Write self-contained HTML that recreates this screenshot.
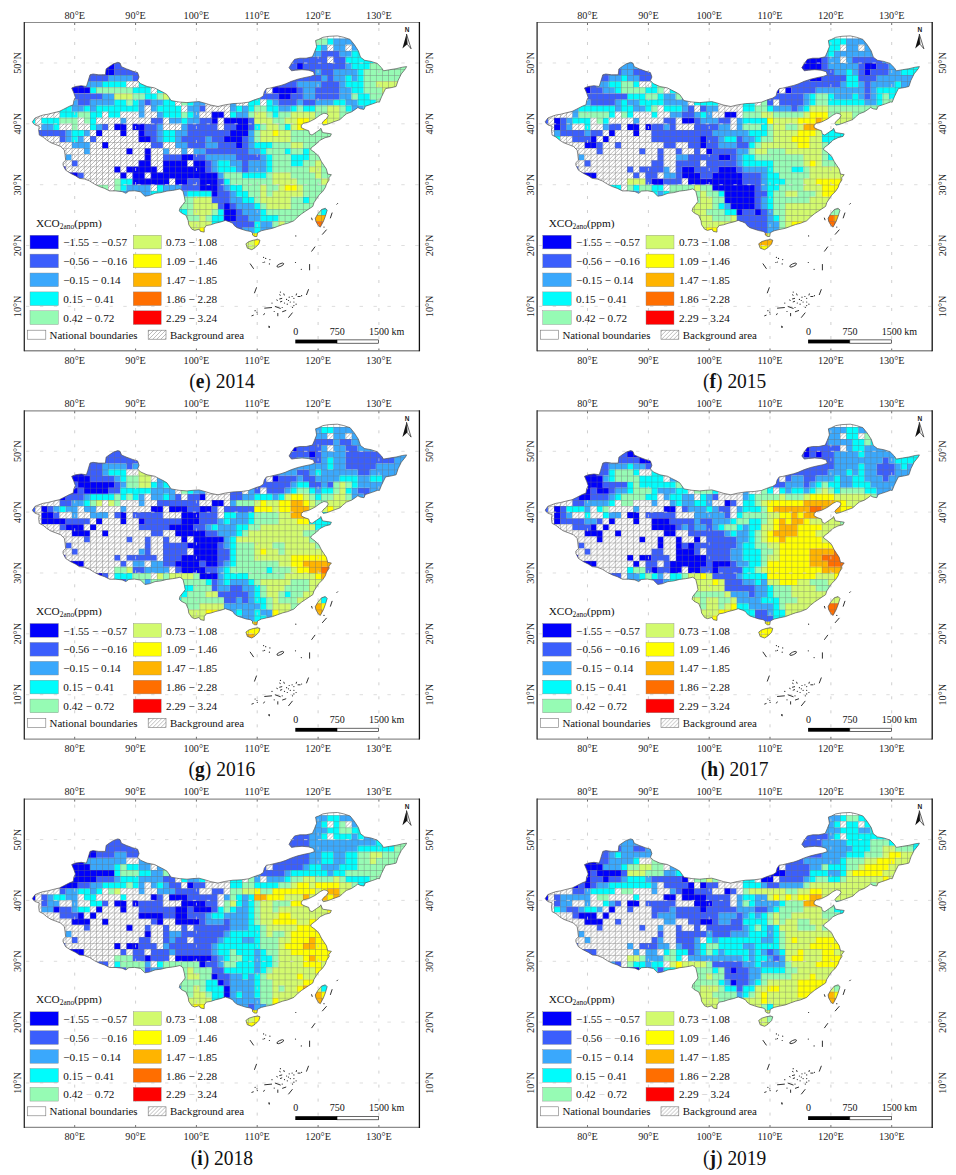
<!DOCTYPE html><html><head><meta charset="utf-8"><style>html,body{margin:0;padding:0;background:#fff;}svg{display:block}</style></head><body>
<svg width="956" height="1175" viewBox="0 0 956 1175">
<defs>
<clipPath id="cl"><polygon points="32.4,121.8 35.1,118.0 38.8,116.5 43.2,115.0 47.6,114.3 53.4,112.8 59.3,111.4 63.7,109.2 69.5,106.2 73.2,104.8 73.9,100.4 75.4,97.5 73.9,93.1 71.7,88.0 75.4,86.5 81.2,85.7 86.4,86.5 87.8,82.1 90.0,74.8 93.0,74.0 98.8,74.8 105.4,74.8 106.1,68.9 109.1,66.7 113.5,63.8 117.8,62.3 120.0,63.0 121.5,66.7 126.6,68.9 132.5,71.1 137.6,72.6 139.1,77.0 137.6,80.6 140.5,83.6 147.1,86.5 154.5,87.9 158.8,90.1 163.2,92.3 166.9,94.5 170.0,98.9 171.1,100.6 179.1,102.0 187.0,102.6 193.0,102.0 199.0,101.6 204.9,103.2 210.9,105.1 218.0,106.5 224.6,104.9 232.9,103.6 241.3,103.2 248.6,102.2 253.8,100.1 260.1,98.0 263.3,95.9 264.3,91.7 266.4,88.6 269.5,88.2 274.8,86.9 281.0,85.4 285.2,84.0 291.5,81.3 297.8,79.2 304.0,77.7 310.3,76.4 314.5,75.0 313.5,71.8 308.2,70.2 302.0,69.7 295.7,70.2 291.5,70.8 289.0,67.7 291.5,63.5 294.6,59.3 299.9,58.2 306.1,58.2 312.4,56.8 314.5,52.0 316.6,46.7 315.6,40.5 318.7,39.4 322.9,37.3 329.2,36.3 337.5,35.9 343.8,37.3 350.1,39.4 354.3,44.6 358.4,50.9 360.5,57.2 364.7,60.3 371.0,61.4 377.3,63.5 381.5,67.7 383.5,70.8 389.8,69.7 396.1,68.7 402.4,67.2 406.6,66.6 405.5,68.7 401.3,73.9 398.2,80.2 396.1,86.5 391.9,87.5 385.6,88.6 383.5,92.8 381.5,96.9 379.4,102.2 377.9,101.9 372.8,103.8 365.3,106.3 364.0,109.4 360.3,108.8 357.8,107.5 355.3,109.4 351.5,111.9 346.5,113.8 342.7,116.9 340.2,119.5 335.2,121.3 330.2,123.2 326.4,124.5 323.3,125.1 322.0,123.2 323.9,120.7 326.4,118.8 328.3,115.7 327.0,113.8 323.9,113.2 320.1,115.1 315.1,118.8 308.8,122.0 303.8,123.2 301.3,125.1 301.3,127.6 305.1,129.5 308.8,130.8 309.5,133.9 312.0,135.1 316.4,132.0 320.1,129.5 320.8,128.2 322.6,132.6 327.6,133.3 331.4,133.9 330.2,136.4 325.1,137.7 320.1,140.2 316.4,143.9 311.3,147.7 310.7,149.6 315.1,152.7 318.9,156.5 321.4,161.5 323.9,165.3 326.4,169.0 327.7,174.1 331.4,174.7 328.9,177.8 329.1,180.0 326.6,183.8 325.3,187.5 322.8,191.3 319.0,195.1 316.5,198.8 314.0,202.6 312.8,206.4 309.0,208.9 305.2,211.4 301.5,213.9 297.7,217.0 293.9,220.8 287.7,223.3 282.6,224.6 277.6,226.4 272.6,228.3 266.3,229.6 261.3,230.8 257.5,232.7 256.9,236.5 254.7,236.5 252.5,235.0 252.5,232.8 250.3,231.4 245.9,230.6 241.5,229.2 237.1,227.7 234.2,225.5 232.8,223.3 229.8,221.9 225.4,220.4 221.0,221.9 215.2,223.3 210.8,224.8 206.4,225.5 204.2,228.4 204.2,232.1 200.5,231.4 199.1,229.2 194.7,230.4 191.8,229.2 188.8,224.8 188.1,220.4 185.9,215.3 181.5,213.1 179.3,210.9 180.0,208.0 183.0,204.3 185.2,201.4 184.4,197.0 183.0,191.1 180.0,188.9 177.1,189.6 172.7,190.4 166.9,191.1 161.0,192.6 155.1,193.3 149.3,195.5 144.9,196.2 140.5,191.8 134.6,190.8 128.8,191.1 125.9,193.3 122.1,191.6 115.9,190.9 109.6,190.9 104.6,188.4 99.5,186.6 94.5,184.1 89.5,180.9 84.5,179.0 79.5,178.4 75.7,175.9 70.7,173.4 65.7,170.2 64.4,167.7 63.1,165.2 63.1,162.7 65.7,160.2 65.0,154.6 64.4,150.2 60.6,146.4 55.6,144.5 50.6,142.6 46.8,140.1 43.1,137.0 39.3,135.1 38.7,130.1 39.3,126.3 35.5,125.1 33.6,123.8"/><polygon points="245.9,243.8 248.9,241.6 253.3,240.2 257.6,239.4 260.0,240.2 258.8,244.0 255.0,247.8 251.8,249.7 247.4,248.2"/><polygon points="325.3,208.2 327.2,210.1 325.3,216.4 323.4,221.4 320.3,227.1 318.4,225.8 315.9,221.4 315.3,218.3 317.8,213.9 321.5,209.5"/></clipPath>
<pattern id="cg" patternUnits="userSpaceOnUse" x="29.06" y="38.61" width="6.085" height="6.085"><path d="M0 0H6.085M0 0V6.085" stroke="#6e6e6e" stroke-opacity="0.75" stroke-width="0.9" fill="none"/></pattern>
<pattern id="hatch" patternUnits="userSpaceOnUse" width="4" height="4"><rect width="4" height="4" fill="#fff"/><path d="M-1 1L1 -1M0 4L4 0M3 5L5 3" stroke="#7a7a7a" stroke-width="0.5"/></pattern>
</defs>
<rect width="956" height="1175" fill="#fff"/>
<g transform="translate(0.0,0.0)">
<g clip-path="url(#cl)">
<path d="M296.80 38.61h6.08v6.08h-6.08zM302.89 38.61h6.08v6.08h-6.08zM333.31 38.61h6.08v6.08h-6.08zM339.40 38.61h6.08v6.08h-6.08zM345.48 38.61h6.08v6.08h-6.08zM351.57 38.61h6.08v6.08h-6.08zM357.65 38.61h6.08v6.08h-6.08zM302.89 44.70h6.08v6.08h-6.08zM308.97 44.70h6.08v6.08h-6.08zM321.14 44.70h6.08v6.08h-6.08zM333.31 44.70h6.08v6.08h-6.08zM339.40 44.70h6.08v6.08h-6.08zM351.57 44.70h6.08v6.08h-6.08zM308.97 50.78h6.08v6.08h-6.08zM315.06 50.78h6.08v6.08h-6.08zM339.40 50.78h6.08v6.08h-6.08zM345.48 50.78h6.08v6.08h-6.08zM345.48 62.95h6.08v6.08h-6.08zM315.06 69.03h6.08v6.08h-6.08zM333.31 69.03h6.08v6.08h-6.08zM339.40 69.03h6.08v6.08h-6.08zM345.48 69.03h6.08v6.08h-6.08zM351.57 69.03h6.08v6.08h-6.08zM108.17 75.12h6.08v6.08h-6.08zM114.25 75.12h6.08v6.08h-6.08zM120.34 75.12h6.08v6.08h-6.08zM126.42 75.12h6.08v6.08h-6.08zM321.14 75.12h6.08v6.08h-6.08zM333.31 75.12h6.08v6.08h-6.08zM339.40 75.12h6.08v6.08h-6.08zM351.57 75.12h6.08v6.08h-6.08zM83.83 81.20h6.08v6.08h-6.08zM89.91 81.20h6.08v6.08h-6.08zM96.00 81.20h6.08v6.08h-6.08zM296.80 81.20h6.08v6.08h-6.08zM302.89 81.20h6.08v6.08h-6.08zM308.97 81.20h6.08v6.08h-6.08zM315.06 81.20h6.08v6.08h-6.08zM339.40 81.20h6.08v6.08h-6.08zM193.36 87.29h6.08v6.08h-6.08zM199.44 87.29h6.08v6.08h-6.08zM205.53 87.29h6.08v6.08h-6.08zM211.61 87.29h6.08v6.08h-6.08zM302.89 87.29h6.08v6.08h-6.08zM308.97 87.29h6.08v6.08h-6.08zM339.40 87.29h6.08v6.08h-6.08zM345.48 87.29h6.08v6.08h-6.08zM102.08 93.38h6.08v6.08h-6.08zM108.17 93.38h6.08v6.08h-6.08zM193.36 93.38h6.08v6.08h-6.08zM199.44 93.38h6.08v6.08h-6.08zM205.53 93.38h6.08v6.08h-6.08zM302.89 93.38h6.08v6.08h-6.08zM308.97 93.38h6.08v6.08h-6.08zM339.40 93.38h6.08v6.08h-6.08zM345.48 93.38h6.08v6.08h-6.08zM65.57 99.46h6.08v6.08h-6.08zM71.66 99.46h6.08v6.08h-6.08zM89.91 99.46h6.08v6.08h-6.08zM96.00 99.46h6.08v6.08h-6.08zM102.08 99.46h6.08v6.08h-6.08zM108.17 99.46h6.08v6.08h-6.08zM138.59 99.46h6.08v6.08h-6.08zM150.76 99.46h6.08v6.08h-6.08zM156.85 99.46h6.08v6.08h-6.08zM193.36 99.46h6.08v6.08h-6.08zM199.44 99.46h6.08v6.08h-6.08zM229.87 99.46h6.08v6.08h-6.08zM272.46 99.46h6.08v6.08h-6.08zM296.80 99.46h6.08v6.08h-6.08zM315.06 99.46h6.08v6.08h-6.08zM321.14 99.46h6.08v6.08h-6.08zM327.23 99.46h6.08v6.08h-6.08zM345.48 99.46h6.08v6.08h-6.08zM351.57 99.46h6.08v6.08h-6.08zM71.66 105.55h6.08v6.08h-6.08zM77.74 105.55h6.08v6.08h-6.08zM89.91 105.55h6.08v6.08h-6.08zM138.59 105.55h6.08v6.08h-6.08zM150.76 105.55h6.08v6.08h-6.08zM187.27 105.55h6.08v6.08h-6.08zM193.36 105.55h6.08v6.08h-6.08zM229.87 105.55h6.08v6.08h-6.08zM242.04 105.55h6.08v6.08h-6.08zM278.55 105.55h6.08v6.08h-6.08zM284.63 105.55h6.08v6.08h-6.08zM351.57 105.55h6.08v6.08h-6.08zM357.65 105.55h6.08v6.08h-6.08zM138.59 111.63h6.08v6.08h-6.08zM156.85 111.63h6.08v6.08h-6.08zM193.36 111.63h6.08v6.08h-6.08zM235.95 111.63h6.08v6.08h-6.08zM242.04 111.63h6.08v6.08h-6.08zM351.57 111.63h6.08v6.08h-6.08zM357.65 111.63h6.08v6.08h-6.08zM363.74 111.63h6.08v6.08h-6.08zM120.34 117.72h6.08v6.08h-6.08zM169.02 117.72h6.08v6.08h-6.08zM175.10 117.72h6.08v6.08h-6.08zM187.27 117.72h6.08v6.08h-6.08zM193.36 117.72h6.08v6.08h-6.08zM357.65 117.72h6.08v6.08h-6.08zM363.74 117.72h6.08v6.08h-6.08zM369.82 117.72h6.08v6.08h-6.08zM41.23 123.80h6.08v6.08h-6.08zM47.32 123.80h6.08v6.08h-6.08zM96.00 123.80h6.08v6.08h-6.08zM156.85 123.80h6.08v6.08h-6.08zM181.19 123.80h6.08v6.08h-6.08zM65.57 129.88h6.08v6.08h-6.08zM83.83 129.88h6.08v6.08h-6.08zM156.85 129.88h6.08v6.08h-6.08zM175.10 129.88h6.08v6.08h-6.08zM181.19 129.88h6.08v6.08h-6.08zM248.12 129.88h6.08v6.08h-6.08zM65.57 135.97h6.08v6.08h-6.08zM77.74 135.97h6.08v6.08h-6.08zM156.85 135.97h6.08v6.08h-6.08zM175.10 135.97h6.08v6.08h-6.08zM205.53 135.97h6.08v6.08h-6.08zM248.12 135.97h6.08v6.08h-6.08zM71.66 142.06h6.08v6.08h-6.08zM77.74 142.06h6.08v6.08h-6.08zM83.83 142.06h6.08v6.08h-6.08zM175.10 142.06h6.08v6.08h-6.08zM181.19 142.06h6.08v6.08h-6.08zM205.53 142.06h6.08v6.08h-6.08zM211.61 142.06h6.08v6.08h-6.08zM248.12 142.06h6.08v6.08h-6.08zM83.83 148.14h6.08v6.08h-6.08zM162.93 148.14h6.08v6.08h-6.08zM181.19 148.14h6.08v6.08h-6.08zM193.36 148.14h6.08v6.08h-6.08zM199.44 148.14h6.08v6.08h-6.08zM248.12 148.14h6.08v6.08h-6.08zM254.21 148.14h6.08v6.08h-6.08zM65.57 154.23h6.08v6.08h-6.08zM205.53 154.23h6.08v6.08h-6.08zM211.61 154.23h6.08v6.08h-6.08zM217.70 154.23h6.08v6.08h-6.08zM223.78 154.23h6.08v6.08h-6.08zM229.87 154.23h6.08v6.08h-6.08zM260.29 154.23h6.08v6.08h-6.08zM211.61 160.31h6.08v6.08h-6.08zM229.87 160.31h6.08v6.08h-6.08zM235.95 160.31h6.08v6.08h-6.08zM248.12 160.31h6.08v6.08h-6.08zM254.21 160.31h6.08v6.08h-6.08zM260.29 160.31h6.08v6.08h-6.08zM211.61 166.39h6.08v6.08h-6.08zM235.95 166.39h6.08v6.08h-6.08zM248.12 166.39h6.08v6.08h-6.08zM254.21 166.39h6.08v6.08h-6.08zM260.29 166.39h6.08v6.08h-6.08zM217.70 172.48h6.08v6.08h-6.08zM126.42 184.65h6.08v6.08h-6.08zM132.51 184.65h6.08v6.08h-6.08zM138.59 184.65h6.08v6.08h-6.08zM144.68 184.65h6.08v6.08h-6.08zM162.93 184.65h6.08v6.08h-6.08zM169.02 184.65h6.08v6.08h-6.08zM175.10 184.65h6.08v6.08h-6.08zM223.78 184.65h6.08v6.08h-6.08zM114.25 190.74h6.08v6.08h-6.08zM120.34 190.74h6.08v6.08h-6.08zM126.42 190.74h6.08v6.08h-6.08zM132.51 190.74h6.08v6.08h-6.08zM138.59 190.74h6.08v6.08h-6.08zM144.68 190.74h6.08v6.08h-6.08zM162.93 190.74h6.08v6.08h-6.08zM169.02 190.74h6.08v6.08h-6.08zM175.10 190.74h6.08v6.08h-6.08zM181.19 190.74h6.08v6.08h-6.08zM229.87 190.74h6.08v6.08h-6.08zM108.17 196.82h6.08v6.08h-6.08zM114.25 196.82h6.08v6.08h-6.08zM120.34 196.82h6.08v6.08h-6.08zM126.42 196.82h6.08v6.08h-6.08zM132.51 196.82h6.08v6.08h-6.08zM138.59 196.82h6.08v6.08h-6.08zM144.68 196.82h6.08v6.08h-6.08zM229.87 196.82h6.08v6.08h-6.08zM235.95 196.82h6.08v6.08h-6.08zM108.17 202.91h6.08v6.08h-6.08zM114.25 202.91h6.08v6.08h-6.08zM120.34 202.91h6.08v6.08h-6.08zM126.42 202.91h6.08v6.08h-6.08zM132.51 202.91h6.08v6.08h-6.08zM138.59 202.91h6.08v6.08h-6.08zM144.68 202.91h6.08v6.08h-6.08zM235.95 202.91h6.08v6.08h-6.08zM242.04 202.91h6.08v6.08h-6.08zM248.12 202.91h6.08v6.08h-6.08zM242.04 208.99h6.08v6.08h-6.08zM248.12 208.99h6.08v6.08h-6.08zM254.21 208.99h6.08v6.08h-6.08zM248.12 215.07h6.08v6.08h-6.08zM254.21 215.07h6.08v6.08h-6.08zM260.29 221.16h6.08v6.08h-6.08zM266.38 221.16h6.08v6.08h-6.08zM242.04 227.25h6.08v6.08h-6.08zM248.12 227.25h6.08v6.08h-6.08zM260.29 227.25h6.08v6.08h-6.08zM266.38 227.25h6.08v6.08h-6.08zM272.46 227.25h6.08v6.08h-6.08zM235.95 233.33h6.08v6.08h-6.08zM242.04 233.33h6.08v6.08h-6.08zM266.38 233.33h6.08v6.08h-6.08zM272.46 233.33h6.08v6.08h-6.08zM278.55 233.33h6.08v6.08h-6.08zM229.87 239.42h6.08v6.08h-6.08zM278.55 239.42h6.08v6.08h-6.08z" fill="#3aa8fc"/>
<path d="M308.97 38.61h6.08v6.08h-6.08zM327.23 38.61h6.08v6.08h-6.08zM363.74 38.61h6.08v6.08h-6.08zM369.82 38.61h6.08v6.08h-6.08zM315.06 44.70h6.08v6.08h-6.08zM357.65 44.70h6.08v6.08h-6.08zM363.74 44.70h6.08v6.08h-6.08zM369.82 44.70h6.08v6.08h-6.08zM375.91 44.70h6.08v6.08h-6.08zM381.99 44.70h6.08v6.08h-6.08zM351.57 50.78h6.08v6.08h-6.08zM357.65 50.78h6.08v6.08h-6.08zM363.74 50.78h6.08v6.08h-6.08zM369.82 50.78h6.08v6.08h-6.08zM375.91 50.78h6.08v6.08h-6.08zM345.48 56.87h6.08v6.08h-6.08zM351.57 56.87h6.08v6.08h-6.08zM357.65 56.87h6.08v6.08h-6.08zM363.74 56.87h6.08v6.08h-6.08zM369.82 56.87h6.08v6.08h-6.08zM351.57 62.95h6.08v6.08h-6.08zM357.65 62.95h6.08v6.08h-6.08zM363.74 62.95h6.08v6.08h-6.08zM357.65 69.03h6.08v6.08h-6.08zM156.85 75.12h6.08v6.08h-6.08zM162.93 75.12h6.08v6.08h-6.08zM169.02 75.12h6.08v6.08h-6.08zM345.48 75.12h6.08v6.08h-6.08zM357.65 75.12h6.08v6.08h-6.08zM102.08 81.20h6.08v6.08h-6.08zM108.17 81.20h6.08v6.08h-6.08zM114.25 81.20h6.08v6.08h-6.08zM120.34 81.20h6.08v6.08h-6.08zM138.59 81.20h6.08v6.08h-6.08zM144.68 81.20h6.08v6.08h-6.08zM156.85 81.20h6.08v6.08h-6.08zM162.93 81.20h6.08v6.08h-6.08zM169.02 81.20h6.08v6.08h-6.08zM345.48 81.20h6.08v6.08h-6.08zM351.57 81.20h6.08v6.08h-6.08zM357.65 81.20h6.08v6.08h-6.08zM89.91 87.29h6.08v6.08h-6.08zM132.51 87.29h6.08v6.08h-6.08zM138.59 87.29h6.08v6.08h-6.08zM144.68 87.29h6.08v6.08h-6.08zM156.85 87.29h6.08v6.08h-6.08zM162.93 87.29h6.08v6.08h-6.08zM187.27 87.29h6.08v6.08h-6.08zM351.57 87.29h6.08v6.08h-6.08zM357.65 87.29h6.08v6.08h-6.08zM47.32 93.38h6.08v6.08h-6.08zM53.40 93.38h6.08v6.08h-6.08zM59.49 93.38h6.08v6.08h-6.08zM144.68 93.38h6.08v6.08h-6.08zM150.76 93.38h6.08v6.08h-6.08zM169.02 93.38h6.08v6.08h-6.08zM187.27 93.38h6.08v6.08h-6.08zM248.12 93.38h6.08v6.08h-6.08zM254.21 93.38h6.08v6.08h-6.08zM357.65 93.38h6.08v6.08h-6.08zM363.74 93.38h6.08v6.08h-6.08zM47.32 99.46h6.08v6.08h-6.08zM53.40 99.46h6.08v6.08h-6.08zM59.49 99.46h6.08v6.08h-6.08zM114.25 99.46h6.08v6.08h-6.08zM120.34 99.46h6.08v6.08h-6.08zM132.51 99.46h6.08v6.08h-6.08zM162.93 99.46h6.08v6.08h-6.08zM169.02 99.46h6.08v6.08h-6.08zM187.27 99.46h6.08v6.08h-6.08zM248.12 99.46h6.08v6.08h-6.08zM254.21 99.46h6.08v6.08h-6.08zM266.38 99.46h6.08v6.08h-6.08zM333.31 99.46h6.08v6.08h-6.08zM339.40 99.46h6.08v6.08h-6.08zM357.65 99.46h6.08v6.08h-6.08zM363.74 99.46h6.08v6.08h-6.08zM369.82 99.46h6.08v6.08h-6.08zM53.40 105.55h6.08v6.08h-6.08zM59.49 105.55h6.08v6.08h-6.08zM65.57 105.55h6.08v6.08h-6.08zM83.83 105.55h6.08v6.08h-6.08zM96.00 105.55h6.08v6.08h-6.08zM102.08 105.55h6.08v6.08h-6.08zM108.17 105.55h6.08v6.08h-6.08zM114.25 105.55h6.08v6.08h-6.08zM120.34 105.55h6.08v6.08h-6.08zM126.42 105.55h6.08v6.08h-6.08zM132.51 105.55h6.08v6.08h-6.08zM156.85 105.55h6.08v6.08h-6.08zM162.93 105.55h6.08v6.08h-6.08zM169.02 105.55h6.08v6.08h-6.08zM175.10 105.55h6.08v6.08h-6.08zM235.95 105.55h6.08v6.08h-6.08zM248.12 105.55h6.08v6.08h-6.08zM266.38 105.55h6.08v6.08h-6.08zM272.46 105.55h6.08v6.08h-6.08zM290.72 105.55h6.08v6.08h-6.08zM302.89 105.55h6.08v6.08h-6.08zM308.97 105.55h6.08v6.08h-6.08zM345.48 105.55h6.08v6.08h-6.08zM363.74 105.55h6.08v6.08h-6.08zM369.82 105.55h6.08v6.08h-6.08zM375.91 105.55h6.08v6.08h-6.08zM29.06 111.63h6.08v6.08h-6.08zM59.49 111.63h6.08v6.08h-6.08zM65.57 111.63h6.08v6.08h-6.08zM71.66 111.63h6.08v6.08h-6.08zM89.91 111.63h6.08v6.08h-6.08zM96.00 111.63h6.08v6.08h-6.08zM108.17 111.63h6.08v6.08h-6.08zM114.25 111.63h6.08v6.08h-6.08zM162.93 111.63h6.08v6.08h-6.08zM169.02 111.63h6.08v6.08h-6.08zM175.10 111.63h6.08v6.08h-6.08zM187.27 111.63h6.08v6.08h-6.08zM229.87 111.63h6.08v6.08h-6.08zM272.46 111.63h6.08v6.08h-6.08zM369.82 111.63h6.08v6.08h-6.08zM375.91 111.63h6.08v6.08h-6.08zM381.99 111.63h6.08v6.08h-6.08zM29.06 117.72h6.08v6.08h-6.08zM41.23 117.72h6.08v6.08h-6.08zM47.32 117.72h6.08v6.08h-6.08zM53.40 117.72h6.08v6.08h-6.08zM89.91 117.72h6.08v6.08h-6.08zM181.19 117.72h6.08v6.08h-6.08zM53.40 123.80h6.08v6.08h-6.08zM89.91 123.80h6.08v6.08h-6.08zM254.21 123.80h6.08v6.08h-6.08zM284.63 123.80h6.08v6.08h-6.08zM71.66 129.88h6.08v6.08h-6.08zM77.74 129.88h6.08v6.08h-6.08zM162.93 129.88h6.08v6.08h-6.08zM169.02 129.88h6.08v6.08h-6.08zM71.66 135.97h6.08v6.08h-6.08zM162.93 135.97h6.08v6.08h-6.08zM169.02 135.97h6.08v6.08h-6.08zM254.21 142.06h6.08v6.08h-6.08zM260.29 142.06h6.08v6.08h-6.08zM266.38 142.06h6.08v6.08h-6.08zM260.29 148.14h6.08v6.08h-6.08zM284.63 148.14h6.08v6.08h-6.08zM302.89 148.14h6.08v6.08h-6.08zM266.38 154.23h6.08v6.08h-6.08zM290.72 154.23h6.08v6.08h-6.08zM296.80 154.23h6.08v6.08h-6.08zM302.89 154.23h6.08v6.08h-6.08zM217.70 160.31h6.08v6.08h-6.08zM223.78 160.31h6.08v6.08h-6.08zM266.38 160.31h6.08v6.08h-6.08zM290.72 160.31h6.08v6.08h-6.08zM296.80 160.31h6.08v6.08h-6.08zM217.70 166.39h6.08v6.08h-6.08zM223.78 166.39h6.08v6.08h-6.08zM229.87 166.39h6.08v6.08h-6.08zM266.38 166.39h6.08v6.08h-6.08zM242.04 172.48h6.08v6.08h-6.08zM248.12 172.48h6.08v6.08h-6.08zM254.21 172.48h6.08v6.08h-6.08zM260.29 172.48h6.08v6.08h-6.08zM120.34 178.56h6.08v6.08h-6.08zM126.42 178.56h6.08v6.08h-6.08zM223.78 178.56h6.08v6.08h-6.08zM120.34 184.65h6.08v6.08h-6.08zM156.85 184.65h6.08v6.08h-6.08zM229.87 184.65h6.08v6.08h-6.08zM235.95 184.65h6.08v6.08h-6.08zM150.76 190.74h6.08v6.08h-6.08zM156.85 190.74h6.08v6.08h-6.08zM187.27 190.74h6.08v6.08h-6.08zM193.36 190.74h6.08v6.08h-6.08zM199.44 190.74h6.08v6.08h-6.08zM205.53 190.74h6.08v6.08h-6.08zM235.95 190.74h6.08v6.08h-6.08zM242.04 190.74h6.08v6.08h-6.08zM150.76 196.82h6.08v6.08h-6.08zM156.85 196.82h6.08v6.08h-6.08zM242.04 196.82h6.08v6.08h-6.08zM248.12 196.82h6.08v6.08h-6.08zM302.89 196.82h6.08v6.08h-6.08zM150.76 202.91h6.08v6.08h-6.08zM156.85 202.91h6.08v6.08h-6.08zM254.21 202.91h6.08v6.08h-6.08zM321.14 202.91h6.08v6.08h-6.08zM327.23 202.91h6.08v6.08h-6.08zM333.31 202.91h6.08v6.08h-6.08zM162.93 208.99h6.08v6.08h-6.08zM169.02 208.99h6.08v6.08h-6.08zM175.10 208.99h6.08v6.08h-6.08zM181.19 208.99h6.08v6.08h-6.08zM217.70 208.99h6.08v6.08h-6.08zM260.29 208.99h6.08v6.08h-6.08zM321.14 208.99h6.08v6.08h-6.08zM327.23 208.99h6.08v6.08h-6.08zM333.31 208.99h6.08v6.08h-6.08zM162.93 215.07h6.08v6.08h-6.08zM169.02 215.07h6.08v6.08h-6.08zM175.10 215.07h6.08v6.08h-6.08zM211.61 215.07h6.08v6.08h-6.08zM217.70 215.07h6.08v6.08h-6.08zM260.29 215.07h6.08v6.08h-6.08zM266.38 215.07h6.08v6.08h-6.08zM272.46 215.07h6.08v6.08h-6.08zM162.93 221.16h6.08v6.08h-6.08zM169.02 221.16h6.08v6.08h-6.08zM211.61 221.16h6.08v6.08h-6.08zM217.70 221.16h6.08v6.08h-6.08zM254.21 221.16h6.08v6.08h-6.08zM217.70 227.25h6.08v6.08h-6.08zM254.21 227.25h6.08v6.08h-6.08z" fill="#00fcfc"/>
<path d="M315.06 38.61h6.08v6.08h-6.08zM321.14 38.61h6.08v6.08h-6.08zM381.99 50.78h6.08v6.08h-6.08zM388.08 50.78h6.08v6.08h-6.08zM375.91 56.87h6.08v6.08h-6.08zM381.99 56.87h6.08v6.08h-6.08zM388.08 56.87h6.08v6.08h-6.08zM394.16 56.87h6.08v6.08h-6.08zM400.25 56.87h6.08v6.08h-6.08zM406.33 56.87h6.08v6.08h-6.08zM369.82 62.95h6.08v6.08h-6.08zM375.91 62.95h6.08v6.08h-6.08zM381.99 62.95h6.08v6.08h-6.08zM388.08 62.95h6.08v6.08h-6.08zM394.16 62.95h6.08v6.08h-6.08zM400.25 62.95h6.08v6.08h-6.08zM406.33 62.95h6.08v6.08h-6.08zM363.74 69.03h6.08v6.08h-6.08zM369.82 69.03h6.08v6.08h-6.08zM375.91 69.03h6.08v6.08h-6.08zM381.99 69.03h6.08v6.08h-6.08zM388.08 69.03h6.08v6.08h-6.08zM394.16 69.03h6.08v6.08h-6.08zM400.25 69.03h6.08v6.08h-6.08zM406.33 69.03h6.08v6.08h-6.08zM363.74 75.12h6.08v6.08h-6.08zM369.82 75.12h6.08v6.08h-6.08zM375.91 75.12h6.08v6.08h-6.08zM381.99 75.12h6.08v6.08h-6.08zM388.08 75.12h6.08v6.08h-6.08zM394.16 75.12h6.08v6.08h-6.08zM400.25 75.12h6.08v6.08h-6.08zM406.33 75.12h6.08v6.08h-6.08zM363.74 81.20h6.08v6.08h-6.08zM369.82 81.20h6.08v6.08h-6.08zM400.25 81.20h6.08v6.08h-6.08zM406.33 81.20h6.08v6.08h-6.08zM96.00 87.29h6.08v6.08h-6.08zM102.08 87.29h6.08v6.08h-6.08zM108.17 87.29h6.08v6.08h-6.08zM114.25 87.29h6.08v6.08h-6.08zM120.34 87.29h6.08v6.08h-6.08zM126.42 87.29h6.08v6.08h-6.08zM181.19 87.29h6.08v6.08h-6.08zM363.74 87.29h6.08v6.08h-6.08zM369.82 87.29h6.08v6.08h-6.08zM375.91 87.29h6.08v6.08h-6.08zM400.25 87.29h6.08v6.08h-6.08zM406.33 87.29h6.08v6.08h-6.08zM132.51 93.38h6.08v6.08h-6.08zM138.59 93.38h6.08v6.08h-6.08zM156.85 93.38h6.08v6.08h-6.08zM181.19 93.38h6.08v6.08h-6.08zM351.57 93.38h6.08v6.08h-6.08zM369.82 93.38h6.08v6.08h-6.08zM375.91 93.38h6.08v6.08h-6.08zM381.99 93.38h6.08v6.08h-6.08zM400.25 93.38h6.08v6.08h-6.08zM406.33 93.38h6.08v6.08h-6.08zM126.42 99.46h6.08v6.08h-6.08zM181.19 99.46h6.08v6.08h-6.08zM375.91 99.46h6.08v6.08h-6.08zM381.99 99.46h6.08v6.08h-6.08zM388.08 99.46h6.08v6.08h-6.08zM254.21 105.55h6.08v6.08h-6.08zM260.29 105.55h6.08v6.08h-6.08zM296.80 105.55h6.08v6.08h-6.08zM315.06 105.55h6.08v6.08h-6.08zM321.14 105.55h6.08v6.08h-6.08zM339.40 105.55h6.08v6.08h-6.08zM381.99 105.55h6.08v6.08h-6.08zM388.08 105.55h6.08v6.08h-6.08zM77.74 111.63h6.08v6.08h-6.08zM83.83 111.63h6.08v6.08h-6.08zM181.19 111.63h6.08v6.08h-6.08zM248.12 111.63h6.08v6.08h-6.08zM266.38 111.63h6.08v6.08h-6.08zM278.55 111.63h6.08v6.08h-6.08zM284.63 111.63h6.08v6.08h-6.08zM315.06 111.63h6.08v6.08h-6.08zM321.14 111.63h6.08v6.08h-6.08zM339.40 111.63h6.08v6.08h-6.08zM345.48 111.63h6.08v6.08h-6.08zM59.49 117.72h6.08v6.08h-6.08zM65.57 117.72h6.08v6.08h-6.08zM71.66 117.72h6.08v6.08h-6.08zM83.83 117.72h6.08v6.08h-6.08zM272.46 117.72h6.08v6.08h-6.08zM278.55 117.72h6.08v6.08h-6.08zM339.40 117.72h6.08v6.08h-6.08zM345.48 117.72h6.08v6.08h-6.08zM351.57 117.72h6.08v6.08h-6.08zM71.66 123.80h6.08v6.08h-6.08zM260.29 123.80h6.08v6.08h-6.08zM278.55 123.80h6.08v6.08h-6.08zM308.97 123.80h6.08v6.08h-6.08zM315.06 123.80h6.08v6.08h-6.08zM321.14 123.80h6.08v6.08h-6.08zM327.23 123.80h6.08v6.08h-6.08zM333.31 123.80h6.08v6.08h-6.08zM339.40 123.80h6.08v6.08h-6.08zM345.48 123.80h6.08v6.08h-6.08zM351.57 123.80h6.08v6.08h-6.08zM254.21 129.88h6.08v6.08h-6.08zM290.72 129.88h6.08v6.08h-6.08zM296.80 129.88h6.08v6.08h-6.08zM302.89 129.88h6.08v6.08h-6.08zM308.97 129.88h6.08v6.08h-6.08zM315.06 129.88h6.08v6.08h-6.08zM321.14 129.88h6.08v6.08h-6.08zM327.23 129.88h6.08v6.08h-6.08zM333.31 129.88h6.08v6.08h-6.08zM339.40 129.88h6.08v6.08h-6.08zM254.21 135.97h6.08v6.08h-6.08zM290.72 135.97h6.08v6.08h-6.08zM296.80 135.97h6.08v6.08h-6.08zM302.89 135.97h6.08v6.08h-6.08zM308.97 135.97h6.08v6.08h-6.08zM315.06 135.97h6.08v6.08h-6.08zM321.14 135.97h6.08v6.08h-6.08zM327.23 135.97h6.08v6.08h-6.08zM333.31 135.97h6.08v6.08h-6.08zM339.40 135.97h6.08v6.08h-6.08zM272.46 142.06h6.08v6.08h-6.08zM278.55 142.06h6.08v6.08h-6.08zM284.63 142.06h6.08v6.08h-6.08zM302.89 142.06h6.08v6.08h-6.08zM308.97 142.06h6.08v6.08h-6.08zM315.06 142.06h6.08v6.08h-6.08zM321.14 142.06h6.08v6.08h-6.08zM327.23 142.06h6.08v6.08h-6.08zM333.31 142.06h6.08v6.08h-6.08zM339.40 142.06h6.08v6.08h-6.08zM266.38 148.14h6.08v6.08h-6.08zM272.46 148.14h6.08v6.08h-6.08zM278.55 148.14h6.08v6.08h-6.08zM290.72 148.14h6.08v6.08h-6.08zM296.80 148.14h6.08v6.08h-6.08zM308.97 148.14h6.08v6.08h-6.08zM315.06 148.14h6.08v6.08h-6.08zM321.14 148.14h6.08v6.08h-6.08zM327.23 148.14h6.08v6.08h-6.08zM333.31 148.14h6.08v6.08h-6.08zM272.46 154.23h6.08v6.08h-6.08zM278.55 154.23h6.08v6.08h-6.08zM284.63 154.23h6.08v6.08h-6.08zM308.97 154.23h6.08v6.08h-6.08zM315.06 154.23h6.08v6.08h-6.08zM321.14 154.23h6.08v6.08h-6.08zM327.23 154.23h6.08v6.08h-6.08zM333.31 154.23h6.08v6.08h-6.08zM272.46 160.31h6.08v6.08h-6.08zM278.55 160.31h6.08v6.08h-6.08zM284.63 160.31h6.08v6.08h-6.08zM302.89 160.31h6.08v6.08h-6.08zM308.97 160.31h6.08v6.08h-6.08zM321.14 160.31h6.08v6.08h-6.08zM327.23 160.31h6.08v6.08h-6.08zM333.31 160.31h6.08v6.08h-6.08zM272.46 166.39h6.08v6.08h-6.08zM278.55 166.39h6.08v6.08h-6.08zM284.63 166.39h6.08v6.08h-6.08zM290.72 166.39h6.08v6.08h-6.08zM296.80 166.39h6.08v6.08h-6.08zM302.89 166.39h6.08v6.08h-6.08zM321.14 166.39h6.08v6.08h-6.08zM327.23 166.39h6.08v6.08h-6.08zM333.31 166.39h6.08v6.08h-6.08zM223.78 172.48h6.08v6.08h-6.08zM229.87 172.48h6.08v6.08h-6.08zM235.95 172.48h6.08v6.08h-6.08zM266.38 172.48h6.08v6.08h-6.08zM290.72 172.48h6.08v6.08h-6.08zM296.80 172.48h6.08v6.08h-6.08zM302.89 172.48h6.08v6.08h-6.08zM308.97 172.48h6.08v6.08h-6.08zM321.14 172.48h6.08v6.08h-6.08zM327.23 172.48h6.08v6.08h-6.08zM333.31 172.48h6.08v6.08h-6.08zM114.25 178.56h6.08v6.08h-6.08zM229.87 178.56h6.08v6.08h-6.08zM235.95 178.56h6.08v6.08h-6.08zM242.04 178.56h6.08v6.08h-6.08zM248.12 178.56h6.08v6.08h-6.08zM254.21 178.56h6.08v6.08h-6.08zM260.29 178.56h6.08v6.08h-6.08zM266.38 178.56h6.08v6.08h-6.08zM296.80 178.56h6.08v6.08h-6.08zM302.89 178.56h6.08v6.08h-6.08zM308.97 178.56h6.08v6.08h-6.08zM315.06 178.56h6.08v6.08h-6.08zM96.00 184.65h6.08v6.08h-6.08zM102.08 184.65h6.08v6.08h-6.08zM114.25 184.65h6.08v6.08h-6.08zM242.04 184.65h6.08v6.08h-6.08zM248.12 184.65h6.08v6.08h-6.08zM254.21 184.65h6.08v6.08h-6.08zM266.38 184.65h6.08v6.08h-6.08zM272.46 184.65h6.08v6.08h-6.08zM302.89 184.65h6.08v6.08h-6.08zM308.97 184.65h6.08v6.08h-6.08zM315.06 184.65h6.08v6.08h-6.08zM321.14 184.65h6.08v6.08h-6.08zM327.23 184.65h6.08v6.08h-6.08zM333.31 184.65h6.08v6.08h-6.08zM89.91 190.74h6.08v6.08h-6.08zM96.00 190.74h6.08v6.08h-6.08zM102.08 190.74h6.08v6.08h-6.08zM248.12 190.74h6.08v6.08h-6.08zM254.21 190.74h6.08v6.08h-6.08zM266.38 190.74h6.08v6.08h-6.08zM302.89 190.74h6.08v6.08h-6.08zM308.97 190.74h6.08v6.08h-6.08zM315.06 190.74h6.08v6.08h-6.08zM321.14 190.74h6.08v6.08h-6.08zM327.23 190.74h6.08v6.08h-6.08zM333.31 190.74h6.08v6.08h-6.08zM83.83 196.82h6.08v6.08h-6.08zM89.91 196.82h6.08v6.08h-6.08zM96.00 196.82h6.08v6.08h-6.08zM102.08 196.82h6.08v6.08h-6.08zM162.93 196.82h6.08v6.08h-6.08zM169.02 196.82h6.08v6.08h-6.08zM175.10 196.82h6.08v6.08h-6.08zM181.19 196.82h6.08v6.08h-6.08zM187.27 196.82h6.08v6.08h-6.08zM254.21 196.82h6.08v6.08h-6.08zM290.72 196.82h6.08v6.08h-6.08zM296.80 196.82h6.08v6.08h-6.08zM308.97 196.82h6.08v6.08h-6.08zM315.06 196.82h6.08v6.08h-6.08zM321.14 196.82h6.08v6.08h-6.08zM327.23 196.82h6.08v6.08h-6.08zM333.31 196.82h6.08v6.08h-6.08zM162.93 202.91h6.08v6.08h-6.08zM169.02 202.91h6.08v6.08h-6.08zM175.10 202.91h6.08v6.08h-6.08zM181.19 202.91h6.08v6.08h-6.08zM187.27 202.91h6.08v6.08h-6.08zM260.29 202.91h6.08v6.08h-6.08zM290.72 202.91h6.08v6.08h-6.08zM296.80 202.91h6.08v6.08h-6.08zM302.89 202.91h6.08v6.08h-6.08zM308.97 202.91h6.08v6.08h-6.08zM315.06 202.91h6.08v6.08h-6.08zM187.27 208.99h6.08v6.08h-6.08zM211.61 208.99h6.08v6.08h-6.08zM266.38 208.99h6.08v6.08h-6.08zM272.46 208.99h6.08v6.08h-6.08zM278.55 208.99h6.08v6.08h-6.08zM284.63 208.99h6.08v6.08h-6.08zM290.72 208.99h6.08v6.08h-6.08zM296.80 208.99h6.08v6.08h-6.08zM302.89 208.99h6.08v6.08h-6.08zM308.97 208.99h6.08v6.08h-6.08zM315.06 208.99h6.08v6.08h-6.08zM181.19 215.07h6.08v6.08h-6.08zM187.27 215.07h6.08v6.08h-6.08zM193.36 215.07h6.08v6.08h-6.08zM205.53 215.07h6.08v6.08h-6.08zM278.55 215.07h6.08v6.08h-6.08zM284.63 215.07h6.08v6.08h-6.08zM290.72 215.07h6.08v6.08h-6.08zM296.80 215.07h6.08v6.08h-6.08zM302.89 215.07h6.08v6.08h-6.08zM272.46 221.16h6.08v6.08h-6.08zM284.63 221.16h6.08v6.08h-6.08zM290.72 221.16h6.08v6.08h-6.08zM296.80 221.16h6.08v6.08h-6.08zM302.89 221.16h6.08v6.08h-6.08zM284.63 227.25h6.08v6.08h-6.08zM290.72 227.25h6.08v6.08h-6.08zM296.80 227.25h6.08v6.08h-6.08zM284.63 233.33h6.08v6.08h-6.08zM290.72 233.33h6.08v6.08h-6.08zM296.80 233.33h6.08v6.08h-6.08z" fill="#96fbb4"/>
<path d="M278.55 44.70h6.08v6.08h-6.08zM284.63 44.70h6.08v6.08h-6.08zM290.72 44.70h6.08v6.08h-6.08zM296.80 44.70h6.08v6.08h-6.08zM114.25 50.78h6.08v6.08h-6.08zM120.34 50.78h6.08v6.08h-6.08zM126.42 50.78h6.08v6.08h-6.08zM272.46 50.78h6.08v6.08h-6.08zM278.55 50.78h6.08v6.08h-6.08zM284.63 50.78h6.08v6.08h-6.08zM290.72 50.78h6.08v6.08h-6.08zM296.80 50.78h6.08v6.08h-6.08zM302.89 50.78h6.08v6.08h-6.08zM321.14 50.78h6.08v6.08h-6.08zM327.23 50.78h6.08v6.08h-6.08zM333.31 50.78h6.08v6.08h-6.08zM114.25 56.87h6.08v6.08h-6.08zM120.34 56.87h6.08v6.08h-6.08zM126.42 56.87h6.08v6.08h-6.08zM132.51 56.87h6.08v6.08h-6.08zM138.59 56.87h6.08v6.08h-6.08zM272.46 56.87h6.08v6.08h-6.08zM278.55 56.87h6.08v6.08h-6.08zM284.63 56.87h6.08v6.08h-6.08zM290.72 56.87h6.08v6.08h-6.08zM296.80 56.87h6.08v6.08h-6.08zM302.89 56.87h6.08v6.08h-6.08zM308.97 56.87h6.08v6.08h-6.08zM315.06 56.87h6.08v6.08h-6.08zM321.14 56.87h6.08v6.08h-6.08zM333.31 56.87h6.08v6.08h-6.08zM339.40 56.87h6.08v6.08h-6.08zM71.66 62.95h6.08v6.08h-6.08zM77.74 62.95h6.08v6.08h-6.08zM83.83 62.95h6.08v6.08h-6.08zM89.91 62.95h6.08v6.08h-6.08zM114.25 62.95h6.08v6.08h-6.08zM120.34 62.95h6.08v6.08h-6.08zM126.42 62.95h6.08v6.08h-6.08zM132.51 62.95h6.08v6.08h-6.08zM138.59 62.95h6.08v6.08h-6.08zM144.68 62.95h6.08v6.08h-6.08zM272.46 62.95h6.08v6.08h-6.08zM278.55 62.95h6.08v6.08h-6.08zM284.63 62.95h6.08v6.08h-6.08zM290.72 62.95h6.08v6.08h-6.08zM302.89 62.95h6.08v6.08h-6.08zM308.97 62.95h6.08v6.08h-6.08zM315.06 62.95h6.08v6.08h-6.08zM321.14 62.95h6.08v6.08h-6.08zM327.23 62.95h6.08v6.08h-6.08zM333.31 62.95h6.08v6.08h-6.08zM339.40 62.95h6.08v6.08h-6.08zM71.66 69.03h6.08v6.08h-6.08zM77.74 69.03h6.08v6.08h-6.08zM83.83 69.03h6.08v6.08h-6.08zM89.91 69.03h6.08v6.08h-6.08zM96.00 69.03h6.08v6.08h-6.08zM114.25 69.03h6.08v6.08h-6.08zM120.34 69.03h6.08v6.08h-6.08zM126.42 69.03h6.08v6.08h-6.08zM132.51 69.03h6.08v6.08h-6.08zM138.59 69.03h6.08v6.08h-6.08zM144.68 69.03h6.08v6.08h-6.08zM266.38 69.03h6.08v6.08h-6.08zM272.46 69.03h6.08v6.08h-6.08zM278.55 69.03h6.08v6.08h-6.08zM284.63 69.03h6.08v6.08h-6.08zM290.72 69.03h6.08v6.08h-6.08zM296.80 69.03h6.08v6.08h-6.08zM302.89 69.03h6.08v6.08h-6.08zM308.97 69.03h6.08v6.08h-6.08zM321.14 69.03h6.08v6.08h-6.08zM327.23 69.03h6.08v6.08h-6.08zM77.74 75.12h6.08v6.08h-6.08zM83.83 75.12h6.08v6.08h-6.08zM89.91 75.12h6.08v6.08h-6.08zM96.00 75.12h6.08v6.08h-6.08zM102.08 75.12h6.08v6.08h-6.08zM132.51 75.12h6.08v6.08h-6.08zM138.59 75.12h6.08v6.08h-6.08zM144.68 75.12h6.08v6.08h-6.08zM248.12 75.12h6.08v6.08h-6.08zM254.21 75.12h6.08v6.08h-6.08zM260.29 75.12h6.08v6.08h-6.08zM266.38 75.12h6.08v6.08h-6.08zM272.46 75.12h6.08v6.08h-6.08zM278.55 75.12h6.08v6.08h-6.08zM284.63 75.12h6.08v6.08h-6.08zM290.72 75.12h6.08v6.08h-6.08zM296.80 75.12h6.08v6.08h-6.08zM302.89 75.12h6.08v6.08h-6.08zM308.97 75.12h6.08v6.08h-6.08zM315.06 75.12h6.08v6.08h-6.08zM327.23 75.12h6.08v6.08h-6.08zM248.12 81.20h6.08v6.08h-6.08zM254.21 81.20h6.08v6.08h-6.08zM260.29 81.20h6.08v6.08h-6.08zM278.55 81.20h6.08v6.08h-6.08zM284.63 81.20h6.08v6.08h-6.08zM290.72 81.20h6.08v6.08h-6.08zM321.14 81.20h6.08v6.08h-6.08zM327.23 81.20h6.08v6.08h-6.08zM333.31 81.20h6.08v6.08h-6.08zM248.12 87.29h6.08v6.08h-6.08zM254.21 87.29h6.08v6.08h-6.08zM260.29 87.29h6.08v6.08h-6.08zM296.80 87.29h6.08v6.08h-6.08zM315.06 87.29h6.08v6.08h-6.08zM321.14 87.29h6.08v6.08h-6.08zM327.23 87.29h6.08v6.08h-6.08zM333.31 87.29h6.08v6.08h-6.08zM65.57 93.38h6.08v6.08h-6.08zM71.66 93.38h6.08v6.08h-6.08zM77.74 93.38h6.08v6.08h-6.08zM83.83 93.38h6.08v6.08h-6.08zM89.91 93.38h6.08v6.08h-6.08zM96.00 93.38h6.08v6.08h-6.08zM260.29 93.38h6.08v6.08h-6.08zM266.38 93.38h6.08v6.08h-6.08zM272.46 93.38h6.08v6.08h-6.08zM290.72 93.38h6.08v6.08h-6.08zM296.80 93.38h6.08v6.08h-6.08zM315.06 93.38h6.08v6.08h-6.08zM321.14 93.38h6.08v6.08h-6.08zM327.23 93.38h6.08v6.08h-6.08zM333.31 93.38h6.08v6.08h-6.08zM77.74 99.46h6.08v6.08h-6.08zM83.83 99.46h6.08v6.08h-6.08zM144.68 99.46h6.08v6.08h-6.08zM278.55 99.46h6.08v6.08h-6.08zM284.63 99.46h6.08v6.08h-6.08zM290.72 99.46h6.08v6.08h-6.08zM302.89 99.46h6.08v6.08h-6.08zM308.97 99.46h6.08v6.08h-6.08zM199.44 105.55h6.08v6.08h-6.08zM150.76 117.72h6.08v6.08h-6.08zM156.85 117.72h6.08v6.08h-6.08zM199.44 117.72h6.08v6.08h-6.08zM205.53 117.72h6.08v6.08h-6.08zM248.12 117.72h6.08v6.08h-6.08zM102.08 123.80h6.08v6.08h-6.08zM144.68 123.80h6.08v6.08h-6.08zM150.76 123.80h6.08v6.08h-6.08zM187.27 123.80h6.08v6.08h-6.08zM193.36 123.80h6.08v6.08h-6.08zM199.44 123.80h6.08v6.08h-6.08zM205.53 123.80h6.08v6.08h-6.08zM211.61 123.80h6.08v6.08h-6.08zM223.78 123.80h6.08v6.08h-6.08zM229.87 123.80h6.08v6.08h-6.08zM248.12 123.80h6.08v6.08h-6.08zM35.15 129.88h6.08v6.08h-6.08zM41.23 129.88h6.08v6.08h-6.08zM47.32 129.88h6.08v6.08h-6.08zM53.40 129.88h6.08v6.08h-6.08zM59.49 129.88h6.08v6.08h-6.08zM144.68 129.88h6.08v6.08h-6.08zM150.76 129.88h6.08v6.08h-6.08zM187.27 129.88h6.08v6.08h-6.08zM193.36 129.88h6.08v6.08h-6.08zM199.44 129.88h6.08v6.08h-6.08zM205.53 129.88h6.08v6.08h-6.08zM211.61 129.88h6.08v6.08h-6.08zM217.70 129.88h6.08v6.08h-6.08zM223.78 129.88h6.08v6.08h-6.08zM29.06 135.97h6.08v6.08h-6.08zM35.15 135.97h6.08v6.08h-6.08zM59.49 135.97h6.08v6.08h-6.08zM89.91 135.97h6.08v6.08h-6.08zM150.76 135.97h6.08v6.08h-6.08zM181.19 135.97h6.08v6.08h-6.08zM187.27 135.97h6.08v6.08h-6.08zM193.36 135.97h6.08v6.08h-6.08zM199.44 135.97h6.08v6.08h-6.08zM211.61 135.97h6.08v6.08h-6.08zM217.70 135.97h6.08v6.08h-6.08zM242.04 135.97h6.08v6.08h-6.08zM29.06 142.06h6.08v6.08h-6.08zM150.76 142.06h6.08v6.08h-6.08zM156.85 142.06h6.08v6.08h-6.08zM187.27 142.06h6.08v6.08h-6.08zM193.36 142.06h6.08v6.08h-6.08zM199.44 142.06h6.08v6.08h-6.08zM217.70 142.06h6.08v6.08h-6.08zM223.78 142.06h6.08v6.08h-6.08zM229.87 142.06h6.08v6.08h-6.08zM242.04 142.06h6.08v6.08h-6.08zM205.53 148.14h6.08v6.08h-6.08zM211.61 148.14h6.08v6.08h-6.08zM217.70 148.14h6.08v6.08h-6.08zM223.78 148.14h6.08v6.08h-6.08zM229.87 148.14h6.08v6.08h-6.08zM235.95 148.14h6.08v6.08h-6.08zM242.04 148.14h6.08v6.08h-6.08zM162.93 154.23h6.08v6.08h-6.08zM169.02 154.23h6.08v6.08h-6.08zM175.10 154.23h6.08v6.08h-6.08zM193.36 154.23h6.08v6.08h-6.08zM199.44 154.23h6.08v6.08h-6.08zM235.95 154.23h6.08v6.08h-6.08zM242.04 154.23h6.08v6.08h-6.08zM248.12 154.23h6.08v6.08h-6.08zM254.21 154.23h6.08v6.08h-6.08zM71.66 160.31h6.08v6.08h-6.08zM205.53 160.31h6.08v6.08h-6.08zM242.04 160.31h6.08v6.08h-6.08zM205.53 166.39h6.08v6.08h-6.08zM242.04 166.39h6.08v6.08h-6.08zM77.74 172.48h6.08v6.08h-6.08zM187.27 178.56h6.08v6.08h-6.08zM193.36 178.56h6.08v6.08h-6.08zM217.70 178.56h6.08v6.08h-6.08zM181.19 184.65h6.08v6.08h-6.08zM187.27 184.65h6.08v6.08h-6.08zM193.36 184.65h6.08v6.08h-6.08zM217.70 184.65h6.08v6.08h-6.08zM217.70 190.74h6.08v6.08h-6.08zM223.78 190.74h6.08v6.08h-6.08zM211.61 196.82h6.08v6.08h-6.08zM217.70 196.82h6.08v6.08h-6.08zM223.78 196.82h6.08v6.08h-6.08zM217.70 202.91h6.08v6.08h-6.08zM229.87 202.91h6.08v6.08h-6.08zM235.95 208.99h6.08v6.08h-6.08zM235.95 215.07h6.08v6.08h-6.08zM242.04 215.07h6.08v6.08h-6.08zM229.87 221.16h6.08v6.08h-6.08zM235.95 221.16h6.08v6.08h-6.08zM242.04 221.16h6.08v6.08h-6.08zM248.12 221.16h6.08v6.08h-6.08zM223.78 227.25h6.08v6.08h-6.08zM229.87 227.25h6.08v6.08h-6.08zM235.95 227.25h6.08v6.08h-6.08zM217.70 233.33h6.08v6.08h-6.08zM223.78 233.33h6.08v6.08h-6.08zM229.87 233.33h6.08v6.08h-6.08z" fill="#3b5efc"/>
<path d="M327.23 44.70h6.08v6.08h-6.08zM345.48 44.70h6.08v6.08h-6.08zM327.23 56.87h6.08v6.08h-6.08zM150.76 75.12h6.08v6.08h-6.08zM126.42 81.20h6.08v6.08h-6.08zM132.51 81.20h6.08v6.08h-6.08zM150.76 81.20h6.08v6.08h-6.08zM266.38 81.20h6.08v6.08h-6.08zM150.76 87.29h6.08v6.08h-6.08zM229.87 87.29h6.08v6.08h-6.08zM235.95 87.29h6.08v6.08h-6.08zM242.04 87.29h6.08v6.08h-6.08zM266.38 87.29h6.08v6.08h-6.08zM175.10 93.38h6.08v6.08h-6.08zM211.61 93.38h6.08v6.08h-6.08zM217.70 93.38h6.08v6.08h-6.08zM223.78 93.38h6.08v6.08h-6.08zM229.87 93.38h6.08v6.08h-6.08zM235.95 93.38h6.08v6.08h-6.08zM242.04 93.38h6.08v6.08h-6.08zM29.06 99.46h6.08v6.08h-6.08zM35.15 99.46h6.08v6.08h-6.08zM41.23 99.46h6.08v6.08h-6.08zM175.10 99.46h6.08v6.08h-6.08zM205.53 99.46h6.08v6.08h-6.08zM211.61 99.46h6.08v6.08h-6.08zM217.70 99.46h6.08v6.08h-6.08zM223.78 99.46h6.08v6.08h-6.08zM235.95 99.46h6.08v6.08h-6.08zM242.04 99.46h6.08v6.08h-6.08zM260.29 99.46h6.08v6.08h-6.08zM29.06 105.55h6.08v6.08h-6.08zM35.15 105.55h6.08v6.08h-6.08zM41.23 105.55h6.08v6.08h-6.08zM47.32 105.55h6.08v6.08h-6.08zM144.68 105.55h6.08v6.08h-6.08zM181.19 105.55h6.08v6.08h-6.08zM205.53 105.55h6.08v6.08h-6.08zM211.61 105.55h6.08v6.08h-6.08zM217.70 105.55h6.08v6.08h-6.08zM223.78 105.55h6.08v6.08h-6.08zM35.15 111.63h6.08v6.08h-6.08zM41.23 111.63h6.08v6.08h-6.08zM47.32 111.63h6.08v6.08h-6.08zM53.40 111.63h6.08v6.08h-6.08zM102.08 111.63h6.08v6.08h-6.08zM120.34 111.63h6.08v6.08h-6.08zM126.42 111.63h6.08v6.08h-6.08zM132.51 111.63h6.08v6.08h-6.08zM144.68 111.63h6.08v6.08h-6.08zM150.76 111.63h6.08v6.08h-6.08zM199.44 111.63h6.08v6.08h-6.08zM205.53 111.63h6.08v6.08h-6.08zM223.78 111.63h6.08v6.08h-6.08zM35.15 117.72h6.08v6.08h-6.08zM77.74 117.72h6.08v6.08h-6.08zM96.00 117.72h6.08v6.08h-6.08zM102.08 117.72h6.08v6.08h-6.08zM108.17 117.72h6.08v6.08h-6.08zM114.25 117.72h6.08v6.08h-6.08zM126.42 117.72h6.08v6.08h-6.08zM132.51 117.72h6.08v6.08h-6.08zM138.59 117.72h6.08v6.08h-6.08zM144.68 117.72h6.08v6.08h-6.08zM162.93 117.72h6.08v6.08h-6.08zM217.70 117.72h6.08v6.08h-6.08zM29.06 123.80h6.08v6.08h-6.08zM35.15 123.80h6.08v6.08h-6.08zM59.49 123.80h6.08v6.08h-6.08zM65.57 123.80h6.08v6.08h-6.08zM77.74 123.80h6.08v6.08h-6.08zM83.83 123.80h6.08v6.08h-6.08zM108.17 123.80h6.08v6.08h-6.08zM126.42 123.80h6.08v6.08h-6.08zM162.93 123.80h6.08v6.08h-6.08zM169.02 123.80h6.08v6.08h-6.08zM175.10 123.80h6.08v6.08h-6.08zM217.70 123.80h6.08v6.08h-6.08zM29.06 129.88h6.08v6.08h-6.08zM89.91 129.88h6.08v6.08h-6.08zM102.08 129.88h6.08v6.08h-6.08zM108.17 129.88h6.08v6.08h-6.08zM114.25 129.88h6.08v6.08h-6.08zM126.42 129.88h6.08v6.08h-6.08zM132.51 129.88h6.08v6.08h-6.08zM41.23 135.97h6.08v6.08h-6.08zM47.32 135.97h6.08v6.08h-6.08zM53.40 135.97h6.08v6.08h-6.08zM83.83 135.97h6.08v6.08h-6.08zM96.00 135.97h6.08v6.08h-6.08zM102.08 135.97h6.08v6.08h-6.08zM108.17 135.97h6.08v6.08h-6.08zM114.25 135.97h6.08v6.08h-6.08zM120.34 135.97h6.08v6.08h-6.08zM126.42 135.97h6.08v6.08h-6.08zM132.51 135.97h6.08v6.08h-6.08zM35.15 142.06h6.08v6.08h-6.08zM41.23 142.06h6.08v6.08h-6.08zM47.32 142.06h6.08v6.08h-6.08zM53.40 142.06h6.08v6.08h-6.08zM59.49 142.06h6.08v6.08h-6.08zM65.57 142.06h6.08v6.08h-6.08zM89.91 142.06h6.08v6.08h-6.08zM96.00 142.06h6.08v6.08h-6.08zM108.17 142.06h6.08v6.08h-6.08zM114.25 142.06h6.08v6.08h-6.08zM120.34 142.06h6.08v6.08h-6.08zM126.42 142.06h6.08v6.08h-6.08zM132.51 142.06h6.08v6.08h-6.08zM138.59 142.06h6.08v6.08h-6.08zM144.68 142.06h6.08v6.08h-6.08zM162.93 142.06h6.08v6.08h-6.08zM169.02 142.06h6.08v6.08h-6.08zM29.06 148.14h6.08v6.08h-6.08zM35.15 148.14h6.08v6.08h-6.08zM41.23 148.14h6.08v6.08h-6.08zM47.32 148.14h6.08v6.08h-6.08zM53.40 148.14h6.08v6.08h-6.08zM59.49 148.14h6.08v6.08h-6.08zM65.57 148.14h6.08v6.08h-6.08zM71.66 148.14h6.08v6.08h-6.08zM77.74 148.14h6.08v6.08h-6.08zM89.91 148.14h6.08v6.08h-6.08zM96.00 148.14h6.08v6.08h-6.08zM102.08 148.14h6.08v6.08h-6.08zM108.17 148.14h6.08v6.08h-6.08zM114.25 148.14h6.08v6.08h-6.08zM120.34 148.14h6.08v6.08h-6.08zM132.51 148.14h6.08v6.08h-6.08zM138.59 148.14h6.08v6.08h-6.08zM150.76 148.14h6.08v6.08h-6.08zM156.85 148.14h6.08v6.08h-6.08zM169.02 148.14h6.08v6.08h-6.08zM175.10 148.14h6.08v6.08h-6.08zM187.27 148.14h6.08v6.08h-6.08zM35.15 154.23h6.08v6.08h-6.08zM41.23 154.23h6.08v6.08h-6.08zM47.32 154.23h6.08v6.08h-6.08zM53.40 154.23h6.08v6.08h-6.08zM59.49 154.23h6.08v6.08h-6.08zM71.66 154.23h6.08v6.08h-6.08zM77.74 154.23h6.08v6.08h-6.08zM83.83 154.23h6.08v6.08h-6.08zM89.91 154.23h6.08v6.08h-6.08zM96.00 154.23h6.08v6.08h-6.08zM102.08 154.23h6.08v6.08h-6.08zM108.17 154.23h6.08v6.08h-6.08zM114.25 154.23h6.08v6.08h-6.08zM120.34 154.23h6.08v6.08h-6.08zM126.42 154.23h6.08v6.08h-6.08zM132.51 154.23h6.08v6.08h-6.08zM138.59 154.23h6.08v6.08h-6.08zM150.76 154.23h6.08v6.08h-6.08zM156.85 154.23h6.08v6.08h-6.08zM47.32 160.31h6.08v6.08h-6.08zM53.40 160.31h6.08v6.08h-6.08zM59.49 160.31h6.08v6.08h-6.08zM65.57 160.31h6.08v6.08h-6.08zM77.74 160.31h6.08v6.08h-6.08zM83.83 160.31h6.08v6.08h-6.08zM89.91 160.31h6.08v6.08h-6.08zM96.00 160.31h6.08v6.08h-6.08zM102.08 160.31h6.08v6.08h-6.08zM108.17 160.31h6.08v6.08h-6.08zM114.25 160.31h6.08v6.08h-6.08zM120.34 160.31h6.08v6.08h-6.08zM126.42 160.31h6.08v6.08h-6.08zM132.51 160.31h6.08v6.08h-6.08zM150.76 160.31h6.08v6.08h-6.08zM156.85 160.31h6.08v6.08h-6.08zM187.27 160.31h6.08v6.08h-6.08zM65.57 166.39h6.08v6.08h-6.08zM71.66 166.39h6.08v6.08h-6.08zM77.74 166.39h6.08v6.08h-6.08zM83.83 166.39h6.08v6.08h-6.08zM89.91 166.39h6.08v6.08h-6.08zM96.00 166.39h6.08v6.08h-6.08zM102.08 166.39h6.08v6.08h-6.08zM108.17 166.39h6.08v6.08h-6.08zM120.34 166.39h6.08v6.08h-6.08zM156.85 166.39h6.08v6.08h-6.08zM83.83 172.48h6.08v6.08h-6.08zM89.91 172.48h6.08v6.08h-6.08zM96.00 172.48h6.08v6.08h-6.08zM102.08 172.48h6.08v6.08h-6.08zM108.17 172.48h6.08v6.08h-6.08zM114.25 172.48h6.08v6.08h-6.08zM126.42 172.48h6.08v6.08h-6.08zM144.68 172.48h6.08v6.08h-6.08zM77.74 178.56h6.08v6.08h-6.08zM83.83 178.56h6.08v6.08h-6.08zM89.91 178.56h6.08v6.08h-6.08zM96.00 178.56h6.08v6.08h-6.08zM102.08 178.56h6.08v6.08h-6.08zM108.17 178.56h6.08v6.08h-6.08zM169.02 178.56h6.08v6.08h-6.08zM71.66 184.65h6.08v6.08h-6.08zM77.74 184.65h6.08v6.08h-6.08zM83.83 184.65h6.08v6.08h-6.08zM89.91 184.65h6.08v6.08h-6.08zM108.17 184.65h6.08v6.08h-6.08zM150.76 184.65h6.08v6.08h-6.08zM71.66 190.74h6.08v6.08h-6.08zM77.74 190.74h6.08v6.08h-6.08zM83.83 190.74h6.08v6.08h-6.08zM108.17 190.74h6.08v6.08h-6.08z" fill="url(#hatch)"/>
<path d="M96.00 50.78h6.08v6.08h-6.08zM102.08 50.78h6.08v6.08h-6.08zM108.17 50.78h6.08v6.08h-6.08zM89.91 56.87h6.08v6.08h-6.08zM96.00 56.87h6.08v6.08h-6.08zM102.08 56.87h6.08v6.08h-6.08zM108.17 56.87h6.08v6.08h-6.08zM96.00 62.95h6.08v6.08h-6.08zM102.08 62.95h6.08v6.08h-6.08zM108.17 62.95h6.08v6.08h-6.08zM296.80 62.95h6.08v6.08h-6.08zM102.08 69.03h6.08v6.08h-6.08zM108.17 69.03h6.08v6.08h-6.08zM59.49 75.12h6.08v6.08h-6.08zM65.57 75.12h6.08v6.08h-6.08zM71.66 75.12h6.08v6.08h-6.08zM59.49 81.20h6.08v6.08h-6.08zM65.57 81.20h6.08v6.08h-6.08zM71.66 81.20h6.08v6.08h-6.08zM77.74 81.20h6.08v6.08h-6.08zM272.46 81.20h6.08v6.08h-6.08zM59.49 87.29h6.08v6.08h-6.08zM65.57 87.29h6.08v6.08h-6.08zM71.66 87.29h6.08v6.08h-6.08zM77.74 87.29h6.08v6.08h-6.08zM83.83 87.29h6.08v6.08h-6.08zM272.46 87.29h6.08v6.08h-6.08zM278.55 87.29h6.08v6.08h-6.08zM284.63 87.29h6.08v6.08h-6.08zM290.72 87.29h6.08v6.08h-6.08zM278.55 93.38h6.08v6.08h-6.08zM284.63 93.38h6.08v6.08h-6.08zM211.61 111.63h6.08v6.08h-6.08zM217.70 111.63h6.08v6.08h-6.08zM211.61 117.72h6.08v6.08h-6.08zM223.78 117.72h6.08v6.08h-6.08zM229.87 117.72h6.08v6.08h-6.08zM235.95 117.72h6.08v6.08h-6.08zM242.04 117.72h6.08v6.08h-6.08zM114.25 123.80h6.08v6.08h-6.08zM120.34 123.80h6.08v6.08h-6.08zM132.51 123.80h6.08v6.08h-6.08zM138.59 123.80h6.08v6.08h-6.08zM235.95 123.80h6.08v6.08h-6.08zM242.04 123.80h6.08v6.08h-6.08zM96.00 129.88h6.08v6.08h-6.08zM120.34 129.88h6.08v6.08h-6.08zM138.59 129.88h6.08v6.08h-6.08zM229.87 129.88h6.08v6.08h-6.08zM235.95 129.88h6.08v6.08h-6.08zM242.04 129.88h6.08v6.08h-6.08zM138.59 135.97h6.08v6.08h-6.08zM144.68 135.97h6.08v6.08h-6.08zM223.78 135.97h6.08v6.08h-6.08zM229.87 135.97h6.08v6.08h-6.08zM235.95 135.97h6.08v6.08h-6.08zM102.08 142.06h6.08v6.08h-6.08zM235.95 142.06h6.08v6.08h-6.08zM126.42 148.14h6.08v6.08h-6.08zM144.68 148.14h6.08v6.08h-6.08zM144.68 154.23h6.08v6.08h-6.08zM181.19 154.23h6.08v6.08h-6.08zM187.27 154.23h6.08v6.08h-6.08zM138.59 160.31h6.08v6.08h-6.08zM144.68 160.31h6.08v6.08h-6.08zM162.93 160.31h6.08v6.08h-6.08zM169.02 160.31h6.08v6.08h-6.08zM175.10 160.31h6.08v6.08h-6.08zM181.19 160.31h6.08v6.08h-6.08zM193.36 160.31h6.08v6.08h-6.08zM199.44 160.31h6.08v6.08h-6.08zM47.32 166.39h6.08v6.08h-6.08zM53.40 166.39h6.08v6.08h-6.08zM59.49 166.39h6.08v6.08h-6.08zM114.25 166.39h6.08v6.08h-6.08zM126.42 166.39h6.08v6.08h-6.08zM132.51 166.39h6.08v6.08h-6.08zM138.59 166.39h6.08v6.08h-6.08zM144.68 166.39h6.08v6.08h-6.08zM150.76 166.39h6.08v6.08h-6.08zM162.93 166.39h6.08v6.08h-6.08zM169.02 166.39h6.08v6.08h-6.08zM175.10 166.39h6.08v6.08h-6.08zM181.19 166.39h6.08v6.08h-6.08zM187.27 166.39h6.08v6.08h-6.08zM193.36 166.39h6.08v6.08h-6.08zM199.44 166.39h6.08v6.08h-6.08zM47.32 172.48h6.08v6.08h-6.08zM53.40 172.48h6.08v6.08h-6.08zM59.49 172.48h6.08v6.08h-6.08zM65.57 172.48h6.08v6.08h-6.08zM71.66 172.48h6.08v6.08h-6.08zM120.34 172.48h6.08v6.08h-6.08zM132.51 172.48h6.08v6.08h-6.08zM138.59 172.48h6.08v6.08h-6.08zM150.76 172.48h6.08v6.08h-6.08zM156.85 172.48h6.08v6.08h-6.08zM162.93 172.48h6.08v6.08h-6.08zM169.02 172.48h6.08v6.08h-6.08zM175.10 172.48h6.08v6.08h-6.08zM181.19 172.48h6.08v6.08h-6.08zM187.27 172.48h6.08v6.08h-6.08zM193.36 172.48h6.08v6.08h-6.08zM199.44 172.48h6.08v6.08h-6.08zM205.53 172.48h6.08v6.08h-6.08zM211.61 172.48h6.08v6.08h-6.08zM47.32 178.56h6.08v6.08h-6.08zM53.40 178.56h6.08v6.08h-6.08zM59.49 178.56h6.08v6.08h-6.08zM65.57 178.56h6.08v6.08h-6.08zM71.66 178.56h6.08v6.08h-6.08zM132.51 178.56h6.08v6.08h-6.08zM138.59 178.56h6.08v6.08h-6.08zM144.68 178.56h6.08v6.08h-6.08zM150.76 178.56h6.08v6.08h-6.08zM156.85 178.56h6.08v6.08h-6.08zM162.93 178.56h6.08v6.08h-6.08zM175.10 178.56h6.08v6.08h-6.08zM181.19 178.56h6.08v6.08h-6.08zM199.44 178.56h6.08v6.08h-6.08zM205.53 178.56h6.08v6.08h-6.08zM211.61 178.56h6.08v6.08h-6.08zM53.40 184.65h6.08v6.08h-6.08zM59.49 184.65h6.08v6.08h-6.08zM65.57 184.65h6.08v6.08h-6.08zM199.44 184.65h6.08v6.08h-6.08zM205.53 184.65h6.08v6.08h-6.08zM211.61 184.65h6.08v6.08h-6.08zM211.61 190.74h6.08v6.08h-6.08zM223.78 202.91h6.08v6.08h-6.08zM223.78 208.99h6.08v6.08h-6.08zM229.87 208.99h6.08v6.08h-6.08zM223.78 215.07h6.08v6.08h-6.08zM229.87 215.07h6.08v6.08h-6.08zM223.78 221.16h6.08v6.08h-6.08z" fill="#0000fc"/>
<path d="M175.10 81.20h6.08v6.08h-6.08zM375.91 81.20h6.08v6.08h-6.08zM381.99 81.20h6.08v6.08h-6.08zM388.08 81.20h6.08v6.08h-6.08zM394.16 81.20h6.08v6.08h-6.08zM169.02 87.29h6.08v6.08h-6.08zM175.10 87.29h6.08v6.08h-6.08zM381.99 87.29h6.08v6.08h-6.08zM388.08 87.29h6.08v6.08h-6.08zM394.16 87.29h6.08v6.08h-6.08zM114.25 93.38h6.08v6.08h-6.08zM120.34 93.38h6.08v6.08h-6.08zM126.42 93.38h6.08v6.08h-6.08zM162.93 93.38h6.08v6.08h-6.08zM388.08 93.38h6.08v6.08h-6.08zM394.16 93.38h6.08v6.08h-6.08zM327.23 105.55h6.08v6.08h-6.08zM333.31 105.55h6.08v6.08h-6.08zM254.21 111.63h6.08v6.08h-6.08zM260.29 111.63h6.08v6.08h-6.08zM290.72 111.63h6.08v6.08h-6.08zM296.80 111.63h6.08v6.08h-6.08zM302.89 111.63h6.08v6.08h-6.08zM308.97 111.63h6.08v6.08h-6.08zM327.23 111.63h6.08v6.08h-6.08zM333.31 111.63h6.08v6.08h-6.08zM254.21 117.72h6.08v6.08h-6.08zM260.29 117.72h6.08v6.08h-6.08zM266.38 117.72h6.08v6.08h-6.08zM284.63 117.72h6.08v6.08h-6.08zM290.72 117.72h6.08v6.08h-6.08zM308.97 117.72h6.08v6.08h-6.08zM315.06 117.72h6.08v6.08h-6.08zM327.23 117.72h6.08v6.08h-6.08zM333.31 117.72h6.08v6.08h-6.08zM266.38 123.80h6.08v6.08h-6.08zM272.46 123.80h6.08v6.08h-6.08zM290.72 123.80h6.08v6.08h-6.08zM260.29 129.88h6.08v6.08h-6.08zM266.38 129.88h6.08v6.08h-6.08zM278.55 129.88h6.08v6.08h-6.08zM284.63 129.88h6.08v6.08h-6.08zM260.29 135.97h6.08v6.08h-6.08zM266.38 135.97h6.08v6.08h-6.08zM272.46 135.97h6.08v6.08h-6.08zM278.55 135.97h6.08v6.08h-6.08zM284.63 135.97h6.08v6.08h-6.08zM290.72 142.06h6.08v6.08h-6.08zM296.80 142.06h6.08v6.08h-6.08zM315.06 160.31h6.08v6.08h-6.08zM308.97 166.39h6.08v6.08h-6.08zM315.06 166.39h6.08v6.08h-6.08zM272.46 172.48h6.08v6.08h-6.08zM278.55 172.48h6.08v6.08h-6.08zM284.63 172.48h6.08v6.08h-6.08zM315.06 172.48h6.08v6.08h-6.08zM272.46 178.56h6.08v6.08h-6.08zM278.55 178.56h6.08v6.08h-6.08zM284.63 178.56h6.08v6.08h-6.08zM290.72 178.56h6.08v6.08h-6.08zM321.14 178.56h6.08v6.08h-6.08zM327.23 178.56h6.08v6.08h-6.08zM333.31 178.56h6.08v6.08h-6.08zM260.29 184.65h6.08v6.08h-6.08zM278.55 184.65h6.08v6.08h-6.08zM296.80 184.65h6.08v6.08h-6.08zM260.29 190.74h6.08v6.08h-6.08zM272.46 190.74h6.08v6.08h-6.08zM278.55 190.74h6.08v6.08h-6.08zM284.63 190.74h6.08v6.08h-6.08zM290.72 190.74h6.08v6.08h-6.08zM296.80 190.74h6.08v6.08h-6.08zM193.36 196.82h6.08v6.08h-6.08zM199.44 196.82h6.08v6.08h-6.08zM205.53 196.82h6.08v6.08h-6.08zM260.29 196.82h6.08v6.08h-6.08zM266.38 196.82h6.08v6.08h-6.08zM272.46 196.82h6.08v6.08h-6.08zM278.55 196.82h6.08v6.08h-6.08zM284.63 196.82h6.08v6.08h-6.08zM193.36 202.91h6.08v6.08h-6.08zM199.44 202.91h6.08v6.08h-6.08zM205.53 202.91h6.08v6.08h-6.08zM211.61 202.91h6.08v6.08h-6.08zM266.38 202.91h6.08v6.08h-6.08zM272.46 202.91h6.08v6.08h-6.08zM278.55 202.91h6.08v6.08h-6.08zM284.63 202.91h6.08v6.08h-6.08zM193.36 208.99h6.08v6.08h-6.08zM199.44 208.99h6.08v6.08h-6.08zM205.53 208.99h6.08v6.08h-6.08zM199.44 215.07h6.08v6.08h-6.08zM175.10 221.16h6.08v6.08h-6.08zM181.19 221.16h6.08v6.08h-6.08zM187.27 221.16h6.08v6.08h-6.08zM193.36 221.16h6.08v6.08h-6.08zM199.44 221.16h6.08v6.08h-6.08zM205.53 221.16h6.08v6.08h-6.08zM278.55 221.16h6.08v6.08h-6.08zM175.10 227.25h6.08v6.08h-6.08zM181.19 227.25h6.08v6.08h-6.08zM187.27 227.25h6.08v6.08h-6.08zM193.36 227.25h6.08v6.08h-6.08zM205.53 227.25h6.08v6.08h-6.08zM211.61 227.25h6.08v6.08h-6.08zM278.55 227.25h6.08v6.08h-6.08zM175.10 233.33h6.08v6.08h-6.08zM181.19 233.33h6.08v6.08h-6.08zM187.27 233.33h6.08v6.08h-6.08zM211.61 233.33h6.08v6.08h-6.08zM235.95 239.42h6.08v6.08h-6.08zM242.04 239.42h6.08v6.08h-6.08zM248.12 239.42h6.08v6.08h-6.08zM260.29 239.42h6.08v6.08h-6.08zM266.38 239.42h6.08v6.08h-6.08zM272.46 239.42h6.08v6.08h-6.08zM235.95 245.50h6.08v6.08h-6.08zM242.04 245.50h6.08v6.08h-6.08zM248.12 245.50h6.08v6.08h-6.08zM254.21 245.50h6.08v6.08h-6.08zM260.29 245.50h6.08v6.08h-6.08zM266.38 245.50h6.08v6.08h-6.08zM272.46 245.50h6.08v6.08h-6.08zM235.95 251.58h6.08v6.08h-6.08zM242.04 251.58h6.08v6.08h-6.08zM248.12 251.58h6.08v6.08h-6.08zM254.21 251.58h6.08v6.08h-6.08zM260.29 251.58h6.08v6.08h-6.08zM266.38 251.58h6.08v6.08h-6.08zM272.46 251.58h6.08v6.08h-6.08z" fill="#d2fa6e"/>
<path d="M296.80 117.72h6.08v6.08h-6.08zM302.89 117.72h6.08v6.08h-6.08zM321.14 117.72h6.08v6.08h-6.08zM296.80 123.80h6.08v6.08h-6.08zM302.89 123.80h6.08v6.08h-6.08zM272.46 129.88h6.08v6.08h-6.08zM284.63 184.65h6.08v6.08h-6.08zM290.72 184.65h6.08v6.08h-6.08zM199.44 227.25h6.08v6.08h-6.08zM193.36 233.33h6.08v6.08h-6.08zM199.44 233.33h6.08v6.08h-6.08zM205.53 233.33h6.08v6.08h-6.08zM248.12 233.33h6.08v6.08h-6.08zM254.21 233.33h6.08v6.08h-6.08zM260.29 233.33h6.08v6.08h-6.08zM187.27 239.42h6.08v6.08h-6.08zM193.36 239.42h6.08v6.08h-6.08zM199.44 239.42h6.08v6.08h-6.08zM205.53 239.42h6.08v6.08h-6.08zM211.61 239.42h6.08v6.08h-6.08zM254.21 239.42h6.08v6.08h-6.08z" fill="#ffff00"/>
<path d="M308.97 215.07h6.08v6.08h-6.08zM315.06 215.07h6.08v6.08h-6.08zM321.14 215.07h6.08v6.08h-6.08zM327.23 215.07h6.08v6.08h-6.08zM333.31 215.07h6.08v6.08h-6.08z" fill="#ffb400"/>
<path d="M308.97 221.16h6.08v6.08h-6.08zM315.06 221.16h6.08v6.08h-6.08zM321.14 221.16h6.08v6.08h-6.08zM327.23 221.16h6.08v6.08h-6.08zM333.31 221.16h6.08v6.08h-6.08zM302.89 227.25h6.08v6.08h-6.08zM308.97 227.25h6.08v6.08h-6.08zM315.06 227.25h6.08v6.08h-6.08zM321.14 227.25h6.08v6.08h-6.08zM327.23 227.25h6.08v6.08h-6.08zM333.31 227.25h6.08v6.08h-6.08zM302.89 233.33h6.08v6.08h-6.08zM308.97 233.33h6.08v6.08h-6.08zM315.06 233.33h6.08v6.08h-6.08zM321.14 233.33h6.08v6.08h-6.08zM327.23 233.33h6.08v6.08h-6.08zM333.31 233.33h6.08v6.08h-6.08z" fill="#ff6e00"/>
<rect x="0" y="0" width="420" height="260" fill="url(#cg)"/>
</g>
<line x1="74.7" y1="23" x2="74.7" y2="350" stroke="#c4c4c4" stroke-opacity="0.8" stroke-width="1" stroke-dasharray="3 11" stroke-dashoffset="-5"/>
<line x1="74.7" y1="22.5" x2="74.7" y2="25" stroke="#444" stroke-width="0.8"/>
<line x1="74.7" y1="348.5" x2="74.7" y2="351" stroke="#444" stroke-width="0.8"/>
<line x1="135.6" y1="23" x2="135.6" y2="350" stroke="#c4c4c4" stroke-opacity="0.8" stroke-width="1" stroke-dasharray="3 11" stroke-dashoffset="-5"/>
<line x1="135.6" y1="22.5" x2="135.6" y2="25" stroke="#444" stroke-width="0.8"/>
<line x1="135.6" y1="348.5" x2="135.6" y2="351" stroke="#444" stroke-width="0.8"/>
<line x1="196.4" y1="23" x2="196.4" y2="350" stroke="#c4c4c4" stroke-opacity="0.8" stroke-width="1" stroke-dasharray="3 11" stroke-dashoffset="-5"/>
<line x1="196.4" y1="22.5" x2="196.4" y2="25" stroke="#444" stroke-width="0.8"/>
<line x1="196.4" y1="348.5" x2="196.4" y2="351" stroke="#444" stroke-width="0.8"/>
<line x1="257.2" y1="23" x2="257.2" y2="350" stroke="#c4c4c4" stroke-opacity="0.8" stroke-width="1" stroke-dasharray="3 11" stroke-dashoffset="-5"/>
<line x1="257.2" y1="22.5" x2="257.2" y2="25" stroke="#444" stroke-width="0.8"/>
<line x1="257.2" y1="348.5" x2="257.2" y2="351" stroke="#444" stroke-width="0.8"/>
<line x1="318.1" y1="23" x2="318.1" y2="350" stroke="#c4c4c4" stroke-opacity="0.8" stroke-width="1" stroke-dasharray="3 11" stroke-dashoffset="-5"/>
<line x1="318.1" y1="22.5" x2="318.1" y2="25" stroke="#444" stroke-width="0.8"/>
<line x1="318.1" y1="348.5" x2="318.1" y2="351" stroke="#444" stroke-width="0.8"/>
<line x1="378.9" y1="23" x2="378.9" y2="350" stroke="#c4c4c4" stroke-opacity="0.8" stroke-width="1" stroke-dasharray="3 11" stroke-dashoffset="-5"/>
<line x1="378.9" y1="22.5" x2="378.9" y2="25" stroke="#444" stroke-width="0.8"/>
<line x1="378.9" y1="348.5" x2="378.9" y2="351" stroke="#444" stroke-width="0.8"/>
<line x1="25" y1="306.4" x2="419" y2="306.4" stroke="#d6d6d6" stroke-opacity="0.8" stroke-width="1" stroke-dasharray="3.4 10.5" stroke-dashoffset="-1"/>
<line x1="25" y1="245.5" x2="419" y2="245.5" stroke="#d6d6d6" stroke-opacity="0.8" stroke-width="1" stroke-dasharray="3.4 10.5" stroke-dashoffset="-1"/>
<line x1="25" y1="184.7" x2="419" y2="184.7" stroke="#d6d6d6" stroke-opacity="0.8" stroke-width="1" stroke-dasharray="3.4 10.5" stroke-dashoffset="-1"/>
<line x1="25" y1="123.8" x2="419" y2="123.8" stroke="#d6d6d6" stroke-opacity="0.8" stroke-width="1" stroke-dasharray="3.4 10.5" stroke-dashoffset="-1"/>
<line x1="25" y1="63.0" x2="419" y2="63.0" stroke="#d6d6d6" stroke-opacity="0.8" stroke-width="1" stroke-dasharray="3.4 10.5" stroke-dashoffset="-1"/>
<polygon points="32.4,121.8 35.1,118.0 38.8,116.5 43.2,115.0 47.6,114.3 53.4,112.8 59.3,111.4 63.7,109.2 69.5,106.2 73.2,104.8 73.9,100.4 75.4,97.5 73.9,93.1 71.7,88.0 75.4,86.5 81.2,85.7 86.4,86.5 87.8,82.1 90.0,74.8 93.0,74.0 98.8,74.8 105.4,74.8 106.1,68.9 109.1,66.7 113.5,63.8 117.8,62.3 120.0,63.0 121.5,66.7 126.6,68.9 132.5,71.1 137.6,72.6 139.1,77.0 137.6,80.6 140.5,83.6 147.1,86.5 154.5,87.9 158.8,90.1 163.2,92.3 166.9,94.5 170.0,98.9 171.1,100.6 179.1,102.0 187.0,102.6 193.0,102.0 199.0,101.6 204.9,103.2 210.9,105.1 218.0,106.5 224.6,104.9 232.9,103.6 241.3,103.2 248.6,102.2 253.8,100.1 260.1,98.0 263.3,95.9 264.3,91.7 266.4,88.6 269.5,88.2 274.8,86.9 281.0,85.4 285.2,84.0 291.5,81.3 297.8,79.2 304.0,77.7 310.3,76.4 314.5,75.0 313.5,71.8 308.2,70.2 302.0,69.7 295.7,70.2 291.5,70.8 289.0,67.7 291.5,63.5 294.6,59.3 299.9,58.2 306.1,58.2 312.4,56.8 314.5,52.0 316.6,46.7 315.6,40.5 318.7,39.4 322.9,37.3 329.2,36.3 337.5,35.9 343.8,37.3 350.1,39.4 354.3,44.6 358.4,50.9 360.5,57.2 364.7,60.3 371.0,61.4 377.3,63.5 381.5,67.7 383.5,70.8 389.8,69.7 396.1,68.7 402.4,67.2 406.6,66.6 405.5,68.7 401.3,73.9 398.2,80.2 396.1,86.5 391.9,87.5 385.6,88.6 383.5,92.8 381.5,96.9 379.4,102.2 377.9,101.9 372.8,103.8 365.3,106.3 364.0,109.4 360.3,108.8 357.8,107.5 355.3,109.4 351.5,111.9 346.5,113.8 342.7,116.9 340.2,119.5 335.2,121.3 330.2,123.2 326.4,124.5 323.3,125.1 322.0,123.2 323.9,120.7 326.4,118.8 328.3,115.7 327.0,113.8 323.9,113.2 320.1,115.1 315.1,118.8 308.8,122.0 303.8,123.2 301.3,125.1 301.3,127.6 305.1,129.5 308.8,130.8 309.5,133.9 312.0,135.1 316.4,132.0 320.1,129.5 320.8,128.2 322.6,132.6 327.6,133.3 331.4,133.9 330.2,136.4 325.1,137.7 320.1,140.2 316.4,143.9 311.3,147.7 310.7,149.6 315.1,152.7 318.9,156.5 321.4,161.5 323.9,165.3 326.4,169.0 327.7,174.1 331.4,174.7 328.9,177.8 329.1,180.0 326.6,183.8 325.3,187.5 322.8,191.3 319.0,195.1 316.5,198.8 314.0,202.6 312.8,206.4 309.0,208.9 305.2,211.4 301.5,213.9 297.7,217.0 293.9,220.8 287.7,223.3 282.6,224.6 277.6,226.4 272.6,228.3 266.3,229.6 261.3,230.8 257.5,232.7 256.9,236.5 254.7,236.5 252.5,235.0 252.5,232.8 250.3,231.4 245.9,230.6 241.5,229.2 237.1,227.7 234.2,225.5 232.8,223.3 229.8,221.9 225.4,220.4 221.0,221.9 215.2,223.3 210.8,224.8 206.4,225.5 204.2,228.4 204.2,232.1 200.5,231.4 199.1,229.2 194.7,230.4 191.8,229.2 188.8,224.8 188.1,220.4 185.9,215.3 181.5,213.1 179.3,210.9 180.0,208.0 183.0,204.3 185.2,201.4 184.4,197.0 183.0,191.1 180.0,188.9 177.1,189.6 172.7,190.4 166.9,191.1 161.0,192.6 155.1,193.3 149.3,195.5 144.9,196.2 140.5,191.8 134.6,190.8 128.8,191.1 125.9,193.3 122.1,191.6 115.9,190.9 109.6,190.9 104.6,188.4 99.5,186.6 94.5,184.1 89.5,180.9 84.5,179.0 79.5,178.4 75.7,175.9 70.7,173.4 65.7,170.2 64.4,167.7 63.1,165.2 63.1,162.7 65.7,160.2 65.0,154.6 64.4,150.2 60.6,146.4 55.6,144.5 50.6,142.6 46.8,140.1 43.1,137.0 39.3,135.1 38.7,130.1 39.3,126.3 35.5,125.1 33.6,123.8" fill="none" stroke="#555" stroke-width="0.7"/>
<polygon points="245.9,243.8 248.9,241.6 253.3,240.2 257.6,239.4 260.0,240.2 258.8,244.0 255.0,247.8 251.8,249.7 247.4,248.2" fill="none" stroke="#555" stroke-width="0.7"/>
<polygon points="325.3,208.2 327.2,210.1 325.3,216.4 323.4,221.4 320.3,227.1 318.4,225.8 315.9,221.4 315.3,218.3 317.8,213.9 321.5,209.5" fill="none" stroke="#555" stroke-width="0.7"/>
<line x1="24.3" y1="22.5" x2="419.5" y2="22.5" stroke="#8c8c8c" stroke-width="1.2"/>
<line x1="24.3" y1="350.8" x2="419.5" y2="350.8" stroke="#8c8c8c" stroke-width="1.4"/>
<line x1="24.3" y1="22" x2="24.3" y2="351.3" stroke="#2a2a2a" stroke-width="1.3"/>
<line x1="419.4" y1="22" x2="419.4" y2="351.3" stroke="#111" stroke-width="1.3"/>
<text x="74.7" y="18.8" font-size="10.2" text-anchor="middle" fill="#222" style="font-family:'Liberation Serif',serif">80&#176;E</text>
<text x="74.7" y="363.8" font-size="10.2" text-anchor="middle" fill="#222" style="font-family:'Liberation Serif',serif">80&#176;E</text>
<text x="135.6" y="18.8" font-size="10.2" text-anchor="middle" fill="#222" style="font-family:'Liberation Serif',serif">90&#176;E</text>
<text x="135.6" y="363.8" font-size="10.2" text-anchor="middle" fill="#222" style="font-family:'Liberation Serif',serif">90&#176;E</text>
<text x="196.4" y="18.8" font-size="10.2" text-anchor="middle" fill="#222" style="font-family:'Liberation Serif',serif">100&#176;E</text>
<text x="196.4" y="363.8" font-size="10.2" text-anchor="middle" fill="#222" style="font-family:'Liberation Serif',serif">100&#176;E</text>
<text x="257.2" y="18.8" font-size="10.2" text-anchor="middle" fill="#222" style="font-family:'Liberation Serif',serif">110&#176;E</text>
<text x="257.2" y="363.8" font-size="10.2" text-anchor="middle" fill="#222" style="font-family:'Liberation Serif',serif">110&#176;E</text>
<text x="318.1" y="18.8" font-size="10.2" text-anchor="middle" fill="#222" style="font-family:'Liberation Serif',serif">120&#176;E</text>
<text x="318.1" y="363.8" font-size="10.2" text-anchor="middle" fill="#222" style="font-family:'Liberation Serif',serif">120&#176;E</text>
<text x="378.9" y="18.8" font-size="10.2" text-anchor="middle" fill="#222" style="font-family:'Liberation Serif',serif">130&#176;E</text>
<text x="378.9" y="363.8" font-size="10.2" text-anchor="middle" fill="#222" style="font-family:'Liberation Serif',serif">130&#176;E</text>
<text transform="translate(21.3,306.4) rotate(-90)" font-size="10.2" text-anchor="middle" fill="#222" style="font-family:'Liberation Serif',serif">10&#176;N</text>
<text transform="translate(433.2,306.4) rotate(-90)" font-size="10.2" text-anchor="middle" fill="#222" style="font-family:'Liberation Serif',serif">10&#176;N</text>
<text transform="translate(21.3,245.5) rotate(-90)" font-size="10.2" text-anchor="middle" fill="#222" style="font-family:'Liberation Serif',serif">20&#176;N</text>
<text transform="translate(433.2,245.5) rotate(-90)" font-size="10.2" text-anchor="middle" fill="#222" style="font-family:'Liberation Serif',serif">20&#176;N</text>
<text transform="translate(21.3,184.7) rotate(-90)" font-size="10.2" text-anchor="middle" fill="#222" style="font-family:'Liberation Serif',serif">30&#176;N</text>
<text transform="translate(433.2,184.7) rotate(-90)" font-size="10.2" text-anchor="middle" fill="#222" style="font-family:'Liberation Serif',serif">30&#176;N</text>
<text transform="translate(21.3,123.8) rotate(-90)" font-size="10.2" text-anchor="middle" fill="#222" style="font-family:'Liberation Serif',serif">40&#176;N</text>
<text transform="translate(433.2,123.8) rotate(-90)" font-size="10.2" text-anchor="middle" fill="#222" style="font-family:'Liberation Serif',serif">40&#176;N</text>
<text transform="translate(21.3,63.0) rotate(-90)" font-size="10.2" text-anchor="middle" fill="#222" style="font-family:'Liberation Serif',serif">50&#176;N</text>
<text transform="translate(433.2,63.0) rotate(-90)" font-size="10.2" text-anchor="middle" fill="#222" style="font-family:'Liberation Serif',serif">50&#176;N</text>
<text x="407" y="32.3" font-size="6.5" font-weight="bold" text-anchor="middle" fill="#1a1a1a" style="font-family:'Liberation Sans',sans-serif">N</text>
<path d="M406.5 34L402.4 48.6L407.2 44.2Z" fill="#111"/>
<path d="M406.5 34L411.1 48.8L407.2 44.2Z" fill="none" stroke="#222" stroke-width="0.7"/>
<text x="35.9" y="226.9" font-size="11.3" fill="#111" style="font-family:'Liberation Serif',serif">XCO<tspan font-size="7.4" dy="1.9">2ano</tspan><tspan dy="-1.9">(ppm)</tspan></text>
<rect x="30" y="235.2" width="28.4" height="13.7" fill="#0000fc" stroke="#8a8a8a" stroke-width="0.4"/>
<rect x="133.2" y="235.2" width="28" height="13.7" fill="#d2fa6e" stroke="#8a8a8a" stroke-width="0.4"/>
<text x="63.3" y="246.3" font-size="11.2" fill="#111" style="font-family:'Liberation Serif',serif">&#8722;1.55 &#8722; &#8722;0.57</text>
<text x="166.1" y="246.3" font-size="11.2" fill="#111" style="font-family:'Liberation Serif',serif">0.73 &#8722; 1.08</text>
<rect x="30" y="254.1" width="28.4" height="13.7" fill="#3b5efc" stroke="#8a8a8a" stroke-width="0.4"/>
<rect x="133.2" y="254.1" width="28" height="13.7" fill="#ffff00" stroke="#8a8a8a" stroke-width="0.4"/>
<text x="63.3" y="265.2" font-size="11.2" fill="#111" style="font-family:'Liberation Serif',serif">&#8722;0.56 &#8722; &#8722;0.16</text>
<text x="166.1" y="265.2" font-size="11.2" fill="#111" style="font-family:'Liberation Serif',serif">1.09 &#8722; 1.46</text>
<rect x="30" y="273.0" width="28.4" height="13.7" fill="#3aa8fc" stroke="#8a8a8a" stroke-width="0.4"/>
<rect x="133.2" y="273.0" width="28" height="13.7" fill="#ffb400" stroke="#8a8a8a" stroke-width="0.4"/>
<text x="63.3" y="284.1" font-size="11.2" fill="#111" style="font-family:'Liberation Serif',serif">&#8722;0.15 &#8722; 0.14</text>
<text x="166.1" y="284.1" font-size="11.2" fill="#111" style="font-family:'Liberation Serif',serif">1.47 &#8722; 1.85</text>
<rect x="30" y="291.9" width="28.4" height="13.7" fill="#00fcfc" stroke="#8a8a8a" stroke-width="0.4"/>
<rect x="133.2" y="291.9" width="28" height="13.7" fill="#ff6e00" stroke="#8a8a8a" stroke-width="0.4"/>
<text x="63.3" y="303.0" font-size="11.2" fill="#111" style="font-family:'Liberation Serif',serif">0.15 &#8722; 0.41</text>
<text x="166.1" y="303.0" font-size="11.2" fill="#111" style="font-family:'Liberation Serif',serif">1.86 &#8722; 2.28</text>
<rect x="30" y="310.8" width="28.4" height="13.7" fill="#96fbb4" stroke="#8a8a8a" stroke-width="0.4"/>
<rect x="133.2" y="310.8" width="28" height="13.7" fill="#ff0000" stroke="#8a8a8a" stroke-width="0.4"/>
<text x="63.3" y="321.9" font-size="11.2" fill="#111" style="font-family:'Liberation Serif',serif">0.42 &#8722; 0.72</text>
<text x="166.1" y="321.9" font-size="11.2" fill="#111" style="font-family:'Liberation Serif',serif">2.29 &#8722; 3.24</text>
<rect x="27.6" y="330.2" width="18.2" height="9" fill="#fff" stroke="#777" stroke-width="0.6"/>
<text x="49.6" y="338.6" font-size="10.9" fill="#111" style="font-family:'Liberation Serif',serif">National boundaries</text>
<rect x="148.2" y="330.2" width="17.8" height="9" fill="url(#hatch)" stroke="#777" stroke-width="0.6"/>
<text x="170" y="338.6" font-size="10.9" fill="#111" style="font-family:'Liberation Serif',serif">Background area</text>
<rect x="295.3" y="339.6" width="41.7" height="3.8" fill="#000"/>
<rect x="337" y="339.9" width="41.6" height="3.3" fill="#fff" stroke="#000" stroke-width="0.6"/>
<text x="295.8" y="334.9" font-size="10" text-anchor="middle" fill="#111" style="font-family:'Liberation Serif',serif">0</text>
<text x="337.2" y="334.9" font-size="10" text-anchor="middle" fill="#111" style="font-family:'Liberation Serif',serif">750</text>
<text x="368.9" y="334.9" font-size="10" fill="#111" style="font-family:'Liberation Serif',serif">1500 km</text>
<text transform="translate(221.9,388.1) scale(1,1.06)" font-size="19.5" text-anchor="middle" fill="#111" style="font-family:'Liberation Serif',serif">(<tspan font-weight="bold">e</tspan>) 2014</text>
<line x1="311.5" y1="251.5" x2="315.1" y2="246.6" stroke="#1a1a1a" stroke-width="0.9"/>
<line x1="250.0" y1="263.5" x2="253.7" y2="268.8" stroke="#1a1a1a" stroke-width="0.9"/>
<line x1="309.6" y1="264.1" x2="309.6" y2="270.3" stroke="#1a1a1a" stroke-width="0.9"/>
<line x1="254.4" y1="293.2" x2="256.6" y2="287.3" stroke="#1a1a1a" stroke-width="0.9"/>
<line x1="306.4" y1="295.0" x2="308.6" y2="289.2" stroke="#1a1a1a" stroke-width="0.9"/>
<line x1="288.4" y1="317.7" x2="292.5" y2="312.6" stroke="#1a1a1a" stroke-width="0.9"/>
<line x1="251.5" y1="315.9" x2="253.7" y2="315.1" stroke="#1a1a1a" stroke-width="0.9"/>
<line x1="263.5" y1="315.1" x2="264.6" y2="313.3" stroke="#1a1a1a" stroke-width="0.9"/>
<line x1="269.0" y1="327.6" x2="269.4" y2="326.1" stroke="#1a1a1a" stroke-width="0.9"/>
<line x1="264.3" y1="308.2" x2="272.0" y2="307.5" stroke="#1a1a1a" stroke-width="0.9"/>
<line x1="274.9" y1="306.4" x2="280.7" y2="308.5" stroke="#1a1a1a" stroke-width="0.9"/>
<line x1="277.8" y1="313.0" x2="277.8" y2="316.2" stroke="#1a1a1a" stroke-width="0.9"/>
<line x1="282.2" y1="311.8" x2="286.2" y2="310.4" stroke="#1a1a1a" stroke-width="0.9"/>
<line x1="276.4" y1="299.8" x2="277.8" y2="300.5" stroke="#1a1a1a" stroke-width="0.9"/>
<line x1="280.0" y1="302.0" x2="282.2" y2="301.2" stroke="#1a1a1a" stroke-width="0.9"/>
<line x1="279.3" y1="299.0" x2="282.2" y2="298.3" stroke="#1a1a1a" stroke-width="0.9"/>
<line x1="279.3" y1="294.6" x2="280.7" y2="295.4" stroke="#1a1a1a" stroke-width="0.9"/>
<line x1="283.7" y1="293.5" x2="284.4" y2="295.4" stroke="#1a1a1a" stroke-width="0.9"/>
<line x1="297.6" y1="296.5" x2="300.5" y2="296.5" stroke="#1a1a1a" stroke-width="0.9"/>
<line x1="296.1" y1="295.4" x2="296.6" y2="293.5" stroke="#1a1a1a" stroke-width="0.9"/>
<line x1="337.9" y1="203.2" x2="336.6" y2="204.5" stroke="#1a1a1a" stroke-width="0.9"/>
<line x1="332.2" y1="212.6" x2="330.3" y2="218.3" stroke="#1a1a1a" stroke-width="0.9"/>
<line x1="326.6" y1="229.6" x2="322.2" y2="234.6" stroke="#1a1a1a" stroke-width="0.9"/>
<line x1="311.5" y1="217.7" x2="312.3" y2="220.2" stroke="#1a1a1a" stroke-width="0.9"/>
<line x1="268.8" y1="325.8" x2="269.4" y2="327.9" stroke="#1a1a1a" stroke-width="0.9"/>
<ellipse cx="280.3" cy="265.1" rx="3.7" ry="1.3" transform="rotate(-25 280.3 265.1)" fill="none" stroke="#222" stroke-width="0.8"/>
<circle cx="263.6" cy="257.3" r="0.6" fill="#222"/>
<circle cx="265.7" cy="258.4" r="0.6" fill="#222"/>
<circle cx="269.9" cy="259.6" r="0.6" fill="#222"/>
<circle cx="263.1" cy="262.5" r="0.6" fill="#222"/>
<circle cx="264.6" cy="262.0" r="0.6" fill="#222"/>
<circle cx="269.4" cy="263.9" r="0.6" fill="#222"/>
<circle cx="301.3" cy="269.3" r="0.6" fill="#222"/>
<circle cx="295.5" cy="262.5" r="0.6" fill="#222"/>
<circle cx="295.8" cy="235.9" r="0.6" fill="#222"/>
<circle cx="324.0" cy="227.1" r="0.6" fill="#222"/>
<circle cx="255.1" cy="310.7" r="0.6" fill="#222"/>
<circle cx="257.0" cy="312.2" r="0.6" fill="#222"/>
<circle cx="257.3" cy="314.0" r="0.6" fill="#222"/>
<circle cx="282.2" cy="307.5" r="0.6" fill="#222"/>
<circle cx="274.2" cy="311.5" r="0.6" fill="#222"/>
<circle cx="272.0" cy="303.1" r="0.6" fill="#222"/>
<circle cx="280.4" cy="292.1" r="0.6" fill="#222"/>
<circle cx="286.6" cy="299.4" r="0.6" fill="#222"/>
<circle cx="289.2" cy="297.2" r="0.6" fill="#222"/>
<circle cx="292.1" cy="296.5" r="0.6" fill="#222"/>
<circle cx="293.9" cy="298.3" r="0.6" fill="#222"/>
<circle cx="287.3" cy="304.2" r="0.6" fill="#222"/>
<circle cx="290.3" cy="302.0" r="0.6" fill="#222"/>
<circle cx="293.9" cy="302.0" r="0.6" fill="#222"/>
<circle cx="296.1" cy="304.2" r="0.6" fill="#222"/>
<circle cx="292.5" cy="307.5" r="0.6" fill="#222"/>
<circle cx="293.9" cy="305.6" r="0.6" fill="#222"/>
<circle cx="301.6" cy="295.7" r="0.6" fill="#222"/>
<circle cx="284.5" cy="303.0" r="0.6" fill="#222"/>
<circle cx="288.5" cy="300.5" r="0.6" fill="#222"/>
</g>
<g transform="translate(512.8,0.0)">
<g clip-path="url(#cl)">
<path d="M296.80 38.61h6.08v6.08h-6.08zM333.31 38.61h6.08v6.08h-6.08zM339.40 38.61h6.08v6.08h-6.08zM345.48 38.61h6.08v6.08h-6.08zM351.57 38.61h6.08v6.08h-6.08zM357.65 38.61h6.08v6.08h-6.08zM363.74 38.61h6.08v6.08h-6.08zM369.82 38.61h6.08v6.08h-6.08zM302.89 44.70h6.08v6.08h-6.08zM333.31 44.70h6.08v6.08h-6.08zM339.40 44.70h6.08v6.08h-6.08zM351.57 44.70h6.08v6.08h-6.08zM357.65 44.70h6.08v6.08h-6.08zM363.74 44.70h6.08v6.08h-6.08zM369.82 44.70h6.08v6.08h-6.08zM375.91 44.70h6.08v6.08h-6.08zM381.99 44.70h6.08v6.08h-6.08zM96.00 50.78h6.08v6.08h-6.08zM102.08 50.78h6.08v6.08h-6.08zM108.17 50.78h6.08v6.08h-6.08zM114.25 50.78h6.08v6.08h-6.08zM120.34 50.78h6.08v6.08h-6.08zM126.42 50.78h6.08v6.08h-6.08zM308.97 50.78h6.08v6.08h-6.08zM321.14 50.78h6.08v6.08h-6.08zM327.23 50.78h6.08v6.08h-6.08zM333.31 50.78h6.08v6.08h-6.08zM339.40 50.78h6.08v6.08h-6.08zM345.48 50.78h6.08v6.08h-6.08zM351.57 50.78h6.08v6.08h-6.08zM357.65 50.78h6.08v6.08h-6.08zM363.74 50.78h6.08v6.08h-6.08zM369.82 50.78h6.08v6.08h-6.08zM375.91 50.78h6.08v6.08h-6.08zM381.99 50.78h6.08v6.08h-6.08zM388.08 50.78h6.08v6.08h-6.08zM96.00 56.87h6.08v6.08h-6.08zM102.08 56.87h6.08v6.08h-6.08zM108.17 56.87h6.08v6.08h-6.08zM114.25 56.87h6.08v6.08h-6.08zM120.34 56.87h6.08v6.08h-6.08zM126.42 56.87h6.08v6.08h-6.08zM315.06 56.87h6.08v6.08h-6.08zM321.14 56.87h6.08v6.08h-6.08zM333.31 56.87h6.08v6.08h-6.08zM369.82 56.87h6.08v6.08h-6.08zM375.91 56.87h6.08v6.08h-6.08zM381.99 56.87h6.08v6.08h-6.08zM388.08 56.87h6.08v6.08h-6.08zM102.08 62.95h6.08v6.08h-6.08zM108.17 62.95h6.08v6.08h-6.08zM114.25 62.95h6.08v6.08h-6.08zM120.34 62.95h6.08v6.08h-6.08zM315.06 62.95h6.08v6.08h-6.08zM321.14 62.95h6.08v6.08h-6.08zM327.23 62.95h6.08v6.08h-6.08zM333.31 62.95h6.08v6.08h-6.08zM339.40 62.95h6.08v6.08h-6.08zM375.91 62.95h6.08v6.08h-6.08zM381.99 62.95h6.08v6.08h-6.08zM108.17 69.03h6.08v6.08h-6.08zM114.25 69.03h6.08v6.08h-6.08zM321.14 69.03h6.08v6.08h-6.08zM327.23 69.03h6.08v6.08h-6.08zM339.40 69.03h6.08v6.08h-6.08zM375.91 69.03h6.08v6.08h-6.08zM381.99 69.03h6.08v6.08h-6.08zM96.00 75.12h6.08v6.08h-6.08zM102.08 75.12h6.08v6.08h-6.08zM114.25 75.12h6.08v6.08h-6.08zM120.34 75.12h6.08v6.08h-6.08zM363.74 75.12h6.08v6.08h-6.08zM369.82 75.12h6.08v6.08h-6.08zM375.91 75.12h6.08v6.08h-6.08zM381.99 75.12h6.08v6.08h-6.08zM388.08 75.12h6.08v6.08h-6.08zM394.16 75.12h6.08v6.08h-6.08zM400.25 75.12h6.08v6.08h-6.08zM406.33 75.12h6.08v6.08h-6.08zM83.83 81.20h6.08v6.08h-6.08zM89.91 81.20h6.08v6.08h-6.08zM327.23 81.20h6.08v6.08h-6.08zM345.48 81.20h6.08v6.08h-6.08zM357.65 81.20h6.08v6.08h-6.08zM363.74 81.20h6.08v6.08h-6.08zM369.82 81.20h6.08v6.08h-6.08zM375.91 81.20h6.08v6.08h-6.08zM388.08 81.20h6.08v6.08h-6.08zM394.16 81.20h6.08v6.08h-6.08zM400.25 81.20h6.08v6.08h-6.08zM406.33 81.20h6.08v6.08h-6.08zM89.91 87.29h6.08v6.08h-6.08zM96.00 87.29h6.08v6.08h-6.08zM302.89 87.29h6.08v6.08h-6.08zM308.97 87.29h6.08v6.08h-6.08zM315.06 87.29h6.08v6.08h-6.08zM321.14 87.29h6.08v6.08h-6.08zM327.23 87.29h6.08v6.08h-6.08zM333.31 87.29h6.08v6.08h-6.08zM339.40 87.29h6.08v6.08h-6.08zM345.48 87.29h6.08v6.08h-6.08zM357.65 87.29h6.08v6.08h-6.08zM388.08 87.29h6.08v6.08h-6.08zM394.16 87.29h6.08v6.08h-6.08zM400.25 87.29h6.08v6.08h-6.08zM406.33 87.29h6.08v6.08h-6.08zM47.32 93.38h6.08v6.08h-6.08zM53.40 93.38h6.08v6.08h-6.08zM59.49 93.38h6.08v6.08h-6.08zM150.76 93.38h6.08v6.08h-6.08zM156.85 93.38h6.08v6.08h-6.08zM169.02 93.38h6.08v6.08h-6.08zM290.72 93.38h6.08v6.08h-6.08zM321.14 93.38h6.08v6.08h-6.08zM327.23 93.38h6.08v6.08h-6.08zM333.31 93.38h6.08v6.08h-6.08zM345.48 93.38h6.08v6.08h-6.08zM357.65 93.38h6.08v6.08h-6.08zM394.16 93.38h6.08v6.08h-6.08zM400.25 93.38h6.08v6.08h-6.08zM406.33 93.38h6.08v6.08h-6.08zM47.32 99.46h6.08v6.08h-6.08zM53.40 99.46h6.08v6.08h-6.08zM59.49 99.46h6.08v6.08h-6.08zM65.57 99.46h6.08v6.08h-6.08zM71.66 99.46h6.08v6.08h-6.08zM102.08 99.46h6.08v6.08h-6.08zM114.25 99.46h6.08v6.08h-6.08zM120.34 99.46h6.08v6.08h-6.08zM150.76 99.46h6.08v6.08h-6.08zM156.85 99.46h6.08v6.08h-6.08zM162.93 99.46h6.08v6.08h-6.08zM169.02 99.46h6.08v6.08h-6.08zM290.72 99.46h6.08v6.08h-6.08zM351.57 99.46h6.08v6.08h-6.08zM357.65 99.46h6.08v6.08h-6.08zM53.40 105.55h6.08v6.08h-6.08zM59.49 105.55h6.08v6.08h-6.08zM102.08 105.55h6.08v6.08h-6.08zM120.34 105.55h6.08v6.08h-6.08zM126.42 105.55h6.08v6.08h-6.08zM169.02 105.55h6.08v6.08h-6.08zM193.36 105.55h6.08v6.08h-6.08zM199.44 105.55h6.08v6.08h-6.08zM260.29 105.55h6.08v6.08h-6.08zM266.38 105.55h6.08v6.08h-6.08zM272.46 105.55h6.08v6.08h-6.08zM284.63 105.55h6.08v6.08h-6.08zM59.49 111.63h6.08v6.08h-6.08zM156.85 111.63h6.08v6.08h-6.08zM162.93 111.63h6.08v6.08h-6.08zM181.19 111.63h6.08v6.08h-6.08zM193.36 111.63h6.08v6.08h-6.08zM53.40 117.72h6.08v6.08h-6.08zM120.34 117.72h6.08v6.08h-6.08zM187.27 117.72h6.08v6.08h-6.08zM193.36 117.72h6.08v6.08h-6.08zM199.44 117.72h6.08v6.08h-6.08zM223.78 117.72h6.08v6.08h-6.08zM53.40 123.80h6.08v6.08h-6.08zM89.91 123.80h6.08v6.08h-6.08zM150.76 123.80h6.08v6.08h-6.08zM205.53 123.80h6.08v6.08h-6.08zM211.61 123.80h6.08v6.08h-6.08zM223.78 123.80h6.08v6.08h-6.08zM41.23 129.88h6.08v6.08h-6.08zM71.66 129.88h6.08v6.08h-6.08zM199.44 129.88h6.08v6.08h-6.08zM205.53 129.88h6.08v6.08h-6.08zM211.61 129.88h6.08v6.08h-6.08zM217.70 129.88h6.08v6.08h-6.08zM223.78 129.88h6.08v6.08h-6.08zM229.87 129.88h6.08v6.08h-6.08zM205.53 135.97h6.08v6.08h-6.08zM229.87 135.97h6.08v6.08h-6.08zM235.95 135.97h6.08v6.08h-6.08zM205.53 142.06h6.08v6.08h-6.08zM211.61 142.06h6.08v6.08h-6.08zM217.70 142.06h6.08v6.08h-6.08zM223.78 148.14h6.08v6.08h-6.08zM229.87 148.14h6.08v6.08h-6.08zM65.57 154.23h6.08v6.08h-6.08zM162.93 154.23h6.08v6.08h-6.08zM169.02 154.23h6.08v6.08h-6.08zM223.78 154.23h6.08v6.08h-6.08zM223.78 160.31h6.08v6.08h-6.08zM150.76 166.39h6.08v6.08h-6.08zM229.87 166.39h6.08v6.08h-6.08zM235.95 166.39h6.08v6.08h-6.08zM242.04 166.39h6.08v6.08h-6.08zM248.12 166.39h6.08v6.08h-6.08zM150.76 172.48h6.08v6.08h-6.08zM156.85 172.48h6.08v6.08h-6.08zM248.12 172.48h6.08v6.08h-6.08zM248.12 178.56h6.08v6.08h-6.08zM248.12 184.65h6.08v6.08h-6.08zM114.25 190.74h6.08v6.08h-6.08zM120.34 190.74h6.08v6.08h-6.08zM144.68 190.74h6.08v6.08h-6.08zM108.17 196.82h6.08v6.08h-6.08zM114.25 196.82h6.08v6.08h-6.08zM120.34 196.82h6.08v6.08h-6.08zM126.42 196.82h6.08v6.08h-6.08zM132.51 196.82h6.08v6.08h-6.08zM138.59 196.82h6.08v6.08h-6.08zM144.68 196.82h6.08v6.08h-6.08zM248.12 196.82h6.08v6.08h-6.08zM108.17 202.91h6.08v6.08h-6.08zM114.25 202.91h6.08v6.08h-6.08zM120.34 202.91h6.08v6.08h-6.08zM126.42 202.91h6.08v6.08h-6.08zM132.51 202.91h6.08v6.08h-6.08zM138.59 202.91h6.08v6.08h-6.08zM144.68 202.91h6.08v6.08h-6.08zM211.61 202.91h6.08v6.08h-6.08zM248.12 202.91h6.08v6.08h-6.08zM254.21 208.99h6.08v6.08h-6.08zM254.21 215.07h6.08v6.08h-6.08zM254.21 221.16h6.08v6.08h-6.08zM260.29 221.16h6.08v6.08h-6.08zM254.21 227.25h6.08v6.08h-6.08zM260.29 227.25h6.08v6.08h-6.08z" fill="#3aa8fc"/>
<path d="M302.89 38.61h6.08v6.08h-6.08zM308.97 38.61h6.08v6.08h-6.08zM315.06 38.61h6.08v6.08h-6.08zM321.14 38.61h6.08v6.08h-6.08zM327.23 38.61h6.08v6.08h-6.08zM308.97 44.70h6.08v6.08h-6.08zM315.06 44.70h6.08v6.08h-6.08zM321.14 44.70h6.08v6.08h-6.08zM315.06 50.78h6.08v6.08h-6.08zM394.16 56.87h6.08v6.08h-6.08zM400.25 56.87h6.08v6.08h-6.08zM406.33 56.87h6.08v6.08h-6.08zM388.08 62.95h6.08v6.08h-6.08zM394.16 62.95h6.08v6.08h-6.08zM400.25 62.95h6.08v6.08h-6.08zM406.33 62.95h6.08v6.08h-6.08zM333.31 69.03h6.08v6.08h-6.08zM388.08 69.03h6.08v6.08h-6.08zM394.16 69.03h6.08v6.08h-6.08zM400.25 69.03h6.08v6.08h-6.08zM406.33 69.03h6.08v6.08h-6.08zM108.17 75.12h6.08v6.08h-6.08zM156.85 75.12h6.08v6.08h-6.08zM162.93 75.12h6.08v6.08h-6.08zM169.02 75.12h6.08v6.08h-6.08zM333.31 75.12h6.08v6.08h-6.08zM339.40 75.12h6.08v6.08h-6.08zM96.00 81.20h6.08v6.08h-6.08zM102.08 81.20h6.08v6.08h-6.08zM120.34 81.20h6.08v6.08h-6.08zM138.59 81.20h6.08v6.08h-6.08zM156.85 81.20h6.08v6.08h-6.08zM162.93 81.20h6.08v6.08h-6.08zM169.02 81.20h6.08v6.08h-6.08zM333.31 81.20h6.08v6.08h-6.08zM339.40 81.20h6.08v6.08h-6.08zM381.99 81.20h6.08v6.08h-6.08zM102.08 87.29h6.08v6.08h-6.08zM132.51 87.29h6.08v6.08h-6.08zM138.59 87.29h6.08v6.08h-6.08zM156.85 87.29h6.08v6.08h-6.08zM162.93 87.29h6.08v6.08h-6.08zM181.19 87.29h6.08v6.08h-6.08zM187.27 87.29h6.08v6.08h-6.08zM193.36 87.29h6.08v6.08h-6.08zM199.44 87.29h6.08v6.08h-6.08zM205.53 87.29h6.08v6.08h-6.08zM211.61 87.29h6.08v6.08h-6.08zM363.74 87.29h6.08v6.08h-6.08zM369.82 87.29h6.08v6.08h-6.08zM375.91 87.29h6.08v6.08h-6.08zM381.99 87.29h6.08v6.08h-6.08zM114.25 93.38h6.08v6.08h-6.08zM120.34 93.38h6.08v6.08h-6.08zM126.42 93.38h6.08v6.08h-6.08zM144.68 93.38h6.08v6.08h-6.08zM181.19 93.38h6.08v6.08h-6.08zM187.27 93.38h6.08v6.08h-6.08zM193.36 93.38h6.08v6.08h-6.08zM199.44 93.38h6.08v6.08h-6.08zM205.53 93.38h6.08v6.08h-6.08zM296.80 93.38h6.08v6.08h-6.08zM315.06 93.38h6.08v6.08h-6.08zM339.40 93.38h6.08v6.08h-6.08zM363.74 93.38h6.08v6.08h-6.08zM375.91 93.38h6.08v6.08h-6.08zM381.99 93.38h6.08v6.08h-6.08zM388.08 93.38h6.08v6.08h-6.08zM108.17 99.46h6.08v6.08h-6.08zM126.42 99.46h6.08v6.08h-6.08zM132.51 99.46h6.08v6.08h-6.08zM138.59 99.46h6.08v6.08h-6.08zM144.68 99.46h6.08v6.08h-6.08zM181.19 99.46h6.08v6.08h-6.08zM187.27 99.46h6.08v6.08h-6.08zM193.36 99.46h6.08v6.08h-6.08zM199.44 99.46h6.08v6.08h-6.08zM229.87 99.46h6.08v6.08h-6.08zM235.95 99.46h6.08v6.08h-6.08zM296.80 99.46h6.08v6.08h-6.08zM315.06 99.46h6.08v6.08h-6.08zM321.14 99.46h6.08v6.08h-6.08zM327.23 99.46h6.08v6.08h-6.08zM333.31 99.46h6.08v6.08h-6.08zM339.40 99.46h6.08v6.08h-6.08zM345.48 99.46h6.08v6.08h-6.08zM363.74 99.46h6.08v6.08h-6.08zM381.99 99.46h6.08v6.08h-6.08zM388.08 99.46h6.08v6.08h-6.08zM65.57 105.55h6.08v6.08h-6.08zM71.66 105.55h6.08v6.08h-6.08zM77.74 105.55h6.08v6.08h-6.08zM83.83 105.55h6.08v6.08h-6.08zM89.91 105.55h6.08v6.08h-6.08zM96.00 105.55h6.08v6.08h-6.08zM108.17 105.55h6.08v6.08h-6.08zM114.25 105.55h6.08v6.08h-6.08zM132.51 105.55h6.08v6.08h-6.08zM150.76 105.55h6.08v6.08h-6.08zM156.85 105.55h6.08v6.08h-6.08zM162.93 105.55h6.08v6.08h-6.08zM229.87 105.55h6.08v6.08h-6.08zM235.95 105.55h6.08v6.08h-6.08zM254.21 105.55h6.08v6.08h-6.08zM290.72 105.55h6.08v6.08h-6.08zM388.08 105.55h6.08v6.08h-6.08zM96.00 111.63h6.08v6.08h-6.08zM114.25 111.63h6.08v6.08h-6.08zM138.59 111.63h6.08v6.08h-6.08zM187.27 111.63h6.08v6.08h-6.08zM59.49 117.72h6.08v6.08h-6.08zM65.57 117.72h6.08v6.08h-6.08zM71.66 117.72h6.08v6.08h-6.08zM89.91 117.72h6.08v6.08h-6.08zM229.87 117.72h6.08v6.08h-6.08zM235.95 117.72h6.08v6.08h-6.08zM242.04 117.72h6.08v6.08h-6.08zM248.12 117.72h6.08v6.08h-6.08zM71.66 123.80h6.08v6.08h-6.08zM248.12 123.80h6.08v6.08h-6.08zM308.97 123.80h6.08v6.08h-6.08zM315.06 123.80h6.08v6.08h-6.08zM321.14 123.80h6.08v6.08h-6.08zM327.23 123.80h6.08v6.08h-6.08zM333.31 123.80h6.08v6.08h-6.08zM339.40 123.80h6.08v6.08h-6.08zM235.95 129.88h6.08v6.08h-6.08zM242.04 129.88h6.08v6.08h-6.08zM248.12 129.88h6.08v6.08h-6.08zM308.97 129.88h6.08v6.08h-6.08zM315.06 129.88h6.08v6.08h-6.08zM321.14 129.88h6.08v6.08h-6.08zM327.23 129.88h6.08v6.08h-6.08zM333.31 129.88h6.08v6.08h-6.08zM339.40 129.88h6.08v6.08h-6.08zM29.06 135.97h6.08v6.08h-6.08zM35.15 135.97h6.08v6.08h-6.08zM41.23 135.97h6.08v6.08h-6.08zM211.61 135.97h6.08v6.08h-6.08zM217.70 135.97h6.08v6.08h-6.08zM242.04 135.97h6.08v6.08h-6.08zM308.97 135.97h6.08v6.08h-6.08zM315.06 135.97h6.08v6.08h-6.08zM321.14 135.97h6.08v6.08h-6.08zM327.23 135.97h6.08v6.08h-6.08zM333.31 135.97h6.08v6.08h-6.08zM339.40 135.97h6.08v6.08h-6.08zM29.06 142.06h6.08v6.08h-6.08zM35.15 142.06h6.08v6.08h-6.08zM235.95 142.06h6.08v6.08h-6.08zM315.06 142.06h6.08v6.08h-6.08zM321.14 142.06h6.08v6.08h-6.08zM327.23 142.06h6.08v6.08h-6.08zM333.31 142.06h6.08v6.08h-6.08zM339.40 142.06h6.08v6.08h-6.08zM29.06 148.14h6.08v6.08h-6.08zM315.06 148.14h6.08v6.08h-6.08zM321.14 148.14h6.08v6.08h-6.08zM327.23 148.14h6.08v6.08h-6.08zM229.87 154.23h6.08v6.08h-6.08zM235.95 154.23h6.08v6.08h-6.08zM315.06 154.23h6.08v6.08h-6.08zM321.14 154.23h6.08v6.08h-6.08zM229.87 160.31h6.08v6.08h-6.08zM235.95 160.31h6.08v6.08h-6.08zM242.04 160.31h6.08v6.08h-6.08zM248.12 160.31h6.08v6.08h-6.08zM254.21 160.31h6.08v6.08h-6.08zM254.21 166.39h6.08v6.08h-6.08zM278.55 166.39h6.08v6.08h-6.08zM284.63 166.39h6.08v6.08h-6.08zM254.21 172.48h6.08v6.08h-6.08zM260.29 172.48h6.08v6.08h-6.08zM254.21 178.56h6.08v6.08h-6.08zM260.29 178.56h6.08v6.08h-6.08zM266.38 178.56h6.08v6.08h-6.08zM96.00 184.65h6.08v6.08h-6.08zM102.08 184.65h6.08v6.08h-6.08zM120.34 184.65h6.08v6.08h-6.08zM138.59 184.65h6.08v6.08h-6.08zM144.68 184.65h6.08v6.08h-6.08zM254.21 184.65h6.08v6.08h-6.08zM260.29 184.65h6.08v6.08h-6.08zM89.91 190.74h6.08v6.08h-6.08zM96.00 190.74h6.08v6.08h-6.08zM102.08 190.74h6.08v6.08h-6.08zM138.59 190.74h6.08v6.08h-6.08zM150.76 190.74h6.08v6.08h-6.08zM205.53 190.74h6.08v6.08h-6.08zM254.21 190.74h6.08v6.08h-6.08zM83.83 196.82h6.08v6.08h-6.08zM89.91 196.82h6.08v6.08h-6.08zM96.00 196.82h6.08v6.08h-6.08zM102.08 196.82h6.08v6.08h-6.08zM150.76 196.82h6.08v6.08h-6.08zM156.85 196.82h6.08v6.08h-6.08zM254.21 196.82h6.08v6.08h-6.08zM150.76 202.91h6.08v6.08h-6.08zM156.85 202.91h6.08v6.08h-6.08zM205.53 202.91h6.08v6.08h-6.08zM254.21 202.91h6.08v6.08h-6.08zM211.61 208.99h6.08v6.08h-6.08zM217.70 208.99h6.08v6.08h-6.08zM260.29 215.07h6.08v6.08h-6.08z" fill="#00fcfc"/>
<path d="M278.55 44.70h6.08v6.08h-6.08zM284.63 44.70h6.08v6.08h-6.08zM290.72 44.70h6.08v6.08h-6.08zM296.80 44.70h6.08v6.08h-6.08zM272.46 50.78h6.08v6.08h-6.08zM278.55 50.78h6.08v6.08h-6.08zM284.63 50.78h6.08v6.08h-6.08zM290.72 50.78h6.08v6.08h-6.08zM296.80 50.78h6.08v6.08h-6.08zM302.89 50.78h6.08v6.08h-6.08zM272.46 56.87h6.08v6.08h-6.08zM278.55 56.87h6.08v6.08h-6.08zM284.63 56.87h6.08v6.08h-6.08zM290.72 56.87h6.08v6.08h-6.08zM296.80 56.87h6.08v6.08h-6.08zM302.89 56.87h6.08v6.08h-6.08zM272.46 62.95h6.08v6.08h-6.08zM278.55 62.95h6.08v6.08h-6.08zM284.63 62.95h6.08v6.08h-6.08zM290.72 62.95h6.08v6.08h-6.08zM296.80 62.95h6.08v6.08h-6.08zM302.89 62.95h6.08v6.08h-6.08zM351.57 62.95h6.08v6.08h-6.08zM357.65 62.95h6.08v6.08h-6.08zM272.46 69.03h6.08v6.08h-6.08zM278.55 69.03h6.08v6.08h-6.08zM284.63 69.03h6.08v6.08h-6.08zM290.72 69.03h6.08v6.08h-6.08zM296.80 69.03h6.08v6.08h-6.08zM302.89 69.03h6.08v6.08h-6.08zM351.57 69.03h6.08v6.08h-6.08zM59.49 75.12h6.08v6.08h-6.08zM65.57 75.12h6.08v6.08h-6.08zM248.12 75.12h6.08v6.08h-6.08zM254.21 75.12h6.08v6.08h-6.08zM260.29 75.12h6.08v6.08h-6.08zM296.80 75.12h6.08v6.08h-6.08zM302.89 75.12h6.08v6.08h-6.08zM59.49 81.20h6.08v6.08h-6.08zM65.57 81.20h6.08v6.08h-6.08zM71.66 81.20h6.08v6.08h-6.08zM248.12 81.20h6.08v6.08h-6.08zM254.21 81.20h6.08v6.08h-6.08zM260.29 81.20h6.08v6.08h-6.08zM59.49 87.29h6.08v6.08h-6.08zM65.57 87.29h6.08v6.08h-6.08zM71.66 87.29h6.08v6.08h-6.08zM248.12 87.29h6.08v6.08h-6.08zM254.21 87.29h6.08v6.08h-6.08zM260.29 87.29h6.08v6.08h-6.08zM272.46 87.29h6.08v6.08h-6.08zM211.61 111.63h6.08v6.08h-6.08zM217.70 111.63h6.08v6.08h-6.08zM41.23 117.72h6.08v6.08h-6.08zM169.02 117.72h6.08v6.08h-6.08zM175.10 117.72h6.08v6.08h-6.08zM41.23 123.80h6.08v6.08h-6.08zM114.25 123.80h6.08v6.08h-6.08zM120.34 123.80h6.08v6.08h-6.08zM132.51 123.80h6.08v6.08h-6.08zM96.00 129.88h6.08v6.08h-6.08zM120.34 129.88h6.08v6.08h-6.08zM77.74 135.97h6.08v6.08h-6.08zM89.91 135.97h6.08v6.08h-6.08zM187.27 135.97h6.08v6.08h-6.08zM71.66 142.06h6.08v6.08h-6.08zM77.74 142.06h6.08v6.08h-6.08zM187.27 142.06h6.08v6.08h-6.08zM193.36 148.14h6.08v6.08h-6.08zM205.53 154.23h6.08v6.08h-6.08zM211.61 154.23h6.08v6.08h-6.08zM169.02 166.39h6.08v6.08h-6.08zM175.10 166.39h6.08v6.08h-6.08zM205.53 166.39h6.08v6.08h-6.08zM211.61 166.39h6.08v6.08h-6.08zM217.70 166.39h6.08v6.08h-6.08zM59.49 172.48h6.08v6.08h-6.08zM65.57 172.48h6.08v6.08h-6.08zM71.66 172.48h6.08v6.08h-6.08zM77.74 172.48h6.08v6.08h-6.08zM169.02 172.48h6.08v6.08h-6.08zM175.10 172.48h6.08v6.08h-6.08zM181.19 172.48h6.08v6.08h-6.08zM199.44 172.48h6.08v6.08h-6.08zM205.53 172.48h6.08v6.08h-6.08zM211.61 172.48h6.08v6.08h-6.08zM217.70 172.48h6.08v6.08h-6.08zM223.78 172.48h6.08v6.08h-6.08zM53.40 178.56h6.08v6.08h-6.08zM59.49 178.56h6.08v6.08h-6.08zM65.57 178.56h6.08v6.08h-6.08zM71.66 178.56h6.08v6.08h-6.08zM138.59 178.56h6.08v6.08h-6.08zM144.68 178.56h6.08v6.08h-6.08zM175.10 178.56h6.08v6.08h-6.08zM181.19 178.56h6.08v6.08h-6.08zM187.27 178.56h6.08v6.08h-6.08zM193.36 178.56h6.08v6.08h-6.08zM199.44 178.56h6.08v6.08h-6.08zM205.53 178.56h6.08v6.08h-6.08zM211.61 178.56h6.08v6.08h-6.08zM217.70 178.56h6.08v6.08h-6.08zM223.78 178.56h6.08v6.08h-6.08zM53.40 184.65h6.08v6.08h-6.08zM59.49 184.65h6.08v6.08h-6.08zM65.57 184.65h6.08v6.08h-6.08zM199.44 184.65h6.08v6.08h-6.08zM205.53 184.65h6.08v6.08h-6.08zM211.61 184.65h6.08v6.08h-6.08zM217.70 184.65h6.08v6.08h-6.08zM223.78 184.65h6.08v6.08h-6.08zM229.87 184.65h6.08v6.08h-6.08zM235.95 184.65h6.08v6.08h-6.08zM211.61 190.74h6.08v6.08h-6.08zM217.70 190.74h6.08v6.08h-6.08zM223.78 190.74h6.08v6.08h-6.08zM229.87 190.74h6.08v6.08h-6.08zM235.95 190.74h6.08v6.08h-6.08zM211.61 196.82h6.08v6.08h-6.08zM217.70 196.82h6.08v6.08h-6.08zM223.78 196.82h6.08v6.08h-6.08zM229.87 196.82h6.08v6.08h-6.08zM235.95 196.82h6.08v6.08h-6.08zM217.70 202.91h6.08v6.08h-6.08zM223.78 202.91h6.08v6.08h-6.08zM229.87 202.91h6.08v6.08h-6.08zM235.95 202.91h6.08v6.08h-6.08zM223.78 208.99h6.08v6.08h-6.08zM242.04 208.99h6.08v6.08h-6.08z" fill="#0000fc"/>
<path d="M327.23 44.70h6.08v6.08h-6.08zM345.48 44.70h6.08v6.08h-6.08zM327.23 56.87h6.08v6.08h-6.08zM150.76 75.12h6.08v6.08h-6.08zM126.42 81.20h6.08v6.08h-6.08zM132.51 81.20h6.08v6.08h-6.08zM150.76 81.20h6.08v6.08h-6.08zM266.38 81.20h6.08v6.08h-6.08zM150.76 87.29h6.08v6.08h-6.08zM229.87 87.29h6.08v6.08h-6.08zM235.95 87.29h6.08v6.08h-6.08zM242.04 87.29h6.08v6.08h-6.08zM266.38 87.29h6.08v6.08h-6.08zM175.10 93.38h6.08v6.08h-6.08zM211.61 93.38h6.08v6.08h-6.08zM217.70 93.38h6.08v6.08h-6.08zM223.78 93.38h6.08v6.08h-6.08zM229.87 93.38h6.08v6.08h-6.08zM235.95 93.38h6.08v6.08h-6.08zM242.04 93.38h6.08v6.08h-6.08zM29.06 99.46h6.08v6.08h-6.08zM35.15 99.46h6.08v6.08h-6.08zM41.23 99.46h6.08v6.08h-6.08zM175.10 99.46h6.08v6.08h-6.08zM205.53 99.46h6.08v6.08h-6.08zM211.61 99.46h6.08v6.08h-6.08zM217.70 99.46h6.08v6.08h-6.08zM223.78 99.46h6.08v6.08h-6.08zM242.04 99.46h6.08v6.08h-6.08zM260.29 99.46h6.08v6.08h-6.08zM29.06 105.55h6.08v6.08h-6.08zM35.15 105.55h6.08v6.08h-6.08zM41.23 105.55h6.08v6.08h-6.08zM47.32 105.55h6.08v6.08h-6.08zM144.68 105.55h6.08v6.08h-6.08zM181.19 105.55h6.08v6.08h-6.08zM205.53 105.55h6.08v6.08h-6.08zM211.61 105.55h6.08v6.08h-6.08zM217.70 105.55h6.08v6.08h-6.08zM223.78 105.55h6.08v6.08h-6.08zM35.15 111.63h6.08v6.08h-6.08zM41.23 111.63h6.08v6.08h-6.08zM47.32 111.63h6.08v6.08h-6.08zM53.40 111.63h6.08v6.08h-6.08zM102.08 111.63h6.08v6.08h-6.08zM120.34 111.63h6.08v6.08h-6.08zM126.42 111.63h6.08v6.08h-6.08zM132.51 111.63h6.08v6.08h-6.08zM144.68 111.63h6.08v6.08h-6.08zM150.76 111.63h6.08v6.08h-6.08zM199.44 111.63h6.08v6.08h-6.08zM205.53 111.63h6.08v6.08h-6.08zM223.78 111.63h6.08v6.08h-6.08zM35.15 117.72h6.08v6.08h-6.08zM77.74 117.72h6.08v6.08h-6.08zM96.00 117.72h6.08v6.08h-6.08zM102.08 117.72h6.08v6.08h-6.08zM108.17 117.72h6.08v6.08h-6.08zM114.25 117.72h6.08v6.08h-6.08zM126.42 117.72h6.08v6.08h-6.08zM132.51 117.72h6.08v6.08h-6.08zM138.59 117.72h6.08v6.08h-6.08zM144.68 117.72h6.08v6.08h-6.08zM162.93 117.72h6.08v6.08h-6.08zM217.70 117.72h6.08v6.08h-6.08zM29.06 123.80h6.08v6.08h-6.08zM35.15 123.80h6.08v6.08h-6.08zM59.49 123.80h6.08v6.08h-6.08zM65.57 123.80h6.08v6.08h-6.08zM77.74 123.80h6.08v6.08h-6.08zM83.83 123.80h6.08v6.08h-6.08zM108.17 123.80h6.08v6.08h-6.08zM126.42 123.80h6.08v6.08h-6.08zM162.93 123.80h6.08v6.08h-6.08zM169.02 123.80h6.08v6.08h-6.08zM175.10 123.80h6.08v6.08h-6.08zM217.70 123.80h6.08v6.08h-6.08zM29.06 129.88h6.08v6.08h-6.08zM35.15 129.88h6.08v6.08h-6.08zM89.91 129.88h6.08v6.08h-6.08zM102.08 129.88h6.08v6.08h-6.08zM108.17 129.88h6.08v6.08h-6.08zM114.25 129.88h6.08v6.08h-6.08zM126.42 129.88h6.08v6.08h-6.08zM132.51 129.88h6.08v6.08h-6.08zM47.32 135.97h6.08v6.08h-6.08zM53.40 135.97h6.08v6.08h-6.08zM83.83 135.97h6.08v6.08h-6.08zM96.00 135.97h6.08v6.08h-6.08zM102.08 135.97h6.08v6.08h-6.08zM108.17 135.97h6.08v6.08h-6.08zM114.25 135.97h6.08v6.08h-6.08zM120.34 135.97h6.08v6.08h-6.08zM126.42 135.97h6.08v6.08h-6.08zM132.51 135.97h6.08v6.08h-6.08zM41.23 142.06h6.08v6.08h-6.08zM47.32 142.06h6.08v6.08h-6.08zM53.40 142.06h6.08v6.08h-6.08zM59.49 142.06h6.08v6.08h-6.08zM65.57 142.06h6.08v6.08h-6.08zM89.91 142.06h6.08v6.08h-6.08zM96.00 142.06h6.08v6.08h-6.08zM108.17 142.06h6.08v6.08h-6.08zM114.25 142.06h6.08v6.08h-6.08zM120.34 142.06h6.08v6.08h-6.08zM126.42 142.06h6.08v6.08h-6.08zM132.51 142.06h6.08v6.08h-6.08zM138.59 142.06h6.08v6.08h-6.08zM144.68 142.06h6.08v6.08h-6.08zM162.93 142.06h6.08v6.08h-6.08zM169.02 142.06h6.08v6.08h-6.08zM35.15 148.14h6.08v6.08h-6.08zM41.23 148.14h6.08v6.08h-6.08zM47.32 148.14h6.08v6.08h-6.08zM53.40 148.14h6.08v6.08h-6.08zM59.49 148.14h6.08v6.08h-6.08zM65.57 148.14h6.08v6.08h-6.08zM71.66 148.14h6.08v6.08h-6.08zM77.74 148.14h6.08v6.08h-6.08zM89.91 148.14h6.08v6.08h-6.08zM96.00 148.14h6.08v6.08h-6.08zM102.08 148.14h6.08v6.08h-6.08zM108.17 148.14h6.08v6.08h-6.08zM114.25 148.14h6.08v6.08h-6.08zM120.34 148.14h6.08v6.08h-6.08zM132.51 148.14h6.08v6.08h-6.08zM138.59 148.14h6.08v6.08h-6.08zM150.76 148.14h6.08v6.08h-6.08zM156.85 148.14h6.08v6.08h-6.08zM169.02 148.14h6.08v6.08h-6.08zM175.10 148.14h6.08v6.08h-6.08zM187.27 148.14h6.08v6.08h-6.08zM35.15 154.23h6.08v6.08h-6.08zM41.23 154.23h6.08v6.08h-6.08zM47.32 154.23h6.08v6.08h-6.08zM53.40 154.23h6.08v6.08h-6.08zM59.49 154.23h6.08v6.08h-6.08zM71.66 154.23h6.08v6.08h-6.08zM77.74 154.23h6.08v6.08h-6.08zM83.83 154.23h6.08v6.08h-6.08zM89.91 154.23h6.08v6.08h-6.08zM96.00 154.23h6.08v6.08h-6.08zM102.08 154.23h6.08v6.08h-6.08zM108.17 154.23h6.08v6.08h-6.08zM114.25 154.23h6.08v6.08h-6.08zM120.34 154.23h6.08v6.08h-6.08zM126.42 154.23h6.08v6.08h-6.08zM132.51 154.23h6.08v6.08h-6.08zM138.59 154.23h6.08v6.08h-6.08zM150.76 154.23h6.08v6.08h-6.08zM156.85 154.23h6.08v6.08h-6.08zM47.32 160.31h6.08v6.08h-6.08zM53.40 160.31h6.08v6.08h-6.08zM59.49 160.31h6.08v6.08h-6.08zM65.57 160.31h6.08v6.08h-6.08zM77.74 160.31h6.08v6.08h-6.08zM83.83 160.31h6.08v6.08h-6.08zM89.91 160.31h6.08v6.08h-6.08zM96.00 160.31h6.08v6.08h-6.08zM102.08 160.31h6.08v6.08h-6.08zM108.17 160.31h6.08v6.08h-6.08zM114.25 160.31h6.08v6.08h-6.08zM120.34 160.31h6.08v6.08h-6.08zM126.42 160.31h6.08v6.08h-6.08zM132.51 160.31h6.08v6.08h-6.08zM150.76 160.31h6.08v6.08h-6.08zM156.85 160.31h6.08v6.08h-6.08zM187.27 160.31h6.08v6.08h-6.08zM65.57 166.39h6.08v6.08h-6.08zM71.66 166.39h6.08v6.08h-6.08zM77.74 166.39h6.08v6.08h-6.08zM83.83 166.39h6.08v6.08h-6.08zM89.91 166.39h6.08v6.08h-6.08zM96.00 166.39h6.08v6.08h-6.08zM102.08 166.39h6.08v6.08h-6.08zM108.17 166.39h6.08v6.08h-6.08zM120.34 166.39h6.08v6.08h-6.08zM156.85 166.39h6.08v6.08h-6.08zM83.83 172.48h6.08v6.08h-6.08zM89.91 172.48h6.08v6.08h-6.08zM96.00 172.48h6.08v6.08h-6.08zM102.08 172.48h6.08v6.08h-6.08zM108.17 172.48h6.08v6.08h-6.08zM114.25 172.48h6.08v6.08h-6.08zM126.42 172.48h6.08v6.08h-6.08zM144.68 172.48h6.08v6.08h-6.08zM77.74 178.56h6.08v6.08h-6.08zM83.83 178.56h6.08v6.08h-6.08zM89.91 178.56h6.08v6.08h-6.08zM96.00 178.56h6.08v6.08h-6.08zM102.08 178.56h6.08v6.08h-6.08zM108.17 178.56h6.08v6.08h-6.08zM169.02 178.56h6.08v6.08h-6.08zM71.66 184.65h6.08v6.08h-6.08zM77.74 184.65h6.08v6.08h-6.08zM83.83 184.65h6.08v6.08h-6.08zM89.91 184.65h6.08v6.08h-6.08zM108.17 184.65h6.08v6.08h-6.08zM150.76 184.65h6.08v6.08h-6.08zM71.66 190.74h6.08v6.08h-6.08zM77.74 190.74h6.08v6.08h-6.08zM83.83 190.74h6.08v6.08h-6.08zM108.17 190.74h6.08v6.08h-6.08z" fill="url(#hatch)"/>
<path d="M89.91 56.87h6.08v6.08h-6.08zM132.51 56.87h6.08v6.08h-6.08zM138.59 56.87h6.08v6.08h-6.08zM308.97 56.87h6.08v6.08h-6.08zM339.40 56.87h6.08v6.08h-6.08zM345.48 56.87h6.08v6.08h-6.08zM351.57 56.87h6.08v6.08h-6.08zM357.65 56.87h6.08v6.08h-6.08zM363.74 56.87h6.08v6.08h-6.08zM71.66 62.95h6.08v6.08h-6.08zM77.74 62.95h6.08v6.08h-6.08zM83.83 62.95h6.08v6.08h-6.08zM89.91 62.95h6.08v6.08h-6.08zM96.00 62.95h6.08v6.08h-6.08zM126.42 62.95h6.08v6.08h-6.08zM132.51 62.95h6.08v6.08h-6.08zM138.59 62.95h6.08v6.08h-6.08zM144.68 62.95h6.08v6.08h-6.08zM308.97 62.95h6.08v6.08h-6.08zM345.48 62.95h6.08v6.08h-6.08zM363.74 62.95h6.08v6.08h-6.08zM369.82 62.95h6.08v6.08h-6.08zM71.66 69.03h6.08v6.08h-6.08zM77.74 69.03h6.08v6.08h-6.08zM83.83 69.03h6.08v6.08h-6.08zM89.91 69.03h6.08v6.08h-6.08zM96.00 69.03h6.08v6.08h-6.08zM102.08 69.03h6.08v6.08h-6.08zM120.34 69.03h6.08v6.08h-6.08zM126.42 69.03h6.08v6.08h-6.08zM132.51 69.03h6.08v6.08h-6.08zM138.59 69.03h6.08v6.08h-6.08zM144.68 69.03h6.08v6.08h-6.08zM266.38 69.03h6.08v6.08h-6.08zM308.97 69.03h6.08v6.08h-6.08zM315.06 69.03h6.08v6.08h-6.08zM345.48 69.03h6.08v6.08h-6.08zM357.65 69.03h6.08v6.08h-6.08zM363.74 69.03h6.08v6.08h-6.08zM369.82 69.03h6.08v6.08h-6.08zM71.66 75.12h6.08v6.08h-6.08zM77.74 75.12h6.08v6.08h-6.08zM83.83 75.12h6.08v6.08h-6.08zM89.91 75.12h6.08v6.08h-6.08zM126.42 75.12h6.08v6.08h-6.08zM132.51 75.12h6.08v6.08h-6.08zM138.59 75.12h6.08v6.08h-6.08zM144.68 75.12h6.08v6.08h-6.08zM266.38 75.12h6.08v6.08h-6.08zM272.46 75.12h6.08v6.08h-6.08zM278.55 75.12h6.08v6.08h-6.08zM284.63 75.12h6.08v6.08h-6.08zM290.72 75.12h6.08v6.08h-6.08zM308.97 75.12h6.08v6.08h-6.08zM315.06 75.12h6.08v6.08h-6.08zM321.14 75.12h6.08v6.08h-6.08zM327.23 75.12h6.08v6.08h-6.08zM345.48 75.12h6.08v6.08h-6.08zM351.57 75.12h6.08v6.08h-6.08zM357.65 75.12h6.08v6.08h-6.08zM77.74 81.20h6.08v6.08h-6.08zM272.46 81.20h6.08v6.08h-6.08zM278.55 81.20h6.08v6.08h-6.08zM284.63 81.20h6.08v6.08h-6.08zM290.72 81.20h6.08v6.08h-6.08zM296.80 81.20h6.08v6.08h-6.08zM302.89 81.20h6.08v6.08h-6.08zM308.97 81.20h6.08v6.08h-6.08zM315.06 81.20h6.08v6.08h-6.08zM321.14 81.20h6.08v6.08h-6.08zM351.57 81.20h6.08v6.08h-6.08zM77.74 87.29h6.08v6.08h-6.08zM83.83 87.29h6.08v6.08h-6.08zM278.55 87.29h6.08v6.08h-6.08zM284.63 87.29h6.08v6.08h-6.08zM290.72 87.29h6.08v6.08h-6.08zM296.80 87.29h6.08v6.08h-6.08zM351.57 87.29h6.08v6.08h-6.08zM65.57 93.38h6.08v6.08h-6.08zM71.66 93.38h6.08v6.08h-6.08zM77.74 93.38h6.08v6.08h-6.08zM83.83 93.38h6.08v6.08h-6.08zM89.91 93.38h6.08v6.08h-6.08zM96.00 93.38h6.08v6.08h-6.08zM102.08 93.38h6.08v6.08h-6.08zM108.17 93.38h6.08v6.08h-6.08zM248.12 93.38h6.08v6.08h-6.08zM254.21 93.38h6.08v6.08h-6.08zM260.29 93.38h6.08v6.08h-6.08zM266.38 93.38h6.08v6.08h-6.08zM272.46 93.38h6.08v6.08h-6.08zM278.55 93.38h6.08v6.08h-6.08zM284.63 93.38h6.08v6.08h-6.08zM351.57 93.38h6.08v6.08h-6.08zM77.74 99.46h6.08v6.08h-6.08zM83.83 99.46h6.08v6.08h-6.08zM89.91 99.46h6.08v6.08h-6.08zM96.00 99.46h6.08v6.08h-6.08zM254.21 99.46h6.08v6.08h-6.08zM266.38 99.46h6.08v6.08h-6.08zM272.46 99.46h6.08v6.08h-6.08zM278.55 99.46h6.08v6.08h-6.08zM284.63 99.46h6.08v6.08h-6.08zM175.10 105.55h6.08v6.08h-6.08zM187.27 105.55h6.08v6.08h-6.08zM278.55 105.55h6.08v6.08h-6.08zM29.06 111.63h6.08v6.08h-6.08zM169.02 111.63h6.08v6.08h-6.08zM175.10 111.63h6.08v6.08h-6.08zM29.06 117.72h6.08v6.08h-6.08zM47.32 117.72h6.08v6.08h-6.08zM150.76 117.72h6.08v6.08h-6.08zM156.85 117.72h6.08v6.08h-6.08zM181.19 117.72h6.08v6.08h-6.08zM205.53 117.72h6.08v6.08h-6.08zM211.61 117.72h6.08v6.08h-6.08zM47.32 123.80h6.08v6.08h-6.08zM96.00 123.80h6.08v6.08h-6.08zM102.08 123.80h6.08v6.08h-6.08zM138.59 123.80h6.08v6.08h-6.08zM144.68 123.80h6.08v6.08h-6.08zM156.85 123.80h6.08v6.08h-6.08zM181.19 123.80h6.08v6.08h-6.08zM187.27 123.80h6.08v6.08h-6.08zM193.36 123.80h6.08v6.08h-6.08zM199.44 123.80h6.08v6.08h-6.08zM47.32 129.88h6.08v6.08h-6.08zM53.40 129.88h6.08v6.08h-6.08zM59.49 129.88h6.08v6.08h-6.08zM65.57 129.88h6.08v6.08h-6.08zM77.74 129.88h6.08v6.08h-6.08zM83.83 129.88h6.08v6.08h-6.08zM138.59 129.88h6.08v6.08h-6.08zM144.68 129.88h6.08v6.08h-6.08zM150.76 129.88h6.08v6.08h-6.08zM156.85 129.88h6.08v6.08h-6.08zM162.93 129.88h6.08v6.08h-6.08zM169.02 129.88h6.08v6.08h-6.08zM175.10 129.88h6.08v6.08h-6.08zM181.19 129.88h6.08v6.08h-6.08zM187.27 129.88h6.08v6.08h-6.08zM193.36 129.88h6.08v6.08h-6.08zM59.49 135.97h6.08v6.08h-6.08zM65.57 135.97h6.08v6.08h-6.08zM71.66 135.97h6.08v6.08h-6.08zM138.59 135.97h6.08v6.08h-6.08zM144.68 135.97h6.08v6.08h-6.08zM150.76 135.97h6.08v6.08h-6.08zM156.85 135.97h6.08v6.08h-6.08zM162.93 135.97h6.08v6.08h-6.08zM169.02 135.97h6.08v6.08h-6.08zM175.10 135.97h6.08v6.08h-6.08zM181.19 135.97h6.08v6.08h-6.08zM193.36 135.97h6.08v6.08h-6.08zM199.44 135.97h6.08v6.08h-6.08zM223.78 135.97h6.08v6.08h-6.08zM83.83 142.06h6.08v6.08h-6.08zM102.08 142.06h6.08v6.08h-6.08zM150.76 142.06h6.08v6.08h-6.08zM156.85 142.06h6.08v6.08h-6.08zM175.10 142.06h6.08v6.08h-6.08zM181.19 142.06h6.08v6.08h-6.08zM193.36 142.06h6.08v6.08h-6.08zM199.44 142.06h6.08v6.08h-6.08zM223.78 142.06h6.08v6.08h-6.08zM229.87 142.06h6.08v6.08h-6.08zM83.83 148.14h6.08v6.08h-6.08zM126.42 148.14h6.08v6.08h-6.08zM144.68 148.14h6.08v6.08h-6.08zM162.93 148.14h6.08v6.08h-6.08zM181.19 148.14h6.08v6.08h-6.08zM199.44 148.14h6.08v6.08h-6.08zM205.53 148.14h6.08v6.08h-6.08zM211.61 148.14h6.08v6.08h-6.08zM217.70 148.14h6.08v6.08h-6.08zM144.68 154.23h6.08v6.08h-6.08zM175.10 154.23h6.08v6.08h-6.08zM181.19 154.23h6.08v6.08h-6.08zM187.27 154.23h6.08v6.08h-6.08zM193.36 154.23h6.08v6.08h-6.08zM199.44 154.23h6.08v6.08h-6.08zM217.70 154.23h6.08v6.08h-6.08zM71.66 160.31h6.08v6.08h-6.08zM138.59 160.31h6.08v6.08h-6.08zM144.68 160.31h6.08v6.08h-6.08zM162.93 160.31h6.08v6.08h-6.08zM169.02 160.31h6.08v6.08h-6.08zM175.10 160.31h6.08v6.08h-6.08zM181.19 160.31h6.08v6.08h-6.08zM193.36 160.31h6.08v6.08h-6.08zM199.44 160.31h6.08v6.08h-6.08zM205.53 160.31h6.08v6.08h-6.08zM211.61 160.31h6.08v6.08h-6.08zM217.70 160.31h6.08v6.08h-6.08zM47.32 166.39h6.08v6.08h-6.08zM53.40 166.39h6.08v6.08h-6.08zM59.49 166.39h6.08v6.08h-6.08zM114.25 166.39h6.08v6.08h-6.08zM126.42 166.39h6.08v6.08h-6.08zM132.51 166.39h6.08v6.08h-6.08zM138.59 166.39h6.08v6.08h-6.08zM144.68 166.39h6.08v6.08h-6.08zM162.93 166.39h6.08v6.08h-6.08zM181.19 166.39h6.08v6.08h-6.08zM187.27 166.39h6.08v6.08h-6.08zM193.36 166.39h6.08v6.08h-6.08zM199.44 166.39h6.08v6.08h-6.08zM223.78 166.39h6.08v6.08h-6.08zM47.32 172.48h6.08v6.08h-6.08zM53.40 172.48h6.08v6.08h-6.08zM120.34 172.48h6.08v6.08h-6.08zM132.51 172.48h6.08v6.08h-6.08zM138.59 172.48h6.08v6.08h-6.08zM162.93 172.48h6.08v6.08h-6.08zM187.27 172.48h6.08v6.08h-6.08zM193.36 172.48h6.08v6.08h-6.08zM229.87 172.48h6.08v6.08h-6.08zM235.95 172.48h6.08v6.08h-6.08zM242.04 172.48h6.08v6.08h-6.08zM47.32 178.56h6.08v6.08h-6.08zM132.51 178.56h6.08v6.08h-6.08zM150.76 178.56h6.08v6.08h-6.08zM156.85 178.56h6.08v6.08h-6.08zM162.93 178.56h6.08v6.08h-6.08zM229.87 178.56h6.08v6.08h-6.08zM235.95 178.56h6.08v6.08h-6.08zM242.04 178.56h6.08v6.08h-6.08zM242.04 184.65h6.08v6.08h-6.08zM242.04 190.74h6.08v6.08h-6.08zM248.12 190.74h6.08v6.08h-6.08zM242.04 196.82h6.08v6.08h-6.08zM242.04 202.91h6.08v6.08h-6.08zM229.87 208.99h6.08v6.08h-6.08zM235.95 208.99h6.08v6.08h-6.08zM248.12 208.99h6.08v6.08h-6.08zM223.78 215.07h6.08v6.08h-6.08zM229.87 215.07h6.08v6.08h-6.08zM235.95 215.07h6.08v6.08h-6.08zM242.04 215.07h6.08v6.08h-6.08zM248.12 215.07h6.08v6.08h-6.08zM223.78 221.16h6.08v6.08h-6.08zM229.87 221.16h6.08v6.08h-6.08zM235.95 221.16h6.08v6.08h-6.08zM242.04 221.16h6.08v6.08h-6.08zM248.12 221.16h6.08v6.08h-6.08zM223.78 227.25h6.08v6.08h-6.08zM229.87 227.25h6.08v6.08h-6.08zM235.95 227.25h6.08v6.08h-6.08zM242.04 227.25h6.08v6.08h-6.08zM248.12 227.25h6.08v6.08h-6.08zM217.70 233.33h6.08v6.08h-6.08zM223.78 233.33h6.08v6.08h-6.08zM229.87 233.33h6.08v6.08h-6.08zM235.95 233.33h6.08v6.08h-6.08z" fill="#3b5efc"/>
<path d="M108.17 81.20h6.08v6.08h-6.08zM114.25 81.20h6.08v6.08h-6.08zM144.68 81.20h6.08v6.08h-6.08zM175.10 81.20h6.08v6.08h-6.08zM108.17 87.29h6.08v6.08h-6.08zM114.25 87.29h6.08v6.08h-6.08zM120.34 87.29h6.08v6.08h-6.08zM126.42 87.29h6.08v6.08h-6.08zM144.68 87.29h6.08v6.08h-6.08zM169.02 87.29h6.08v6.08h-6.08zM175.10 87.29h6.08v6.08h-6.08zM132.51 93.38h6.08v6.08h-6.08zM138.59 93.38h6.08v6.08h-6.08zM162.93 93.38h6.08v6.08h-6.08zM302.89 93.38h6.08v6.08h-6.08zM308.97 93.38h6.08v6.08h-6.08zM369.82 93.38h6.08v6.08h-6.08zM248.12 99.46h6.08v6.08h-6.08zM302.89 99.46h6.08v6.08h-6.08zM308.97 99.46h6.08v6.08h-6.08zM369.82 99.46h6.08v6.08h-6.08zM375.91 99.46h6.08v6.08h-6.08zM138.59 105.55h6.08v6.08h-6.08zM242.04 105.55h6.08v6.08h-6.08zM248.12 105.55h6.08v6.08h-6.08zM315.06 105.55h6.08v6.08h-6.08zM321.14 105.55h6.08v6.08h-6.08zM327.23 105.55h6.08v6.08h-6.08zM333.31 105.55h6.08v6.08h-6.08zM339.40 105.55h6.08v6.08h-6.08zM345.48 105.55h6.08v6.08h-6.08zM351.57 105.55h6.08v6.08h-6.08zM357.65 105.55h6.08v6.08h-6.08zM363.74 105.55h6.08v6.08h-6.08zM369.82 105.55h6.08v6.08h-6.08zM375.91 105.55h6.08v6.08h-6.08zM381.99 105.55h6.08v6.08h-6.08zM65.57 111.63h6.08v6.08h-6.08zM71.66 111.63h6.08v6.08h-6.08zM77.74 111.63h6.08v6.08h-6.08zM83.83 111.63h6.08v6.08h-6.08zM89.91 111.63h6.08v6.08h-6.08zM108.17 111.63h6.08v6.08h-6.08zM229.87 111.63h6.08v6.08h-6.08zM235.95 111.63h6.08v6.08h-6.08zM242.04 111.63h6.08v6.08h-6.08zM260.29 111.63h6.08v6.08h-6.08zM266.38 111.63h6.08v6.08h-6.08zM272.46 111.63h6.08v6.08h-6.08zM278.55 111.63h6.08v6.08h-6.08zM284.63 111.63h6.08v6.08h-6.08zM315.06 111.63h6.08v6.08h-6.08zM321.14 111.63h6.08v6.08h-6.08zM339.40 111.63h6.08v6.08h-6.08zM345.48 111.63h6.08v6.08h-6.08zM351.57 111.63h6.08v6.08h-6.08zM357.65 111.63h6.08v6.08h-6.08zM363.74 111.63h6.08v6.08h-6.08zM369.82 111.63h6.08v6.08h-6.08zM375.91 111.63h6.08v6.08h-6.08zM381.99 111.63h6.08v6.08h-6.08zM83.83 117.72h6.08v6.08h-6.08zM339.40 117.72h6.08v6.08h-6.08zM345.48 117.72h6.08v6.08h-6.08zM351.57 117.72h6.08v6.08h-6.08zM357.65 117.72h6.08v6.08h-6.08zM363.74 117.72h6.08v6.08h-6.08zM369.82 117.72h6.08v6.08h-6.08zM229.87 123.80h6.08v6.08h-6.08zM235.95 123.80h6.08v6.08h-6.08zM242.04 123.80h6.08v6.08h-6.08zM254.21 123.80h6.08v6.08h-6.08zM272.46 123.80h6.08v6.08h-6.08zM278.55 123.80h6.08v6.08h-6.08zM345.48 123.80h6.08v6.08h-6.08zM351.57 123.80h6.08v6.08h-6.08zM254.21 129.88h6.08v6.08h-6.08zM248.12 135.97h6.08v6.08h-6.08zM254.21 135.97h6.08v6.08h-6.08zM242.04 142.06h6.08v6.08h-6.08zM308.97 142.06h6.08v6.08h-6.08zM235.95 148.14h6.08v6.08h-6.08zM254.21 148.14h6.08v6.08h-6.08zM260.29 148.14h6.08v6.08h-6.08zM266.38 148.14h6.08v6.08h-6.08zM308.97 148.14h6.08v6.08h-6.08zM333.31 148.14h6.08v6.08h-6.08zM242.04 154.23h6.08v6.08h-6.08zM248.12 154.23h6.08v6.08h-6.08zM254.21 154.23h6.08v6.08h-6.08zM260.29 154.23h6.08v6.08h-6.08zM266.38 154.23h6.08v6.08h-6.08zM272.46 154.23h6.08v6.08h-6.08zM278.55 154.23h6.08v6.08h-6.08zM284.63 154.23h6.08v6.08h-6.08zM308.97 154.23h6.08v6.08h-6.08zM327.23 154.23h6.08v6.08h-6.08zM333.31 154.23h6.08v6.08h-6.08zM260.29 160.31h6.08v6.08h-6.08zM266.38 160.31h6.08v6.08h-6.08zM272.46 160.31h6.08v6.08h-6.08zM278.55 160.31h6.08v6.08h-6.08zM284.63 160.31h6.08v6.08h-6.08zM308.97 160.31h6.08v6.08h-6.08zM315.06 160.31h6.08v6.08h-6.08zM321.14 160.31h6.08v6.08h-6.08zM327.23 160.31h6.08v6.08h-6.08zM333.31 160.31h6.08v6.08h-6.08zM260.29 166.39h6.08v6.08h-6.08zM266.38 166.39h6.08v6.08h-6.08zM272.46 166.39h6.08v6.08h-6.08zM290.72 166.39h6.08v6.08h-6.08zM266.38 172.48h6.08v6.08h-6.08zM272.46 172.48h6.08v6.08h-6.08zM278.55 172.48h6.08v6.08h-6.08zM284.63 172.48h6.08v6.08h-6.08zM290.72 172.48h6.08v6.08h-6.08zM272.46 178.56h6.08v6.08h-6.08zM278.55 178.56h6.08v6.08h-6.08zM284.63 178.56h6.08v6.08h-6.08zM114.25 184.65h6.08v6.08h-6.08zM126.42 184.65h6.08v6.08h-6.08zM132.51 184.65h6.08v6.08h-6.08zM156.85 184.65h6.08v6.08h-6.08zM162.93 184.65h6.08v6.08h-6.08zM169.02 184.65h6.08v6.08h-6.08zM175.10 184.65h6.08v6.08h-6.08zM187.27 184.65h6.08v6.08h-6.08zM193.36 184.65h6.08v6.08h-6.08zM266.38 184.65h6.08v6.08h-6.08zM272.46 184.65h6.08v6.08h-6.08zM278.55 184.65h6.08v6.08h-6.08zM284.63 184.65h6.08v6.08h-6.08zM126.42 190.74h6.08v6.08h-6.08zM132.51 190.74h6.08v6.08h-6.08zM156.85 190.74h6.08v6.08h-6.08zM162.93 190.74h6.08v6.08h-6.08zM169.02 190.74h6.08v6.08h-6.08zM175.10 190.74h6.08v6.08h-6.08zM181.19 190.74h6.08v6.08h-6.08zM193.36 190.74h6.08v6.08h-6.08zM199.44 190.74h6.08v6.08h-6.08zM260.29 190.74h6.08v6.08h-6.08zM266.38 190.74h6.08v6.08h-6.08zM284.63 190.74h6.08v6.08h-6.08zM290.72 190.74h6.08v6.08h-6.08zM296.80 190.74h6.08v6.08h-6.08zM162.93 196.82h6.08v6.08h-6.08zM175.10 196.82h6.08v6.08h-6.08zM181.19 196.82h6.08v6.08h-6.08zM199.44 196.82h6.08v6.08h-6.08zM205.53 196.82h6.08v6.08h-6.08zM260.29 196.82h6.08v6.08h-6.08zM266.38 196.82h6.08v6.08h-6.08zM272.46 196.82h6.08v6.08h-6.08zM278.55 196.82h6.08v6.08h-6.08zM284.63 196.82h6.08v6.08h-6.08zM290.72 196.82h6.08v6.08h-6.08zM333.31 196.82h6.08v6.08h-6.08zM199.44 202.91h6.08v6.08h-6.08zM260.29 202.91h6.08v6.08h-6.08zM266.38 202.91h6.08v6.08h-6.08zM321.14 202.91h6.08v6.08h-6.08zM327.23 202.91h6.08v6.08h-6.08zM333.31 202.91h6.08v6.08h-6.08zM193.36 208.99h6.08v6.08h-6.08zM199.44 208.99h6.08v6.08h-6.08zM205.53 208.99h6.08v6.08h-6.08zM260.29 208.99h6.08v6.08h-6.08zM266.38 208.99h6.08v6.08h-6.08zM315.06 208.99h6.08v6.08h-6.08zM321.14 208.99h6.08v6.08h-6.08zM327.23 208.99h6.08v6.08h-6.08zM333.31 208.99h6.08v6.08h-6.08zM199.44 215.07h6.08v6.08h-6.08zM205.53 215.07h6.08v6.08h-6.08zM211.61 215.07h6.08v6.08h-6.08zM266.38 215.07h6.08v6.08h-6.08zM266.38 221.16h6.08v6.08h-6.08zM266.38 227.25h6.08v6.08h-6.08z" fill="#96fbb4"/>
<path d="M296.80 105.55h6.08v6.08h-6.08zM302.89 105.55h6.08v6.08h-6.08zM308.97 105.55h6.08v6.08h-6.08zM248.12 111.63h6.08v6.08h-6.08zM254.21 111.63h6.08v6.08h-6.08zM290.72 111.63h6.08v6.08h-6.08zM327.23 111.63h6.08v6.08h-6.08zM333.31 111.63h6.08v6.08h-6.08zM260.29 117.72h6.08v6.08h-6.08zM266.38 117.72h6.08v6.08h-6.08zM272.46 117.72h6.08v6.08h-6.08zM278.55 117.72h6.08v6.08h-6.08zM321.14 117.72h6.08v6.08h-6.08zM327.23 117.72h6.08v6.08h-6.08zM333.31 117.72h6.08v6.08h-6.08zM260.29 123.80h6.08v6.08h-6.08zM266.38 123.80h6.08v6.08h-6.08zM284.63 123.80h6.08v6.08h-6.08zM260.29 129.88h6.08v6.08h-6.08zM266.38 129.88h6.08v6.08h-6.08zM272.46 129.88h6.08v6.08h-6.08zM278.55 129.88h6.08v6.08h-6.08zM302.89 129.88h6.08v6.08h-6.08zM260.29 135.97h6.08v6.08h-6.08zM266.38 135.97h6.08v6.08h-6.08zM272.46 135.97h6.08v6.08h-6.08zM296.80 135.97h6.08v6.08h-6.08zM302.89 135.97h6.08v6.08h-6.08zM248.12 142.06h6.08v6.08h-6.08zM254.21 142.06h6.08v6.08h-6.08zM260.29 142.06h6.08v6.08h-6.08zM266.38 142.06h6.08v6.08h-6.08zM272.46 142.06h6.08v6.08h-6.08zM278.55 142.06h6.08v6.08h-6.08zM296.80 142.06h6.08v6.08h-6.08zM302.89 142.06h6.08v6.08h-6.08zM242.04 148.14h6.08v6.08h-6.08zM248.12 148.14h6.08v6.08h-6.08zM272.46 148.14h6.08v6.08h-6.08zM278.55 148.14h6.08v6.08h-6.08zM284.63 148.14h6.08v6.08h-6.08zM290.72 148.14h6.08v6.08h-6.08zM296.80 148.14h6.08v6.08h-6.08zM302.89 148.14h6.08v6.08h-6.08zM290.72 154.23h6.08v6.08h-6.08zM296.80 154.23h6.08v6.08h-6.08zM302.89 154.23h6.08v6.08h-6.08zM290.72 160.31h6.08v6.08h-6.08zM302.89 160.31h6.08v6.08h-6.08zM296.80 166.39h6.08v6.08h-6.08zM302.89 166.39h6.08v6.08h-6.08zM308.97 166.39h6.08v6.08h-6.08zM315.06 166.39h6.08v6.08h-6.08zM321.14 166.39h6.08v6.08h-6.08zM327.23 166.39h6.08v6.08h-6.08zM333.31 166.39h6.08v6.08h-6.08zM296.80 172.48h6.08v6.08h-6.08zM302.89 172.48h6.08v6.08h-6.08zM308.97 172.48h6.08v6.08h-6.08zM315.06 172.48h6.08v6.08h-6.08zM321.14 172.48h6.08v6.08h-6.08zM327.23 172.48h6.08v6.08h-6.08zM333.31 172.48h6.08v6.08h-6.08zM114.25 178.56h6.08v6.08h-6.08zM120.34 178.56h6.08v6.08h-6.08zM126.42 178.56h6.08v6.08h-6.08zM290.72 178.56h6.08v6.08h-6.08zM296.80 178.56h6.08v6.08h-6.08zM181.19 184.65h6.08v6.08h-6.08zM290.72 184.65h6.08v6.08h-6.08zM296.80 184.65h6.08v6.08h-6.08zM302.89 184.65h6.08v6.08h-6.08zM187.27 190.74h6.08v6.08h-6.08zM272.46 190.74h6.08v6.08h-6.08zM278.55 190.74h6.08v6.08h-6.08zM302.89 190.74h6.08v6.08h-6.08zM169.02 196.82h6.08v6.08h-6.08zM187.27 196.82h6.08v6.08h-6.08zM193.36 196.82h6.08v6.08h-6.08zM296.80 196.82h6.08v6.08h-6.08zM302.89 196.82h6.08v6.08h-6.08zM308.97 196.82h6.08v6.08h-6.08zM315.06 196.82h6.08v6.08h-6.08zM162.93 202.91h6.08v6.08h-6.08zM169.02 202.91h6.08v6.08h-6.08zM175.10 202.91h6.08v6.08h-6.08zM181.19 202.91h6.08v6.08h-6.08zM187.27 202.91h6.08v6.08h-6.08zM193.36 202.91h6.08v6.08h-6.08zM272.46 202.91h6.08v6.08h-6.08zM278.55 202.91h6.08v6.08h-6.08zM284.63 202.91h6.08v6.08h-6.08zM290.72 202.91h6.08v6.08h-6.08zM296.80 202.91h6.08v6.08h-6.08zM302.89 202.91h6.08v6.08h-6.08zM308.97 202.91h6.08v6.08h-6.08zM315.06 202.91h6.08v6.08h-6.08zM162.93 208.99h6.08v6.08h-6.08zM169.02 208.99h6.08v6.08h-6.08zM175.10 208.99h6.08v6.08h-6.08zM181.19 208.99h6.08v6.08h-6.08zM187.27 208.99h6.08v6.08h-6.08zM272.46 208.99h6.08v6.08h-6.08zM278.55 208.99h6.08v6.08h-6.08zM284.63 208.99h6.08v6.08h-6.08zM290.72 208.99h6.08v6.08h-6.08zM296.80 208.99h6.08v6.08h-6.08zM302.89 208.99h6.08v6.08h-6.08zM308.97 208.99h6.08v6.08h-6.08zM162.93 215.07h6.08v6.08h-6.08zM169.02 215.07h6.08v6.08h-6.08zM175.10 215.07h6.08v6.08h-6.08zM181.19 215.07h6.08v6.08h-6.08zM187.27 215.07h6.08v6.08h-6.08zM193.36 215.07h6.08v6.08h-6.08zM217.70 215.07h6.08v6.08h-6.08zM272.46 215.07h6.08v6.08h-6.08zM278.55 215.07h6.08v6.08h-6.08zM284.63 215.07h6.08v6.08h-6.08zM290.72 215.07h6.08v6.08h-6.08zM296.80 215.07h6.08v6.08h-6.08zM302.89 215.07h6.08v6.08h-6.08zM162.93 221.16h6.08v6.08h-6.08zM169.02 221.16h6.08v6.08h-6.08zM175.10 221.16h6.08v6.08h-6.08zM181.19 221.16h6.08v6.08h-6.08zM187.27 221.16h6.08v6.08h-6.08zM193.36 221.16h6.08v6.08h-6.08zM199.44 221.16h6.08v6.08h-6.08zM205.53 221.16h6.08v6.08h-6.08zM211.61 221.16h6.08v6.08h-6.08zM217.70 221.16h6.08v6.08h-6.08zM272.46 221.16h6.08v6.08h-6.08zM290.72 221.16h6.08v6.08h-6.08zM296.80 221.16h6.08v6.08h-6.08zM302.89 221.16h6.08v6.08h-6.08zM169.02 227.25h6.08v6.08h-6.08zM175.10 227.25h6.08v6.08h-6.08zM181.19 227.25h6.08v6.08h-6.08zM187.27 227.25h6.08v6.08h-6.08zM205.53 227.25h6.08v6.08h-6.08zM211.61 227.25h6.08v6.08h-6.08zM217.70 227.25h6.08v6.08h-6.08zM272.46 227.25h6.08v6.08h-6.08zM296.80 227.25h6.08v6.08h-6.08zM175.10 233.33h6.08v6.08h-6.08zM181.19 233.33h6.08v6.08h-6.08zM211.61 233.33h6.08v6.08h-6.08zM254.21 233.33h6.08v6.08h-6.08zM260.29 233.33h6.08v6.08h-6.08zM266.38 233.33h6.08v6.08h-6.08zM272.46 233.33h6.08v6.08h-6.08z" fill="#d2fa6e"/>
<path d="M296.80 111.63h6.08v6.08h-6.08zM302.89 111.63h6.08v6.08h-6.08zM308.97 111.63h6.08v6.08h-6.08zM254.21 117.72h6.08v6.08h-6.08zM284.63 117.72h6.08v6.08h-6.08zM290.72 117.72h6.08v6.08h-6.08zM296.80 117.72h6.08v6.08h-6.08zM308.97 117.72h6.08v6.08h-6.08zM315.06 117.72h6.08v6.08h-6.08zM284.63 129.88h6.08v6.08h-6.08zM290.72 129.88h6.08v6.08h-6.08zM296.80 129.88h6.08v6.08h-6.08zM278.55 135.97h6.08v6.08h-6.08zM284.63 135.97h6.08v6.08h-6.08zM290.72 135.97h6.08v6.08h-6.08zM284.63 142.06h6.08v6.08h-6.08zM290.72 142.06h6.08v6.08h-6.08zM296.80 160.31h6.08v6.08h-6.08zM302.89 178.56h6.08v6.08h-6.08zM308.97 178.56h6.08v6.08h-6.08zM315.06 178.56h6.08v6.08h-6.08zM321.14 178.56h6.08v6.08h-6.08zM327.23 178.56h6.08v6.08h-6.08zM333.31 178.56h6.08v6.08h-6.08zM308.97 184.65h6.08v6.08h-6.08zM315.06 184.65h6.08v6.08h-6.08zM321.14 184.65h6.08v6.08h-6.08zM327.23 184.65h6.08v6.08h-6.08zM333.31 184.65h6.08v6.08h-6.08zM308.97 190.74h6.08v6.08h-6.08zM315.06 190.74h6.08v6.08h-6.08zM321.14 190.74h6.08v6.08h-6.08zM327.23 190.74h6.08v6.08h-6.08zM333.31 190.74h6.08v6.08h-6.08zM321.14 196.82h6.08v6.08h-6.08zM327.23 196.82h6.08v6.08h-6.08zM278.55 221.16h6.08v6.08h-6.08zM284.63 221.16h6.08v6.08h-6.08zM193.36 227.25h6.08v6.08h-6.08zM199.44 227.25h6.08v6.08h-6.08zM278.55 227.25h6.08v6.08h-6.08zM284.63 227.25h6.08v6.08h-6.08zM290.72 227.25h6.08v6.08h-6.08zM187.27 233.33h6.08v6.08h-6.08zM193.36 233.33h6.08v6.08h-6.08zM199.44 233.33h6.08v6.08h-6.08zM205.53 233.33h6.08v6.08h-6.08zM278.55 233.33h6.08v6.08h-6.08zM284.63 233.33h6.08v6.08h-6.08zM290.72 233.33h6.08v6.08h-6.08zM296.80 233.33h6.08v6.08h-6.08zM181.19 239.42h6.08v6.08h-6.08zM187.27 239.42h6.08v6.08h-6.08zM193.36 239.42h6.08v6.08h-6.08zM199.44 239.42h6.08v6.08h-6.08zM205.53 239.42h6.08v6.08h-6.08zM211.61 239.42h6.08v6.08h-6.08zM235.95 245.50h6.08v6.08h-6.08zM242.04 245.50h6.08v6.08h-6.08zM248.12 245.50h6.08v6.08h-6.08zM254.21 245.50h6.08v6.08h-6.08zM260.29 245.50h6.08v6.08h-6.08zM266.38 245.50h6.08v6.08h-6.08zM235.95 251.58h6.08v6.08h-6.08zM242.04 251.58h6.08v6.08h-6.08zM248.12 251.58h6.08v6.08h-6.08zM254.21 251.58h6.08v6.08h-6.08zM260.29 251.58h6.08v6.08h-6.08zM266.38 251.58h6.08v6.08h-6.08z" fill="#ffff00"/>
<path d="M302.89 117.72h6.08v6.08h-6.08zM290.72 123.80h6.08v6.08h-6.08zM296.80 123.80h6.08v6.08h-6.08zM302.89 123.80h6.08v6.08h-6.08zM321.14 215.07h6.08v6.08h-6.08zM327.23 215.07h6.08v6.08h-6.08zM333.31 215.07h6.08v6.08h-6.08zM327.23 221.16h6.08v6.08h-6.08zM333.31 221.16h6.08v6.08h-6.08zM333.31 227.25h6.08v6.08h-6.08zM242.04 233.33h6.08v6.08h-6.08zM248.12 233.33h6.08v6.08h-6.08zM235.95 239.42h6.08v6.08h-6.08zM242.04 239.42h6.08v6.08h-6.08zM248.12 239.42h6.08v6.08h-6.08zM254.21 239.42h6.08v6.08h-6.08zM260.29 239.42h6.08v6.08h-6.08zM266.38 239.42h6.08v6.08h-6.08z" fill="#ffb400"/>
<path d="M308.97 215.07h6.08v6.08h-6.08zM315.06 215.07h6.08v6.08h-6.08zM308.97 221.16h6.08v6.08h-6.08zM315.06 221.16h6.08v6.08h-6.08zM321.14 221.16h6.08v6.08h-6.08zM302.89 227.25h6.08v6.08h-6.08zM308.97 227.25h6.08v6.08h-6.08zM315.06 227.25h6.08v6.08h-6.08zM321.14 227.25h6.08v6.08h-6.08zM327.23 227.25h6.08v6.08h-6.08zM302.89 233.33h6.08v6.08h-6.08zM308.97 233.33h6.08v6.08h-6.08zM315.06 233.33h6.08v6.08h-6.08zM321.14 233.33h6.08v6.08h-6.08zM327.23 233.33h6.08v6.08h-6.08z" fill="#ff6e00"/>
<rect x="0" y="0" width="420" height="260" fill="url(#cg)"/>
</g>
<line x1="74.7" y1="23" x2="74.7" y2="350" stroke="#c4c4c4" stroke-opacity="0.8" stroke-width="1" stroke-dasharray="3 11" stroke-dashoffset="-5"/>
<line x1="74.7" y1="22.5" x2="74.7" y2="25" stroke="#444" stroke-width="0.8"/>
<line x1="74.7" y1="348.5" x2="74.7" y2="351" stroke="#444" stroke-width="0.8"/>
<line x1="135.6" y1="23" x2="135.6" y2="350" stroke="#c4c4c4" stroke-opacity="0.8" stroke-width="1" stroke-dasharray="3 11" stroke-dashoffset="-5"/>
<line x1="135.6" y1="22.5" x2="135.6" y2="25" stroke="#444" stroke-width="0.8"/>
<line x1="135.6" y1="348.5" x2="135.6" y2="351" stroke="#444" stroke-width="0.8"/>
<line x1="196.4" y1="23" x2="196.4" y2="350" stroke="#c4c4c4" stroke-opacity="0.8" stroke-width="1" stroke-dasharray="3 11" stroke-dashoffset="-5"/>
<line x1="196.4" y1="22.5" x2="196.4" y2="25" stroke="#444" stroke-width="0.8"/>
<line x1="196.4" y1="348.5" x2="196.4" y2="351" stroke="#444" stroke-width="0.8"/>
<line x1="257.2" y1="23" x2="257.2" y2="350" stroke="#c4c4c4" stroke-opacity="0.8" stroke-width="1" stroke-dasharray="3 11" stroke-dashoffset="-5"/>
<line x1="257.2" y1="22.5" x2="257.2" y2="25" stroke="#444" stroke-width="0.8"/>
<line x1="257.2" y1="348.5" x2="257.2" y2="351" stroke="#444" stroke-width="0.8"/>
<line x1="318.1" y1="23" x2="318.1" y2="350" stroke="#c4c4c4" stroke-opacity="0.8" stroke-width="1" stroke-dasharray="3 11" stroke-dashoffset="-5"/>
<line x1="318.1" y1="22.5" x2="318.1" y2="25" stroke="#444" stroke-width="0.8"/>
<line x1="318.1" y1="348.5" x2="318.1" y2="351" stroke="#444" stroke-width="0.8"/>
<line x1="378.9" y1="23" x2="378.9" y2="350" stroke="#c4c4c4" stroke-opacity="0.8" stroke-width="1" stroke-dasharray="3 11" stroke-dashoffset="-5"/>
<line x1="378.9" y1="22.5" x2="378.9" y2="25" stroke="#444" stroke-width="0.8"/>
<line x1="378.9" y1="348.5" x2="378.9" y2="351" stroke="#444" stroke-width="0.8"/>
<line x1="25" y1="306.4" x2="419" y2="306.4" stroke="#d6d6d6" stroke-opacity="0.8" stroke-width="1" stroke-dasharray="3.4 10.5" stroke-dashoffset="-1"/>
<line x1="25" y1="245.5" x2="419" y2="245.5" stroke="#d6d6d6" stroke-opacity="0.8" stroke-width="1" stroke-dasharray="3.4 10.5" stroke-dashoffset="-1"/>
<line x1="25" y1="184.7" x2="419" y2="184.7" stroke="#d6d6d6" stroke-opacity="0.8" stroke-width="1" stroke-dasharray="3.4 10.5" stroke-dashoffset="-1"/>
<line x1="25" y1="123.8" x2="419" y2="123.8" stroke="#d6d6d6" stroke-opacity="0.8" stroke-width="1" stroke-dasharray="3.4 10.5" stroke-dashoffset="-1"/>
<line x1="25" y1="63.0" x2="419" y2="63.0" stroke="#d6d6d6" stroke-opacity="0.8" stroke-width="1" stroke-dasharray="3.4 10.5" stroke-dashoffset="-1"/>
<polygon points="32.4,121.8 35.1,118.0 38.8,116.5 43.2,115.0 47.6,114.3 53.4,112.8 59.3,111.4 63.7,109.2 69.5,106.2 73.2,104.8 73.9,100.4 75.4,97.5 73.9,93.1 71.7,88.0 75.4,86.5 81.2,85.7 86.4,86.5 87.8,82.1 90.0,74.8 93.0,74.0 98.8,74.8 105.4,74.8 106.1,68.9 109.1,66.7 113.5,63.8 117.8,62.3 120.0,63.0 121.5,66.7 126.6,68.9 132.5,71.1 137.6,72.6 139.1,77.0 137.6,80.6 140.5,83.6 147.1,86.5 154.5,87.9 158.8,90.1 163.2,92.3 166.9,94.5 170.0,98.9 171.1,100.6 179.1,102.0 187.0,102.6 193.0,102.0 199.0,101.6 204.9,103.2 210.9,105.1 218.0,106.5 224.6,104.9 232.9,103.6 241.3,103.2 248.6,102.2 253.8,100.1 260.1,98.0 263.3,95.9 264.3,91.7 266.4,88.6 269.5,88.2 274.8,86.9 281.0,85.4 285.2,84.0 291.5,81.3 297.8,79.2 304.0,77.7 310.3,76.4 314.5,75.0 313.5,71.8 308.2,70.2 302.0,69.7 295.7,70.2 291.5,70.8 289.0,67.7 291.5,63.5 294.6,59.3 299.9,58.2 306.1,58.2 312.4,56.8 314.5,52.0 316.6,46.7 315.6,40.5 318.7,39.4 322.9,37.3 329.2,36.3 337.5,35.9 343.8,37.3 350.1,39.4 354.3,44.6 358.4,50.9 360.5,57.2 364.7,60.3 371.0,61.4 377.3,63.5 381.5,67.7 383.5,70.8 389.8,69.7 396.1,68.7 402.4,67.2 406.6,66.6 405.5,68.7 401.3,73.9 398.2,80.2 396.1,86.5 391.9,87.5 385.6,88.6 383.5,92.8 381.5,96.9 379.4,102.2 377.9,101.9 372.8,103.8 365.3,106.3 364.0,109.4 360.3,108.8 357.8,107.5 355.3,109.4 351.5,111.9 346.5,113.8 342.7,116.9 340.2,119.5 335.2,121.3 330.2,123.2 326.4,124.5 323.3,125.1 322.0,123.2 323.9,120.7 326.4,118.8 328.3,115.7 327.0,113.8 323.9,113.2 320.1,115.1 315.1,118.8 308.8,122.0 303.8,123.2 301.3,125.1 301.3,127.6 305.1,129.5 308.8,130.8 309.5,133.9 312.0,135.1 316.4,132.0 320.1,129.5 320.8,128.2 322.6,132.6 327.6,133.3 331.4,133.9 330.2,136.4 325.1,137.7 320.1,140.2 316.4,143.9 311.3,147.7 310.7,149.6 315.1,152.7 318.9,156.5 321.4,161.5 323.9,165.3 326.4,169.0 327.7,174.1 331.4,174.7 328.9,177.8 329.1,180.0 326.6,183.8 325.3,187.5 322.8,191.3 319.0,195.1 316.5,198.8 314.0,202.6 312.8,206.4 309.0,208.9 305.2,211.4 301.5,213.9 297.7,217.0 293.9,220.8 287.7,223.3 282.6,224.6 277.6,226.4 272.6,228.3 266.3,229.6 261.3,230.8 257.5,232.7 256.9,236.5 254.7,236.5 252.5,235.0 252.5,232.8 250.3,231.4 245.9,230.6 241.5,229.2 237.1,227.7 234.2,225.5 232.8,223.3 229.8,221.9 225.4,220.4 221.0,221.9 215.2,223.3 210.8,224.8 206.4,225.5 204.2,228.4 204.2,232.1 200.5,231.4 199.1,229.2 194.7,230.4 191.8,229.2 188.8,224.8 188.1,220.4 185.9,215.3 181.5,213.1 179.3,210.9 180.0,208.0 183.0,204.3 185.2,201.4 184.4,197.0 183.0,191.1 180.0,188.9 177.1,189.6 172.7,190.4 166.9,191.1 161.0,192.6 155.1,193.3 149.3,195.5 144.9,196.2 140.5,191.8 134.6,190.8 128.8,191.1 125.9,193.3 122.1,191.6 115.9,190.9 109.6,190.9 104.6,188.4 99.5,186.6 94.5,184.1 89.5,180.9 84.5,179.0 79.5,178.4 75.7,175.9 70.7,173.4 65.7,170.2 64.4,167.7 63.1,165.2 63.1,162.7 65.7,160.2 65.0,154.6 64.4,150.2 60.6,146.4 55.6,144.5 50.6,142.6 46.8,140.1 43.1,137.0 39.3,135.1 38.7,130.1 39.3,126.3 35.5,125.1 33.6,123.8" fill="none" stroke="#555" stroke-width="0.7"/>
<polygon points="245.9,243.8 248.9,241.6 253.3,240.2 257.6,239.4 260.0,240.2 258.8,244.0 255.0,247.8 251.8,249.7 247.4,248.2" fill="none" stroke="#555" stroke-width="0.7"/>
<polygon points="325.3,208.2 327.2,210.1 325.3,216.4 323.4,221.4 320.3,227.1 318.4,225.8 315.9,221.4 315.3,218.3 317.8,213.9 321.5,209.5" fill="none" stroke="#555" stroke-width="0.7"/>
<line x1="24.3" y1="22.5" x2="419.5" y2="22.5" stroke="#8c8c8c" stroke-width="1.2"/>
<line x1="24.3" y1="350.8" x2="419.5" y2="350.8" stroke="#8c8c8c" stroke-width="1.4"/>
<line x1="24.3" y1="22" x2="24.3" y2="351.3" stroke="#2a2a2a" stroke-width="1.3"/>
<line x1="419.4" y1="22" x2="419.4" y2="351.3" stroke="#111" stroke-width="1.3"/>
<text x="74.7" y="18.8" font-size="10.2" text-anchor="middle" fill="#222" style="font-family:'Liberation Serif',serif">80&#176;E</text>
<text x="74.7" y="363.8" font-size="10.2" text-anchor="middle" fill="#222" style="font-family:'Liberation Serif',serif">80&#176;E</text>
<text x="135.6" y="18.8" font-size="10.2" text-anchor="middle" fill="#222" style="font-family:'Liberation Serif',serif">90&#176;E</text>
<text x="135.6" y="363.8" font-size="10.2" text-anchor="middle" fill="#222" style="font-family:'Liberation Serif',serif">90&#176;E</text>
<text x="196.4" y="18.8" font-size="10.2" text-anchor="middle" fill="#222" style="font-family:'Liberation Serif',serif">100&#176;E</text>
<text x="196.4" y="363.8" font-size="10.2" text-anchor="middle" fill="#222" style="font-family:'Liberation Serif',serif">100&#176;E</text>
<text x="257.2" y="18.8" font-size="10.2" text-anchor="middle" fill="#222" style="font-family:'Liberation Serif',serif">110&#176;E</text>
<text x="257.2" y="363.8" font-size="10.2" text-anchor="middle" fill="#222" style="font-family:'Liberation Serif',serif">110&#176;E</text>
<text x="318.1" y="18.8" font-size="10.2" text-anchor="middle" fill="#222" style="font-family:'Liberation Serif',serif">120&#176;E</text>
<text x="318.1" y="363.8" font-size="10.2" text-anchor="middle" fill="#222" style="font-family:'Liberation Serif',serif">120&#176;E</text>
<text x="378.9" y="18.8" font-size="10.2" text-anchor="middle" fill="#222" style="font-family:'Liberation Serif',serif">130&#176;E</text>
<text x="378.9" y="363.8" font-size="10.2" text-anchor="middle" fill="#222" style="font-family:'Liberation Serif',serif">130&#176;E</text>
<text transform="translate(21.3,306.4) rotate(-90)" font-size="10.2" text-anchor="middle" fill="#222" style="font-family:'Liberation Serif',serif">10&#176;N</text>
<text transform="translate(433.2,306.4) rotate(-90)" font-size="10.2" text-anchor="middle" fill="#222" style="font-family:'Liberation Serif',serif">10&#176;N</text>
<text transform="translate(21.3,245.5) rotate(-90)" font-size="10.2" text-anchor="middle" fill="#222" style="font-family:'Liberation Serif',serif">20&#176;N</text>
<text transform="translate(433.2,245.5) rotate(-90)" font-size="10.2" text-anchor="middle" fill="#222" style="font-family:'Liberation Serif',serif">20&#176;N</text>
<text transform="translate(21.3,184.7) rotate(-90)" font-size="10.2" text-anchor="middle" fill="#222" style="font-family:'Liberation Serif',serif">30&#176;N</text>
<text transform="translate(433.2,184.7) rotate(-90)" font-size="10.2" text-anchor="middle" fill="#222" style="font-family:'Liberation Serif',serif">30&#176;N</text>
<text transform="translate(21.3,123.8) rotate(-90)" font-size="10.2" text-anchor="middle" fill="#222" style="font-family:'Liberation Serif',serif">40&#176;N</text>
<text transform="translate(433.2,123.8) rotate(-90)" font-size="10.2" text-anchor="middle" fill="#222" style="font-family:'Liberation Serif',serif">40&#176;N</text>
<text transform="translate(21.3,63.0) rotate(-90)" font-size="10.2" text-anchor="middle" fill="#222" style="font-family:'Liberation Serif',serif">50&#176;N</text>
<text transform="translate(433.2,63.0) rotate(-90)" font-size="10.2" text-anchor="middle" fill="#222" style="font-family:'Liberation Serif',serif">50&#176;N</text>
<text x="407" y="32.3" font-size="6.5" font-weight="bold" text-anchor="middle" fill="#1a1a1a" style="font-family:'Liberation Sans',sans-serif">N</text>
<path d="M406.5 34L402.4 48.6L407.2 44.2Z" fill="#111"/>
<path d="M406.5 34L411.1 48.8L407.2 44.2Z" fill="none" stroke="#222" stroke-width="0.7"/>
<text x="35.9" y="226.9" font-size="11.3" fill="#111" style="font-family:'Liberation Serif',serif">XCO<tspan font-size="7.4" dy="1.9">2ano</tspan><tspan dy="-1.9">(ppm)</tspan></text>
<rect x="30" y="235.2" width="28.4" height="13.7" fill="#0000fc" stroke="#8a8a8a" stroke-width="0.4"/>
<rect x="133.2" y="235.2" width="28" height="13.7" fill="#d2fa6e" stroke="#8a8a8a" stroke-width="0.4"/>
<text x="63.3" y="246.3" font-size="11.2" fill="#111" style="font-family:'Liberation Serif',serif">&#8722;1.55 &#8722; &#8722;0.57</text>
<text x="166.1" y="246.3" font-size="11.2" fill="#111" style="font-family:'Liberation Serif',serif">0.73 &#8722; 1.08</text>
<rect x="30" y="254.1" width="28.4" height="13.7" fill="#3b5efc" stroke="#8a8a8a" stroke-width="0.4"/>
<rect x="133.2" y="254.1" width="28" height="13.7" fill="#ffff00" stroke="#8a8a8a" stroke-width="0.4"/>
<text x="63.3" y="265.2" font-size="11.2" fill="#111" style="font-family:'Liberation Serif',serif">&#8722;0.56 &#8722; &#8722;0.16</text>
<text x="166.1" y="265.2" font-size="11.2" fill="#111" style="font-family:'Liberation Serif',serif">1.09 &#8722; 1.46</text>
<rect x="30" y="273.0" width="28.4" height="13.7" fill="#3aa8fc" stroke="#8a8a8a" stroke-width="0.4"/>
<rect x="133.2" y="273.0" width="28" height="13.7" fill="#ffb400" stroke="#8a8a8a" stroke-width="0.4"/>
<text x="63.3" y="284.1" font-size="11.2" fill="#111" style="font-family:'Liberation Serif',serif">&#8722;0.15 &#8722; 0.14</text>
<text x="166.1" y="284.1" font-size="11.2" fill="#111" style="font-family:'Liberation Serif',serif">1.47 &#8722; 1.85</text>
<rect x="30" y="291.9" width="28.4" height="13.7" fill="#00fcfc" stroke="#8a8a8a" stroke-width="0.4"/>
<rect x="133.2" y="291.9" width="28" height="13.7" fill="#ff6e00" stroke="#8a8a8a" stroke-width="0.4"/>
<text x="63.3" y="303.0" font-size="11.2" fill="#111" style="font-family:'Liberation Serif',serif">0.15 &#8722; 0.41</text>
<text x="166.1" y="303.0" font-size="11.2" fill="#111" style="font-family:'Liberation Serif',serif">1.86 &#8722; 2.28</text>
<rect x="30" y="310.8" width="28.4" height="13.7" fill="#96fbb4" stroke="#8a8a8a" stroke-width="0.4"/>
<rect x="133.2" y="310.8" width="28" height="13.7" fill="#ff0000" stroke="#8a8a8a" stroke-width="0.4"/>
<text x="63.3" y="321.9" font-size="11.2" fill="#111" style="font-family:'Liberation Serif',serif">0.42 &#8722; 0.72</text>
<text x="166.1" y="321.9" font-size="11.2" fill="#111" style="font-family:'Liberation Serif',serif">2.29 &#8722; 3.24</text>
<rect x="27.6" y="330.2" width="18.2" height="9" fill="#fff" stroke="#777" stroke-width="0.6"/>
<text x="49.6" y="338.6" font-size="10.9" fill="#111" style="font-family:'Liberation Serif',serif">National boundaries</text>
<rect x="148.2" y="330.2" width="17.8" height="9" fill="url(#hatch)" stroke="#777" stroke-width="0.6"/>
<text x="170" y="338.6" font-size="10.9" fill="#111" style="font-family:'Liberation Serif',serif">Background area</text>
<rect x="295.3" y="339.6" width="41.7" height="3.8" fill="#000"/>
<rect x="337" y="339.9" width="41.6" height="3.3" fill="#fff" stroke="#000" stroke-width="0.6"/>
<text x="295.8" y="334.9" font-size="10" text-anchor="middle" fill="#111" style="font-family:'Liberation Serif',serif">0</text>
<text x="337.2" y="334.9" font-size="10" text-anchor="middle" fill="#111" style="font-family:'Liberation Serif',serif">750</text>
<text x="368.9" y="334.9" font-size="10" fill="#111" style="font-family:'Liberation Serif',serif">1500 km</text>
<text transform="translate(221.9,388.1) scale(1,1.06)" font-size="19.5" text-anchor="middle" fill="#111" style="font-family:'Liberation Serif',serif">(<tspan font-weight="bold">f</tspan>) 2015</text>
<line x1="311.5" y1="251.5" x2="315.1" y2="246.6" stroke="#1a1a1a" stroke-width="0.9"/>
<line x1="250.0" y1="263.5" x2="253.7" y2="268.8" stroke="#1a1a1a" stroke-width="0.9"/>
<line x1="309.6" y1="264.1" x2="309.6" y2="270.3" stroke="#1a1a1a" stroke-width="0.9"/>
<line x1="254.4" y1="293.2" x2="256.6" y2="287.3" stroke="#1a1a1a" stroke-width="0.9"/>
<line x1="306.4" y1="295.0" x2="308.6" y2="289.2" stroke="#1a1a1a" stroke-width="0.9"/>
<line x1="288.4" y1="317.7" x2="292.5" y2="312.6" stroke="#1a1a1a" stroke-width="0.9"/>
<line x1="251.5" y1="315.9" x2="253.7" y2="315.1" stroke="#1a1a1a" stroke-width="0.9"/>
<line x1="263.5" y1="315.1" x2="264.6" y2="313.3" stroke="#1a1a1a" stroke-width="0.9"/>
<line x1="269.0" y1="327.6" x2="269.4" y2="326.1" stroke="#1a1a1a" stroke-width="0.9"/>
<line x1="264.3" y1="308.2" x2="272.0" y2="307.5" stroke="#1a1a1a" stroke-width="0.9"/>
<line x1="274.9" y1="306.4" x2="280.7" y2="308.5" stroke="#1a1a1a" stroke-width="0.9"/>
<line x1="277.8" y1="313.0" x2="277.8" y2="316.2" stroke="#1a1a1a" stroke-width="0.9"/>
<line x1="282.2" y1="311.8" x2="286.2" y2="310.4" stroke="#1a1a1a" stroke-width="0.9"/>
<line x1="276.4" y1="299.8" x2="277.8" y2="300.5" stroke="#1a1a1a" stroke-width="0.9"/>
<line x1="280.0" y1="302.0" x2="282.2" y2="301.2" stroke="#1a1a1a" stroke-width="0.9"/>
<line x1="279.3" y1="299.0" x2="282.2" y2="298.3" stroke="#1a1a1a" stroke-width="0.9"/>
<line x1="279.3" y1="294.6" x2="280.7" y2="295.4" stroke="#1a1a1a" stroke-width="0.9"/>
<line x1="283.7" y1="293.5" x2="284.4" y2="295.4" stroke="#1a1a1a" stroke-width="0.9"/>
<line x1="297.6" y1="296.5" x2="300.5" y2="296.5" stroke="#1a1a1a" stroke-width="0.9"/>
<line x1="296.1" y1="295.4" x2="296.6" y2="293.5" stroke="#1a1a1a" stroke-width="0.9"/>
<line x1="337.9" y1="203.2" x2="336.6" y2="204.5" stroke="#1a1a1a" stroke-width="0.9"/>
<line x1="332.2" y1="212.6" x2="330.3" y2="218.3" stroke="#1a1a1a" stroke-width="0.9"/>
<line x1="326.6" y1="229.6" x2="322.2" y2="234.6" stroke="#1a1a1a" stroke-width="0.9"/>
<line x1="311.5" y1="217.7" x2="312.3" y2="220.2" stroke="#1a1a1a" stroke-width="0.9"/>
<line x1="268.8" y1="325.8" x2="269.4" y2="327.9" stroke="#1a1a1a" stroke-width="0.9"/>
<ellipse cx="280.3" cy="265.1" rx="3.7" ry="1.3" transform="rotate(-25 280.3 265.1)" fill="none" stroke="#222" stroke-width="0.8"/>
<circle cx="263.6" cy="257.3" r="0.6" fill="#222"/>
<circle cx="265.7" cy="258.4" r="0.6" fill="#222"/>
<circle cx="269.9" cy="259.6" r="0.6" fill="#222"/>
<circle cx="263.1" cy="262.5" r="0.6" fill="#222"/>
<circle cx="264.6" cy="262.0" r="0.6" fill="#222"/>
<circle cx="269.4" cy="263.9" r="0.6" fill="#222"/>
<circle cx="301.3" cy="269.3" r="0.6" fill="#222"/>
<circle cx="295.5" cy="262.5" r="0.6" fill="#222"/>
<circle cx="295.8" cy="235.9" r="0.6" fill="#222"/>
<circle cx="324.0" cy="227.1" r="0.6" fill="#222"/>
<circle cx="255.1" cy="310.7" r="0.6" fill="#222"/>
<circle cx="257.0" cy="312.2" r="0.6" fill="#222"/>
<circle cx="257.3" cy="314.0" r="0.6" fill="#222"/>
<circle cx="282.2" cy="307.5" r="0.6" fill="#222"/>
<circle cx="274.2" cy="311.5" r="0.6" fill="#222"/>
<circle cx="272.0" cy="303.1" r="0.6" fill="#222"/>
<circle cx="280.4" cy="292.1" r="0.6" fill="#222"/>
<circle cx="286.6" cy="299.4" r="0.6" fill="#222"/>
<circle cx="289.2" cy="297.2" r="0.6" fill="#222"/>
<circle cx="292.1" cy="296.5" r="0.6" fill="#222"/>
<circle cx="293.9" cy="298.3" r="0.6" fill="#222"/>
<circle cx="287.3" cy="304.2" r="0.6" fill="#222"/>
<circle cx="290.3" cy="302.0" r="0.6" fill="#222"/>
<circle cx="293.9" cy="302.0" r="0.6" fill="#222"/>
<circle cx="296.1" cy="304.2" r="0.6" fill="#222"/>
<circle cx="292.5" cy="307.5" r="0.6" fill="#222"/>
<circle cx="293.9" cy="305.6" r="0.6" fill="#222"/>
<circle cx="301.6" cy="295.7" r="0.6" fill="#222"/>
<circle cx="284.5" cy="303.0" r="0.6" fill="#222"/>
<circle cx="288.5" cy="300.5" r="0.6" fill="#222"/>
</g>
<g transform="translate(0.0,388.3)">
<g clip-path="url(#cl)">
<path d="M296.80 38.61h6.08v6.08h-6.08zM302.89 38.61h6.08v6.08h-6.08zM296.80 44.70h6.08v6.08h-6.08zM302.89 44.70h6.08v6.08h-6.08zM308.97 44.70h6.08v6.08h-6.08zM96.00 50.78h6.08v6.08h-6.08zM102.08 50.78h6.08v6.08h-6.08zM108.17 50.78h6.08v6.08h-6.08zM114.25 50.78h6.08v6.08h-6.08zM120.34 50.78h6.08v6.08h-6.08zM126.42 50.78h6.08v6.08h-6.08zM272.46 50.78h6.08v6.08h-6.08zM278.55 50.78h6.08v6.08h-6.08zM296.80 50.78h6.08v6.08h-6.08zM302.89 50.78h6.08v6.08h-6.08zM308.97 50.78h6.08v6.08h-6.08zM315.06 50.78h6.08v6.08h-6.08zM321.14 50.78h6.08v6.08h-6.08zM327.23 50.78h6.08v6.08h-6.08zM339.40 50.78h6.08v6.08h-6.08zM345.48 50.78h6.08v6.08h-6.08zM381.99 50.78h6.08v6.08h-6.08zM388.08 50.78h6.08v6.08h-6.08zM89.91 56.87h6.08v6.08h-6.08zM96.00 56.87h6.08v6.08h-6.08zM102.08 56.87h6.08v6.08h-6.08zM108.17 56.87h6.08v6.08h-6.08zM114.25 56.87h6.08v6.08h-6.08zM120.34 56.87h6.08v6.08h-6.08zM126.42 56.87h6.08v6.08h-6.08zM132.51 56.87h6.08v6.08h-6.08zM138.59 56.87h6.08v6.08h-6.08zM272.46 56.87h6.08v6.08h-6.08zM278.55 56.87h6.08v6.08h-6.08zM284.63 56.87h6.08v6.08h-6.08zM296.80 56.87h6.08v6.08h-6.08zM302.89 56.87h6.08v6.08h-6.08zM308.97 56.87h6.08v6.08h-6.08zM315.06 56.87h6.08v6.08h-6.08zM345.48 56.87h6.08v6.08h-6.08zM351.57 56.87h6.08v6.08h-6.08zM375.91 56.87h6.08v6.08h-6.08zM381.99 56.87h6.08v6.08h-6.08zM388.08 56.87h6.08v6.08h-6.08zM71.66 62.95h6.08v6.08h-6.08zM77.74 62.95h6.08v6.08h-6.08zM83.83 62.95h6.08v6.08h-6.08zM89.91 62.95h6.08v6.08h-6.08zM96.00 62.95h6.08v6.08h-6.08zM102.08 62.95h6.08v6.08h-6.08zM108.17 62.95h6.08v6.08h-6.08zM114.25 62.95h6.08v6.08h-6.08zM120.34 62.95h6.08v6.08h-6.08zM126.42 62.95h6.08v6.08h-6.08zM132.51 62.95h6.08v6.08h-6.08zM138.59 62.95h6.08v6.08h-6.08zM272.46 62.95h6.08v6.08h-6.08zM278.55 62.95h6.08v6.08h-6.08zM284.63 62.95h6.08v6.08h-6.08zM290.72 62.95h6.08v6.08h-6.08zM296.80 62.95h6.08v6.08h-6.08zM302.89 62.95h6.08v6.08h-6.08zM315.06 62.95h6.08v6.08h-6.08zM345.48 62.95h6.08v6.08h-6.08zM351.57 62.95h6.08v6.08h-6.08zM357.65 62.95h6.08v6.08h-6.08zM363.74 62.95h6.08v6.08h-6.08zM369.82 62.95h6.08v6.08h-6.08zM375.91 62.95h6.08v6.08h-6.08zM381.99 62.95h6.08v6.08h-6.08zM388.08 62.95h6.08v6.08h-6.08zM71.66 69.03h6.08v6.08h-6.08zM77.74 69.03h6.08v6.08h-6.08zM83.83 69.03h6.08v6.08h-6.08zM89.91 69.03h6.08v6.08h-6.08zM96.00 69.03h6.08v6.08h-6.08zM102.08 69.03h6.08v6.08h-6.08zM108.17 69.03h6.08v6.08h-6.08zM114.25 69.03h6.08v6.08h-6.08zM120.34 69.03h6.08v6.08h-6.08zM126.42 69.03h6.08v6.08h-6.08zM132.51 69.03h6.08v6.08h-6.08zM272.46 69.03h6.08v6.08h-6.08zM278.55 69.03h6.08v6.08h-6.08zM284.63 69.03h6.08v6.08h-6.08zM290.72 69.03h6.08v6.08h-6.08zM308.97 69.03h6.08v6.08h-6.08zM315.06 69.03h6.08v6.08h-6.08zM345.48 69.03h6.08v6.08h-6.08zM351.57 69.03h6.08v6.08h-6.08zM357.65 69.03h6.08v6.08h-6.08zM363.74 69.03h6.08v6.08h-6.08zM369.82 69.03h6.08v6.08h-6.08zM375.91 69.03h6.08v6.08h-6.08zM381.99 69.03h6.08v6.08h-6.08zM388.08 69.03h6.08v6.08h-6.08zM77.74 75.12h6.08v6.08h-6.08zM83.83 75.12h6.08v6.08h-6.08zM89.91 75.12h6.08v6.08h-6.08zM96.00 75.12h6.08v6.08h-6.08zM126.42 75.12h6.08v6.08h-6.08zM248.12 75.12h6.08v6.08h-6.08zM254.21 75.12h6.08v6.08h-6.08zM260.29 75.12h6.08v6.08h-6.08zM345.48 75.12h6.08v6.08h-6.08zM351.57 75.12h6.08v6.08h-6.08zM357.65 75.12h6.08v6.08h-6.08zM363.74 75.12h6.08v6.08h-6.08zM369.82 75.12h6.08v6.08h-6.08zM83.83 81.20h6.08v6.08h-6.08zM89.91 81.20h6.08v6.08h-6.08zM96.00 81.20h6.08v6.08h-6.08zM248.12 81.20h6.08v6.08h-6.08zM254.21 81.20h6.08v6.08h-6.08zM260.29 81.20h6.08v6.08h-6.08zM296.80 81.20h6.08v6.08h-6.08zM302.89 81.20h6.08v6.08h-6.08zM357.65 81.20h6.08v6.08h-6.08zM363.74 81.20h6.08v6.08h-6.08zM89.91 87.29h6.08v6.08h-6.08zM96.00 87.29h6.08v6.08h-6.08zM102.08 87.29h6.08v6.08h-6.08zM108.17 87.29h6.08v6.08h-6.08zM248.12 87.29h6.08v6.08h-6.08zM254.21 87.29h6.08v6.08h-6.08zM260.29 87.29h6.08v6.08h-6.08zM278.55 87.29h6.08v6.08h-6.08zM284.63 87.29h6.08v6.08h-6.08zM290.72 87.29h6.08v6.08h-6.08zM302.89 87.29h6.08v6.08h-6.08zM308.97 87.29h6.08v6.08h-6.08zM65.57 93.38h6.08v6.08h-6.08zM71.66 93.38h6.08v6.08h-6.08zM114.25 93.38h6.08v6.08h-6.08zM248.12 93.38h6.08v6.08h-6.08zM254.21 93.38h6.08v6.08h-6.08zM260.29 93.38h6.08v6.08h-6.08zM266.38 93.38h6.08v6.08h-6.08zM272.46 93.38h6.08v6.08h-6.08zM278.55 93.38h6.08v6.08h-6.08zM284.63 93.38h6.08v6.08h-6.08zM308.97 93.38h6.08v6.08h-6.08zM315.06 93.38h6.08v6.08h-6.08zM327.23 93.38h6.08v6.08h-6.08zM65.57 99.46h6.08v6.08h-6.08zM77.74 99.46h6.08v6.08h-6.08zM108.17 99.46h6.08v6.08h-6.08zM114.25 99.46h6.08v6.08h-6.08zM229.87 99.46h6.08v6.08h-6.08zM235.95 99.46h6.08v6.08h-6.08zM254.21 99.46h6.08v6.08h-6.08zM266.38 99.46h6.08v6.08h-6.08zM272.46 99.46h6.08v6.08h-6.08zM278.55 99.46h6.08v6.08h-6.08zM357.65 99.46h6.08v6.08h-6.08zM363.74 99.46h6.08v6.08h-6.08zM65.57 105.55h6.08v6.08h-6.08zM71.66 105.55h6.08v6.08h-6.08zM77.74 105.55h6.08v6.08h-6.08zM175.10 105.55h6.08v6.08h-6.08zM187.27 105.55h6.08v6.08h-6.08zM193.36 105.55h6.08v6.08h-6.08zM229.87 105.55h6.08v6.08h-6.08zM235.95 105.55h6.08v6.08h-6.08zM363.74 105.55h6.08v6.08h-6.08zM29.06 111.63h6.08v6.08h-6.08zM59.49 111.63h6.08v6.08h-6.08zM65.57 111.63h6.08v6.08h-6.08zM156.85 111.63h6.08v6.08h-6.08zM162.93 111.63h6.08v6.08h-6.08zM169.02 111.63h6.08v6.08h-6.08zM175.10 111.63h6.08v6.08h-6.08zM181.19 111.63h6.08v6.08h-6.08zM187.27 111.63h6.08v6.08h-6.08zM193.36 111.63h6.08v6.08h-6.08zM29.06 117.72h6.08v6.08h-6.08zM47.32 117.72h6.08v6.08h-6.08zM187.27 117.72h6.08v6.08h-6.08zM193.36 117.72h6.08v6.08h-6.08zM211.61 117.72h6.08v6.08h-6.08zM223.78 117.72h6.08v6.08h-6.08zM229.87 117.72h6.08v6.08h-6.08zM235.95 117.72h6.08v6.08h-6.08zM242.04 117.72h6.08v6.08h-6.08zM248.12 117.72h6.08v6.08h-6.08zM53.40 123.80h6.08v6.08h-6.08zM114.25 123.80h6.08v6.08h-6.08zM132.51 123.80h6.08v6.08h-6.08zM138.59 123.80h6.08v6.08h-6.08zM144.68 123.80h6.08v6.08h-6.08zM150.76 123.80h6.08v6.08h-6.08zM156.85 123.80h6.08v6.08h-6.08zM199.44 123.80h6.08v6.08h-6.08zM205.53 123.80h6.08v6.08h-6.08zM211.61 123.80h6.08v6.08h-6.08zM65.57 129.88h6.08v6.08h-6.08zM71.66 129.88h6.08v6.08h-6.08zM77.74 129.88h6.08v6.08h-6.08zM83.83 129.88h6.08v6.08h-6.08zM144.68 129.88h6.08v6.08h-6.08zM150.76 129.88h6.08v6.08h-6.08zM156.85 129.88h6.08v6.08h-6.08zM162.93 129.88h6.08v6.08h-6.08zM169.02 129.88h6.08v6.08h-6.08zM175.10 129.88h6.08v6.08h-6.08zM199.44 129.88h6.08v6.08h-6.08zM205.53 129.88h6.08v6.08h-6.08zM211.61 129.88h6.08v6.08h-6.08zM59.49 135.97h6.08v6.08h-6.08zM138.59 135.97h6.08v6.08h-6.08zM144.68 135.97h6.08v6.08h-6.08zM150.76 135.97h6.08v6.08h-6.08zM156.85 135.97h6.08v6.08h-6.08zM162.93 135.97h6.08v6.08h-6.08zM193.36 135.97h6.08v6.08h-6.08zM199.44 135.97h6.08v6.08h-6.08zM150.76 142.06h6.08v6.08h-6.08zM156.85 142.06h6.08v6.08h-6.08zM205.53 142.06h6.08v6.08h-6.08zM211.61 142.06h6.08v6.08h-6.08zM83.83 148.14h6.08v6.08h-6.08zM126.42 148.14h6.08v6.08h-6.08zM144.68 148.14h6.08v6.08h-6.08zM162.93 148.14h6.08v6.08h-6.08zM65.57 154.23h6.08v6.08h-6.08zM144.68 154.23h6.08v6.08h-6.08zM162.93 154.23h6.08v6.08h-6.08zM169.02 154.23h6.08v6.08h-6.08zM175.10 154.23h6.08v6.08h-6.08zM181.19 154.23h6.08v6.08h-6.08zM217.70 154.23h6.08v6.08h-6.08zM71.66 160.31h6.08v6.08h-6.08zM144.68 160.31h6.08v6.08h-6.08zM162.93 160.31h6.08v6.08h-6.08zM169.02 160.31h6.08v6.08h-6.08zM175.10 160.31h6.08v6.08h-6.08zM181.19 160.31h6.08v6.08h-6.08zM217.70 160.31h6.08v6.08h-6.08zM223.78 160.31h6.08v6.08h-6.08zM114.25 166.39h6.08v6.08h-6.08zM126.42 166.39h6.08v6.08h-6.08zM132.51 166.39h6.08v6.08h-6.08zM138.59 166.39h6.08v6.08h-6.08zM144.68 166.39h6.08v6.08h-6.08zM150.76 166.39h6.08v6.08h-6.08zM162.93 166.39h6.08v6.08h-6.08zM169.02 166.39h6.08v6.08h-6.08zM175.10 166.39h6.08v6.08h-6.08zM217.70 166.39h6.08v6.08h-6.08zM223.78 166.39h6.08v6.08h-6.08zM120.34 172.48h6.08v6.08h-6.08zM162.93 172.48h6.08v6.08h-6.08zM169.02 172.48h6.08v6.08h-6.08zM199.44 172.48h6.08v6.08h-6.08zM217.70 172.48h6.08v6.08h-6.08zM132.51 178.56h6.08v6.08h-6.08zM138.59 178.56h6.08v6.08h-6.08zM175.10 178.56h6.08v6.08h-6.08zM205.53 178.56h6.08v6.08h-6.08zM211.61 178.56h6.08v6.08h-6.08zM102.08 184.65h6.08v6.08h-6.08zM102.08 190.74h6.08v6.08h-6.08zM120.34 190.74h6.08v6.08h-6.08zM211.61 190.74h6.08v6.08h-6.08zM102.08 196.82h6.08v6.08h-6.08zM108.17 196.82h6.08v6.08h-6.08zM114.25 196.82h6.08v6.08h-6.08zM120.34 196.82h6.08v6.08h-6.08zM126.42 196.82h6.08v6.08h-6.08zM211.61 196.82h6.08v6.08h-6.08zM229.87 196.82h6.08v6.08h-6.08zM235.95 196.82h6.08v6.08h-6.08zM108.17 202.91h6.08v6.08h-6.08zM114.25 202.91h6.08v6.08h-6.08zM120.34 202.91h6.08v6.08h-6.08zM126.42 202.91h6.08v6.08h-6.08zM217.70 202.91h6.08v6.08h-6.08zM223.78 202.91h6.08v6.08h-6.08zM229.87 202.91h6.08v6.08h-6.08zM235.95 202.91h6.08v6.08h-6.08zM242.04 202.91h6.08v6.08h-6.08zM223.78 208.99h6.08v6.08h-6.08zM229.87 208.99h6.08v6.08h-6.08zM242.04 208.99h6.08v6.08h-6.08z" fill="#3b5efc"/>
<path d="M308.97 38.61h6.08v6.08h-6.08zM315.06 38.61h6.08v6.08h-6.08zM333.31 38.61h6.08v6.08h-6.08zM339.40 38.61h6.08v6.08h-6.08zM345.48 38.61h6.08v6.08h-6.08zM351.57 38.61h6.08v6.08h-6.08zM357.65 38.61h6.08v6.08h-6.08zM363.74 38.61h6.08v6.08h-6.08zM369.82 38.61h6.08v6.08h-6.08zM315.06 44.70h6.08v6.08h-6.08zM321.14 44.70h6.08v6.08h-6.08zM333.31 44.70h6.08v6.08h-6.08zM339.40 44.70h6.08v6.08h-6.08zM351.57 44.70h6.08v6.08h-6.08zM357.65 44.70h6.08v6.08h-6.08zM363.74 44.70h6.08v6.08h-6.08zM369.82 44.70h6.08v6.08h-6.08zM375.91 44.70h6.08v6.08h-6.08zM381.99 44.70h6.08v6.08h-6.08zM333.31 50.78h6.08v6.08h-6.08zM351.57 50.78h6.08v6.08h-6.08zM357.65 50.78h6.08v6.08h-6.08zM363.74 50.78h6.08v6.08h-6.08zM369.82 50.78h6.08v6.08h-6.08zM375.91 50.78h6.08v6.08h-6.08zM321.14 56.87h6.08v6.08h-6.08zM333.31 56.87h6.08v6.08h-6.08zM339.40 56.87h6.08v6.08h-6.08zM357.65 56.87h6.08v6.08h-6.08zM363.74 56.87h6.08v6.08h-6.08zM369.82 56.87h6.08v6.08h-6.08zM394.16 56.87h6.08v6.08h-6.08zM400.25 56.87h6.08v6.08h-6.08zM406.33 56.87h6.08v6.08h-6.08zM144.68 62.95h6.08v6.08h-6.08zM321.14 62.95h6.08v6.08h-6.08zM327.23 62.95h6.08v6.08h-6.08zM333.31 62.95h6.08v6.08h-6.08zM339.40 62.95h6.08v6.08h-6.08zM394.16 62.95h6.08v6.08h-6.08zM400.25 62.95h6.08v6.08h-6.08zM406.33 62.95h6.08v6.08h-6.08zM138.59 69.03h6.08v6.08h-6.08zM144.68 69.03h6.08v6.08h-6.08zM266.38 69.03h6.08v6.08h-6.08zM296.80 69.03h6.08v6.08h-6.08zM302.89 69.03h6.08v6.08h-6.08zM321.14 69.03h6.08v6.08h-6.08zM333.31 69.03h6.08v6.08h-6.08zM339.40 69.03h6.08v6.08h-6.08zM394.16 69.03h6.08v6.08h-6.08zM400.25 69.03h6.08v6.08h-6.08zM406.33 69.03h6.08v6.08h-6.08zM102.08 75.12h6.08v6.08h-6.08zM108.17 75.12h6.08v6.08h-6.08zM114.25 75.12h6.08v6.08h-6.08zM120.34 75.12h6.08v6.08h-6.08zM132.51 75.12h6.08v6.08h-6.08zM138.59 75.12h6.08v6.08h-6.08zM144.68 75.12h6.08v6.08h-6.08zM156.85 75.12h6.08v6.08h-6.08zM266.38 75.12h6.08v6.08h-6.08zM272.46 75.12h6.08v6.08h-6.08zM278.55 75.12h6.08v6.08h-6.08zM284.63 75.12h6.08v6.08h-6.08zM290.72 75.12h6.08v6.08h-6.08zM296.80 75.12h6.08v6.08h-6.08zM302.89 75.12h6.08v6.08h-6.08zM308.97 75.12h6.08v6.08h-6.08zM315.06 75.12h6.08v6.08h-6.08zM321.14 75.12h6.08v6.08h-6.08zM333.31 75.12h6.08v6.08h-6.08zM339.40 75.12h6.08v6.08h-6.08zM375.91 75.12h6.08v6.08h-6.08zM381.99 75.12h6.08v6.08h-6.08zM388.08 75.12h6.08v6.08h-6.08zM394.16 75.12h6.08v6.08h-6.08zM400.25 75.12h6.08v6.08h-6.08zM406.33 75.12h6.08v6.08h-6.08zM102.08 81.20h6.08v6.08h-6.08zM156.85 81.20h6.08v6.08h-6.08zM272.46 81.20h6.08v6.08h-6.08zM278.55 81.20h6.08v6.08h-6.08zM284.63 81.20h6.08v6.08h-6.08zM290.72 81.20h6.08v6.08h-6.08zM308.97 81.20h6.08v6.08h-6.08zM321.14 81.20h6.08v6.08h-6.08zM327.23 81.20h6.08v6.08h-6.08zM333.31 81.20h6.08v6.08h-6.08zM339.40 81.20h6.08v6.08h-6.08zM345.48 81.20h6.08v6.08h-6.08zM351.57 81.20h6.08v6.08h-6.08zM369.82 81.20h6.08v6.08h-6.08zM375.91 81.20h6.08v6.08h-6.08zM381.99 81.20h6.08v6.08h-6.08zM388.08 81.20h6.08v6.08h-6.08zM394.16 81.20h6.08v6.08h-6.08zM400.25 81.20h6.08v6.08h-6.08zM406.33 81.20h6.08v6.08h-6.08zM114.25 87.29h6.08v6.08h-6.08zM156.85 87.29h6.08v6.08h-6.08zM193.36 87.29h6.08v6.08h-6.08zM199.44 87.29h6.08v6.08h-6.08zM205.53 87.29h6.08v6.08h-6.08zM211.61 87.29h6.08v6.08h-6.08zM296.80 87.29h6.08v6.08h-6.08zM315.06 87.29h6.08v6.08h-6.08zM321.14 87.29h6.08v6.08h-6.08zM327.23 87.29h6.08v6.08h-6.08zM333.31 87.29h6.08v6.08h-6.08zM357.65 87.29h6.08v6.08h-6.08zM363.74 87.29h6.08v6.08h-6.08zM381.99 87.29h6.08v6.08h-6.08zM388.08 87.29h6.08v6.08h-6.08zM394.16 87.29h6.08v6.08h-6.08zM400.25 87.29h6.08v6.08h-6.08zM406.33 87.29h6.08v6.08h-6.08zM120.34 93.38h6.08v6.08h-6.08zM156.85 93.38h6.08v6.08h-6.08zM193.36 93.38h6.08v6.08h-6.08zM199.44 93.38h6.08v6.08h-6.08zM205.53 93.38h6.08v6.08h-6.08zM290.72 93.38h6.08v6.08h-6.08zM321.14 93.38h6.08v6.08h-6.08zM357.65 93.38h6.08v6.08h-6.08zM363.74 93.38h6.08v6.08h-6.08zM369.82 93.38h6.08v6.08h-6.08zM375.91 93.38h6.08v6.08h-6.08zM381.99 93.38h6.08v6.08h-6.08zM388.08 93.38h6.08v6.08h-6.08zM394.16 93.38h6.08v6.08h-6.08zM400.25 93.38h6.08v6.08h-6.08zM150.76 99.46h6.08v6.08h-6.08zM156.85 99.46h6.08v6.08h-6.08zM162.93 99.46h6.08v6.08h-6.08zM169.02 99.46h6.08v6.08h-6.08zM193.36 99.46h6.08v6.08h-6.08zM199.44 99.46h6.08v6.08h-6.08zM248.12 99.46h6.08v6.08h-6.08zM284.63 99.46h6.08v6.08h-6.08zM315.06 99.46h6.08v6.08h-6.08zM351.57 99.46h6.08v6.08h-6.08zM369.82 99.46h6.08v6.08h-6.08zM375.91 99.46h6.08v6.08h-6.08zM381.99 99.46h6.08v6.08h-6.08zM388.08 99.46h6.08v6.08h-6.08zM83.83 105.55h6.08v6.08h-6.08zM138.59 105.55h6.08v6.08h-6.08zM150.76 105.55h6.08v6.08h-6.08zM156.85 105.55h6.08v6.08h-6.08zM169.02 105.55h6.08v6.08h-6.08zM242.04 105.55h6.08v6.08h-6.08zM248.12 105.55h6.08v6.08h-6.08zM272.46 105.55h6.08v6.08h-6.08zM351.57 105.55h6.08v6.08h-6.08zM357.65 105.55h6.08v6.08h-6.08zM369.82 105.55h6.08v6.08h-6.08zM375.91 105.55h6.08v6.08h-6.08zM381.99 105.55h6.08v6.08h-6.08zM388.08 105.55h6.08v6.08h-6.08zM71.66 111.63h6.08v6.08h-6.08zM77.74 111.63h6.08v6.08h-6.08zM138.59 111.63h6.08v6.08h-6.08zM229.87 111.63h6.08v6.08h-6.08zM351.57 111.63h6.08v6.08h-6.08zM357.65 111.63h6.08v6.08h-6.08zM363.74 111.63h6.08v6.08h-6.08zM369.82 111.63h6.08v6.08h-6.08zM375.91 111.63h6.08v6.08h-6.08zM381.99 111.63h6.08v6.08h-6.08zM53.40 117.72h6.08v6.08h-6.08zM65.57 117.72h6.08v6.08h-6.08zM71.66 117.72h6.08v6.08h-6.08zM83.83 117.72h6.08v6.08h-6.08zM89.91 117.72h6.08v6.08h-6.08zM120.34 117.72h6.08v6.08h-6.08zM357.65 117.72h6.08v6.08h-6.08zM363.74 117.72h6.08v6.08h-6.08zM71.66 123.80h6.08v6.08h-6.08zM89.91 123.80h6.08v6.08h-6.08zM96.00 123.80h6.08v6.08h-6.08zM102.08 123.80h6.08v6.08h-6.08zM235.95 123.80h6.08v6.08h-6.08zM242.04 123.80h6.08v6.08h-6.08zM217.70 129.88h6.08v6.08h-6.08zM229.87 129.88h6.08v6.08h-6.08zM235.95 129.88h6.08v6.08h-6.08zM242.04 129.88h6.08v6.08h-6.08zM205.53 135.97h6.08v6.08h-6.08zM217.70 135.97h6.08v6.08h-6.08zM223.78 135.97h6.08v6.08h-6.08zM229.87 135.97h6.08v6.08h-6.08zM217.70 142.06h6.08v6.08h-6.08zM223.78 142.06h6.08v6.08h-6.08zM229.87 142.06h6.08v6.08h-6.08zM223.78 148.14h6.08v6.08h-6.08zM223.78 154.23h6.08v6.08h-6.08zM138.59 160.31h6.08v6.08h-6.08zM132.51 172.48h6.08v6.08h-6.08zM138.59 172.48h6.08v6.08h-6.08zM150.76 172.48h6.08v6.08h-6.08zM156.85 172.48h6.08v6.08h-6.08zM223.78 172.48h6.08v6.08h-6.08zM144.68 178.56h6.08v6.08h-6.08zM150.76 178.56h6.08v6.08h-6.08zM156.85 178.56h6.08v6.08h-6.08zM162.93 178.56h6.08v6.08h-6.08zM217.70 178.56h6.08v6.08h-6.08zM217.70 184.65h6.08v6.08h-6.08zM144.68 190.74h6.08v6.08h-6.08zM217.70 190.74h6.08v6.08h-6.08zM229.87 190.74h6.08v6.08h-6.08zM235.95 190.74h6.08v6.08h-6.08zM242.04 190.74h6.08v6.08h-6.08zM138.59 196.82h6.08v6.08h-6.08zM144.68 196.82h6.08v6.08h-6.08zM217.70 196.82h6.08v6.08h-6.08zM223.78 196.82h6.08v6.08h-6.08zM242.04 196.82h6.08v6.08h-6.08zM248.12 196.82h6.08v6.08h-6.08zM132.51 202.91h6.08v6.08h-6.08zM138.59 202.91h6.08v6.08h-6.08zM144.68 202.91h6.08v6.08h-6.08zM248.12 202.91h6.08v6.08h-6.08zM235.95 208.99h6.08v6.08h-6.08zM248.12 208.99h6.08v6.08h-6.08zM223.78 215.07h6.08v6.08h-6.08zM229.87 215.07h6.08v6.08h-6.08zM235.95 215.07h6.08v6.08h-6.08zM242.04 215.07h6.08v6.08h-6.08zM248.12 215.07h6.08v6.08h-6.08zM254.21 215.07h6.08v6.08h-6.08zM223.78 221.16h6.08v6.08h-6.08zM229.87 221.16h6.08v6.08h-6.08zM242.04 221.16h6.08v6.08h-6.08zM248.12 221.16h6.08v6.08h-6.08zM260.29 221.16h6.08v6.08h-6.08zM266.38 221.16h6.08v6.08h-6.08zM223.78 227.25h6.08v6.08h-6.08zM229.87 227.25h6.08v6.08h-6.08zM235.95 227.25h6.08v6.08h-6.08zM242.04 227.25h6.08v6.08h-6.08zM248.12 227.25h6.08v6.08h-6.08zM266.38 227.25h6.08v6.08h-6.08zM223.78 233.33h6.08v6.08h-6.08zM229.87 233.33h6.08v6.08h-6.08zM235.95 233.33h6.08v6.08h-6.08zM242.04 233.33h6.08v6.08h-6.08zM229.87 239.42h6.08v6.08h-6.08zM235.95 239.42h6.08v6.08h-6.08z" fill="#3aa8fc"/>
<path d="M321.14 38.61h6.08v6.08h-6.08zM327.23 38.61h6.08v6.08h-6.08zM327.23 69.03h6.08v6.08h-6.08zM162.93 75.12h6.08v6.08h-6.08zM169.02 75.12h6.08v6.08h-6.08zM175.10 75.12h6.08v6.08h-6.08zM327.23 75.12h6.08v6.08h-6.08zM108.17 81.20h6.08v6.08h-6.08zM114.25 81.20h6.08v6.08h-6.08zM120.34 81.20h6.08v6.08h-6.08zM162.93 81.20h6.08v6.08h-6.08zM169.02 81.20h6.08v6.08h-6.08zM175.10 81.20h6.08v6.08h-6.08zM315.06 81.20h6.08v6.08h-6.08zM120.34 87.29h6.08v6.08h-6.08zM162.93 87.29h6.08v6.08h-6.08zM169.02 87.29h6.08v6.08h-6.08zM175.10 87.29h6.08v6.08h-6.08zM187.27 87.29h6.08v6.08h-6.08zM339.40 87.29h6.08v6.08h-6.08zM345.48 87.29h6.08v6.08h-6.08zM351.57 87.29h6.08v6.08h-6.08zM369.82 87.29h6.08v6.08h-6.08zM375.91 87.29h6.08v6.08h-6.08zM150.76 93.38h6.08v6.08h-6.08zM162.93 93.38h6.08v6.08h-6.08zM169.02 93.38h6.08v6.08h-6.08zM187.27 93.38h6.08v6.08h-6.08zM296.80 93.38h6.08v6.08h-6.08zM302.89 93.38h6.08v6.08h-6.08zM351.57 93.38h6.08v6.08h-6.08zM120.34 99.46h6.08v6.08h-6.08zM126.42 99.46h6.08v6.08h-6.08zM132.51 99.46h6.08v6.08h-6.08zM138.59 99.46h6.08v6.08h-6.08zM144.68 99.46h6.08v6.08h-6.08zM187.27 99.46h6.08v6.08h-6.08zM290.72 99.46h6.08v6.08h-6.08zM308.97 99.46h6.08v6.08h-6.08zM321.14 99.46h6.08v6.08h-6.08zM327.23 99.46h6.08v6.08h-6.08zM345.48 99.46h6.08v6.08h-6.08zM89.91 105.55h6.08v6.08h-6.08zM96.00 105.55h6.08v6.08h-6.08zM102.08 105.55h6.08v6.08h-6.08zM108.17 105.55h6.08v6.08h-6.08zM120.34 105.55h6.08v6.08h-6.08zM132.51 105.55h6.08v6.08h-6.08zM162.93 105.55h6.08v6.08h-6.08zM254.21 105.55h6.08v6.08h-6.08zM260.29 105.55h6.08v6.08h-6.08zM266.38 105.55h6.08v6.08h-6.08zM278.55 105.55h6.08v6.08h-6.08zM315.06 105.55h6.08v6.08h-6.08zM83.83 111.63h6.08v6.08h-6.08zM59.49 117.72h6.08v6.08h-6.08zM223.78 123.80h6.08v6.08h-6.08zM229.87 123.80h6.08v6.08h-6.08zM248.12 123.80h6.08v6.08h-6.08zM315.06 123.80h6.08v6.08h-6.08zM321.14 123.80h6.08v6.08h-6.08zM327.23 123.80h6.08v6.08h-6.08zM333.31 123.80h6.08v6.08h-6.08zM223.78 129.88h6.08v6.08h-6.08zM248.12 129.88h6.08v6.08h-6.08zM308.97 129.88h6.08v6.08h-6.08zM315.06 129.88h6.08v6.08h-6.08zM321.14 129.88h6.08v6.08h-6.08zM327.23 129.88h6.08v6.08h-6.08zM333.31 129.88h6.08v6.08h-6.08zM339.40 129.88h6.08v6.08h-6.08zM211.61 135.97h6.08v6.08h-6.08zM235.95 135.97h6.08v6.08h-6.08zM242.04 135.97h6.08v6.08h-6.08zM315.06 135.97h6.08v6.08h-6.08zM321.14 135.97h6.08v6.08h-6.08zM327.23 135.97h6.08v6.08h-6.08zM333.31 135.97h6.08v6.08h-6.08zM339.40 135.97h6.08v6.08h-6.08zM235.95 142.06h6.08v6.08h-6.08zM321.14 142.06h6.08v6.08h-6.08zM327.23 142.06h6.08v6.08h-6.08zM333.31 142.06h6.08v6.08h-6.08zM339.40 142.06h6.08v6.08h-6.08zM229.87 148.14h6.08v6.08h-6.08zM229.87 154.23h6.08v6.08h-6.08zM229.87 160.31h6.08v6.08h-6.08zM229.87 166.39h6.08v6.08h-6.08zM229.87 172.48h6.08v6.08h-6.08zM223.78 178.56h6.08v6.08h-6.08zM266.38 178.56h6.08v6.08h-6.08zM114.25 184.65h6.08v6.08h-6.08zM120.34 184.65h6.08v6.08h-6.08zM126.42 184.65h6.08v6.08h-6.08zM223.78 184.65h6.08v6.08h-6.08zM229.87 184.65h6.08v6.08h-6.08zM235.95 184.65h6.08v6.08h-6.08zM242.04 184.65h6.08v6.08h-6.08zM114.25 190.74h6.08v6.08h-6.08zM126.42 190.74h6.08v6.08h-6.08zM205.53 190.74h6.08v6.08h-6.08zM223.78 190.74h6.08v6.08h-6.08zM248.12 190.74h6.08v6.08h-6.08zM175.10 196.82h6.08v6.08h-6.08zM181.19 196.82h6.08v6.08h-6.08zM187.27 196.82h6.08v6.08h-6.08zM254.21 196.82h6.08v6.08h-6.08zM333.31 196.82h6.08v6.08h-6.08zM181.19 202.91h6.08v6.08h-6.08zM254.21 202.91h6.08v6.08h-6.08zM284.63 202.91h6.08v6.08h-6.08zM321.14 202.91h6.08v6.08h-6.08zM327.23 202.91h6.08v6.08h-6.08zM333.31 202.91h6.08v6.08h-6.08zM162.93 208.99h6.08v6.08h-6.08zM169.02 208.99h6.08v6.08h-6.08zM175.10 208.99h6.08v6.08h-6.08zM254.21 208.99h6.08v6.08h-6.08zM260.29 208.99h6.08v6.08h-6.08zM321.14 208.99h6.08v6.08h-6.08zM327.23 208.99h6.08v6.08h-6.08zM333.31 208.99h6.08v6.08h-6.08zM162.93 215.07h6.08v6.08h-6.08zM169.02 215.07h6.08v6.08h-6.08zM175.10 215.07h6.08v6.08h-6.08zM260.29 215.07h6.08v6.08h-6.08zM162.93 221.16h6.08v6.08h-6.08zM169.02 221.16h6.08v6.08h-6.08zM235.95 221.16h6.08v6.08h-6.08zM254.21 221.16h6.08v6.08h-6.08zM254.21 227.25h6.08v6.08h-6.08zM260.29 227.25h6.08v6.08h-6.08z" fill="#00fcfc"/>
<path d="M278.55 44.70h6.08v6.08h-6.08zM284.63 44.70h6.08v6.08h-6.08zM290.72 44.70h6.08v6.08h-6.08zM284.63 50.78h6.08v6.08h-6.08zM290.72 50.78h6.08v6.08h-6.08zM290.72 56.87h6.08v6.08h-6.08zM308.97 62.95h6.08v6.08h-6.08zM59.49 75.12h6.08v6.08h-6.08zM65.57 75.12h6.08v6.08h-6.08zM71.66 75.12h6.08v6.08h-6.08zM59.49 81.20h6.08v6.08h-6.08zM65.57 81.20h6.08v6.08h-6.08zM71.66 81.20h6.08v6.08h-6.08zM77.74 81.20h6.08v6.08h-6.08zM59.49 87.29h6.08v6.08h-6.08zM65.57 87.29h6.08v6.08h-6.08zM71.66 87.29h6.08v6.08h-6.08zM77.74 87.29h6.08v6.08h-6.08zM83.83 87.29h6.08v6.08h-6.08zM272.46 87.29h6.08v6.08h-6.08zM47.32 93.38h6.08v6.08h-6.08zM53.40 93.38h6.08v6.08h-6.08zM59.49 93.38h6.08v6.08h-6.08zM77.74 93.38h6.08v6.08h-6.08zM83.83 93.38h6.08v6.08h-6.08zM89.91 93.38h6.08v6.08h-6.08zM96.00 93.38h6.08v6.08h-6.08zM102.08 93.38h6.08v6.08h-6.08zM108.17 93.38h6.08v6.08h-6.08zM53.40 99.46h6.08v6.08h-6.08zM59.49 99.46h6.08v6.08h-6.08zM71.66 99.46h6.08v6.08h-6.08zM83.83 99.46h6.08v6.08h-6.08zM89.91 99.46h6.08v6.08h-6.08zM96.00 99.46h6.08v6.08h-6.08zM102.08 99.46h6.08v6.08h-6.08zM59.49 105.55h6.08v6.08h-6.08zM199.44 105.55h6.08v6.08h-6.08zM211.61 111.63h6.08v6.08h-6.08zM217.70 111.63h6.08v6.08h-6.08zM41.23 117.72h6.08v6.08h-6.08zM150.76 117.72h6.08v6.08h-6.08zM156.85 117.72h6.08v6.08h-6.08zM169.02 117.72h6.08v6.08h-6.08zM175.10 117.72h6.08v6.08h-6.08zM181.19 117.72h6.08v6.08h-6.08zM199.44 117.72h6.08v6.08h-6.08zM205.53 117.72h6.08v6.08h-6.08zM41.23 123.80h6.08v6.08h-6.08zM47.32 123.80h6.08v6.08h-6.08zM120.34 123.80h6.08v6.08h-6.08zM181.19 123.80h6.08v6.08h-6.08zM187.27 123.80h6.08v6.08h-6.08zM193.36 123.80h6.08v6.08h-6.08zM41.23 129.88h6.08v6.08h-6.08zM47.32 129.88h6.08v6.08h-6.08zM53.40 129.88h6.08v6.08h-6.08zM59.49 129.88h6.08v6.08h-6.08zM96.00 129.88h6.08v6.08h-6.08zM120.34 129.88h6.08v6.08h-6.08zM138.59 129.88h6.08v6.08h-6.08zM181.19 129.88h6.08v6.08h-6.08zM187.27 129.88h6.08v6.08h-6.08zM193.36 129.88h6.08v6.08h-6.08zM65.57 135.97h6.08v6.08h-6.08zM71.66 135.97h6.08v6.08h-6.08zM77.74 135.97h6.08v6.08h-6.08zM89.91 135.97h6.08v6.08h-6.08zM169.02 135.97h6.08v6.08h-6.08zM175.10 135.97h6.08v6.08h-6.08zM181.19 135.97h6.08v6.08h-6.08zM187.27 135.97h6.08v6.08h-6.08zM71.66 142.06h6.08v6.08h-6.08zM77.74 142.06h6.08v6.08h-6.08zM83.83 142.06h6.08v6.08h-6.08zM102.08 142.06h6.08v6.08h-6.08zM175.10 142.06h6.08v6.08h-6.08zM181.19 142.06h6.08v6.08h-6.08zM187.27 142.06h6.08v6.08h-6.08zM193.36 142.06h6.08v6.08h-6.08zM199.44 142.06h6.08v6.08h-6.08zM181.19 148.14h6.08v6.08h-6.08zM193.36 148.14h6.08v6.08h-6.08zM199.44 148.14h6.08v6.08h-6.08zM205.53 148.14h6.08v6.08h-6.08zM211.61 148.14h6.08v6.08h-6.08zM217.70 148.14h6.08v6.08h-6.08zM187.27 154.23h6.08v6.08h-6.08zM193.36 154.23h6.08v6.08h-6.08zM199.44 154.23h6.08v6.08h-6.08zM205.53 154.23h6.08v6.08h-6.08zM211.61 154.23h6.08v6.08h-6.08zM193.36 160.31h6.08v6.08h-6.08zM199.44 160.31h6.08v6.08h-6.08zM205.53 160.31h6.08v6.08h-6.08zM211.61 160.31h6.08v6.08h-6.08zM47.32 166.39h6.08v6.08h-6.08zM53.40 166.39h6.08v6.08h-6.08zM59.49 166.39h6.08v6.08h-6.08zM181.19 166.39h6.08v6.08h-6.08zM187.27 166.39h6.08v6.08h-6.08zM193.36 166.39h6.08v6.08h-6.08zM199.44 166.39h6.08v6.08h-6.08zM205.53 166.39h6.08v6.08h-6.08zM211.61 166.39h6.08v6.08h-6.08zM47.32 172.48h6.08v6.08h-6.08zM53.40 172.48h6.08v6.08h-6.08zM59.49 172.48h6.08v6.08h-6.08zM65.57 172.48h6.08v6.08h-6.08zM71.66 172.48h6.08v6.08h-6.08zM77.74 172.48h6.08v6.08h-6.08zM175.10 172.48h6.08v6.08h-6.08zM181.19 172.48h6.08v6.08h-6.08zM187.27 172.48h6.08v6.08h-6.08zM193.36 172.48h6.08v6.08h-6.08zM205.53 172.48h6.08v6.08h-6.08zM211.61 172.48h6.08v6.08h-6.08zM47.32 178.56h6.08v6.08h-6.08zM53.40 178.56h6.08v6.08h-6.08zM59.49 178.56h6.08v6.08h-6.08zM65.57 178.56h6.08v6.08h-6.08zM71.66 178.56h6.08v6.08h-6.08zM181.19 178.56h6.08v6.08h-6.08zM187.27 178.56h6.08v6.08h-6.08zM193.36 178.56h6.08v6.08h-6.08zM199.44 178.56h6.08v6.08h-6.08zM53.40 184.65h6.08v6.08h-6.08zM59.49 184.65h6.08v6.08h-6.08zM65.57 184.65h6.08v6.08h-6.08zM96.00 184.65h6.08v6.08h-6.08zM199.44 184.65h6.08v6.08h-6.08zM205.53 184.65h6.08v6.08h-6.08zM211.61 184.65h6.08v6.08h-6.08zM89.91 190.74h6.08v6.08h-6.08zM96.00 190.74h6.08v6.08h-6.08zM83.83 196.82h6.08v6.08h-6.08zM89.91 196.82h6.08v6.08h-6.08zM96.00 196.82h6.08v6.08h-6.08z" fill="#0000fc"/>
<path d="M327.23 44.70h6.08v6.08h-6.08zM345.48 44.70h6.08v6.08h-6.08zM327.23 56.87h6.08v6.08h-6.08zM150.76 75.12h6.08v6.08h-6.08zM126.42 81.20h6.08v6.08h-6.08zM132.51 81.20h6.08v6.08h-6.08zM150.76 81.20h6.08v6.08h-6.08zM266.38 81.20h6.08v6.08h-6.08zM150.76 87.29h6.08v6.08h-6.08zM229.87 87.29h6.08v6.08h-6.08zM235.95 87.29h6.08v6.08h-6.08zM242.04 87.29h6.08v6.08h-6.08zM266.38 87.29h6.08v6.08h-6.08zM175.10 93.38h6.08v6.08h-6.08zM211.61 93.38h6.08v6.08h-6.08zM217.70 93.38h6.08v6.08h-6.08zM223.78 93.38h6.08v6.08h-6.08zM229.87 93.38h6.08v6.08h-6.08zM235.95 93.38h6.08v6.08h-6.08zM242.04 93.38h6.08v6.08h-6.08zM29.06 99.46h6.08v6.08h-6.08zM35.15 99.46h6.08v6.08h-6.08zM41.23 99.46h6.08v6.08h-6.08zM47.32 99.46h6.08v6.08h-6.08zM175.10 99.46h6.08v6.08h-6.08zM205.53 99.46h6.08v6.08h-6.08zM211.61 99.46h6.08v6.08h-6.08zM217.70 99.46h6.08v6.08h-6.08zM223.78 99.46h6.08v6.08h-6.08zM242.04 99.46h6.08v6.08h-6.08zM260.29 99.46h6.08v6.08h-6.08zM29.06 105.55h6.08v6.08h-6.08zM35.15 105.55h6.08v6.08h-6.08zM41.23 105.55h6.08v6.08h-6.08zM47.32 105.55h6.08v6.08h-6.08zM53.40 105.55h6.08v6.08h-6.08zM144.68 105.55h6.08v6.08h-6.08zM181.19 105.55h6.08v6.08h-6.08zM205.53 105.55h6.08v6.08h-6.08zM211.61 105.55h6.08v6.08h-6.08zM217.70 105.55h6.08v6.08h-6.08zM223.78 105.55h6.08v6.08h-6.08zM35.15 111.63h6.08v6.08h-6.08zM41.23 111.63h6.08v6.08h-6.08zM47.32 111.63h6.08v6.08h-6.08zM53.40 111.63h6.08v6.08h-6.08zM102.08 111.63h6.08v6.08h-6.08zM120.34 111.63h6.08v6.08h-6.08zM126.42 111.63h6.08v6.08h-6.08zM132.51 111.63h6.08v6.08h-6.08zM144.68 111.63h6.08v6.08h-6.08zM150.76 111.63h6.08v6.08h-6.08zM199.44 111.63h6.08v6.08h-6.08zM205.53 111.63h6.08v6.08h-6.08zM223.78 111.63h6.08v6.08h-6.08zM35.15 117.72h6.08v6.08h-6.08zM77.74 117.72h6.08v6.08h-6.08zM96.00 117.72h6.08v6.08h-6.08zM102.08 117.72h6.08v6.08h-6.08zM108.17 117.72h6.08v6.08h-6.08zM114.25 117.72h6.08v6.08h-6.08zM126.42 117.72h6.08v6.08h-6.08zM132.51 117.72h6.08v6.08h-6.08zM138.59 117.72h6.08v6.08h-6.08zM144.68 117.72h6.08v6.08h-6.08zM162.93 117.72h6.08v6.08h-6.08zM217.70 117.72h6.08v6.08h-6.08zM29.06 123.80h6.08v6.08h-6.08zM35.15 123.80h6.08v6.08h-6.08zM59.49 123.80h6.08v6.08h-6.08zM65.57 123.80h6.08v6.08h-6.08zM77.74 123.80h6.08v6.08h-6.08zM83.83 123.80h6.08v6.08h-6.08zM108.17 123.80h6.08v6.08h-6.08zM126.42 123.80h6.08v6.08h-6.08zM162.93 123.80h6.08v6.08h-6.08zM169.02 123.80h6.08v6.08h-6.08zM175.10 123.80h6.08v6.08h-6.08zM217.70 123.80h6.08v6.08h-6.08zM29.06 129.88h6.08v6.08h-6.08zM35.15 129.88h6.08v6.08h-6.08zM89.91 129.88h6.08v6.08h-6.08zM102.08 129.88h6.08v6.08h-6.08zM108.17 129.88h6.08v6.08h-6.08zM114.25 129.88h6.08v6.08h-6.08zM126.42 129.88h6.08v6.08h-6.08zM132.51 129.88h6.08v6.08h-6.08zM29.06 135.97h6.08v6.08h-6.08zM35.15 135.97h6.08v6.08h-6.08zM41.23 135.97h6.08v6.08h-6.08zM47.32 135.97h6.08v6.08h-6.08zM53.40 135.97h6.08v6.08h-6.08zM83.83 135.97h6.08v6.08h-6.08zM96.00 135.97h6.08v6.08h-6.08zM102.08 135.97h6.08v6.08h-6.08zM108.17 135.97h6.08v6.08h-6.08zM114.25 135.97h6.08v6.08h-6.08zM120.34 135.97h6.08v6.08h-6.08zM126.42 135.97h6.08v6.08h-6.08zM132.51 135.97h6.08v6.08h-6.08zM29.06 142.06h6.08v6.08h-6.08zM35.15 142.06h6.08v6.08h-6.08zM41.23 142.06h6.08v6.08h-6.08zM47.32 142.06h6.08v6.08h-6.08zM53.40 142.06h6.08v6.08h-6.08zM59.49 142.06h6.08v6.08h-6.08zM65.57 142.06h6.08v6.08h-6.08zM89.91 142.06h6.08v6.08h-6.08zM96.00 142.06h6.08v6.08h-6.08zM108.17 142.06h6.08v6.08h-6.08zM114.25 142.06h6.08v6.08h-6.08zM120.34 142.06h6.08v6.08h-6.08zM126.42 142.06h6.08v6.08h-6.08zM132.51 142.06h6.08v6.08h-6.08zM138.59 142.06h6.08v6.08h-6.08zM144.68 142.06h6.08v6.08h-6.08zM162.93 142.06h6.08v6.08h-6.08zM169.02 142.06h6.08v6.08h-6.08zM29.06 148.14h6.08v6.08h-6.08zM35.15 148.14h6.08v6.08h-6.08zM41.23 148.14h6.08v6.08h-6.08zM47.32 148.14h6.08v6.08h-6.08zM53.40 148.14h6.08v6.08h-6.08zM59.49 148.14h6.08v6.08h-6.08zM65.57 148.14h6.08v6.08h-6.08zM71.66 148.14h6.08v6.08h-6.08zM77.74 148.14h6.08v6.08h-6.08zM89.91 148.14h6.08v6.08h-6.08zM96.00 148.14h6.08v6.08h-6.08zM102.08 148.14h6.08v6.08h-6.08zM108.17 148.14h6.08v6.08h-6.08zM114.25 148.14h6.08v6.08h-6.08zM120.34 148.14h6.08v6.08h-6.08zM132.51 148.14h6.08v6.08h-6.08zM138.59 148.14h6.08v6.08h-6.08zM150.76 148.14h6.08v6.08h-6.08zM156.85 148.14h6.08v6.08h-6.08zM169.02 148.14h6.08v6.08h-6.08zM175.10 148.14h6.08v6.08h-6.08zM187.27 148.14h6.08v6.08h-6.08zM35.15 154.23h6.08v6.08h-6.08zM41.23 154.23h6.08v6.08h-6.08zM47.32 154.23h6.08v6.08h-6.08zM53.40 154.23h6.08v6.08h-6.08zM59.49 154.23h6.08v6.08h-6.08zM71.66 154.23h6.08v6.08h-6.08zM77.74 154.23h6.08v6.08h-6.08zM83.83 154.23h6.08v6.08h-6.08zM89.91 154.23h6.08v6.08h-6.08zM96.00 154.23h6.08v6.08h-6.08zM102.08 154.23h6.08v6.08h-6.08zM108.17 154.23h6.08v6.08h-6.08zM114.25 154.23h6.08v6.08h-6.08zM120.34 154.23h6.08v6.08h-6.08zM126.42 154.23h6.08v6.08h-6.08zM132.51 154.23h6.08v6.08h-6.08zM138.59 154.23h6.08v6.08h-6.08zM150.76 154.23h6.08v6.08h-6.08zM156.85 154.23h6.08v6.08h-6.08zM47.32 160.31h6.08v6.08h-6.08zM53.40 160.31h6.08v6.08h-6.08zM59.49 160.31h6.08v6.08h-6.08zM65.57 160.31h6.08v6.08h-6.08zM77.74 160.31h6.08v6.08h-6.08zM83.83 160.31h6.08v6.08h-6.08zM89.91 160.31h6.08v6.08h-6.08zM96.00 160.31h6.08v6.08h-6.08zM102.08 160.31h6.08v6.08h-6.08zM108.17 160.31h6.08v6.08h-6.08zM114.25 160.31h6.08v6.08h-6.08zM120.34 160.31h6.08v6.08h-6.08zM126.42 160.31h6.08v6.08h-6.08zM132.51 160.31h6.08v6.08h-6.08zM150.76 160.31h6.08v6.08h-6.08zM156.85 160.31h6.08v6.08h-6.08zM187.27 160.31h6.08v6.08h-6.08zM65.57 166.39h6.08v6.08h-6.08zM71.66 166.39h6.08v6.08h-6.08zM77.74 166.39h6.08v6.08h-6.08zM83.83 166.39h6.08v6.08h-6.08zM89.91 166.39h6.08v6.08h-6.08zM96.00 166.39h6.08v6.08h-6.08zM102.08 166.39h6.08v6.08h-6.08zM108.17 166.39h6.08v6.08h-6.08zM120.34 166.39h6.08v6.08h-6.08zM156.85 166.39h6.08v6.08h-6.08zM83.83 172.48h6.08v6.08h-6.08zM89.91 172.48h6.08v6.08h-6.08zM96.00 172.48h6.08v6.08h-6.08zM102.08 172.48h6.08v6.08h-6.08zM108.17 172.48h6.08v6.08h-6.08zM114.25 172.48h6.08v6.08h-6.08zM126.42 172.48h6.08v6.08h-6.08zM144.68 172.48h6.08v6.08h-6.08zM77.74 178.56h6.08v6.08h-6.08zM83.83 178.56h6.08v6.08h-6.08zM89.91 178.56h6.08v6.08h-6.08zM96.00 178.56h6.08v6.08h-6.08zM102.08 178.56h6.08v6.08h-6.08zM108.17 178.56h6.08v6.08h-6.08zM169.02 178.56h6.08v6.08h-6.08zM71.66 184.65h6.08v6.08h-6.08zM77.74 184.65h6.08v6.08h-6.08zM83.83 184.65h6.08v6.08h-6.08zM89.91 184.65h6.08v6.08h-6.08zM108.17 184.65h6.08v6.08h-6.08zM150.76 184.65h6.08v6.08h-6.08zM71.66 190.74h6.08v6.08h-6.08zM77.74 190.74h6.08v6.08h-6.08zM83.83 190.74h6.08v6.08h-6.08zM108.17 190.74h6.08v6.08h-6.08z" fill="url(#hatch)"/>
<path d="M138.59 81.20h6.08v6.08h-6.08zM144.68 81.20h6.08v6.08h-6.08zM138.59 87.29h6.08v6.08h-6.08zM144.68 87.29h6.08v6.08h-6.08zM138.59 93.38h6.08v6.08h-6.08zM144.68 93.38h6.08v6.08h-6.08zM339.40 93.38h6.08v6.08h-6.08zM339.40 99.46h6.08v6.08h-6.08zM284.63 105.55h6.08v6.08h-6.08zM302.89 105.55h6.08v6.08h-6.08zM333.31 105.55h6.08v6.08h-6.08zM339.40 105.55h6.08v6.08h-6.08zM96.00 111.63h6.08v6.08h-6.08zM108.17 111.63h6.08v6.08h-6.08zM254.21 111.63h6.08v6.08h-6.08zM266.38 111.63h6.08v6.08h-6.08zM272.46 111.63h6.08v6.08h-6.08zM308.97 111.63h6.08v6.08h-6.08zM327.23 111.63h6.08v6.08h-6.08zM333.31 111.63h6.08v6.08h-6.08zM339.40 111.63h6.08v6.08h-6.08zM345.48 111.63h6.08v6.08h-6.08zM272.46 117.72h6.08v6.08h-6.08zM308.97 117.72h6.08v6.08h-6.08zM315.06 117.72h6.08v6.08h-6.08zM321.14 117.72h6.08v6.08h-6.08zM333.31 117.72h6.08v6.08h-6.08zM339.40 117.72h6.08v6.08h-6.08zM345.48 117.72h6.08v6.08h-6.08zM351.57 117.72h6.08v6.08h-6.08zM278.55 123.80h6.08v6.08h-6.08zM284.63 123.80h6.08v6.08h-6.08zM308.97 123.80h6.08v6.08h-6.08zM339.40 123.80h6.08v6.08h-6.08zM345.48 123.80h6.08v6.08h-6.08zM351.57 123.80h6.08v6.08h-6.08zM278.55 129.88h6.08v6.08h-6.08zM284.63 129.88h6.08v6.08h-6.08zM290.72 129.88h6.08v6.08h-6.08zM260.29 135.97h6.08v6.08h-6.08zM266.38 135.97h6.08v6.08h-6.08zM272.46 135.97h6.08v6.08h-6.08zM278.55 135.97h6.08v6.08h-6.08zM284.63 135.97h6.08v6.08h-6.08zM290.72 135.97h6.08v6.08h-6.08zM296.80 135.97h6.08v6.08h-6.08zM302.89 135.97h6.08v6.08h-6.08zM308.97 135.97h6.08v6.08h-6.08zM248.12 142.06h6.08v6.08h-6.08zM254.21 142.06h6.08v6.08h-6.08zM260.29 142.06h6.08v6.08h-6.08zM266.38 142.06h6.08v6.08h-6.08zM272.46 142.06h6.08v6.08h-6.08zM278.55 142.06h6.08v6.08h-6.08zM284.63 142.06h6.08v6.08h-6.08zM290.72 142.06h6.08v6.08h-6.08zM296.80 142.06h6.08v6.08h-6.08zM235.95 148.14h6.08v6.08h-6.08zM242.04 148.14h6.08v6.08h-6.08zM248.12 148.14h6.08v6.08h-6.08zM254.21 148.14h6.08v6.08h-6.08zM260.29 148.14h6.08v6.08h-6.08zM266.38 148.14h6.08v6.08h-6.08zM272.46 148.14h6.08v6.08h-6.08zM278.55 148.14h6.08v6.08h-6.08zM284.63 148.14h6.08v6.08h-6.08zM290.72 148.14h6.08v6.08h-6.08zM296.80 148.14h6.08v6.08h-6.08zM302.89 148.14h6.08v6.08h-6.08zM333.31 148.14h6.08v6.08h-6.08zM254.21 154.23h6.08v6.08h-6.08zM260.29 154.23h6.08v6.08h-6.08zM266.38 154.23h6.08v6.08h-6.08zM284.63 154.23h6.08v6.08h-6.08zM290.72 154.23h6.08v6.08h-6.08zM296.80 154.23h6.08v6.08h-6.08zM302.89 154.23h6.08v6.08h-6.08zM308.97 154.23h6.08v6.08h-6.08zM327.23 154.23h6.08v6.08h-6.08zM333.31 154.23h6.08v6.08h-6.08zM254.21 160.31h6.08v6.08h-6.08zM266.38 160.31h6.08v6.08h-6.08zM272.46 160.31h6.08v6.08h-6.08zM284.63 160.31h6.08v6.08h-6.08zM290.72 160.31h6.08v6.08h-6.08zM296.80 160.31h6.08v6.08h-6.08zM302.89 160.31h6.08v6.08h-6.08zM308.97 160.31h6.08v6.08h-6.08zM315.06 160.31h6.08v6.08h-6.08zM321.14 160.31h6.08v6.08h-6.08zM327.23 160.31h6.08v6.08h-6.08zM333.31 160.31h6.08v6.08h-6.08zM254.21 166.39h6.08v6.08h-6.08zM260.29 166.39h6.08v6.08h-6.08zM266.38 166.39h6.08v6.08h-6.08zM272.46 166.39h6.08v6.08h-6.08zM278.55 166.39h6.08v6.08h-6.08zM284.63 166.39h6.08v6.08h-6.08zM278.55 172.48h6.08v6.08h-6.08zM284.63 172.48h6.08v6.08h-6.08zM126.42 178.56h6.08v6.08h-6.08zM290.72 178.56h6.08v6.08h-6.08zM156.85 184.65h6.08v6.08h-6.08zM169.02 184.65h6.08v6.08h-6.08zM175.10 184.65h6.08v6.08h-6.08zM181.19 184.65h6.08v6.08h-6.08zM187.27 184.65h6.08v6.08h-6.08zM284.63 184.65h6.08v6.08h-6.08zM290.72 184.65h6.08v6.08h-6.08zM296.80 184.65h6.08v6.08h-6.08zM302.89 184.65h6.08v6.08h-6.08zM308.97 184.65h6.08v6.08h-6.08zM169.02 190.74h6.08v6.08h-6.08zM175.10 190.74h6.08v6.08h-6.08zM260.29 190.74h6.08v6.08h-6.08zM266.38 190.74h6.08v6.08h-6.08zM272.46 190.74h6.08v6.08h-6.08zM278.55 190.74h6.08v6.08h-6.08zM284.63 190.74h6.08v6.08h-6.08zM308.97 190.74h6.08v6.08h-6.08zM315.06 190.74h6.08v6.08h-6.08zM321.14 190.74h6.08v6.08h-6.08zM266.38 196.82h6.08v6.08h-6.08zM272.46 196.82h6.08v6.08h-6.08zM278.55 196.82h6.08v6.08h-6.08zM308.97 196.82h6.08v6.08h-6.08zM315.06 196.82h6.08v6.08h-6.08zM321.14 196.82h6.08v6.08h-6.08zM327.23 196.82h6.08v6.08h-6.08zM205.53 202.91h6.08v6.08h-6.08zM211.61 202.91h6.08v6.08h-6.08zM266.38 202.91h6.08v6.08h-6.08zM272.46 202.91h6.08v6.08h-6.08zM302.89 202.91h6.08v6.08h-6.08zM308.97 202.91h6.08v6.08h-6.08zM315.06 202.91h6.08v6.08h-6.08zM272.46 208.99h6.08v6.08h-6.08zM296.80 208.99h6.08v6.08h-6.08zM302.89 208.99h6.08v6.08h-6.08zM308.97 208.99h6.08v6.08h-6.08zM315.06 208.99h6.08v6.08h-6.08zM199.44 215.07h6.08v6.08h-6.08zM205.53 215.07h6.08v6.08h-6.08zM211.61 215.07h6.08v6.08h-6.08zM217.70 215.07h6.08v6.08h-6.08zM272.46 215.07h6.08v6.08h-6.08zM278.55 215.07h6.08v6.08h-6.08zM284.63 215.07h6.08v6.08h-6.08zM302.89 215.07h6.08v6.08h-6.08zM175.10 221.16h6.08v6.08h-6.08zM181.19 221.16h6.08v6.08h-6.08zM187.27 221.16h6.08v6.08h-6.08zM193.36 221.16h6.08v6.08h-6.08zM199.44 221.16h6.08v6.08h-6.08zM217.70 221.16h6.08v6.08h-6.08zM278.55 221.16h6.08v6.08h-6.08zM284.63 221.16h6.08v6.08h-6.08zM175.10 227.25h6.08v6.08h-6.08zM181.19 227.25h6.08v6.08h-6.08zM187.27 227.25h6.08v6.08h-6.08zM193.36 227.25h6.08v6.08h-6.08zM199.44 227.25h6.08v6.08h-6.08zM205.53 227.25h6.08v6.08h-6.08zM278.55 227.25h6.08v6.08h-6.08zM284.63 227.25h6.08v6.08h-6.08zM290.72 227.25h6.08v6.08h-6.08zM175.10 233.33h6.08v6.08h-6.08zM181.19 233.33h6.08v6.08h-6.08zM187.27 233.33h6.08v6.08h-6.08zM193.36 233.33h6.08v6.08h-6.08zM199.44 233.33h6.08v6.08h-6.08zM205.53 233.33h6.08v6.08h-6.08zM211.61 233.33h6.08v6.08h-6.08zM278.55 233.33h6.08v6.08h-6.08zM284.63 233.33h6.08v6.08h-6.08zM290.72 233.33h6.08v6.08h-6.08zM181.19 239.42h6.08v6.08h-6.08zM187.27 239.42h6.08v6.08h-6.08zM193.36 239.42h6.08v6.08h-6.08zM199.44 239.42h6.08v6.08h-6.08zM205.53 239.42h6.08v6.08h-6.08zM211.61 239.42h6.08v6.08h-6.08z" fill="#d2fa6e"/>
<path d="M126.42 87.29h6.08v6.08h-6.08zM132.51 87.29h6.08v6.08h-6.08zM181.19 87.29h6.08v6.08h-6.08zM126.42 93.38h6.08v6.08h-6.08zM132.51 93.38h6.08v6.08h-6.08zM181.19 93.38h6.08v6.08h-6.08zM333.31 93.38h6.08v6.08h-6.08zM345.48 93.38h6.08v6.08h-6.08zM181.19 99.46h6.08v6.08h-6.08zM296.80 99.46h6.08v6.08h-6.08zM302.89 99.46h6.08v6.08h-6.08zM333.31 99.46h6.08v6.08h-6.08zM114.25 105.55h6.08v6.08h-6.08zM126.42 105.55h6.08v6.08h-6.08zM308.97 105.55h6.08v6.08h-6.08zM321.14 105.55h6.08v6.08h-6.08zM327.23 105.55h6.08v6.08h-6.08zM345.48 105.55h6.08v6.08h-6.08zM89.91 111.63h6.08v6.08h-6.08zM114.25 111.63h6.08v6.08h-6.08zM235.95 111.63h6.08v6.08h-6.08zM242.04 111.63h6.08v6.08h-6.08zM248.12 111.63h6.08v6.08h-6.08zM315.06 111.63h6.08v6.08h-6.08zM321.14 111.63h6.08v6.08h-6.08zM254.21 123.80h6.08v6.08h-6.08zM260.29 123.80h6.08v6.08h-6.08zM266.38 123.80h6.08v6.08h-6.08zM272.46 123.80h6.08v6.08h-6.08zM254.21 129.88h6.08v6.08h-6.08zM260.29 129.88h6.08v6.08h-6.08zM266.38 129.88h6.08v6.08h-6.08zM272.46 129.88h6.08v6.08h-6.08zM248.12 135.97h6.08v6.08h-6.08zM254.21 135.97h6.08v6.08h-6.08zM242.04 142.06h6.08v6.08h-6.08zM302.89 142.06h6.08v6.08h-6.08zM308.97 142.06h6.08v6.08h-6.08zM315.06 142.06h6.08v6.08h-6.08zM308.97 148.14h6.08v6.08h-6.08zM315.06 148.14h6.08v6.08h-6.08zM321.14 148.14h6.08v6.08h-6.08zM327.23 148.14h6.08v6.08h-6.08zM235.95 154.23h6.08v6.08h-6.08zM242.04 154.23h6.08v6.08h-6.08zM248.12 154.23h6.08v6.08h-6.08zM272.46 154.23h6.08v6.08h-6.08zM278.55 154.23h6.08v6.08h-6.08zM315.06 154.23h6.08v6.08h-6.08zM321.14 154.23h6.08v6.08h-6.08zM235.95 160.31h6.08v6.08h-6.08zM242.04 160.31h6.08v6.08h-6.08zM248.12 160.31h6.08v6.08h-6.08zM278.55 160.31h6.08v6.08h-6.08zM235.95 166.39h6.08v6.08h-6.08zM242.04 166.39h6.08v6.08h-6.08zM248.12 166.39h6.08v6.08h-6.08zM235.95 172.48h6.08v6.08h-6.08zM242.04 172.48h6.08v6.08h-6.08zM248.12 172.48h6.08v6.08h-6.08zM254.21 172.48h6.08v6.08h-6.08zM260.29 172.48h6.08v6.08h-6.08zM266.38 172.48h6.08v6.08h-6.08zM272.46 172.48h6.08v6.08h-6.08zM114.25 178.56h6.08v6.08h-6.08zM120.34 178.56h6.08v6.08h-6.08zM229.87 178.56h6.08v6.08h-6.08zM235.95 178.56h6.08v6.08h-6.08zM242.04 178.56h6.08v6.08h-6.08zM248.12 178.56h6.08v6.08h-6.08zM254.21 178.56h6.08v6.08h-6.08zM260.29 178.56h6.08v6.08h-6.08zM272.46 178.56h6.08v6.08h-6.08zM278.55 178.56h6.08v6.08h-6.08zM284.63 178.56h6.08v6.08h-6.08zM132.51 184.65h6.08v6.08h-6.08zM138.59 184.65h6.08v6.08h-6.08zM144.68 184.65h6.08v6.08h-6.08zM162.93 184.65h6.08v6.08h-6.08zM193.36 184.65h6.08v6.08h-6.08zM248.12 184.65h6.08v6.08h-6.08zM254.21 184.65h6.08v6.08h-6.08zM260.29 184.65h6.08v6.08h-6.08zM266.38 184.65h6.08v6.08h-6.08zM272.46 184.65h6.08v6.08h-6.08zM278.55 184.65h6.08v6.08h-6.08zM132.51 190.74h6.08v6.08h-6.08zM138.59 190.74h6.08v6.08h-6.08zM150.76 190.74h6.08v6.08h-6.08zM156.85 190.74h6.08v6.08h-6.08zM162.93 190.74h6.08v6.08h-6.08zM181.19 190.74h6.08v6.08h-6.08zM187.27 190.74h6.08v6.08h-6.08zM193.36 190.74h6.08v6.08h-6.08zM199.44 190.74h6.08v6.08h-6.08zM254.21 190.74h6.08v6.08h-6.08zM290.72 190.74h6.08v6.08h-6.08zM296.80 190.74h6.08v6.08h-6.08zM302.89 190.74h6.08v6.08h-6.08zM132.51 196.82h6.08v6.08h-6.08zM150.76 196.82h6.08v6.08h-6.08zM156.85 196.82h6.08v6.08h-6.08zM162.93 196.82h6.08v6.08h-6.08zM169.02 196.82h6.08v6.08h-6.08zM193.36 196.82h6.08v6.08h-6.08zM199.44 196.82h6.08v6.08h-6.08zM205.53 196.82h6.08v6.08h-6.08zM260.29 196.82h6.08v6.08h-6.08zM284.63 196.82h6.08v6.08h-6.08zM290.72 196.82h6.08v6.08h-6.08zM296.80 196.82h6.08v6.08h-6.08zM302.89 196.82h6.08v6.08h-6.08zM150.76 202.91h6.08v6.08h-6.08zM156.85 202.91h6.08v6.08h-6.08zM162.93 202.91h6.08v6.08h-6.08zM169.02 202.91h6.08v6.08h-6.08zM175.10 202.91h6.08v6.08h-6.08zM187.27 202.91h6.08v6.08h-6.08zM193.36 202.91h6.08v6.08h-6.08zM199.44 202.91h6.08v6.08h-6.08zM260.29 202.91h6.08v6.08h-6.08zM278.55 202.91h6.08v6.08h-6.08zM290.72 202.91h6.08v6.08h-6.08zM296.80 202.91h6.08v6.08h-6.08zM181.19 208.99h6.08v6.08h-6.08zM187.27 208.99h6.08v6.08h-6.08zM193.36 208.99h6.08v6.08h-6.08zM199.44 208.99h6.08v6.08h-6.08zM205.53 208.99h6.08v6.08h-6.08zM211.61 208.99h6.08v6.08h-6.08zM217.70 208.99h6.08v6.08h-6.08zM266.38 208.99h6.08v6.08h-6.08zM278.55 208.99h6.08v6.08h-6.08zM284.63 208.99h6.08v6.08h-6.08zM290.72 208.99h6.08v6.08h-6.08zM181.19 215.07h6.08v6.08h-6.08zM187.27 215.07h6.08v6.08h-6.08zM193.36 215.07h6.08v6.08h-6.08zM266.38 215.07h6.08v6.08h-6.08zM290.72 215.07h6.08v6.08h-6.08zM296.80 215.07h6.08v6.08h-6.08zM290.72 221.16h6.08v6.08h-6.08zM296.80 221.16h6.08v6.08h-6.08zM296.80 227.25h6.08v6.08h-6.08z" fill="#96fbb4"/>
<path d="M290.72 105.55h6.08v6.08h-6.08zM296.80 105.55h6.08v6.08h-6.08zM260.29 111.63h6.08v6.08h-6.08zM278.55 111.63h6.08v6.08h-6.08zM284.63 111.63h6.08v6.08h-6.08zM302.89 111.63h6.08v6.08h-6.08zM254.21 117.72h6.08v6.08h-6.08zM260.29 117.72h6.08v6.08h-6.08zM266.38 117.72h6.08v6.08h-6.08zM278.55 117.72h6.08v6.08h-6.08zM284.63 117.72h6.08v6.08h-6.08zM327.23 117.72h6.08v6.08h-6.08zM296.80 129.88h6.08v6.08h-6.08zM302.89 129.88h6.08v6.08h-6.08zM260.29 160.31h6.08v6.08h-6.08zM290.72 166.39h6.08v6.08h-6.08zM296.80 166.39h6.08v6.08h-6.08zM302.89 166.39h6.08v6.08h-6.08zM308.97 166.39h6.08v6.08h-6.08zM315.06 166.39h6.08v6.08h-6.08zM321.14 166.39h6.08v6.08h-6.08zM327.23 166.39h6.08v6.08h-6.08zM333.31 166.39h6.08v6.08h-6.08zM290.72 172.48h6.08v6.08h-6.08zM296.80 172.48h6.08v6.08h-6.08zM296.80 178.56h6.08v6.08h-6.08zM302.89 178.56h6.08v6.08h-6.08zM315.06 184.65h6.08v6.08h-6.08zM321.14 215.07h6.08v6.08h-6.08zM327.23 215.07h6.08v6.08h-6.08zM333.31 215.07h6.08v6.08h-6.08zM205.53 221.16h6.08v6.08h-6.08zM211.61 221.16h6.08v6.08h-6.08zM272.46 221.16h6.08v6.08h-6.08zM327.23 221.16h6.08v6.08h-6.08zM333.31 221.16h6.08v6.08h-6.08zM211.61 227.25h6.08v6.08h-6.08zM217.70 227.25h6.08v6.08h-6.08zM272.46 227.25h6.08v6.08h-6.08zM333.31 227.25h6.08v6.08h-6.08zM217.70 233.33h6.08v6.08h-6.08zM248.12 233.33h6.08v6.08h-6.08zM260.29 233.33h6.08v6.08h-6.08zM266.38 233.33h6.08v6.08h-6.08zM272.46 233.33h6.08v6.08h-6.08zM242.04 239.42h6.08v6.08h-6.08zM248.12 239.42h6.08v6.08h-6.08zM254.21 239.42h6.08v6.08h-6.08zM260.29 239.42h6.08v6.08h-6.08zM266.38 239.42h6.08v6.08h-6.08zM272.46 239.42h6.08v6.08h-6.08zM254.21 245.50h6.08v6.08h-6.08zM260.29 245.50h6.08v6.08h-6.08zM266.38 245.50h6.08v6.08h-6.08zM272.46 245.50h6.08v6.08h-6.08zM254.21 251.58h6.08v6.08h-6.08zM260.29 251.58h6.08v6.08h-6.08zM266.38 251.58h6.08v6.08h-6.08zM272.46 251.58h6.08v6.08h-6.08z" fill="#ffff00"/>
<path d="M290.72 111.63h6.08v6.08h-6.08zM296.80 111.63h6.08v6.08h-6.08zM290.72 117.72h6.08v6.08h-6.08zM296.80 117.72h6.08v6.08h-6.08zM302.89 117.72h6.08v6.08h-6.08zM290.72 123.80h6.08v6.08h-6.08zM296.80 123.80h6.08v6.08h-6.08zM302.89 123.80h6.08v6.08h-6.08zM302.89 172.48h6.08v6.08h-6.08zM308.97 172.48h6.08v6.08h-6.08zM315.06 172.48h6.08v6.08h-6.08zM321.14 172.48h6.08v6.08h-6.08zM327.23 172.48h6.08v6.08h-6.08zM333.31 172.48h6.08v6.08h-6.08zM308.97 178.56h6.08v6.08h-6.08zM315.06 178.56h6.08v6.08h-6.08zM321.14 184.65h6.08v6.08h-6.08zM327.23 184.65h6.08v6.08h-6.08zM333.31 184.65h6.08v6.08h-6.08zM327.23 190.74h6.08v6.08h-6.08zM333.31 190.74h6.08v6.08h-6.08zM308.97 215.07h6.08v6.08h-6.08zM315.06 215.07h6.08v6.08h-6.08zM302.89 221.16h6.08v6.08h-6.08zM308.97 221.16h6.08v6.08h-6.08zM315.06 221.16h6.08v6.08h-6.08zM321.14 221.16h6.08v6.08h-6.08zM302.89 227.25h6.08v6.08h-6.08zM308.97 227.25h6.08v6.08h-6.08zM315.06 227.25h6.08v6.08h-6.08zM321.14 227.25h6.08v6.08h-6.08zM327.23 227.25h6.08v6.08h-6.08zM254.21 233.33h6.08v6.08h-6.08zM302.89 233.33h6.08v6.08h-6.08zM308.97 233.33h6.08v6.08h-6.08zM315.06 233.33h6.08v6.08h-6.08zM321.14 233.33h6.08v6.08h-6.08zM327.23 233.33h6.08v6.08h-6.08zM235.95 245.50h6.08v6.08h-6.08zM242.04 245.50h6.08v6.08h-6.08zM248.12 245.50h6.08v6.08h-6.08zM235.95 251.58h6.08v6.08h-6.08zM242.04 251.58h6.08v6.08h-6.08zM248.12 251.58h6.08v6.08h-6.08z" fill="#ffb400"/>
<path d="M321.14 178.56h6.08v6.08h-6.08zM327.23 178.56h6.08v6.08h-6.08zM333.31 178.56h6.08v6.08h-6.08z" fill="#ff6e00"/>
<rect x="0" y="0" width="420" height="260" fill="url(#cg)"/>
</g>
<line x1="74.7" y1="23" x2="74.7" y2="350" stroke="#c4c4c4" stroke-opacity="0.8" stroke-width="1" stroke-dasharray="3 11" stroke-dashoffset="-5"/>
<line x1="74.7" y1="22.5" x2="74.7" y2="25" stroke="#444" stroke-width="0.8"/>
<line x1="74.7" y1="348.5" x2="74.7" y2="351" stroke="#444" stroke-width="0.8"/>
<line x1="135.6" y1="23" x2="135.6" y2="350" stroke="#c4c4c4" stroke-opacity="0.8" stroke-width="1" stroke-dasharray="3 11" stroke-dashoffset="-5"/>
<line x1="135.6" y1="22.5" x2="135.6" y2="25" stroke="#444" stroke-width="0.8"/>
<line x1="135.6" y1="348.5" x2="135.6" y2="351" stroke="#444" stroke-width="0.8"/>
<line x1="196.4" y1="23" x2="196.4" y2="350" stroke="#c4c4c4" stroke-opacity="0.8" stroke-width="1" stroke-dasharray="3 11" stroke-dashoffset="-5"/>
<line x1="196.4" y1="22.5" x2="196.4" y2="25" stroke="#444" stroke-width="0.8"/>
<line x1="196.4" y1="348.5" x2="196.4" y2="351" stroke="#444" stroke-width="0.8"/>
<line x1="257.2" y1="23" x2="257.2" y2="350" stroke="#c4c4c4" stroke-opacity="0.8" stroke-width="1" stroke-dasharray="3 11" stroke-dashoffset="-5"/>
<line x1="257.2" y1="22.5" x2="257.2" y2="25" stroke="#444" stroke-width="0.8"/>
<line x1="257.2" y1="348.5" x2="257.2" y2="351" stroke="#444" stroke-width="0.8"/>
<line x1="318.1" y1="23" x2="318.1" y2="350" stroke="#c4c4c4" stroke-opacity="0.8" stroke-width="1" stroke-dasharray="3 11" stroke-dashoffset="-5"/>
<line x1="318.1" y1="22.5" x2="318.1" y2="25" stroke="#444" stroke-width="0.8"/>
<line x1="318.1" y1="348.5" x2="318.1" y2="351" stroke="#444" stroke-width="0.8"/>
<line x1="378.9" y1="23" x2="378.9" y2="350" stroke="#c4c4c4" stroke-opacity="0.8" stroke-width="1" stroke-dasharray="3 11" stroke-dashoffset="-5"/>
<line x1="378.9" y1="22.5" x2="378.9" y2="25" stroke="#444" stroke-width="0.8"/>
<line x1="378.9" y1="348.5" x2="378.9" y2="351" stroke="#444" stroke-width="0.8"/>
<line x1="25" y1="306.4" x2="419" y2="306.4" stroke="#d6d6d6" stroke-opacity="0.8" stroke-width="1" stroke-dasharray="3.4 10.5" stroke-dashoffset="-1"/>
<line x1="25" y1="245.5" x2="419" y2="245.5" stroke="#d6d6d6" stroke-opacity="0.8" stroke-width="1" stroke-dasharray="3.4 10.5" stroke-dashoffset="-1"/>
<line x1="25" y1="184.7" x2="419" y2="184.7" stroke="#d6d6d6" stroke-opacity="0.8" stroke-width="1" stroke-dasharray="3.4 10.5" stroke-dashoffset="-1"/>
<line x1="25" y1="123.8" x2="419" y2="123.8" stroke="#d6d6d6" stroke-opacity="0.8" stroke-width="1" stroke-dasharray="3.4 10.5" stroke-dashoffset="-1"/>
<line x1="25" y1="63.0" x2="419" y2="63.0" stroke="#d6d6d6" stroke-opacity="0.8" stroke-width="1" stroke-dasharray="3.4 10.5" stroke-dashoffset="-1"/>
<polygon points="32.4,121.8 35.1,118.0 38.8,116.5 43.2,115.0 47.6,114.3 53.4,112.8 59.3,111.4 63.7,109.2 69.5,106.2 73.2,104.8 73.9,100.4 75.4,97.5 73.9,93.1 71.7,88.0 75.4,86.5 81.2,85.7 86.4,86.5 87.8,82.1 90.0,74.8 93.0,74.0 98.8,74.8 105.4,74.8 106.1,68.9 109.1,66.7 113.5,63.8 117.8,62.3 120.0,63.0 121.5,66.7 126.6,68.9 132.5,71.1 137.6,72.6 139.1,77.0 137.6,80.6 140.5,83.6 147.1,86.5 154.5,87.9 158.8,90.1 163.2,92.3 166.9,94.5 170.0,98.9 171.1,100.6 179.1,102.0 187.0,102.6 193.0,102.0 199.0,101.6 204.9,103.2 210.9,105.1 218.0,106.5 224.6,104.9 232.9,103.6 241.3,103.2 248.6,102.2 253.8,100.1 260.1,98.0 263.3,95.9 264.3,91.7 266.4,88.6 269.5,88.2 274.8,86.9 281.0,85.4 285.2,84.0 291.5,81.3 297.8,79.2 304.0,77.7 310.3,76.4 314.5,75.0 313.5,71.8 308.2,70.2 302.0,69.7 295.7,70.2 291.5,70.8 289.0,67.7 291.5,63.5 294.6,59.3 299.9,58.2 306.1,58.2 312.4,56.8 314.5,52.0 316.6,46.7 315.6,40.5 318.7,39.4 322.9,37.3 329.2,36.3 337.5,35.9 343.8,37.3 350.1,39.4 354.3,44.6 358.4,50.9 360.5,57.2 364.7,60.3 371.0,61.4 377.3,63.5 381.5,67.7 383.5,70.8 389.8,69.7 396.1,68.7 402.4,67.2 406.6,66.6 405.5,68.7 401.3,73.9 398.2,80.2 396.1,86.5 391.9,87.5 385.6,88.6 383.5,92.8 381.5,96.9 379.4,102.2 377.9,101.9 372.8,103.8 365.3,106.3 364.0,109.4 360.3,108.8 357.8,107.5 355.3,109.4 351.5,111.9 346.5,113.8 342.7,116.9 340.2,119.5 335.2,121.3 330.2,123.2 326.4,124.5 323.3,125.1 322.0,123.2 323.9,120.7 326.4,118.8 328.3,115.7 327.0,113.8 323.9,113.2 320.1,115.1 315.1,118.8 308.8,122.0 303.8,123.2 301.3,125.1 301.3,127.6 305.1,129.5 308.8,130.8 309.5,133.9 312.0,135.1 316.4,132.0 320.1,129.5 320.8,128.2 322.6,132.6 327.6,133.3 331.4,133.9 330.2,136.4 325.1,137.7 320.1,140.2 316.4,143.9 311.3,147.7 310.7,149.6 315.1,152.7 318.9,156.5 321.4,161.5 323.9,165.3 326.4,169.0 327.7,174.1 331.4,174.7 328.9,177.8 329.1,180.0 326.6,183.8 325.3,187.5 322.8,191.3 319.0,195.1 316.5,198.8 314.0,202.6 312.8,206.4 309.0,208.9 305.2,211.4 301.5,213.9 297.7,217.0 293.9,220.8 287.7,223.3 282.6,224.6 277.6,226.4 272.6,228.3 266.3,229.6 261.3,230.8 257.5,232.7 256.9,236.5 254.7,236.5 252.5,235.0 252.5,232.8 250.3,231.4 245.9,230.6 241.5,229.2 237.1,227.7 234.2,225.5 232.8,223.3 229.8,221.9 225.4,220.4 221.0,221.9 215.2,223.3 210.8,224.8 206.4,225.5 204.2,228.4 204.2,232.1 200.5,231.4 199.1,229.2 194.7,230.4 191.8,229.2 188.8,224.8 188.1,220.4 185.9,215.3 181.5,213.1 179.3,210.9 180.0,208.0 183.0,204.3 185.2,201.4 184.4,197.0 183.0,191.1 180.0,188.9 177.1,189.6 172.7,190.4 166.9,191.1 161.0,192.6 155.1,193.3 149.3,195.5 144.9,196.2 140.5,191.8 134.6,190.8 128.8,191.1 125.9,193.3 122.1,191.6 115.9,190.9 109.6,190.9 104.6,188.4 99.5,186.6 94.5,184.1 89.5,180.9 84.5,179.0 79.5,178.4 75.7,175.9 70.7,173.4 65.7,170.2 64.4,167.7 63.1,165.2 63.1,162.7 65.7,160.2 65.0,154.6 64.4,150.2 60.6,146.4 55.6,144.5 50.6,142.6 46.8,140.1 43.1,137.0 39.3,135.1 38.7,130.1 39.3,126.3 35.5,125.1 33.6,123.8" fill="none" stroke="#555" stroke-width="0.7"/>
<polygon points="245.9,243.8 248.9,241.6 253.3,240.2 257.6,239.4 260.0,240.2 258.8,244.0 255.0,247.8 251.8,249.7 247.4,248.2" fill="none" stroke="#555" stroke-width="0.7"/>
<polygon points="325.3,208.2 327.2,210.1 325.3,216.4 323.4,221.4 320.3,227.1 318.4,225.8 315.9,221.4 315.3,218.3 317.8,213.9 321.5,209.5" fill="none" stroke="#555" stroke-width="0.7"/>
<line x1="24.3" y1="22.5" x2="419.5" y2="22.5" stroke="#8c8c8c" stroke-width="1.2"/>
<line x1="24.3" y1="350.8" x2="419.5" y2="350.8" stroke="#8c8c8c" stroke-width="1.4"/>
<line x1="24.3" y1="22" x2="24.3" y2="351.3" stroke="#2a2a2a" stroke-width="1.3"/>
<line x1="419.4" y1="22" x2="419.4" y2="351.3" stroke="#111" stroke-width="1.3"/>
<text x="74.7" y="18.8" font-size="10.2" text-anchor="middle" fill="#222" style="font-family:'Liberation Serif',serif">80&#176;E</text>
<text x="74.7" y="363.8" font-size="10.2" text-anchor="middle" fill="#222" style="font-family:'Liberation Serif',serif">80&#176;E</text>
<text x="135.6" y="18.8" font-size="10.2" text-anchor="middle" fill="#222" style="font-family:'Liberation Serif',serif">90&#176;E</text>
<text x="135.6" y="363.8" font-size="10.2" text-anchor="middle" fill="#222" style="font-family:'Liberation Serif',serif">90&#176;E</text>
<text x="196.4" y="18.8" font-size="10.2" text-anchor="middle" fill="#222" style="font-family:'Liberation Serif',serif">100&#176;E</text>
<text x="196.4" y="363.8" font-size="10.2" text-anchor="middle" fill="#222" style="font-family:'Liberation Serif',serif">100&#176;E</text>
<text x="257.2" y="18.8" font-size="10.2" text-anchor="middle" fill="#222" style="font-family:'Liberation Serif',serif">110&#176;E</text>
<text x="257.2" y="363.8" font-size="10.2" text-anchor="middle" fill="#222" style="font-family:'Liberation Serif',serif">110&#176;E</text>
<text x="318.1" y="18.8" font-size="10.2" text-anchor="middle" fill="#222" style="font-family:'Liberation Serif',serif">120&#176;E</text>
<text x="318.1" y="363.8" font-size="10.2" text-anchor="middle" fill="#222" style="font-family:'Liberation Serif',serif">120&#176;E</text>
<text x="378.9" y="18.8" font-size="10.2" text-anchor="middle" fill="#222" style="font-family:'Liberation Serif',serif">130&#176;E</text>
<text x="378.9" y="363.8" font-size="10.2" text-anchor="middle" fill="#222" style="font-family:'Liberation Serif',serif">130&#176;E</text>
<text transform="translate(21.3,306.4) rotate(-90)" font-size="10.2" text-anchor="middle" fill="#222" style="font-family:'Liberation Serif',serif">10&#176;N</text>
<text transform="translate(433.2,306.4) rotate(-90)" font-size="10.2" text-anchor="middle" fill="#222" style="font-family:'Liberation Serif',serif">10&#176;N</text>
<text transform="translate(21.3,245.5) rotate(-90)" font-size="10.2" text-anchor="middle" fill="#222" style="font-family:'Liberation Serif',serif">20&#176;N</text>
<text transform="translate(433.2,245.5) rotate(-90)" font-size="10.2" text-anchor="middle" fill="#222" style="font-family:'Liberation Serif',serif">20&#176;N</text>
<text transform="translate(21.3,184.7) rotate(-90)" font-size="10.2" text-anchor="middle" fill="#222" style="font-family:'Liberation Serif',serif">30&#176;N</text>
<text transform="translate(433.2,184.7) rotate(-90)" font-size="10.2" text-anchor="middle" fill="#222" style="font-family:'Liberation Serif',serif">30&#176;N</text>
<text transform="translate(21.3,123.8) rotate(-90)" font-size="10.2" text-anchor="middle" fill="#222" style="font-family:'Liberation Serif',serif">40&#176;N</text>
<text transform="translate(433.2,123.8) rotate(-90)" font-size="10.2" text-anchor="middle" fill="#222" style="font-family:'Liberation Serif',serif">40&#176;N</text>
<text transform="translate(21.3,63.0) rotate(-90)" font-size="10.2" text-anchor="middle" fill="#222" style="font-family:'Liberation Serif',serif">50&#176;N</text>
<text transform="translate(433.2,63.0) rotate(-90)" font-size="10.2" text-anchor="middle" fill="#222" style="font-family:'Liberation Serif',serif">50&#176;N</text>
<text x="407" y="32.3" font-size="6.5" font-weight="bold" text-anchor="middle" fill="#1a1a1a" style="font-family:'Liberation Sans',sans-serif">N</text>
<path d="M406.5 34L402.4 48.6L407.2 44.2Z" fill="#111"/>
<path d="M406.5 34L411.1 48.8L407.2 44.2Z" fill="none" stroke="#222" stroke-width="0.7"/>
<text x="35.9" y="226.9" font-size="11.3" fill="#111" style="font-family:'Liberation Serif',serif">XCO<tspan font-size="7.4" dy="1.9">2ano</tspan><tspan dy="-1.9">(ppm)</tspan></text>
<rect x="30" y="235.2" width="28.4" height="13.7" fill="#0000fc" stroke="#8a8a8a" stroke-width="0.4"/>
<rect x="133.2" y="235.2" width="28" height="13.7" fill="#d2fa6e" stroke="#8a8a8a" stroke-width="0.4"/>
<text x="63.3" y="246.3" font-size="11.2" fill="#111" style="font-family:'Liberation Serif',serif">&#8722;1.55 &#8722; &#8722;0.57</text>
<text x="166.1" y="246.3" font-size="11.2" fill="#111" style="font-family:'Liberation Serif',serif">0.73 &#8722; 1.08</text>
<rect x="30" y="254.1" width="28.4" height="13.7" fill="#3b5efc" stroke="#8a8a8a" stroke-width="0.4"/>
<rect x="133.2" y="254.1" width="28" height="13.7" fill="#ffff00" stroke="#8a8a8a" stroke-width="0.4"/>
<text x="63.3" y="265.2" font-size="11.2" fill="#111" style="font-family:'Liberation Serif',serif">&#8722;0.56 &#8722; &#8722;0.16</text>
<text x="166.1" y="265.2" font-size="11.2" fill="#111" style="font-family:'Liberation Serif',serif">1.09 &#8722; 1.46</text>
<rect x="30" y="273.0" width="28.4" height="13.7" fill="#3aa8fc" stroke="#8a8a8a" stroke-width="0.4"/>
<rect x="133.2" y="273.0" width="28" height="13.7" fill="#ffb400" stroke="#8a8a8a" stroke-width="0.4"/>
<text x="63.3" y="284.1" font-size="11.2" fill="#111" style="font-family:'Liberation Serif',serif">&#8722;0.15 &#8722; 0.14</text>
<text x="166.1" y="284.1" font-size="11.2" fill="#111" style="font-family:'Liberation Serif',serif">1.47 &#8722; 1.85</text>
<rect x="30" y="291.9" width="28.4" height="13.7" fill="#00fcfc" stroke="#8a8a8a" stroke-width="0.4"/>
<rect x="133.2" y="291.9" width="28" height="13.7" fill="#ff6e00" stroke="#8a8a8a" stroke-width="0.4"/>
<text x="63.3" y="303.0" font-size="11.2" fill="#111" style="font-family:'Liberation Serif',serif">0.15 &#8722; 0.41</text>
<text x="166.1" y="303.0" font-size="11.2" fill="#111" style="font-family:'Liberation Serif',serif">1.86 &#8722; 2.28</text>
<rect x="30" y="310.8" width="28.4" height="13.7" fill="#96fbb4" stroke="#8a8a8a" stroke-width="0.4"/>
<rect x="133.2" y="310.8" width="28" height="13.7" fill="#ff0000" stroke="#8a8a8a" stroke-width="0.4"/>
<text x="63.3" y="321.9" font-size="11.2" fill="#111" style="font-family:'Liberation Serif',serif">0.42 &#8722; 0.72</text>
<text x="166.1" y="321.9" font-size="11.2" fill="#111" style="font-family:'Liberation Serif',serif">2.29 &#8722; 3.24</text>
<rect x="27.6" y="330.2" width="18.2" height="9" fill="#fff" stroke="#777" stroke-width="0.6"/>
<text x="49.6" y="338.6" font-size="10.9" fill="#111" style="font-family:'Liberation Serif',serif">National boundaries</text>
<rect x="148.2" y="330.2" width="17.8" height="9" fill="url(#hatch)" stroke="#777" stroke-width="0.6"/>
<text x="170" y="338.6" font-size="10.9" fill="#111" style="font-family:'Liberation Serif',serif">Background area</text>
<rect x="295.3" y="339.6" width="41.7" height="3.8" fill="#000"/>
<rect x="337" y="339.9" width="41.6" height="3.3" fill="#fff" stroke="#000" stroke-width="0.6"/>
<text x="295.8" y="334.9" font-size="10" text-anchor="middle" fill="#111" style="font-family:'Liberation Serif',serif">0</text>
<text x="337.2" y="334.9" font-size="10" text-anchor="middle" fill="#111" style="font-family:'Liberation Serif',serif">750</text>
<text x="368.9" y="334.9" font-size="10" fill="#111" style="font-family:'Liberation Serif',serif">1500 km</text>
<text transform="translate(221.9,388.1) scale(1,1.06)" font-size="19.5" text-anchor="middle" fill="#111" style="font-family:'Liberation Serif',serif">(<tspan font-weight="bold">g</tspan>) 2016</text>
<line x1="311.5" y1="251.5" x2="315.1" y2="246.6" stroke="#1a1a1a" stroke-width="0.9"/>
<line x1="250.0" y1="263.5" x2="253.7" y2="268.8" stroke="#1a1a1a" stroke-width="0.9"/>
<line x1="309.6" y1="264.1" x2="309.6" y2="270.3" stroke="#1a1a1a" stroke-width="0.9"/>
<line x1="254.4" y1="293.2" x2="256.6" y2="287.3" stroke="#1a1a1a" stroke-width="0.9"/>
<line x1="306.4" y1="295.0" x2="308.6" y2="289.2" stroke="#1a1a1a" stroke-width="0.9"/>
<line x1="288.4" y1="317.7" x2="292.5" y2="312.6" stroke="#1a1a1a" stroke-width="0.9"/>
<line x1="251.5" y1="315.9" x2="253.7" y2="315.1" stroke="#1a1a1a" stroke-width="0.9"/>
<line x1="263.5" y1="315.1" x2="264.6" y2="313.3" stroke="#1a1a1a" stroke-width="0.9"/>
<line x1="269.0" y1="327.6" x2="269.4" y2="326.1" stroke="#1a1a1a" stroke-width="0.9"/>
<line x1="264.3" y1="308.2" x2="272.0" y2="307.5" stroke="#1a1a1a" stroke-width="0.9"/>
<line x1="274.9" y1="306.4" x2="280.7" y2="308.5" stroke="#1a1a1a" stroke-width="0.9"/>
<line x1="277.8" y1="313.0" x2="277.8" y2="316.2" stroke="#1a1a1a" stroke-width="0.9"/>
<line x1="282.2" y1="311.8" x2="286.2" y2="310.4" stroke="#1a1a1a" stroke-width="0.9"/>
<line x1="276.4" y1="299.8" x2="277.8" y2="300.5" stroke="#1a1a1a" stroke-width="0.9"/>
<line x1="280.0" y1="302.0" x2="282.2" y2="301.2" stroke="#1a1a1a" stroke-width="0.9"/>
<line x1="279.3" y1="299.0" x2="282.2" y2="298.3" stroke="#1a1a1a" stroke-width="0.9"/>
<line x1="279.3" y1="294.6" x2="280.7" y2="295.4" stroke="#1a1a1a" stroke-width="0.9"/>
<line x1="283.7" y1="293.5" x2="284.4" y2="295.4" stroke="#1a1a1a" stroke-width="0.9"/>
<line x1="297.6" y1="296.5" x2="300.5" y2="296.5" stroke="#1a1a1a" stroke-width="0.9"/>
<line x1="296.1" y1="295.4" x2="296.6" y2="293.5" stroke="#1a1a1a" stroke-width="0.9"/>
<line x1="337.9" y1="203.2" x2="336.6" y2="204.5" stroke="#1a1a1a" stroke-width="0.9"/>
<line x1="332.2" y1="212.6" x2="330.3" y2="218.3" stroke="#1a1a1a" stroke-width="0.9"/>
<line x1="326.6" y1="229.6" x2="322.2" y2="234.6" stroke="#1a1a1a" stroke-width="0.9"/>
<line x1="311.5" y1="217.7" x2="312.3" y2="220.2" stroke="#1a1a1a" stroke-width="0.9"/>
<line x1="268.8" y1="325.8" x2="269.4" y2="327.9" stroke="#1a1a1a" stroke-width="0.9"/>
<ellipse cx="280.3" cy="265.1" rx="3.7" ry="1.3" transform="rotate(-25 280.3 265.1)" fill="none" stroke="#222" stroke-width="0.8"/>
<circle cx="263.6" cy="257.3" r="0.6" fill="#222"/>
<circle cx="265.7" cy="258.4" r="0.6" fill="#222"/>
<circle cx="269.9" cy="259.6" r="0.6" fill="#222"/>
<circle cx="263.1" cy="262.5" r="0.6" fill="#222"/>
<circle cx="264.6" cy="262.0" r="0.6" fill="#222"/>
<circle cx="269.4" cy="263.9" r="0.6" fill="#222"/>
<circle cx="301.3" cy="269.3" r="0.6" fill="#222"/>
<circle cx="295.5" cy="262.5" r="0.6" fill="#222"/>
<circle cx="295.8" cy="235.9" r="0.6" fill="#222"/>
<circle cx="324.0" cy="227.1" r="0.6" fill="#222"/>
<circle cx="255.1" cy="310.7" r="0.6" fill="#222"/>
<circle cx="257.0" cy="312.2" r="0.6" fill="#222"/>
<circle cx="257.3" cy="314.0" r="0.6" fill="#222"/>
<circle cx="282.2" cy="307.5" r="0.6" fill="#222"/>
<circle cx="274.2" cy="311.5" r="0.6" fill="#222"/>
<circle cx="272.0" cy="303.1" r="0.6" fill="#222"/>
<circle cx="280.4" cy="292.1" r="0.6" fill="#222"/>
<circle cx="286.6" cy="299.4" r="0.6" fill="#222"/>
<circle cx="289.2" cy="297.2" r="0.6" fill="#222"/>
<circle cx="292.1" cy="296.5" r="0.6" fill="#222"/>
<circle cx="293.9" cy="298.3" r="0.6" fill="#222"/>
<circle cx="287.3" cy="304.2" r="0.6" fill="#222"/>
<circle cx="290.3" cy="302.0" r="0.6" fill="#222"/>
<circle cx="293.9" cy="302.0" r="0.6" fill="#222"/>
<circle cx="296.1" cy="304.2" r="0.6" fill="#222"/>
<circle cx="292.5" cy="307.5" r="0.6" fill="#222"/>
<circle cx="293.9" cy="305.6" r="0.6" fill="#222"/>
<circle cx="301.6" cy="295.7" r="0.6" fill="#222"/>
<circle cx="284.5" cy="303.0" r="0.6" fill="#222"/>
<circle cx="288.5" cy="300.5" r="0.6" fill="#222"/>
</g>
<g transform="translate(512.8,388.3)">
<g clip-path="url(#cl)">
<path d="M296.80 38.61h6.08v6.08h-6.08zM296.80 44.70h6.08v6.08h-6.08zM302.89 44.70h6.08v6.08h-6.08zM96.00 50.78h6.08v6.08h-6.08zM102.08 50.78h6.08v6.08h-6.08zM108.17 50.78h6.08v6.08h-6.08zM272.46 50.78h6.08v6.08h-6.08zM296.80 50.78h6.08v6.08h-6.08zM302.89 50.78h6.08v6.08h-6.08zM308.97 50.78h6.08v6.08h-6.08zM89.91 56.87h6.08v6.08h-6.08zM96.00 56.87h6.08v6.08h-6.08zM102.08 56.87h6.08v6.08h-6.08zM108.17 56.87h6.08v6.08h-6.08zM272.46 56.87h6.08v6.08h-6.08zM278.55 56.87h6.08v6.08h-6.08zM296.80 56.87h6.08v6.08h-6.08zM302.89 56.87h6.08v6.08h-6.08zM308.97 56.87h6.08v6.08h-6.08zM315.06 56.87h6.08v6.08h-6.08zM321.14 56.87h6.08v6.08h-6.08zM71.66 62.95h6.08v6.08h-6.08zM77.74 62.95h6.08v6.08h-6.08zM83.83 62.95h6.08v6.08h-6.08zM89.91 62.95h6.08v6.08h-6.08zM96.00 62.95h6.08v6.08h-6.08zM102.08 62.95h6.08v6.08h-6.08zM108.17 62.95h6.08v6.08h-6.08zM144.68 62.95h6.08v6.08h-6.08zM272.46 62.95h6.08v6.08h-6.08zM278.55 62.95h6.08v6.08h-6.08zM284.63 62.95h6.08v6.08h-6.08zM296.80 62.95h6.08v6.08h-6.08zM308.97 62.95h6.08v6.08h-6.08zM315.06 62.95h6.08v6.08h-6.08zM71.66 69.03h6.08v6.08h-6.08zM77.74 69.03h6.08v6.08h-6.08zM83.83 69.03h6.08v6.08h-6.08zM89.91 69.03h6.08v6.08h-6.08zM96.00 69.03h6.08v6.08h-6.08zM102.08 69.03h6.08v6.08h-6.08zM108.17 69.03h6.08v6.08h-6.08zM114.25 69.03h6.08v6.08h-6.08zM120.34 69.03h6.08v6.08h-6.08zM138.59 69.03h6.08v6.08h-6.08zM144.68 69.03h6.08v6.08h-6.08zM266.38 69.03h6.08v6.08h-6.08zM272.46 69.03h6.08v6.08h-6.08zM278.55 69.03h6.08v6.08h-6.08zM284.63 69.03h6.08v6.08h-6.08zM290.72 69.03h6.08v6.08h-6.08zM296.80 69.03h6.08v6.08h-6.08zM302.89 69.03h6.08v6.08h-6.08zM308.97 69.03h6.08v6.08h-6.08zM315.06 69.03h6.08v6.08h-6.08zM369.82 69.03h6.08v6.08h-6.08zM77.74 75.12h6.08v6.08h-6.08zM83.83 75.12h6.08v6.08h-6.08zM89.91 75.12h6.08v6.08h-6.08zM132.51 75.12h6.08v6.08h-6.08zM138.59 75.12h6.08v6.08h-6.08zM144.68 75.12h6.08v6.08h-6.08zM248.12 75.12h6.08v6.08h-6.08zM254.21 75.12h6.08v6.08h-6.08zM260.29 75.12h6.08v6.08h-6.08zM266.38 75.12h6.08v6.08h-6.08zM272.46 75.12h6.08v6.08h-6.08zM278.55 75.12h6.08v6.08h-6.08zM284.63 75.12h6.08v6.08h-6.08zM290.72 75.12h6.08v6.08h-6.08zM296.80 75.12h6.08v6.08h-6.08zM302.89 75.12h6.08v6.08h-6.08zM308.97 75.12h6.08v6.08h-6.08zM315.06 75.12h6.08v6.08h-6.08zM363.74 75.12h6.08v6.08h-6.08zM369.82 75.12h6.08v6.08h-6.08zM375.91 75.12h6.08v6.08h-6.08zM83.83 81.20h6.08v6.08h-6.08zM89.91 81.20h6.08v6.08h-6.08zM248.12 81.20h6.08v6.08h-6.08zM254.21 81.20h6.08v6.08h-6.08zM260.29 81.20h6.08v6.08h-6.08zM272.46 81.20h6.08v6.08h-6.08zM278.55 81.20h6.08v6.08h-6.08zM284.63 81.20h6.08v6.08h-6.08zM290.72 81.20h6.08v6.08h-6.08zM296.80 81.20h6.08v6.08h-6.08zM302.89 81.20h6.08v6.08h-6.08zM308.97 81.20h6.08v6.08h-6.08zM363.74 81.20h6.08v6.08h-6.08zM369.82 81.20h6.08v6.08h-6.08zM375.91 81.20h6.08v6.08h-6.08zM248.12 87.29h6.08v6.08h-6.08zM254.21 87.29h6.08v6.08h-6.08zM260.29 87.29h6.08v6.08h-6.08zM272.46 87.29h6.08v6.08h-6.08zM290.72 87.29h6.08v6.08h-6.08zM296.80 87.29h6.08v6.08h-6.08zM369.82 87.29h6.08v6.08h-6.08zM47.32 93.38h6.08v6.08h-6.08zM53.40 93.38h6.08v6.08h-6.08zM89.91 93.38h6.08v6.08h-6.08zM96.00 93.38h6.08v6.08h-6.08zM102.08 93.38h6.08v6.08h-6.08zM108.17 93.38h6.08v6.08h-6.08zM260.29 93.38h6.08v6.08h-6.08zM266.38 93.38h6.08v6.08h-6.08zM290.72 93.38h6.08v6.08h-6.08zM47.32 99.46h6.08v6.08h-6.08zM53.40 99.46h6.08v6.08h-6.08zM59.49 99.46h6.08v6.08h-6.08zM77.74 99.46h6.08v6.08h-6.08zM96.00 99.46h6.08v6.08h-6.08zM53.40 105.55h6.08v6.08h-6.08zM59.49 105.55h6.08v6.08h-6.08zM77.74 105.55h6.08v6.08h-6.08zM83.83 105.55h6.08v6.08h-6.08zM89.91 105.55h6.08v6.08h-6.08zM199.44 105.55h6.08v6.08h-6.08zM29.06 111.63h6.08v6.08h-6.08zM59.49 111.63h6.08v6.08h-6.08zM65.57 111.63h6.08v6.08h-6.08zM217.70 111.63h6.08v6.08h-6.08zM29.06 117.72h6.08v6.08h-6.08zM47.32 117.72h6.08v6.08h-6.08zM169.02 117.72h6.08v6.08h-6.08zM205.53 117.72h6.08v6.08h-6.08zM211.61 117.72h6.08v6.08h-6.08zM47.32 123.80h6.08v6.08h-6.08zM132.51 123.80h6.08v6.08h-6.08zM138.59 123.80h6.08v6.08h-6.08zM144.68 123.80h6.08v6.08h-6.08zM150.76 123.80h6.08v6.08h-6.08zM156.85 123.80h6.08v6.08h-6.08zM211.61 123.80h6.08v6.08h-6.08zM47.32 129.88h6.08v6.08h-6.08zM53.40 129.88h6.08v6.08h-6.08zM59.49 129.88h6.08v6.08h-6.08zM65.57 129.88h6.08v6.08h-6.08zM83.83 129.88h6.08v6.08h-6.08zM156.85 129.88h6.08v6.08h-6.08zM162.93 129.88h6.08v6.08h-6.08zM169.02 129.88h6.08v6.08h-6.08zM175.10 129.88h6.08v6.08h-6.08zM187.27 129.88h6.08v6.08h-6.08zM193.36 129.88h6.08v6.08h-6.08zM59.49 135.97h6.08v6.08h-6.08zM65.57 135.97h6.08v6.08h-6.08zM71.66 135.97h6.08v6.08h-6.08zM162.93 135.97h6.08v6.08h-6.08zM175.10 135.97h6.08v6.08h-6.08zM193.36 135.97h6.08v6.08h-6.08zM175.10 142.06h6.08v6.08h-6.08zM181.19 142.06h6.08v6.08h-6.08zM187.27 142.06h6.08v6.08h-6.08zM193.36 142.06h6.08v6.08h-6.08zM199.44 142.06h6.08v6.08h-6.08zM205.53 142.06h6.08v6.08h-6.08zM193.36 148.14h6.08v6.08h-6.08zM199.44 148.14h6.08v6.08h-6.08zM205.53 148.14h6.08v6.08h-6.08zM211.61 148.14h6.08v6.08h-6.08zM217.70 148.14h6.08v6.08h-6.08zM65.57 154.23h6.08v6.08h-6.08zM169.02 154.23h6.08v6.08h-6.08zM181.19 154.23h6.08v6.08h-6.08zM187.27 154.23h6.08v6.08h-6.08zM193.36 154.23h6.08v6.08h-6.08zM199.44 154.23h6.08v6.08h-6.08zM205.53 154.23h6.08v6.08h-6.08zM211.61 154.23h6.08v6.08h-6.08zM217.70 154.23h6.08v6.08h-6.08zM71.66 160.31h6.08v6.08h-6.08zM138.59 160.31h6.08v6.08h-6.08zM144.68 160.31h6.08v6.08h-6.08zM181.19 160.31h6.08v6.08h-6.08zM193.36 160.31h6.08v6.08h-6.08zM199.44 160.31h6.08v6.08h-6.08zM205.53 160.31h6.08v6.08h-6.08zM211.61 160.31h6.08v6.08h-6.08zM138.59 166.39h6.08v6.08h-6.08zM144.68 166.39h6.08v6.08h-6.08zM150.76 166.39h6.08v6.08h-6.08zM193.36 166.39h6.08v6.08h-6.08zM199.44 166.39h6.08v6.08h-6.08zM205.53 166.39h6.08v6.08h-6.08zM211.61 166.39h6.08v6.08h-6.08zM132.51 172.48h6.08v6.08h-6.08zM138.59 172.48h6.08v6.08h-6.08zM150.76 172.48h6.08v6.08h-6.08zM193.36 172.48h6.08v6.08h-6.08zM217.70 172.48h6.08v6.08h-6.08zM132.51 178.56h6.08v6.08h-6.08zM144.68 178.56h6.08v6.08h-6.08zM150.76 178.56h6.08v6.08h-6.08zM187.27 178.56h6.08v6.08h-6.08zM193.36 178.56h6.08v6.08h-6.08zM205.53 178.56h6.08v6.08h-6.08zM211.61 178.56h6.08v6.08h-6.08zM217.70 178.56h6.08v6.08h-6.08zM223.78 178.56h6.08v6.08h-6.08zM96.00 184.65h6.08v6.08h-6.08zM102.08 184.65h6.08v6.08h-6.08zM199.44 184.65h6.08v6.08h-6.08zM205.53 184.65h6.08v6.08h-6.08zM211.61 184.65h6.08v6.08h-6.08zM217.70 184.65h6.08v6.08h-6.08zM89.91 190.74h6.08v6.08h-6.08zM96.00 190.74h6.08v6.08h-6.08zM102.08 190.74h6.08v6.08h-6.08zM138.59 190.74h6.08v6.08h-6.08zM144.68 190.74h6.08v6.08h-6.08zM211.61 190.74h6.08v6.08h-6.08zM217.70 190.74h6.08v6.08h-6.08zM223.78 190.74h6.08v6.08h-6.08zM83.83 196.82h6.08v6.08h-6.08zM89.91 196.82h6.08v6.08h-6.08zM96.00 196.82h6.08v6.08h-6.08zM102.08 196.82h6.08v6.08h-6.08zM132.51 196.82h6.08v6.08h-6.08zM138.59 196.82h6.08v6.08h-6.08zM144.68 196.82h6.08v6.08h-6.08zM211.61 196.82h6.08v6.08h-6.08zM217.70 196.82h6.08v6.08h-6.08zM223.78 196.82h6.08v6.08h-6.08zM229.87 196.82h6.08v6.08h-6.08zM235.95 196.82h6.08v6.08h-6.08zM132.51 202.91h6.08v6.08h-6.08zM138.59 202.91h6.08v6.08h-6.08zM144.68 202.91h6.08v6.08h-6.08zM235.95 202.91h6.08v6.08h-6.08zM242.04 221.16h6.08v6.08h-6.08zM248.12 221.16h6.08v6.08h-6.08zM242.04 227.25h6.08v6.08h-6.08zM248.12 227.25h6.08v6.08h-6.08zM254.21 227.25h6.08v6.08h-6.08z" fill="#3b5efc"/>
<path d="M302.89 38.61h6.08v6.08h-6.08zM308.97 38.61h6.08v6.08h-6.08zM315.06 38.61h6.08v6.08h-6.08zM321.14 38.61h6.08v6.08h-6.08zM327.23 38.61h6.08v6.08h-6.08zM345.48 38.61h6.08v6.08h-6.08zM351.57 38.61h6.08v6.08h-6.08zM308.97 44.70h6.08v6.08h-6.08zM315.06 44.70h6.08v6.08h-6.08zM321.14 44.70h6.08v6.08h-6.08zM369.82 44.70h6.08v6.08h-6.08zM375.91 44.70h6.08v6.08h-6.08zM381.99 44.70h6.08v6.08h-6.08zM315.06 50.78h6.08v6.08h-6.08zM321.14 50.78h6.08v6.08h-6.08zM327.23 50.78h6.08v6.08h-6.08zM333.31 50.78h6.08v6.08h-6.08zM363.74 50.78h6.08v6.08h-6.08zM369.82 50.78h6.08v6.08h-6.08zM375.91 50.78h6.08v6.08h-6.08zM381.99 50.78h6.08v6.08h-6.08zM388.08 50.78h6.08v6.08h-6.08zM333.31 56.87h6.08v6.08h-6.08zM351.57 56.87h6.08v6.08h-6.08zM357.65 56.87h6.08v6.08h-6.08zM363.74 56.87h6.08v6.08h-6.08zM369.82 56.87h6.08v6.08h-6.08zM375.91 56.87h6.08v6.08h-6.08zM381.99 56.87h6.08v6.08h-6.08zM388.08 56.87h6.08v6.08h-6.08zM321.14 62.95h6.08v6.08h-6.08zM327.23 62.95h6.08v6.08h-6.08zM333.31 62.95h6.08v6.08h-6.08zM339.40 62.95h6.08v6.08h-6.08zM351.57 62.95h6.08v6.08h-6.08zM357.65 62.95h6.08v6.08h-6.08zM363.74 62.95h6.08v6.08h-6.08zM369.82 62.95h6.08v6.08h-6.08zM375.91 62.95h6.08v6.08h-6.08zM381.99 62.95h6.08v6.08h-6.08zM321.14 69.03h6.08v6.08h-6.08zM327.23 69.03h6.08v6.08h-6.08zM333.31 69.03h6.08v6.08h-6.08zM339.40 69.03h6.08v6.08h-6.08zM345.48 69.03h6.08v6.08h-6.08zM351.57 69.03h6.08v6.08h-6.08zM357.65 69.03h6.08v6.08h-6.08zM363.74 69.03h6.08v6.08h-6.08zM375.91 69.03h6.08v6.08h-6.08zM96.00 75.12h6.08v6.08h-6.08zM102.08 75.12h6.08v6.08h-6.08zM108.17 75.12h6.08v6.08h-6.08zM120.34 75.12h6.08v6.08h-6.08zM126.42 75.12h6.08v6.08h-6.08zM156.85 75.12h6.08v6.08h-6.08zM162.93 75.12h6.08v6.08h-6.08zM169.02 75.12h6.08v6.08h-6.08zM321.14 75.12h6.08v6.08h-6.08zM327.23 75.12h6.08v6.08h-6.08zM333.31 75.12h6.08v6.08h-6.08zM339.40 75.12h6.08v6.08h-6.08zM351.57 75.12h6.08v6.08h-6.08zM357.65 75.12h6.08v6.08h-6.08zM381.99 75.12h6.08v6.08h-6.08zM394.16 75.12h6.08v6.08h-6.08zM156.85 81.20h6.08v6.08h-6.08zM162.93 81.20h6.08v6.08h-6.08zM169.02 81.20h6.08v6.08h-6.08zM315.06 81.20h6.08v6.08h-6.08zM321.14 81.20h6.08v6.08h-6.08zM327.23 81.20h6.08v6.08h-6.08zM339.40 81.20h6.08v6.08h-6.08zM351.57 81.20h6.08v6.08h-6.08zM357.65 81.20h6.08v6.08h-6.08zM381.99 81.20h6.08v6.08h-6.08zM388.08 81.20h6.08v6.08h-6.08zM394.16 81.20h6.08v6.08h-6.08zM400.25 81.20h6.08v6.08h-6.08zM89.91 87.29h6.08v6.08h-6.08zM156.85 87.29h6.08v6.08h-6.08zM162.93 87.29h6.08v6.08h-6.08zM278.55 87.29h6.08v6.08h-6.08zM284.63 87.29h6.08v6.08h-6.08zM302.89 87.29h6.08v6.08h-6.08zM308.97 87.29h6.08v6.08h-6.08zM315.06 87.29h6.08v6.08h-6.08zM327.23 87.29h6.08v6.08h-6.08zM333.31 87.29h6.08v6.08h-6.08zM351.57 87.29h6.08v6.08h-6.08zM357.65 87.29h6.08v6.08h-6.08zM363.74 87.29h6.08v6.08h-6.08zM375.91 87.29h6.08v6.08h-6.08zM381.99 87.29h6.08v6.08h-6.08zM388.08 87.29h6.08v6.08h-6.08zM394.16 87.29h6.08v6.08h-6.08zM400.25 87.29h6.08v6.08h-6.08zM406.33 87.29h6.08v6.08h-6.08zM272.46 93.38h6.08v6.08h-6.08zM278.55 93.38h6.08v6.08h-6.08zM284.63 93.38h6.08v6.08h-6.08zM296.80 93.38h6.08v6.08h-6.08zM327.23 93.38h6.08v6.08h-6.08zM333.31 93.38h6.08v6.08h-6.08zM357.65 93.38h6.08v6.08h-6.08zM363.74 93.38h6.08v6.08h-6.08zM369.82 93.38h6.08v6.08h-6.08zM375.91 93.38h6.08v6.08h-6.08zM381.99 93.38h6.08v6.08h-6.08zM388.08 93.38h6.08v6.08h-6.08zM394.16 93.38h6.08v6.08h-6.08zM400.25 93.38h6.08v6.08h-6.08zM102.08 99.46h6.08v6.08h-6.08zM108.17 99.46h6.08v6.08h-6.08zM144.68 99.46h6.08v6.08h-6.08zM150.76 99.46h6.08v6.08h-6.08zM156.85 99.46h6.08v6.08h-6.08zM229.87 99.46h6.08v6.08h-6.08zM272.46 99.46h6.08v6.08h-6.08zM290.72 99.46h6.08v6.08h-6.08zM363.74 99.46h6.08v6.08h-6.08zM369.82 99.46h6.08v6.08h-6.08zM375.91 99.46h6.08v6.08h-6.08zM381.99 99.46h6.08v6.08h-6.08zM388.08 99.46h6.08v6.08h-6.08zM96.00 105.55h6.08v6.08h-6.08zM150.76 105.55h6.08v6.08h-6.08zM169.02 105.55h6.08v6.08h-6.08zM175.10 105.55h6.08v6.08h-6.08zM193.36 105.55h6.08v6.08h-6.08zM229.87 105.55h6.08v6.08h-6.08zM363.74 105.55h6.08v6.08h-6.08zM369.82 105.55h6.08v6.08h-6.08zM375.91 105.55h6.08v6.08h-6.08zM381.99 105.55h6.08v6.08h-6.08zM388.08 105.55h6.08v6.08h-6.08zM71.66 111.63h6.08v6.08h-6.08zM77.74 111.63h6.08v6.08h-6.08zM83.83 111.63h6.08v6.08h-6.08zM89.91 111.63h6.08v6.08h-6.08zM138.59 111.63h6.08v6.08h-6.08zM156.85 111.63h6.08v6.08h-6.08zM169.02 111.63h6.08v6.08h-6.08zM175.10 111.63h6.08v6.08h-6.08zM193.36 111.63h6.08v6.08h-6.08zM369.82 111.63h6.08v6.08h-6.08zM375.91 111.63h6.08v6.08h-6.08zM381.99 111.63h6.08v6.08h-6.08zM71.66 117.72h6.08v6.08h-6.08zM120.34 117.72h6.08v6.08h-6.08zM175.10 117.72h6.08v6.08h-6.08zM181.19 117.72h6.08v6.08h-6.08zM187.27 117.72h6.08v6.08h-6.08zM199.44 117.72h6.08v6.08h-6.08zM223.78 117.72h6.08v6.08h-6.08zM53.40 123.80h6.08v6.08h-6.08zM96.00 123.80h6.08v6.08h-6.08zM102.08 123.80h6.08v6.08h-6.08zM181.19 123.80h6.08v6.08h-6.08zM187.27 123.80h6.08v6.08h-6.08zM193.36 123.80h6.08v6.08h-6.08zM199.44 123.80h6.08v6.08h-6.08zM205.53 123.80h6.08v6.08h-6.08zM71.66 129.88h6.08v6.08h-6.08zM77.74 129.88h6.08v6.08h-6.08zM181.19 129.88h6.08v6.08h-6.08zM199.44 129.88h6.08v6.08h-6.08zM205.53 129.88h6.08v6.08h-6.08zM211.61 129.88h6.08v6.08h-6.08zM169.02 135.97h6.08v6.08h-6.08zM181.19 135.97h6.08v6.08h-6.08zM187.27 135.97h6.08v6.08h-6.08zM199.44 135.97h6.08v6.08h-6.08zM229.87 135.97h6.08v6.08h-6.08zM211.61 142.06h6.08v6.08h-6.08zM223.78 142.06h6.08v6.08h-6.08zM229.87 142.06h6.08v6.08h-6.08zM223.78 148.14h6.08v6.08h-6.08zM229.87 148.14h6.08v6.08h-6.08zM223.78 154.23h6.08v6.08h-6.08zM217.70 160.31h6.08v6.08h-6.08zM223.78 160.31h6.08v6.08h-6.08zM217.70 166.39h6.08v6.08h-6.08zM223.78 166.39h6.08v6.08h-6.08zM223.78 172.48h6.08v6.08h-6.08zM229.87 172.48h6.08v6.08h-6.08zM114.25 184.65h6.08v6.08h-6.08zM120.34 184.65h6.08v6.08h-6.08zM144.68 184.65h6.08v6.08h-6.08zM223.78 184.65h6.08v6.08h-6.08zM114.25 190.74h6.08v6.08h-6.08zM120.34 190.74h6.08v6.08h-6.08zM126.42 190.74h6.08v6.08h-6.08zM150.76 190.74h6.08v6.08h-6.08zM229.87 190.74h6.08v6.08h-6.08zM235.95 190.74h6.08v6.08h-6.08zM248.12 190.74h6.08v6.08h-6.08zM108.17 196.82h6.08v6.08h-6.08zM114.25 196.82h6.08v6.08h-6.08zM120.34 196.82h6.08v6.08h-6.08zM126.42 196.82h6.08v6.08h-6.08zM150.76 196.82h6.08v6.08h-6.08zM156.85 196.82h6.08v6.08h-6.08zM242.04 196.82h6.08v6.08h-6.08zM248.12 196.82h6.08v6.08h-6.08zM108.17 202.91h6.08v6.08h-6.08zM114.25 202.91h6.08v6.08h-6.08zM120.34 202.91h6.08v6.08h-6.08zM126.42 202.91h6.08v6.08h-6.08zM150.76 202.91h6.08v6.08h-6.08zM156.85 202.91h6.08v6.08h-6.08zM217.70 202.91h6.08v6.08h-6.08zM223.78 202.91h6.08v6.08h-6.08zM229.87 202.91h6.08v6.08h-6.08zM242.04 202.91h6.08v6.08h-6.08zM248.12 202.91h6.08v6.08h-6.08zM223.78 208.99h6.08v6.08h-6.08zM229.87 208.99h6.08v6.08h-6.08zM235.95 208.99h6.08v6.08h-6.08zM242.04 208.99h6.08v6.08h-6.08zM235.95 215.07h6.08v6.08h-6.08zM242.04 215.07h6.08v6.08h-6.08zM248.12 215.07h6.08v6.08h-6.08zM254.21 215.07h6.08v6.08h-6.08zM254.21 221.16h6.08v6.08h-6.08z" fill="#3aa8fc"/>
<path d="M333.31 38.61h6.08v6.08h-6.08zM339.40 38.61h6.08v6.08h-6.08zM369.82 38.61h6.08v6.08h-6.08zM333.31 44.70h6.08v6.08h-6.08zM339.40 44.70h6.08v6.08h-6.08zM363.74 44.70h6.08v6.08h-6.08zM339.40 50.78h6.08v6.08h-6.08zM345.48 50.78h6.08v6.08h-6.08zM357.65 50.78h6.08v6.08h-6.08zM339.40 56.87h6.08v6.08h-6.08zM345.48 56.87h6.08v6.08h-6.08zM394.16 56.87h6.08v6.08h-6.08zM400.25 56.87h6.08v6.08h-6.08zM406.33 56.87h6.08v6.08h-6.08zM345.48 62.95h6.08v6.08h-6.08zM388.08 62.95h6.08v6.08h-6.08zM394.16 62.95h6.08v6.08h-6.08zM400.25 62.95h6.08v6.08h-6.08zM406.33 62.95h6.08v6.08h-6.08zM381.99 69.03h6.08v6.08h-6.08zM388.08 69.03h6.08v6.08h-6.08zM394.16 69.03h6.08v6.08h-6.08zM400.25 69.03h6.08v6.08h-6.08zM406.33 69.03h6.08v6.08h-6.08zM114.25 75.12h6.08v6.08h-6.08zM345.48 75.12h6.08v6.08h-6.08zM388.08 75.12h6.08v6.08h-6.08zM400.25 75.12h6.08v6.08h-6.08zM406.33 75.12h6.08v6.08h-6.08zM96.00 81.20h6.08v6.08h-6.08zM120.34 81.20h6.08v6.08h-6.08zM138.59 81.20h6.08v6.08h-6.08zM144.68 81.20h6.08v6.08h-6.08zM333.31 81.20h6.08v6.08h-6.08zM345.48 81.20h6.08v6.08h-6.08zM406.33 81.20h6.08v6.08h-6.08zM96.00 87.29h6.08v6.08h-6.08zM126.42 87.29h6.08v6.08h-6.08zM132.51 87.29h6.08v6.08h-6.08zM138.59 87.29h6.08v6.08h-6.08zM144.68 87.29h6.08v6.08h-6.08zM199.44 87.29h6.08v6.08h-6.08zM205.53 87.29h6.08v6.08h-6.08zM211.61 87.29h6.08v6.08h-6.08zM321.14 87.29h6.08v6.08h-6.08zM339.40 87.29h6.08v6.08h-6.08zM345.48 87.29h6.08v6.08h-6.08zM114.25 93.38h6.08v6.08h-6.08zM126.42 93.38h6.08v6.08h-6.08zM132.51 93.38h6.08v6.08h-6.08zM138.59 93.38h6.08v6.08h-6.08zM144.68 93.38h6.08v6.08h-6.08zM150.76 93.38h6.08v6.08h-6.08zM156.85 93.38h6.08v6.08h-6.08zM169.02 93.38h6.08v6.08h-6.08zM199.44 93.38h6.08v6.08h-6.08zM205.53 93.38h6.08v6.08h-6.08zM248.12 93.38h6.08v6.08h-6.08zM254.21 93.38h6.08v6.08h-6.08zM302.89 93.38h6.08v6.08h-6.08zM315.06 93.38h6.08v6.08h-6.08zM321.14 93.38h6.08v6.08h-6.08zM339.40 93.38h6.08v6.08h-6.08zM345.48 93.38h6.08v6.08h-6.08zM351.57 93.38h6.08v6.08h-6.08zM114.25 99.46h6.08v6.08h-6.08zM138.59 99.46h6.08v6.08h-6.08zM162.93 99.46h6.08v6.08h-6.08zM169.02 99.46h6.08v6.08h-6.08zM199.44 99.46h6.08v6.08h-6.08zM254.21 99.46h6.08v6.08h-6.08zM266.38 99.46h6.08v6.08h-6.08zM278.55 99.46h6.08v6.08h-6.08zM284.63 99.46h6.08v6.08h-6.08zM296.80 99.46h6.08v6.08h-6.08zM321.14 99.46h6.08v6.08h-6.08zM351.57 99.46h6.08v6.08h-6.08zM357.65 99.46h6.08v6.08h-6.08zM102.08 105.55h6.08v6.08h-6.08zM132.51 105.55h6.08v6.08h-6.08zM138.59 105.55h6.08v6.08h-6.08zM156.85 105.55h6.08v6.08h-6.08zM162.93 105.55h6.08v6.08h-6.08zM187.27 105.55h6.08v6.08h-6.08zM235.95 105.55h6.08v6.08h-6.08zM96.00 111.63h6.08v6.08h-6.08zM162.93 111.63h6.08v6.08h-6.08zM181.19 111.63h6.08v6.08h-6.08zM187.27 111.63h6.08v6.08h-6.08zM229.87 111.63h6.08v6.08h-6.08zM235.95 111.63h6.08v6.08h-6.08zM53.40 117.72h6.08v6.08h-6.08zM59.49 117.72h6.08v6.08h-6.08zM65.57 117.72h6.08v6.08h-6.08zM83.83 117.72h6.08v6.08h-6.08zM193.36 117.72h6.08v6.08h-6.08zM229.87 117.72h6.08v6.08h-6.08zM235.95 117.72h6.08v6.08h-6.08zM242.04 117.72h6.08v6.08h-6.08zM71.66 123.80h6.08v6.08h-6.08zM89.91 123.80h6.08v6.08h-6.08zM223.78 123.80h6.08v6.08h-6.08zM217.70 129.88h6.08v6.08h-6.08zM235.95 129.88h6.08v6.08h-6.08zM242.04 129.88h6.08v6.08h-6.08zM205.53 135.97h6.08v6.08h-6.08zM223.78 135.97h6.08v6.08h-6.08zM235.95 135.97h6.08v6.08h-6.08zM242.04 135.97h6.08v6.08h-6.08zM217.70 142.06h6.08v6.08h-6.08zM235.95 142.06h6.08v6.08h-6.08zM235.95 148.14h6.08v6.08h-6.08zM229.87 154.23h6.08v6.08h-6.08zM235.95 154.23h6.08v6.08h-6.08zM229.87 160.31h6.08v6.08h-6.08zM235.95 160.31h6.08v6.08h-6.08zM242.04 160.31h6.08v6.08h-6.08zM229.87 166.39h6.08v6.08h-6.08zM235.95 166.39h6.08v6.08h-6.08zM242.04 166.39h6.08v6.08h-6.08zM235.95 172.48h6.08v6.08h-6.08zM242.04 172.48h6.08v6.08h-6.08zM114.25 178.56h6.08v6.08h-6.08zM229.87 178.56h6.08v6.08h-6.08zM235.95 178.56h6.08v6.08h-6.08zM126.42 184.65h6.08v6.08h-6.08zM138.59 184.65h6.08v6.08h-6.08zM156.85 184.65h6.08v6.08h-6.08zM162.93 184.65h6.08v6.08h-6.08zM229.87 184.65h6.08v6.08h-6.08zM235.95 184.65h6.08v6.08h-6.08zM242.04 184.65h6.08v6.08h-6.08zM248.12 184.65h6.08v6.08h-6.08zM156.85 190.74h6.08v6.08h-6.08zM162.93 190.74h6.08v6.08h-6.08zM242.04 190.74h6.08v6.08h-6.08zM254.21 196.82h6.08v6.08h-6.08zM254.21 202.91h6.08v6.08h-6.08zM248.12 208.99h6.08v6.08h-6.08zM254.21 208.99h6.08v6.08h-6.08zM260.29 208.99h6.08v6.08h-6.08zM223.78 215.07h6.08v6.08h-6.08zM229.87 215.07h6.08v6.08h-6.08zM260.29 215.07h6.08v6.08h-6.08zM223.78 221.16h6.08v6.08h-6.08zM229.87 221.16h6.08v6.08h-6.08zM235.95 221.16h6.08v6.08h-6.08zM260.29 221.16h6.08v6.08h-6.08zM266.38 221.16h6.08v6.08h-6.08zM223.78 227.25h6.08v6.08h-6.08zM229.87 227.25h6.08v6.08h-6.08zM235.95 227.25h6.08v6.08h-6.08zM260.29 227.25h6.08v6.08h-6.08zM266.38 227.25h6.08v6.08h-6.08zM223.78 233.33h6.08v6.08h-6.08zM229.87 233.33h6.08v6.08h-6.08z" fill="#00fcfc"/>
<path d="M357.65 38.61h6.08v6.08h-6.08zM363.74 38.61h6.08v6.08h-6.08zM351.57 44.70h6.08v6.08h-6.08zM357.65 44.70h6.08v6.08h-6.08zM351.57 50.78h6.08v6.08h-6.08zM102.08 81.20h6.08v6.08h-6.08zM108.17 81.20h6.08v6.08h-6.08zM114.25 81.20h6.08v6.08h-6.08zM175.10 81.20h6.08v6.08h-6.08zM102.08 87.29h6.08v6.08h-6.08zM108.17 87.29h6.08v6.08h-6.08zM114.25 87.29h6.08v6.08h-6.08zM120.34 87.29h6.08v6.08h-6.08zM169.02 87.29h6.08v6.08h-6.08zM175.10 87.29h6.08v6.08h-6.08zM181.19 87.29h6.08v6.08h-6.08zM187.27 87.29h6.08v6.08h-6.08zM193.36 87.29h6.08v6.08h-6.08zM120.34 93.38h6.08v6.08h-6.08zM162.93 93.38h6.08v6.08h-6.08zM181.19 93.38h6.08v6.08h-6.08zM187.27 93.38h6.08v6.08h-6.08zM193.36 93.38h6.08v6.08h-6.08zM308.97 93.38h6.08v6.08h-6.08zM120.34 99.46h6.08v6.08h-6.08zM126.42 99.46h6.08v6.08h-6.08zM132.51 99.46h6.08v6.08h-6.08zM181.19 99.46h6.08v6.08h-6.08zM187.27 99.46h6.08v6.08h-6.08zM193.36 99.46h6.08v6.08h-6.08zM248.12 99.46h6.08v6.08h-6.08zM302.89 99.46h6.08v6.08h-6.08zM315.06 99.46h6.08v6.08h-6.08zM327.23 99.46h6.08v6.08h-6.08zM333.31 99.46h6.08v6.08h-6.08zM339.40 99.46h6.08v6.08h-6.08zM345.48 99.46h6.08v6.08h-6.08zM108.17 105.55h6.08v6.08h-6.08zM114.25 105.55h6.08v6.08h-6.08zM120.34 105.55h6.08v6.08h-6.08zM126.42 105.55h6.08v6.08h-6.08zM242.04 105.55h6.08v6.08h-6.08zM248.12 105.55h6.08v6.08h-6.08zM254.21 105.55h6.08v6.08h-6.08zM260.29 105.55h6.08v6.08h-6.08zM272.46 105.55h6.08v6.08h-6.08zM278.55 105.55h6.08v6.08h-6.08zM284.63 105.55h6.08v6.08h-6.08zM357.65 105.55h6.08v6.08h-6.08zM108.17 111.63h6.08v6.08h-6.08zM114.25 111.63h6.08v6.08h-6.08zM242.04 111.63h6.08v6.08h-6.08zM357.65 111.63h6.08v6.08h-6.08zM363.74 111.63h6.08v6.08h-6.08zM89.91 117.72h6.08v6.08h-6.08zM248.12 117.72h6.08v6.08h-6.08zM357.65 117.72h6.08v6.08h-6.08zM363.74 117.72h6.08v6.08h-6.08zM369.82 117.72h6.08v6.08h-6.08zM229.87 123.80h6.08v6.08h-6.08zM235.95 123.80h6.08v6.08h-6.08zM242.04 123.80h6.08v6.08h-6.08zM248.12 123.80h6.08v6.08h-6.08zM327.23 123.80h6.08v6.08h-6.08zM333.31 123.80h6.08v6.08h-6.08zM339.40 123.80h6.08v6.08h-6.08zM223.78 129.88h6.08v6.08h-6.08zM229.87 129.88h6.08v6.08h-6.08zM248.12 129.88h6.08v6.08h-6.08zM327.23 129.88h6.08v6.08h-6.08zM333.31 129.88h6.08v6.08h-6.08zM339.40 129.88h6.08v6.08h-6.08zM211.61 135.97h6.08v6.08h-6.08zM217.70 135.97h6.08v6.08h-6.08zM333.31 135.97h6.08v6.08h-6.08zM339.40 135.97h6.08v6.08h-6.08zM242.04 142.06h6.08v6.08h-6.08zM339.40 142.06h6.08v6.08h-6.08zM242.04 148.14h6.08v6.08h-6.08zM242.04 154.23h6.08v6.08h-6.08zM248.12 154.23h6.08v6.08h-6.08zM248.12 160.31h6.08v6.08h-6.08zM254.21 160.31h6.08v6.08h-6.08zM248.12 166.39h6.08v6.08h-6.08zM248.12 172.48h6.08v6.08h-6.08zM120.34 178.56h6.08v6.08h-6.08zM126.42 178.56h6.08v6.08h-6.08zM242.04 178.56h6.08v6.08h-6.08zM132.51 184.65h6.08v6.08h-6.08zM169.02 184.65h6.08v6.08h-6.08zM132.51 190.74h6.08v6.08h-6.08zM169.02 190.74h6.08v6.08h-6.08zM296.80 190.74h6.08v6.08h-6.08zM302.89 190.74h6.08v6.08h-6.08zM308.97 190.74h6.08v6.08h-6.08zM162.93 196.82h6.08v6.08h-6.08zM169.02 196.82h6.08v6.08h-6.08zM260.29 196.82h6.08v6.08h-6.08zM266.38 196.82h6.08v6.08h-6.08zM272.46 196.82h6.08v6.08h-6.08zM302.89 196.82h6.08v6.08h-6.08zM308.97 196.82h6.08v6.08h-6.08zM315.06 196.82h6.08v6.08h-6.08zM162.93 202.91h6.08v6.08h-6.08zM169.02 202.91h6.08v6.08h-6.08zM175.10 202.91h6.08v6.08h-6.08zM181.19 202.91h6.08v6.08h-6.08zM187.27 202.91h6.08v6.08h-6.08zM193.36 202.91h6.08v6.08h-6.08zM199.44 202.91h6.08v6.08h-6.08zM205.53 202.91h6.08v6.08h-6.08zM260.29 202.91h6.08v6.08h-6.08zM266.38 202.91h6.08v6.08h-6.08zM272.46 202.91h6.08v6.08h-6.08zM187.27 208.99h6.08v6.08h-6.08zM205.53 208.99h6.08v6.08h-6.08zM211.61 208.99h6.08v6.08h-6.08zM266.38 208.99h6.08v6.08h-6.08zM272.46 208.99h6.08v6.08h-6.08zM278.55 208.99h6.08v6.08h-6.08zM187.27 215.07h6.08v6.08h-6.08zM205.53 215.07h6.08v6.08h-6.08zM266.38 215.07h6.08v6.08h-6.08z" fill="#96fbb4"/>
<path d="M278.55 44.70h6.08v6.08h-6.08zM284.63 44.70h6.08v6.08h-6.08zM290.72 44.70h6.08v6.08h-6.08zM114.25 50.78h6.08v6.08h-6.08zM120.34 50.78h6.08v6.08h-6.08zM126.42 50.78h6.08v6.08h-6.08zM278.55 50.78h6.08v6.08h-6.08zM284.63 50.78h6.08v6.08h-6.08zM290.72 50.78h6.08v6.08h-6.08zM114.25 56.87h6.08v6.08h-6.08zM120.34 56.87h6.08v6.08h-6.08zM126.42 56.87h6.08v6.08h-6.08zM132.51 56.87h6.08v6.08h-6.08zM138.59 56.87h6.08v6.08h-6.08zM284.63 56.87h6.08v6.08h-6.08zM290.72 56.87h6.08v6.08h-6.08zM114.25 62.95h6.08v6.08h-6.08zM120.34 62.95h6.08v6.08h-6.08zM126.42 62.95h6.08v6.08h-6.08zM132.51 62.95h6.08v6.08h-6.08zM138.59 62.95h6.08v6.08h-6.08zM290.72 62.95h6.08v6.08h-6.08zM302.89 62.95h6.08v6.08h-6.08zM126.42 69.03h6.08v6.08h-6.08zM132.51 69.03h6.08v6.08h-6.08zM59.49 75.12h6.08v6.08h-6.08zM65.57 75.12h6.08v6.08h-6.08zM71.66 75.12h6.08v6.08h-6.08zM59.49 81.20h6.08v6.08h-6.08zM65.57 81.20h6.08v6.08h-6.08zM71.66 81.20h6.08v6.08h-6.08zM77.74 81.20h6.08v6.08h-6.08zM59.49 87.29h6.08v6.08h-6.08zM65.57 87.29h6.08v6.08h-6.08zM71.66 87.29h6.08v6.08h-6.08zM77.74 87.29h6.08v6.08h-6.08zM83.83 87.29h6.08v6.08h-6.08zM59.49 93.38h6.08v6.08h-6.08zM65.57 93.38h6.08v6.08h-6.08zM71.66 93.38h6.08v6.08h-6.08zM77.74 93.38h6.08v6.08h-6.08zM83.83 93.38h6.08v6.08h-6.08zM65.57 99.46h6.08v6.08h-6.08zM71.66 99.46h6.08v6.08h-6.08zM83.83 99.46h6.08v6.08h-6.08zM89.91 99.46h6.08v6.08h-6.08zM65.57 105.55h6.08v6.08h-6.08zM71.66 105.55h6.08v6.08h-6.08zM211.61 111.63h6.08v6.08h-6.08zM41.23 117.72h6.08v6.08h-6.08zM150.76 117.72h6.08v6.08h-6.08zM156.85 117.72h6.08v6.08h-6.08zM41.23 123.80h6.08v6.08h-6.08zM114.25 123.80h6.08v6.08h-6.08zM120.34 123.80h6.08v6.08h-6.08zM41.23 129.88h6.08v6.08h-6.08zM96.00 129.88h6.08v6.08h-6.08zM120.34 129.88h6.08v6.08h-6.08zM138.59 129.88h6.08v6.08h-6.08zM144.68 129.88h6.08v6.08h-6.08zM150.76 129.88h6.08v6.08h-6.08zM77.74 135.97h6.08v6.08h-6.08zM89.91 135.97h6.08v6.08h-6.08zM138.59 135.97h6.08v6.08h-6.08zM144.68 135.97h6.08v6.08h-6.08zM150.76 135.97h6.08v6.08h-6.08zM156.85 135.97h6.08v6.08h-6.08zM71.66 142.06h6.08v6.08h-6.08zM77.74 142.06h6.08v6.08h-6.08zM83.83 142.06h6.08v6.08h-6.08zM102.08 142.06h6.08v6.08h-6.08zM150.76 142.06h6.08v6.08h-6.08zM156.85 142.06h6.08v6.08h-6.08zM83.83 148.14h6.08v6.08h-6.08zM126.42 148.14h6.08v6.08h-6.08zM144.68 148.14h6.08v6.08h-6.08zM162.93 148.14h6.08v6.08h-6.08zM181.19 148.14h6.08v6.08h-6.08zM144.68 154.23h6.08v6.08h-6.08zM162.93 154.23h6.08v6.08h-6.08zM175.10 154.23h6.08v6.08h-6.08zM162.93 160.31h6.08v6.08h-6.08zM169.02 160.31h6.08v6.08h-6.08zM175.10 160.31h6.08v6.08h-6.08zM47.32 166.39h6.08v6.08h-6.08zM53.40 166.39h6.08v6.08h-6.08zM59.49 166.39h6.08v6.08h-6.08zM114.25 166.39h6.08v6.08h-6.08zM126.42 166.39h6.08v6.08h-6.08zM132.51 166.39h6.08v6.08h-6.08zM162.93 166.39h6.08v6.08h-6.08zM169.02 166.39h6.08v6.08h-6.08zM175.10 166.39h6.08v6.08h-6.08zM181.19 166.39h6.08v6.08h-6.08zM187.27 166.39h6.08v6.08h-6.08zM47.32 172.48h6.08v6.08h-6.08zM53.40 172.48h6.08v6.08h-6.08zM59.49 172.48h6.08v6.08h-6.08zM65.57 172.48h6.08v6.08h-6.08zM71.66 172.48h6.08v6.08h-6.08zM77.74 172.48h6.08v6.08h-6.08zM120.34 172.48h6.08v6.08h-6.08zM156.85 172.48h6.08v6.08h-6.08zM162.93 172.48h6.08v6.08h-6.08zM169.02 172.48h6.08v6.08h-6.08zM175.10 172.48h6.08v6.08h-6.08zM181.19 172.48h6.08v6.08h-6.08zM187.27 172.48h6.08v6.08h-6.08zM199.44 172.48h6.08v6.08h-6.08zM205.53 172.48h6.08v6.08h-6.08zM211.61 172.48h6.08v6.08h-6.08zM47.32 178.56h6.08v6.08h-6.08zM53.40 178.56h6.08v6.08h-6.08zM59.49 178.56h6.08v6.08h-6.08zM65.57 178.56h6.08v6.08h-6.08zM71.66 178.56h6.08v6.08h-6.08zM138.59 178.56h6.08v6.08h-6.08zM156.85 178.56h6.08v6.08h-6.08zM162.93 178.56h6.08v6.08h-6.08zM175.10 178.56h6.08v6.08h-6.08zM181.19 178.56h6.08v6.08h-6.08zM199.44 178.56h6.08v6.08h-6.08zM53.40 184.65h6.08v6.08h-6.08zM59.49 184.65h6.08v6.08h-6.08zM65.57 184.65h6.08v6.08h-6.08z" fill="#0000fc"/>
<path d="M327.23 44.70h6.08v6.08h-6.08zM345.48 44.70h6.08v6.08h-6.08zM327.23 56.87h6.08v6.08h-6.08zM150.76 75.12h6.08v6.08h-6.08zM126.42 81.20h6.08v6.08h-6.08zM132.51 81.20h6.08v6.08h-6.08zM150.76 81.20h6.08v6.08h-6.08zM266.38 81.20h6.08v6.08h-6.08zM150.76 87.29h6.08v6.08h-6.08zM229.87 87.29h6.08v6.08h-6.08zM235.95 87.29h6.08v6.08h-6.08zM242.04 87.29h6.08v6.08h-6.08zM266.38 87.29h6.08v6.08h-6.08zM175.10 93.38h6.08v6.08h-6.08zM211.61 93.38h6.08v6.08h-6.08zM217.70 93.38h6.08v6.08h-6.08zM223.78 93.38h6.08v6.08h-6.08zM229.87 93.38h6.08v6.08h-6.08zM235.95 93.38h6.08v6.08h-6.08zM242.04 93.38h6.08v6.08h-6.08zM29.06 99.46h6.08v6.08h-6.08zM35.15 99.46h6.08v6.08h-6.08zM41.23 99.46h6.08v6.08h-6.08zM175.10 99.46h6.08v6.08h-6.08zM205.53 99.46h6.08v6.08h-6.08zM211.61 99.46h6.08v6.08h-6.08zM217.70 99.46h6.08v6.08h-6.08zM223.78 99.46h6.08v6.08h-6.08zM235.95 99.46h6.08v6.08h-6.08zM242.04 99.46h6.08v6.08h-6.08zM260.29 99.46h6.08v6.08h-6.08zM29.06 105.55h6.08v6.08h-6.08zM35.15 105.55h6.08v6.08h-6.08zM41.23 105.55h6.08v6.08h-6.08zM47.32 105.55h6.08v6.08h-6.08zM144.68 105.55h6.08v6.08h-6.08zM181.19 105.55h6.08v6.08h-6.08zM205.53 105.55h6.08v6.08h-6.08zM211.61 105.55h6.08v6.08h-6.08zM217.70 105.55h6.08v6.08h-6.08zM223.78 105.55h6.08v6.08h-6.08zM35.15 111.63h6.08v6.08h-6.08zM41.23 111.63h6.08v6.08h-6.08zM47.32 111.63h6.08v6.08h-6.08zM53.40 111.63h6.08v6.08h-6.08zM102.08 111.63h6.08v6.08h-6.08zM120.34 111.63h6.08v6.08h-6.08zM126.42 111.63h6.08v6.08h-6.08zM132.51 111.63h6.08v6.08h-6.08zM144.68 111.63h6.08v6.08h-6.08zM150.76 111.63h6.08v6.08h-6.08zM199.44 111.63h6.08v6.08h-6.08zM205.53 111.63h6.08v6.08h-6.08zM223.78 111.63h6.08v6.08h-6.08zM35.15 117.72h6.08v6.08h-6.08zM77.74 117.72h6.08v6.08h-6.08zM96.00 117.72h6.08v6.08h-6.08zM102.08 117.72h6.08v6.08h-6.08zM108.17 117.72h6.08v6.08h-6.08zM114.25 117.72h6.08v6.08h-6.08zM126.42 117.72h6.08v6.08h-6.08zM132.51 117.72h6.08v6.08h-6.08zM138.59 117.72h6.08v6.08h-6.08zM144.68 117.72h6.08v6.08h-6.08zM162.93 117.72h6.08v6.08h-6.08zM217.70 117.72h6.08v6.08h-6.08zM29.06 123.80h6.08v6.08h-6.08zM35.15 123.80h6.08v6.08h-6.08zM59.49 123.80h6.08v6.08h-6.08zM65.57 123.80h6.08v6.08h-6.08zM77.74 123.80h6.08v6.08h-6.08zM83.83 123.80h6.08v6.08h-6.08zM108.17 123.80h6.08v6.08h-6.08zM126.42 123.80h6.08v6.08h-6.08zM162.93 123.80h6.08v6.08h-6.08zM169.02 123.80h6.08v6.08h-6.08zM175.10 123.80h6.08v6.08h-6.08zM217.70 123.80h6.08v6.08h-6.08zM29.06 129.88h6.08v6.08h-6.08zM35.15 129.88h6.08v6.08h-6.08zM89.91 129.88h6.08v6.08h-6.08zM102.08 129.88h6.08v6.08h-6.08zM108.17 129.88h6.08v6.08h-6.08zM114.25 129.88h6.08v6.08h-6.08zM126.42 129.88h6.08v6.08h-6.08zM132.51 129.88h6.08v6.08h-6.08zM29.06 135.97h6.08v6.08h-6.08zM35.15 135.97h6.08v6.08h-6.08zM41.23 135.97h6.08v6.08h-6.08zM47.32 135.97h6.08v6.08h-6.08zM53.40 135.97h6.08v6.08h-6.08zM83.83 135.97h6.08v6.08h-6.08zM96.00 135.97h6.08v6.08h-6.08zM102.08 135.97h6.08v6.08h-6.08zM108.17 135.97h6.08v6.08h-6.08zM114.25 135.97h6.08v6.08h-6.08zM120.34 135.97h6.08v6.08h-6.08zM126.42 135.97h6.08v6.08h-6.08zM132.51 135.97h6.08v6.08h-6.08zM29.06 142.06h6.08v6.08h-6.08zM35.15 142.06h6.08v6.08h-6.08zM41.23 142.06h6.08v6.08h-6.08zM47.32 142.06h6.08v6.08h-6.08zM53.40 142.06h6.08v6.08h-6.08zM59.49 142.06h6.08v6.08h-6.08zM65.57 142.06h6.08v6.08h-6.08zM89.91 142.06h6.08v6.08h-6.08zM96.00 142.06h6.08v6.08h-6.08zM108.17 142.06h6.08v6.08h-6.08zM114.25 142.06h6.08v6.08h-6.08zM120.34 142.06h6.08v6.08h-6.08zM126.42 142.06h6.08v6.08h-6.08zM132.51 142.06h6.08v6.08h-6.08zM138.59 142.06h6.08v6.08h-6.08zM144.68 142.06h6.08v6.08h-6.08zM162.93 142.06h6.08v6.08h-6.08zM169.02 142.06h6.08v6.08h-6.08zM29.06 148.14h6.08v6.08h-6.08zM35.15 148.14h6.08v6.08h-6.08zM41.23 148.14h6.08v6.08h-6.08zM47.32 148.14h6.08v6.08h-6.08zM53.40 148.14h6.08v6.08h-6.08zM59.49 148.14h6.08v6.08h-6.08zM65.57 148.14h6.08v6.08h-6.08zM71.66 148.14h6.08v6.08h-6.08zM77.74 148.14h6.08v6.08h-6.08zM89.91 148.14h6.08v6.08h-6.08zM96.00 148.14h6.08v6.08h-6.08zM102.08 148.14h6.08v6.08h-6.08zM108.17 148.14h6.08v6.08h-6.08zM114.25 148.14h6.08v6.08h-6.08zM120.34 148.14h6.08v6.08h-6.08zM132.51 148.14h6.08v6.08h-6.08zM138.59 148.14h6.08v6.08h-6.08zM150.76 148.14h6.08v6.08h-6.08zM156.85 148.14h6.08v6.08h-6.08zM169.02 148.14h6.08v6.08h-6.08zM175.10 148.14h6.08v6.08h-6.08zM187.27 148.14h6.08v6.08h-6.08zM35.15 154.23h6.08v6.08h-6.08zM41.23 154.23h6.08v6.08h-6.08zM47.32 154.23h6.08v6.08h-6.08zM53.40 154.23h6.08v6.08h-6.08zM59.49 154.23h6.08v6.08h-6.08zM71.66 154.23h6.08v6.08h-6.08zM77.74 154.23h6.08v6.08h-6.08zM83.83 154.23h6.08v6.08h-6.08zM89.91 154.23h6.08v6.08h-6.08zM96.00 154.23h6.08v6.08h-6.08zM102.08 154.23h6.08v6.08h-6.08zM108.17 154.23h6.08v6.08h-6.08zM114.25 154.23h6.08v6.08h-6.08zM120.34 154.23h6.08v6.08h-6.08zM126.42 154.23h6.08v6.08h-6.08zM132.51 154.23h6.08v6.08h-6.08zM138.59 154.23h6.08v6.08h-6.08zM150.76 154.23h6.08v6.08h-6.08zM156.85 154.23h6.08v6.08h-6.08zM47.32 160.31h6.08v6.08h-6.08zM53.40 160.31h6.08v6.08h-6.08zM59.49 160.31h6.08v6.08h-6.08zM65.57 160.31h6.08v6.08h-6.08zM77.74 160.31h6.08v6.08h-6.08zM83.83 160.31h6.08v6.08h-6.08zM89.91 160.31h6.08v6.08h-6.08zM96.00 160.31h6.08v6.08h-6.08zM102.08 160.31h6.08v6.08h-6.08zM108.17 160.31h6.08v6.08h-6.08zM114.25 160.31h6.08v6.08h-6.08zM120.34 160.31h6.08v6.08h-6.08zM126.42 160.31h6.08v6.08h-6.08zM132.51 160.31h6.08v6.08h-6.08zM150.76 160.31h6.08v6.08h-6.08zM156.85 160.31h6.08v6.08h-6.08zM187.27 160.31h6.08v6.08h-6.08zM65.57 166.39h6.08v6.08h-6.08zM71.66 166.39h6.08v6.08h-6.08zM77.74 166.39h6.08v6.08h-6.08zM83.83 166.39h6.08v6.08h-6.08zM89.91 166.39h6.08v6.08h-6.08zM96.00 166.39h6.08v6.08h-6.08zM102.08 166.39h6.08v6.08h-6.08zM108.17 166.39h6.08v6.08h-6.08zM120.34 166.39h6.08v6.08h-6.08zM156.85 166.39h6.08v6.08h-6.08zM83.83 172.48h6.08v6.08h-6.08zM89.91 172.48h6.08v6.08h-6.08zM96.00 172.48h6.08v6.08h-6.08zM102.08 172.48h6.08v6.08h-6.08zM108.17 172.48h6.08v6.08h-6.08zM114.25 172.48h6.08v6.08h-6.08zM126.42 172.48h6.08v6.08h-6.08zM144.68 172.48h6.08v6.08h-6.08zM77.74 178.56h6.08v6.08h-6.08zM83.83 178.56h6.08v6.08h-6.08zM89.91 178.56h6.08v6.08h-6.08zM96.00 178.56h6.08v6.08h-6.08zM102.08 178.56h6.08v6.08h-6.08zM108.17 178.56h6.08v6.08h-6.08zM169.02 178.56h6.08v6.08h-6.08zM71.66 184.65h6.08v6.08h-6.08zM77.74 184.65h6.08v6.08h-6.08zM83.83 184.65h6.08v6.08h-6.08zM89.91 184.65h6.08v6.08h-6.08zM108.17 184.65h6.08v6.08h-6.08zM150.76 184.65h6.08v6.08h-6.08zM71.66 190.74h6.08v6.08h-6.08zM77.74 190.74h6.08v6.08h-6.08zM83.83 190.74h6.08v6.08h-6.08zM108.17 190.74h6.08v6.08h-6.08z" fill="url(#hatch)"/>
<path d="M308.97 99.46h6.08v6.08h-6.08zM266.38 105.55h6.08v6.08h-6.08zM290.72 105.55h6.08v6.08h-6.08zM321.14 105.55h6.08v6.08h-6.08zM327.23 105.55h6.08v6.08h-6.08zM333.31 105.55h6.08v6.08h-6.08zM339.40 105.55h6.08v6.08h-6.08zM345.48 105.55h6.08v6.08h-6.08zM351.57 105.55h6.08v6.08h-6.08zM248.12 111.63h6.08v6.08h-6.08zM333.31 111.63h6.08v6.08h-6.08zM339.40 111.63h6.08v6.08h-6.08zM345.48 111.63h6.08v6.08h-6.08zM351.57 111.63h6.08v6.08h-6.08zM339.40 117.72h6.08v6.08h-6.08zM345.48 117.72h6.08v6.08h-6.08zM351.57 117.72h6.08v6.08h-6.08zM254.21 123.80h6.08v6.08h-6.08zM260.29 123.80h6.08v6.08h-6.08zM315.06 123.80h6.08v6.08h-6.08zM321.14 123.80h6.08v6.08h-6.08zM345.48 123.80h6.08v6.08h-6.08zM351.57 123.80h6.08v6.08h-6.08zM254.21 129.88h6.08v6.08h-6.08zM296.80 129.88h6.08v6.08h-6.08zM302.89 129.88h6.08v6.08h-6.08zM308.97 129.88h6.08v6.08h-6.08zM315.06 129.88h6.08v6.08h-6.08zM321.14 129.88h6.08v6.08h-6.08zM248.12 135.97h6.08v6.08h-6.08zM254.21 135.97h6.08v6.08h-6.08zM308.97 135.97h6.08v6.08h-6.08zM315.06 135.97h6.08v6.08h-6.08zM321.14 135.97h6.08v6.08h-6.08zM327.23 135.97h6.08v6.08h-6.08zM248.12 142.06h6.08v6.08h-6.08zM302.89 142.06h6.08v6.08h-6.08zM308.97 142.06h6.08v6.08h-6.08zM315.06 142.06h6.08v6.08h-6.08zM321.14 142.06h6.08v6.08h-6.08zM327.23 142.06h6.08v6.08h-6.08zM333.31 142.06h6.08v6.08h-6.08zM248.12 148.14h6.08v6.08h-6.08zM308.97 148.14h6.08v6.08h-6.08zM315.06 148.14h6.08v6.08h-6.08zM321.14 148.14h6.08v6.08h-6.08zM327.23 148.14h6.08v6.08h-6.08zM254.21 154.23h6.08v6.08h-6.08zM260.29 154.23h6.08v6.08h-6.08zM260.29 160.31h6.08v6.08h-6.08zM254.21 166.39h6.08v6.08h-6.08zM260.29 166.39h6.08v6.08h-6.08zM248.12 178.56h6.08v6.08h-6.08zM175.10 184.65h6.08v6.08h-6.08zM181.19 184.65h6.08v6.08h-6.08zM193.36 184.65h6.08v6.08h-6.08zM302.89 184.65h6.08v6.08h-6.08zM308.97 184.65h6.08v6.08h-6.08zM315.06 184.65h6.08v6.08h-6.08zM175.10 190.74h6.08v6.08h-6.08zM181.19 190.74h6.08v6.08h-6.08zM187.27 190.74h6.08v6.08h-6.08zM193.36 190.74h6.08v6.08h-6.08zM205.53 190.74h6.08v6.08h-6.08zM254.21 190.74h6.08v6.08h-6.08zM260.29 190.74h6.08v6.08h-6.08zM284.63 190.74h6.08v6.08h-6.08zM290.72 190.74h6.08v6.08h-6.08zM315.06 190.74h6.08v6.08h-6.08zM321.14 190.74h6.08v6.08h-6.08zM175.10 196.82h6.08v6.08h-6.08zM181.19 196.82h6.08v6.08h-6.08zM187.27 196.82h6.08v6.08h-6.08zM193.36 196.82h6.08v6.08h-6.08zM199.44 196.82h6.08v6.08h-6.08zM205.53 196.82h6.08v6.08h-6.08zM278.55 196.82h6.08v6.08h-6.08zM284.63 196.82h6.08v6.08h-6.08zM290.72 196.82h6.08v6.08h-6.08zM296.80 196.82h6.08v6.08h-6.08zM321.14 196.82h6.08v6.08h-6.08zM327.23 196.82h6.08v6.08h-6.08zM333.31 196.82h6.08v6.08h-6.08zM211.61 202.91h6.08v6.08h-6.08zM278.55 202.91h6.08v6.08h-6.08zM284.63 202.91h6.08v6.08h-6.08zM290.72 202.91h6.08v6.08h-6.08zM296.80 202.91h6.08v6.08h-6.08zM302.89 202.91h6.08v6.08h-6.08zM308.97 202.91h6.08v6.08h-6.08zM315.06 202.91h6.08v6.08h-6.08zM321.14 202.91h6.08v6.08h-6.08zM327.23 202.91h6.08v6.08h-6.08zM333.31 202.91h6.08v6.08h-6.08zM162.93 208.99h6.08v6.08h-6.08zM169.02 208.99h6.08v6.08h-6.08zM175.10 208.99h6.08v6.08h-6.08zM181.19 208.99h6.08v6.08h-6.08zM193.36 208.99h6.08v6.08h-6.08zM199.44 208.99h6.08v6.08h-6.08zM217.70 208.99h6.08v6.08h-6.08zM284.63 208.99h6.08v6.08h-6.08zM290.72 208.99h6.08v6.08h-6.08zM296.80 208.99h6.08v6.08h-6.08zM302.89 208.99h6.08v6.08h-6.08zM308.97 208.99h6.08v6.08h-6.08zM315.06 208.99h6.08v6.08h-6.08zM321.14 208.99h6.08v6.08h-6.08zM327.23 208.99h6.08v6.08h-6.08zM333.31 208.99h6.08v6.08h-6.08zM162.93 215.07h6.08v6.08h-6.08zM169.02 215.07h6.08v6.08h-6.08zM175.10 215.07h6.08v6.08h-6.08zM181.19 215.07h6.08v6.08h-6.08zM193.36 215.07h6.08v6.08h-6.08zM199.44 215.07h6.08v6.08h-6.08zM211.61 215.07h6.08v6.08h-6.08zM272.46 215.07h6.08v6.08h-6.08zM278.55 215.07h6.08v6.08h-6.08zM284.63 215.07h6.08v6.08h-6.08zM290.72 215.07h6.08v6.08h-6.08zM296.80 215.07h6.08v6.08h-6.08zM302.89 215.07h6.08v6.08h-6.08zM162.93 221.16h6.08v6.08h-6.08zM169.02 221.16h6.08v6.08h-6.08zM175.10 221.16h6.08v6.08h-6.08zM181.19 221.16h6.08v6.08h-6.08zM187.27 221.16h6.08v6.08h-6.08zM193.36 221.16h6.08v6.08h-6.08zM199.44 221.16h6.08v6.08h-6.08zM272.46 221.16h6.08v6.08h-6.08zM278.55 221.16h6.08v6.08h-6.08zM284.63 221.16h6.08v6.08h-6.08zM290.72 221.16h6.08v6.08h-6.08zM296.80 221.16h6.08v6.08h-6.08zM302.89 221.16h6.08v6.08h-6.08zM175.10 227.25h6.08v6.08h-6.08zM181.19 227.25h6.08v6.08h-6.08zM187.27 227.25h6.08v6.08h-6.08zM193.36 227.25h6.08v6.08h-6.08zM272.46 227.25h6.08v6.08h-6.08zM278.55 227.25h6.08v6.08h-6.08zM284.63 227.25h6.08v6.08h-6.08zM290.72 227.25h6.08v6.08h-6.08zM296.80 227.25h6.08v6.08h-6.08zM175.10 233.33h6.08v6.08h-6.08zM181.19 233.33h6.08v6.08h-6.08zM187.27 233.33h6.08v6.08h-6.08zM193.36 233.33h6.08v6.08h-6.08zM278.55 233.33h6.08v6.08h-6.08zM284.63 233.33h6.08v6.08h-6.08zM290.72 233.33h6.08v6.08h-6.08zM181.19 239.42h6.08v6.08h-6.08zM187.27 239.42h6.08v6.08h-6.08zM193.36 239.42h6.08v6.08h-6.08z" fill="#d2fa6e"/>
<path d="M296.80 105.55h6.08v6.08h-6.08zM302.89 105.55h6.08v6.08h-6.08zM308.97 105.55h6.08v6.08h-6.08zM315.06 105.55h6.08v6.08h-6.08zM254.21 111.63h6.08v6.08h-6.08zM260.29 111.63h6.08v6.08h-6.08zM266.38 111.63h6.08v6.08h-6.08zM272.46 111.63h6.08v6.08h-6.08zM278.55 111.63h6.08v6.08h-6.08zM284.63 111.63h6.08v6.08h-6.08zM321.14 111.63h6.08v6.08h-6.08zM327.23 111.63h6.08v6.08h-6.08zM254.21 117.72h6.08v6.08h-6.08zM327.23 117.72h6.08v6.08h-6.08zM333.31 117.72h6.08v6.08h-6.08zM266.38 123.80h6.08v6.08h-6.08zM272.46 123.80h6.08v6.08h-6.08zM284.63 123.80h6.08v6.08h-6.08zM260.29 129.88h6.08v6.08h-6.08zM272.46 129.88h6.08v6.08h-6.08zM290.72 129.88h6.08v6.08h-6.08zM260.29 135.97h6.08v6.08h-6.08zM284.63 135.97h6.08v6.08h-6.08zM290.72 135.97h6.08v6.08h-6.08zM296.80 135.97h6.08v6.08h-6.08zM302.89 135.97h6.08v6.08h-6.08zM254.21 142.06h6.08v6.08h-6.08zM284.63 142.06h6.08v6.08h-6.08zM290.72 142.06h6.08v6.08h-6.08zM296.80 142.06h6.08v6.08h-6.08zM254.21 148.14h6.08v6.08h-6.08zM260.29 148.14h6.08v6.08h-6.08zM272.46 148.14h6.08v6.08h-6.08zM278.55 148.14h6.08v6.08h-6.08zM284.63 148.14h6.08v6.08h-6.08zM290.72 148.14h6.08v6.08h-6.08zM296.80 148.14h6.08v6.08h-6.08zM302.89 148.14h6.08v6.08h-6.08zM266.38 154.23h6.08v6.08h-6.08zM272.46 154.23h6.08v6.08h-6.08zM278.55 154.23h6.08v6.08h-6.08zM284.63 154.23h6.08v6.08h-6.08zM290.72 154.23h6.08v6.08h-6.08zM296.80 154.23h6.08v6.08h-6.08zM302.89 154.23h6.08v6.08h-6.08zM308.97 154.23h6.08v6.08h-6.08zM315.06 154.23h6.08v6.08h-6.08zM321.14 154.23h6.08v6.08h-6.08zM266.38 160.31h6.08v6.08h-6.08zM272.46 160.31h6.08v6.08h-6.08zM278.55 160.31h6.08v6.08h-6.08zM284.63 160.31h6.08v6.08h-6.08zM290.72 160.31h6.08v6.08h-6.08zM266.38 166.39h6.08v6.08h-6.08zM272.46 166.39h6.08v6.08h-6.08zM278.55 166.39h6.08v6.08h-6.08zM284.63 166.39h6.08v6.08h-6.08zM290.72 166.39h6.08v6.08h-6.08zM254.21 172.48h6.08v6.08h-6.08zM260.29 172.48h6.08v6.08h-6.08zM266.38 172.48h6.08v6.08h-6.08zM272.46 172.48h6.08v6.08h-6.08zM278.55 172.48h6.08v6.08h-6.08zM284.63 172.48h6.08v6.08h-6.08zM290.72 172.48h6.08v6.08h-6.08zM254.21 178.56h6.08v6.08h-6.08zM260.29 178.56h6.08v6.08h-6.08zM266.38 178.56h6.08v6.08h-6.08zM272.46 178.56h6.08v6.08h-6.08zM278.55 178.56h6.08v6.08h-6.08zM284.63 178.56h6.08v6.08h-6.08zM290.72 178.56h6.08v6.08h-6.08zM296.80 178.56h6.08v6.08h-6.08zM302.89 178.56h6.08v6.08h-6.08zM187.27 184.65h6.08v6.08h-6.08zM254.21 184.65h6.08v6.08h-6.08zM260.29 184.65h6.08v6.08h-6.08zM266.38 184.65h6.08v6.08h-6.08zM272.46 184.65h6.08v6.08h-6.08zM278.55 184.65h6.08v6.08h-6.08zM284.63 184.65h6.08v6.08h-6.08zM290.72 184.65h6.08v6.08h-6.08zM296.80 184.65h6.08v6.08h-6.08zM321.14 184.65h6.08v6.08h-6.08zM327.23 184.65h6.08v6.08h-6.08zM333.31 184.65h6.08v6.08h-6.08zM199.44 190.74h6.08v6.08h-6.08zM266.38 190.74h6.08v6.08h-6.08zM272.46 190.74h6.08v6.08h-6.08zM278.55 190.74h6.08v6.08h-6.08zM327.23 190.74h6.08v6.08h-6.08zM333.31 190.74h6.08v6.08h-6.08zM217.70 215.07h6.08v6.08h-6.08zM205.53 221.16h6.08v6.08h-6.08zM211.61 221.16h6.08v6.08h-6.08zM217.70 221.16h6.08v6.08h-6.08zM199.44 227.25h6.08v6.08h-6.08zM205.53 227.25h6.08v6.08h-6.08zM211.61 227.25h6.08v6.08h-6.08zM217.70 227.25h6.08v6.08h-6.08zM199.44 233.33h6.08v6.08h-6.08zM205.53 233.33h6.08v6.08h-6.08zM211.61 233.33h6.08v6.08h-6.08zM217.70 233.33h6.08v6.08h-6.08zM235.95 233.33h6.08v6.08h-6.08zM242.04 233.33h6.08v6.08h-6.08zM248.12 233.33h6.08v6.08h-6.08zM254.21 233.33h6.08v6.08h-6.08zM260.29 233.33h6.08v6.08h-6.08zM266.38 233.33h6.08v6.08h-6.08zM272.46 233.33h6.08v6.08h-6.08zM199.44 239.42h6.08v6.08h-6.08zM205.53 239.42h6.08v6.08h-6.08zM211.61 239.42h6.08v6.08h-6.08zM235.95 239.42h6.08v6.08h-6.08zM242.04 239.42h6.08v6.08h-6.08zM248.12 239.42h6.08v6.08h-6.08zM254.21 239.42h6.08v6.08h-6.08zM260.29 239.42h6.08v6.08h-6.08zM266.38 239.42h6.08v6.08h-6.08zM272.46 239.42h6.08v6.08h-6.08zM235.95 245.50h6.08v6.08h-6.08zM242.04 245.50h6.08v6.08h-6.08zM248.12 245.50h6.08v6.08h-6.08zM254.21 245.50h6.08v6.08h-6.08zM260.29 245.50h6.08v6.08h-6.08zM266.38 245.50h6.08v6.08h-6.08zM272.46 245.50h6.08v6.08h-6.08zM235.95 251.58h6.08v6.08h-6.08zM242.04 251.58h6.08v6.08h-6.08zM248.12 251.58h6.08v6.08h-6.08zM254.21 251.58h6.08v6.08h-6.08zM260.29 251.58h6.08v6.08h-6.08zM266.38 251.58h6.08v6.08h-6.08zM272.46 251.58h6.08v6.08h-6.08z" fill="#ffff00"/>
<path d="M290.72 111.63h6.08v6.08h-6.08zM296.80 111.63h6.08v6.08h-6.08zM302.89 111.63h6.08v6.08h-6.08zM308.97 111.63h6.08v6.08h-6.08zM315.06 111.63h6.08v6.08h-6.08zM260.29 117.72h6.08v6.08h-6.08zM266.38 117.72h6.08v6.08h-6.08zM272.46 117.72h6.08v6.08h-6.08zM278.55 117.72h6.08v6.08h-6.08zM284.63 117.72h6.08v6.08h-6.08zM290.72 117.72h6.08v6.08h-6.08zM308.97 117.72h6.08v6.08h-6.08zM315.06 117.72h6.08v6.08h-6.08zM321.14 117.72h6.08v6.08h-6.08zM278.55 123.80h6.08v6.08h-6.08zM290.72 123.80h6.08v6.08h-6.08zM296.80 123.80h6.08v6.08h-6.08zM302.89 123.80h6.08v6.08h-6.08zM308.97 123.80h6.08v6.08h-6.08zM266.38 129.88h6.08v6.08h-6.08zM278.55 129.88h6.08v6.08h-6.08zM284.63 129.88h6.08v6.08h-6.08zM266.38 135.97h6.08v6.08h-6.08zM272.46 135.97h6.08v6.08h-6.08zM278.55 135.97h6.08v6.08h-6.08zM260.29 142.06h6.08v6.08h-6.08zM266.38 142.06h6.08v6.08h-6.08zM272.46 142.06h6.08v6.08h-6.08zM278.55 142.06h6.08v6.08h-6.08zM266.38 148.14h6.08v6.08h-6.08zM296.80 160.31h6.08v6.08h-6.08zM302.89 160.31h6.08v6.08h-6.08zM308.97 160.31h6.08v6.08h-6.08zM315.06 160.31h6.08v6.08h-6.08zM296.80 166.39h6.08v6.08h-6.08zM302.89 166.39h6.08v6.08h-6.08zM296.80 172.48h6.08v6.08h-6.08zM302.89 172.48h6.08v6.08h-6.08zM308.97 172.48h6.08v6.08h-6.08zM308.97 178.56h6.08v6.08h-6.08zM315.06 178.56h6.08v6.08h-6.08zM321.14 178.56h6.08v6.08h-6.08zM327.23 178.56h6.08v6.08h-6.08zM333.31 178.56h6.08v6.08h-6.08z" fill="#ffb400"/>
<path d="M296.80 117.72h6.08v6.08h-6.08zM302.89 117.72h6.08v6.08h-6.08zM333.31 148.14h6.08v6.08h-6.08zM327.23 154.23h6.08v6.08h-6.08zM333.31 154.23h6.08v6.08h-6.08zM321.14 160.31h6.08v6.08h-6.08zM327.23 160.31h6.08v6.08h-6.08zM333.31 160.31h6.08v6.08h-6.08zM308.97 166.39h6.08v6.08h-6.08zM315.06 166.39h6.08v6.08h-6.08zM321.14 166.39h6.08v6.08h-6.08zM327.23 166.39h6.08v6.08h-6.08zM333.31 166.39h6.08v6.08h-6.08zM315.06 172.48h6.08v6.08h-6.08zM321.14 172.48h6.08v6.08h-6.08zM327.23 172.48h6.08v6.08h-6.08zM333.31 172.48h6.08v6.08h-6.08zM308.97 215.07h6.08v6.08h-6.08zM315.06 215.07h6.08v6.08h-6.08zM321.14 215.07h6.08v6.08h-6.08zM327.23 215.07h6.08v6.08h-6.08zM333.31 215.07h6.08v6.08h-6.08zM308.97 221.16h6.08v6.08h-6.08zM315.06 221.16h6.08v6.08h-6.08zM321.14 221.16h6.08v6.08h-6.08zM327.23 221.16h6.08v6.08h-6.08zM333.31 221.16h6.08v6.08h-6.08zM302.89 227.25h6.08v6.08h-6.08zM308.97 227.25h6.08v6.08h-6.08zM315.06 227.25h6.08v6.08h-6.08zM321.14 227.25h6.08v6.08h-6.08zM327.23 227.25h6.08v6.08h-6.08zM333.31 227.25h6.08v6.08h-6.08zM302.89 233.33h6.08v6.08h-6.08zM308.97 233.33h6.08v6.08h-6.08zM315.06 233.33h6.08v6.08h-6.08zM321.14 233.33h6.08v6.08h-6.08zM327.23 233.33h6.08v6.08h-6.08z" fill="#ff6e00"/>
<rect x="0" y="0" width="420" height="260" fill="url(#cg)"/>
</g>
<line x1="74.7" y1="23" x2="74.7" y2="350" stroke="#c4c4c4" stroke-opacity="0.8" stroke-width="1" stroke-dasharray="3 11" stroke-dashoffset="-5"/>
<line x1="74.7" y1="22.5" x2="74.7" y2="25" stroke="#444" stroke-width="0.8"/>
<line x1="74.7" y1="348.5" x2="74.7" y2="351" stroke="#444" stroke-width="0.8"/>
<line x1="135.6" y1="23" x2="135.6" y2="350" stroke="#c4c4c4" stroke-opacity="0.8" stroke-width="1" stroke-dasharray="3 11" stroke-dashoffset="-5"/>
<line x1="135.6" y1="22.5" x2="135.6" y2="25" stroke="#444" stroke-width="0.8"/>
<line x1="135.6" y1="348.5" x2="135.6" y2="351" stroke="#444" stroke-width="0.8"/>
<line x1="196.4" y1="23" x2="196.4" y2="350" stroke="#c4c4c4" stroke-opacity="0.8" stroke-width="1" stroke-dasharray="3 11" stroke-dashoffset="-5"/>
<line x1="196.4" y1="22.5" x2="196.4" y2="25" stroke="#444" stroke-width="0.8"/>
<line x1="196.4" y1="348.5" x2="196.4" y2="351" stroke="#444" stroke-width="0.8"/>
<line x1="257.2" y1="23" x2="257.2" y2="350" stroke="#c4c4c4" stroke-opacity="0.8" stroke-width="1" stroke-dasharray="3 11" stroke-dashoffset="-5"/>
<line x1="257.2" y1="22.5" x2="257.2" y2="25" stroke="#444" stroke-width="0.8"/>
<line x1="257.2" y1="348.5" x2="257.2" y2="351" stroke="#444" stroke-width="0.8"/>
<line x1="318.1" y1="23" x2="318.1" y2="350" stroke="#c4c4c4" stroke-opacity="0.8" stroke-width="1" stroke-dasharray="3 11" stroke-dashoffset="-5"/>
<line x1="318.1" y1="22.5" x2="318.1" y2="25" stroke="#444" stroke-width="0.8"/>
<line x1="318.1" y1="348.5" x2="318.1" y2="351" stroke="#444" stroke-width="0.8"/>
<line x1="378.9" y1="23" x2="378.9" y2="350" stroke="#c4c4c4" stroke-opacity="0.8" stroke-width="1" stroke-dasharray="3 11" stroke-dashoffset="-5"/>
<line x1="378.9" y1="22.5" x2="378.9" y2="25" stroke="#444" stroke-width="0.8"/>
<line x1="378.9" y1="348.5" x2="378.9" y2="351" stroke="#444" stroke-width="0.8"/>
<line x1="25" y1="306.4" x2="419" y2="306.4" stroke="#d6d6d6" stroke-opacity="0.8" stroke-width="1" stroke-dasharray="3.4 10.5" stroke-dashoffset="-1"/>
<line x1="25" y1="245.5" x2="419" y2="245.5" stroke="#d6d6d6" stroke-opacity="0.8" stroke-width="1" stroke-dasharray="3.4 10.5" stroke-dashoffset="-1"/>
<line x1="25" y1="184.7" x2="419" y2="184.7" stroke="#d6d6d6" stroke-opacity="0.8" stroke-width="1" stroke-dasharray="3.4 10.5" stroke-dashoffset="-1"/>
<line x1="25" y1="123.8" x2="419" y2="123.8" stroke="#d6d6d6" stroke-opacity="0.8" stroke-width="1" stroke-dasharray="3.4 10.5" stroke-dashoffset="-1"/>
<line x1="25" y1="63.0" x2="419" y2="63.0" stroke="#d6d6d6" stroke-opacity="0.8" stroke-width="1" stroke-dasharray="3.4 10.5" stroke-dashoffset="-1"/>
<polygon points="32.4,121.8 35.1,118.0 38.8,116.5 43.2,115.0 47.6,114.3 53.4,112.8 59.3,111.4 63.7,109.2 69.5,106.2 73.2,104.8 73.9,100.4 75.4,97.5 73.9,93.1 71.7,88.0 75.4,86.5 81.2,85.7 86.4,86.5 87.8,82.1 90.0,74.8 93.0,74.0 98.8,74.8 105.4,74.8 106.1,68.9 109.1,66.7 113.5,63.8 117.8,62.3 120.0,63.0 121.5,66.7 126.6,68.9 132.5,71.1 137.6,72.6 139.1,77.0 137.6,80.6 140.5,83.6 147.1,86.5 154.5,87.9 158.8,90.1 163.2,92.3 166.9,94.5 170.0,98.9 171.1,100.6 179.1,102.0 187.0,102.6 193.0,102.0 199.0,101.6 204.9,103.2 210.9,105.1 218.0,106.5 224.6,104.9 232.9,103.6 241.3,103.2 248.6,102.2 253.8,100.1 260.1,98.0 263.3,95.9 264.3,91.7 266.4,88.6 269.5,88.2 274.8,86.9 281.0,85.4 285.2,84.0 291.5,81.3 297.8,79.2 304.0,77.7 310.3,76.4 314.5,75.0 313.5,71.8 308.2,70.2 302.0,69.7 295.7,70.2 291.5,70.8 289.0,67.7 291.5,63.5 294.6,59.3 299.9,58.2 306.1,58.2 312.4,56.8 314.5,52.0 316.6,46.7 315.6,40.5 318.7,39.4 322.9,37.3 329.2,36.3 337.5,35.9 343.8,37.3 350.1,39.4 354.3,44.6 358.4,50.9 360.5,57.2 364.7,60.3 371.0,61.4 377.3,63.5 381.5,67.7 383.5,70.8 389.8,69.7 396.1,68.7 402.4,67.2 406.6,66.6 405.5,68.7 401.3,73.9 398.2,80.2 396.1,86.5 391.9,87.5 385.6,88.6 383.5,92.8 381.5,96.9 379.4,102.2 377.9,101.9 372.8,103.8 365.3,106.3 364.0,109.4 360.3,108.8 357.8,107.5 355.3,109.4 351.5,111.9 346.5,113.8 342.7,116.9 340.2,119.5 335.2,121.3 330.2,123.2 326.4,124.5 323.3,125.1 322.0,123.2 323.9,120.7 326.4,118.8 328.3,115.7 327.0,113.8 323.9,113.2 320.1,115.1 315.1,118.8 308.8,122.0 303.8,123.2 301.3,125.1 301.3,127.6 305.1,129.5 308.8,130.8 309.5,133.9 312.0,135.1 316.4,132.0 320.1,129.5 320.8,128.2 322.6,132.6 327.6,133.3 331.4,133.9 330.2,136.4 325.1,137.7 320.1,140.2 316.4,143.9 311.3,147.7 310.7,149.6 315.1,152.7 318.9,156.5 321.4,161.5 323.9,165.3 326.4,169.0 327.7,174.1 331.4,174.7 328.9,177.8 329.1,180.0 326.6,183.8 325.3,187.5 322.8,191.3 319.0,195.1 316.5,198.8 314.0,202.6 312.8,206.4 309.0,208.9 305.2,211.4 301.5,213.9 297.7,217.0 293.9,220.8 287.7,223.3 282.6,224.6 277.6,226.4 272.6,228.3 266.3,229.6 261.3,230.8 257.5,232.7 256.9,236.5 254.7,236.5 252.5,235.0 252.5,232.8 250.3,231.4 245.9,230.6 241.5,229.2 237.1,227.7 234.2,225.5 232.8,223.3 229.8,221.9 225.4,220.4 221.0,221.9 215.2,223.3 210.8,224.8 206.4,225.5 204.2,228.4 204.2,232.1 200.5,231.4 199.1,229.2 194.7,230.4 191.8,229.2 188.8,224.8 188.1,220.4 185.9,215.3 181.5,213.1 179.3,210.9 180.0,208.0 183.0,204.3 185.2,201.4 184.4,197.0 183.0,191.1 180.0,188.9 177.1,189.6 172.7,190.4 166.9,191.1 161.0,192.6 155.1,193.3 149.3,195.5 144.9,196.2 140.5,191.8 134.6,190.8 128.8,191.1 125.9,193.3 122.1,191.6 115.9,190.9 109.6,190.9 104.6,188.4 99.5,186.6 94.5,184.1 89.5,180.9 84.5,179.0 79.5,178.4 75.7,175.9 70.7,173.4 65.7,170.2 64.4,167.7 63.1,165.2 63.1,162.7 65.7,160.2 65.0,154.6 64.4,150.2 60.6,146.4 55.6,144.5 50.6,142.6 46.8,140.1 43.1,137.0 39.3,135.1 38.7,130.1 39.3,126.3 35.5,125.1 33.6,123.8" fill="none" stroke="#555" stroke-width="0.7"/>
<polygon points="245.9,243.8 248.9,241.6 253.3,240.2 257.6,239.4 260.0,240.2 258.8,244.0 255.0,247.8 251.8,249.7 247.4,248.2" fill="none" stroke="#555" stroke-width="0.7"/>
<polygon points="325.3,208.2 327.2,210.1 325.3,216.4 323.4,221.4 320.3,227.1 318.4,225.8 315.9,221.4 315.3,218.3 317.8,213.9 321.5,209.5" fill="none" stroke="#555" stroke-width="0.7"/>
<line x1="24.3" y1="22.5" x2="419.5" y2="22.5" stroke="#8c8c8c" stroke-width="1.2"/>
<line x1="24.3" y1="350.8" x2="419.5" y2="350.8" stroke="#8c8c8c" stroke-width="1.4"/>
<line x1="24.3" y1="22" x2="24.3" y2="351.3" stroke="#2a2a2a" stroke-width="1.3"/>
<line x1="419.4" y1="22" x2="419.4" y2="351.3" stroke="#111" stroke-width="1.3"/>
<text x="74.7" y="18.8" font-size="10.2" text-anchor="middle" fill="#222" style="font-family:'Liberation Serif',serif">80&#176;E</text>
<text x="74.7" y="363.8" font-size="10.2" text-anchor="middle" fill="#222" style="font-family:'Liberation Serif',serif">80&#176;E</text>
<text x="135.6" y="18.8" font-size="10.2" text-anchor="middle" fill="#222" style="font-family:'Liberation Serif',serif">90&#176;E</text>
<text x="135.6" y="363.8" font-size="10.2" text-anchor="middle" fill="#222" style="font-family:'Liberation Serif',serif">90&#176;E</text>
<text x="196.4" y="18.8" font-size="10.2" text-anchor="middle" fill="#222" style="font-family:'Liberation Serif',serif">100&#176;E</text>
<text x="196.4" y="363.8" font-size="10.2" text-anchor="middle" fill="#222" style="font-family:'Liberation Serif',serif">100&#176;E</text>
<text x="257.2" y="18.8" font-size="10.2" text-anchor="middle" fill="#222" style="font-family:'Liberation Serif',serif">110&#176;E</text>
<text x="257.2" y="363.8" font-size="10.2" text-anchor="middle" fill="#222" style="font-family:'Liberation Serif',serif">110&#176;E</text>
<text x="318.1" y="18.8" font-size="10.2" text-anchor="middle" fill="#222" style="font-family:'Liberation Serif',serif">120&#176;E</text>
<text x="318.1" y="363.8" font-size="10.2" text-anchor="middle" fill="#222" style="font-family:'Liberation Serif',serif">120&#176;E</text>
<text x="378.9" y="18.8" font-size="10.2" text-anchor="middle" fill="#222" style="font-family:'Liberation Serif',serif">130&#176;E</text>
<text x="378.9" y="363.8" font-size="10.2" text-anchor="middle" fill="#222" style="font-family:'Liberation Serif',serif">130&#176;E</text>
<text transform="translate(21.3,306.4) rotate(-90)" font-size="10.2" text-anchor="middle" fill="#222" style="font-family:'Liberation Serif',serif">10&#176;N</text>
<text transform="translate(433.2,306.4) rotate(-90)" font-size="10.2" text-anchor="middle" fill="#222" style="font-family:'Liberation Serif',serif">10&#176;N</text>
<text transform="translate(21.3,245.5) rotate(-90)" font-size="10.2" text-anchor="middle" fill="#222" style="font-family:'Liberation Serif',serif">20&#176;N</text>
<text transform="translate(433.2,245.5) rotate(-90)" font-size="10.2" text-anchor="middle" fill="#222" style="font-family:'Liberation Serif',serif">20&#176;N</text>
<text transform="translate(21.3,184.7) rotate(-90)" font-size="10.2" text-anchor="middle" fill="#222" style="font-family:'Liberation Serif',serif">30&#176;N</text>
<text transform="translate(433.2,184.7) rotate(-90)" font-size="10.2" text-anchor="middle" fill="#222" style="font-family:'Liberation Serif',serif">30&#176;N</text>
<text transform="translate(21.3,123.8) rotate(-90)" font-size="10.2" text-anchor="middle" fill="#222" style="font-family:'Liberation Serif',serif">40&#176;N</text>
<text transform="translate(433.2,123.8) rotate(-90)" font-size="10.2" text-anchor="middle" fill="#222" style="font-family:'Liberation Serif',serif">40&#176;N</text>
<text transform="translate(21.3,63.0) rotate(-90)" font-size="10.2" text-anchor="middle" fill="#222" style="font-family:'Liberation Serif',serif">50&#176;N</text>
<text transform="translate(433.2,63.0) rotate(-90)" font-size="10.2" text-anchor="middle" fill="#222" style="font-family:'Liberation Serif',serif">50&#176;N</text>
<text x="407" y="32.3" font-size="6.5" font-weight="bold" text-anchor="middle" fill="#1a1a1a" style="font-family:'Liberation Sans',sans-serif">N</text>
<path d="M406.5 34L402.4 48.6L407.2 44.2Z" fill="#111"/>
<path d="M406.5 34L411.1 48.8L407.2 44.2Z" fill="none" stroke="#222" stroke-width="0.7"/>
<text x="35.9" y="226.9" font-size="11.3" fill="#111" style="font-family:'Liberation Serif',serif">XCO<tspan font-size="7.4" dy="1.9">2ano</tspan><tspan dy="-1.9">(ppm)</tspan></text>
<rect x="30" y="235.2" width="28.4" height="13.7" fill="#0000fc" stroke="#8a8a8a" stroke-width="0.4"/>
<rect x="133.2" y="235.2" width="28" height="13.7" fill="#d2fa6e" stroke="#8a8a8a" stroke-width="0.4"/>
<text x="63.3" y="246.3" font-size="11.2" fill="#111" style="font-family:'Liberation Serif',serif">&#8722;1.55 &#8722; &#8722;0.57</text>
<text x="166.1" y="246.3" font-size="11.2" fill="#111" style="font-family:'Liberation Serif',serif">0.73 &#8722; 1.08</text>
<rect x="30" y="254.1" width="28.4" height="13.7" fill="#3b5efc" stroke="#8a8a8a" stroke-width="0.4"/>
<rect x="133.2" y="254.1" width="28" height="13.7" fill="#ffff00" stroke="#8a8a8a" stroke-width="0.4"/>
<text x="63.3" y="265.2" font-size="11.2" fill="#111" style="font-family:'Liberation Serif',serif">&#8722;0.56 &#8722; &#8722;0.16</text>
<text x="166.1" y="265.2" font-size="11.2" fill="#111" style="font-family:'Liberation Serif',serif">1.09 &#8722; 1.46</text>
<rect x="30" y="273.0" width="28.4" height="13.7" fill="#3aa8fc" stroke="#8a8a8a" stroke-width="0.4"/>
<rect x="133.2" y="273.0" width="28" height="13.7" fill="#ffb400" stroke="#8a8a8a" stroke-width="0.4"/>
<text x="63.3" y="284.1" font-size="11.2" fill="#111" style="font-family:'Liberation Serif',serif">&#8722;0.15 &#8722; 0.14</text>
<text x="166.1" y="284.1" font-size="11.2" fill="#111" style="font-family:'Liberation Serif',serif">1.47 &#8722; 1.85</text>
<rect x="30" y="291.9" width="28.4" height="13.7" fill="#00fcfc" stroke="#8a8a8a" stroke-width="0.4"/>
<rect x="133.2" y="291.9" width="28" height="13.7" fill="#ff6e00" stroke="#8a8a8a" stroke-width="0.4"/>
<text x="63.3" y="303.0" font-size="11.2" fill="#111" style="font-family:'Liberation Serif',serif">0.15 &#8722; 0.41</text>
<text x="166.1" y="303.0" font-size="11.2" fill="#111" style="font-family:'Liberation Serif',serif">1.86 &#8722; 2.28</text>
<rect x="30" y="310.8" width="28.4" height="13.7" fill="#96fbb4" stroke="#8a8a8a" stroke-width="0.4"/>
<rect x="133.2" y="310.8" width="28" height="13.7" fill="#ff0000" stroke="#8a8a8a" stroke-width="0.4"/>
<text x="63.3" y="321.9" font-size="11.2" fill="#111" style="font-family:'Liberation Serif',serif">0.42 &#8722; 0.72</text>
<text x="166.1" y="321.9" font-size="11.2" fill="#111" style="font-family:'Liberation Serif',serif">2.29 &#8722; 3.24</text>
<rect x="27.6" y="330.2" width="18.2" height="9" fill="#fff" stroke="#777" stroke-width="0.6"/>
<text x="49.6" y="338.6" font-size="10.9" fill="#111" style="font-family:'Liberation Serif',serif">National boundaries</text>
<rect x="148.2" y="330.2" width="17.8" height="9" fill="url(#hatch)" stroke="#777" stroke-width="0.6"/>
<text x="170" y="338.6" font-size="10.9" fill="#111" style="font-family:'Liberation Serif',serif">Background area</text>
<rect x="295.3" y="339.6" width="41.7" height="3.8" fill="#000"/>
<rect x="337" y="339.9" width="41.6" height="3.3" fill="#fff" stroke="#000" stroke-width="0.6"/>
<text x="295.8" y="334.9" font-size="10" text-anchor="middle" fill="#111" style="font-family:'Liberation Serif',serif">0</text>
<text x="337.2" y="334.9" font-size="10" text-anchor="middle" fill="#111" style="font-family:'Liberation Serif',serif">750</text>
<text x="368.9" y="334.9" font-size="10" fill="#111" style="font-family:'Liberation Serif',serif">1500 km</text>
<text transform="translate(221.9,388.1) scale(1,1.06)" font-size="19.5" text-anchor="middle" fill="#111" style="font-family:'Liberation Serif',serif">(<tspan font-weight="bold">h</tspan>) 2017</text>
<line x1="311.5" y1="251.5" x2="315.1" y2="246.6" stroke="#1a1a1a" stroke-width="0.9"/>
<line x1="250.0" y1="263.5" x2="253.7" y2="268.8" stroke="#1a1a1a" stroke-width="0.9"/>
<line x1="309.6" y1="264.1" x2="309.6" y2="270.3" stroke="#1a1a1a" stroke-width="0.9"/>
<line x1="254.4" y1="293.2" x2="256.6" y2="287.3" stroke="#1a1a1a" stroke-width="0.9"/>
<line x1="306.4" y1="295.0" x2="308.6" y2="289.2" stroke="#1a1a1a" stroke-width="0.9"/>
<line x1="288.4" y1="317.7" x2="292.5" y2="312.6" stroke="#1a1a1a" stroke-width="0.9"/>
<line x1="251.5" y1="315.9" x2="253.7" y2="315.1" stroke="#1a1a1a" stroke-width="0.9"/>
<line x1="263.5" y1="315.1" x2="264.6" y2="313.3" stroke="#1a1a1a" stroke-width="0.9"/>
<line x1="269.0" y1="327.6" x2="269.4" y2="326.1" stroke="#1a1a1a" stroke-width="0.9"/>
<line x1="264.3" y1="308.2" x2="272.0" y2="307.5" stroke="#1a1a1a" stroke-width="0.9"/>
<line x1="274.9" y1="306.4" x2="280.7" y2="308.5" stroke="#1a1a1a" stroke-width="0.9"/>
<line x1="277.8" y1="313.0" x2="277.8" y2="316.2" stroke="#1a1a1a" stroke-width="0.9"/>
<line x1="282.2" y1="311.8" x2="286.2" y2="310.4" stroke="#1a1a1a" stroke-width="0.9"/>
<line x1="276.4" y1="299.8" x2="277.8" y2="300.5" stroke="#1a1a1a" stroke-width="0.9"/>
<line x1="280.0" y1="302.0" x2="282.2" y2="301.2" stroke="#1a1a1a" stroke-width="0.9"/>
<line x1="279.3" y1="299.0" x2="282.2" y2="298.3" stroke="#1a1a1a" stroke-width="0.9"/>
<line x1="279.3" y1="294.6" x2="280.7" y2="295.4" stroke="#1a1a1a" stroke-width="0.9"/>
<line x1="283.7" y1="293.5" x2="284.4" y2="295.4" stroke="#1a1a1a" stroke-width="0.9"/>
<line x1="297.6" y1="296.5" x2="300.5" y2="296.5" stroke="#1a1a1a" stroke-width="0.9"/>
<line x1="296.1" y1="295.4" x2="296.6" y2="293.5" stroke="#1a1a1a" stroke-width="0.9"/>
<line x1="337.9" y1="203.2" x2="336.6" y2="204.5" stroke="#1a1a1a" stroke-width="0.9"/>
<line x1="332.2" y1="212.6" x2="330.3" y2="218.3" stroke="#1a1a1a" stroke-width="0.9"/>
<line x1="326.6" y1="229.6" x2="322.2" y2="234.6" stroke="#1a1a1a" stroke-width="0.9"/>
<line x1="311.5" y1="217.7" x2="312.3" y2="220.2" stroke="#1a1a1a" stroke-width="0.9"/>
<line x1="268.8" y1="325.8" x2="269.4" y2="327.9" stroke="#1a1a1a" stroke-width="0.9"/>
<ellipse cx="280.3" cy="265.1" rx="3.7" ry="1.3" transform="rotate(-25 280.3 265.1)" fill="none" stroke="#222" stroke-width="0.8"/>
<circle cx="263.6" cy="257.3" r="0.6" fill="#222"/>
<circle cx="265.7" cy="258.4" r="0.6" fill="#222"/>
<circle cx="269.9" cy="259.6" r="0.6" fill="#222"/>
<circle cx="263.1" cy="262.5" r="0.6" fill="#222"/>
<circle cx="264.6" cy="262.0" r="0.6" fill="#222"/>
<circle cx="269.4" cy="263.9" r="0.6" fill="#222"/>
<circle cx="301.3" cy="269.3" r="0.6" fill="#222"/>
<circle cx="295.5" cy="262.5" r="0.6" fill="#222"/>
<circle cx="295.8" cy="235.9" r="0.6" fill="#222"/>
<circle cx="324.0" cy="227.1" r="0.6" fill="#222"/>
<circle cx="255.1" cy="310.7" r="0.6" fill="#222"/>
<circle cx="257.0" cy="312.2" r="0.6" fill="#222"/>
<circle cx="257.3" cy="314.0" r="0.6" fill="#222"/>
<circle cx="282.2" cy="307.5" r="0.6" fill="#222"/>
<circle cx="274.2" cy="311.5" r="0.6" fill="#222"/>
<circle cx="272.0" cy="303.1" r="0.6" fill="#222"/>
<circle cx="280.4" cy="292.1" r="0.6" fill="#222"/>
<circle cx="286.6" cy="299.4" r="0.6" fill="#222"/>
<circle cx="289.2" cy="297.2" r="0.6" fill="#222"/>
<circle cx="292.1" cy="296.5" r="0.6" fill="#222"/>
<circle cx="293.9" cy="298.3" r="0.6" fill="#222"/>
<circle cx="287.3" cy="304.2" r="0.6" fill="#222"/>
<circle cx="290.3" cy="302.0" r="0.6" fill="#222"/>
<circle cx="293.9" cy="302.0" r="0.6" fill="#222"/>
<circle cx="296.1" cy="304.2" r="0.6" fill="#222"/>
<circle cx="292.5" cy="307.5" r="0.6" fill="#222"/>
<circle cx="293.9" cy="305.6" r="0.6" fill="#222"/>
<circle cx="301.6" cy="295.7" r="0.6" fill="#222"/>
<circle cx="284.5" cy="303.0" r="0.6" fill="#222"/>
<circle cx="288.5" cy="300.5" r="0.6" fill="#222"/>
</g>
<g transform="translate(0.0,776.6)">
<g clip-path="url(#cl)">
<path d="M296.80 38.61h6.08v6.08h-6.08zM302.89 38.61h6.08v6.08h-6.08zM308.97 38.61h6.08v6.08h-6.08zM315.06 38.61h6.08v6.08h-6.08zM321.14 38.61h6.08v6.08h-6.08zM339.40 38.61h6.08v6.08h-6.08zM345.48 38.61h6.08v6.08h-6.08zM351.57 38.61h6.08v6.08h-6.08zM357.65 38.61h6.08v6.08h-6.08zM296.80 44.70h6.08v6.08h-6.08zM302.89 44.70h6.08v6.08h-6.08zM308.97 44.70h6.08v6.08h-6.08zM315.06 44.70h6.08v6.08h-6.08zM351.57 44.70h6.08v6.08h-6.08zM375.91 44.70h6.08v6.08h-6.08zM381.99 44.70h6.08v6.08h-6.08zM302.89 50.78h6.08v6.08h-6.08zM308.97 50.78h6.08v6.08h-6.08zM315.06 50.78h6.08v6.08h-6.08zM321.14 50.78h6.08v6.08h-6.08zM369.82 50.78h6.08v6.08h-6.08zM375.91 50.78h6.08v6.08h-6.08zM381.99 50.78h6.08v6.08h-6.08zM308.97 56.87h6.08v6.08h-6.08zM315.06 56.87h6.08v6.08h-6.08zM351.57 56.87h6.08v6.08h-6.08zM363.74 56.87h6.08v6.08h-6.08zM369.82 56.87h6.08v6.08h-6.08zM375.91 56.87h6.08v6.08h-6.08zM308.97 62.95h6.08v6.08h-6.08zM315.06 62.95h6.08v6.08h-6.08zM321.14 62.95h6.08v6.08h-6.08zM327.23 62.95h6.08v6.08h-6.08zM333.31 62.95h6.08v6.08h-6.08zM339.40 62.95h6.08v6.08h-6.08zM345.48 62.95h6.08v6.08h-6.08zM351.57 62.95h6.08v6.08h-6.08zM357.65 62.95h6.08v6.08h-6.08zM363.74 62.95h6.08v6.08h-6.08zM369.82 62.95h6.08v6.08h-6.08zM308.97 69.03h6.08v6.08h-6.08zM315.06 69.03h6.08v6.08h-6.08zM321.14 69.03h6.08v6.08h-6.08zM327.23 69.03h6.08v6.08h-6.08zM333.31 69.03h6.08v6.08h-6.08zM339.40 69.03h6.08v6.08h-6.08zM345.48 69.03h6.08v6.08h-6.08zM351.57 69.03h6.08v6.08h-6.08zM114.25 75.12h6.08v6.08h-6.08zM120.34 75.12h6.08v6.08h-6.08zM156.85 75.12h6.08v6.08h-6.08zM162.93 75.12h6.08v6.08h-6.08zM169.02 75.12h6.08v6.08h-6.08zM308.97 75.12h6.08v6.08h-6.08zM315.06 75.12h6.08v6.08h-6.08zM333.31 75.12h6.08v6.08h-6.08zM339.40 75.12h6.08v6.08h-6.08zM83.83 81.20h6.08v6.08h-6.08zM89.91 81.20h6.08v6.08h-6.08zM96.00 81.20h6.08v6.08h-6.08zM102.08 81.20h6.08v6.08h-6.08zM108.17 81.20h6.08v6.08h-6.08zM114.25 81.20h6.08v6.08h-6.08zM120.34 81.20h6.08v6.08h-6.08zM138.59 81.20h6.08v6.08h-6.08zM144.68 81.20h6.08v6.08h-6.08zM156.85 81.20h6.08v6.08h-6.08zM162.93 81.20h6.08v6.08h-6.08zM169.02 81.20h6.08v6.08h-6.08zM308.97 81.20h6.08v6.08h-6.08zM315.06 81.20h6.08v6.08h-6.08zM333.31 81.20h6.08v6.08h-6.08zM339.40 81.20h6.08v6.08h-6.08zM89.91 87.29h6.08v6.08h-6.08zM96.00 87.29h6.08v6.08h-6.08zM102.08 87.29h6.08v6.08h-6.08zM108.17 87.29h6.08v6.08h-6.08zM138.59 87.29h6.08v6.08h-6.08zM144.68 87.29h6.08v6.08h-6.08zM156.85 87.29h6.08v6.08h-6.08zM162.93 87.29h6.08v6.08h-6.08zM187.27 87.29h6.08v6.08h-6.08zM193.36 87.29h6.08v6.08h-6.08zM302.89 87.29h6.08v6.08h-6.08zM321.14 87.29h6.08v6.08h-6.08zM327.23 87.29h6.08v6.08h-6.08zM333.31 87.29h6.08v6.08h-6.08zM150.76 93.38h6.08v6.08h-6.08zM156.85 93.38h6.08v6.08h-6.08zM187.27 93.38h6.08v6.08h-6.08zM193.36 93.38h6.08v6.08h-6.08zM248.12 93.38h6.08v6.08h-6.08zM254.21 93.38h6.08v6.08h-6.08zM284.63 93.38h6.08v6.08h-6.08zM327.23 93.38h6.08v6.08h-6.08zM114.25 99.46h6.08v6.08h-6.08zM138.59 99.46h6.08v6.08h-6.08zM144.68 99.46h6.08v6.08h-6.08zM150.76 99.46h6.08v6.08h-6.08zM156.85 99.46h6.08v6.08h-6.08zM187.27 99.46h6.08v6.08h-6.08zM193.36 99.46h6.08v6.08h-6.08zM254.21 99.46h6.08v6.08h-6.08zM266.38 99.46h6.08v6.08h-6.08zM272.46 99.46h6.08v6.08h-6.08zM278.55 99.46h6.08v6.08h-6.08zM89.91 105.55h6.08v6.08h-6.08zM96.00 105.55h6.08v6.08h-6.08zM138.59 105.55h6.08v6.08h-6.08zM150.76 105.55h6.08v6.08h-6.08zM162.93 105.55h6.08v6.08h-6.08zM65.57 111.63h6.08v6.08h-6.08zM71.66 111.63h6.08v6.08h-6.08zM89.91 111.63h6.08v6.08h-6.08zM138.59 111.63h6.08v6.08h-6.08zM156.85 111.63h6.08v6.08h-6.08zM162.93 111.63h6.08v6.08h-6.08zM169.02 111.63h6.08v6.08h-6.08zM47.32 117.72h6.08v6.08h-6.08zM65.57 117.72h6.08v6.08h-6.08zM71.66 117.72h6.08v6.08h-6.08zM223.78 117.72h6.08v6.08h-6.08zM242.04 117.72h6.08v6.08h-6.08zM47.32 123.80h6.08v6.08h-6.08zM53.40 123.80h6.08v6.08h-6.08zM71.66 123.80h6.08v6.08h-6.08zM242.04 123.80h6.08v6.08h-6.08zM41.23 129.88h6.08v6.08h-6.08zM47.32 129.88h6.08v6.08h-6.08zM71.66 129.88h6.08v6.08h-6.08zM235.95 129.88h6.08v6.08h-6.08zM242.04 129.88h6.08v6.08h-6.08zM205.53 135.97h6.08v6.08h-6.08zM223.78 135.97h6.08v6.08h-6.08zM229.87 135.97h6.08v6.08h-6.08zM235.95 135.97h6.08v6.08h-6.08zM242.04 135.97h6.08v6.08h-6.08zM205.53 142.06h6.08v6.08h-6.08zM211.61 142.06h6.08v6.08h-6.08zM217.70 142.06h6.08v6.08h-6.08zM229.87 142.06h6.08v6.08h-6.08zM235.95 142.06h6.08v6.08h-6.08zM242.04 142.06h6.08v6.08h-6.08zM229.87 148.14h6.08v6.08h-6.08zM235.95 148.14h6.08v6.08h-6.08zM242.04 148.14h6.08v6.08h-6.08zM65.57 154.23h6.08v6.08h-6.08zM169.02 154.23h6.08v6.08h-6.08zM175.10 154.23h6.08v6.08h-6.08zM223.78 154.23h6.08v6.08h-6.08zM169.02 160.31h6.08v6.08h-6.08zM217.70 160.31h6.08v6.08h-6.08zM242.04 160.31h6.08v6.08h-6.08zM248.12 160.31h6.08v6.08h-6.08zM162.93 166.39h6.08v6.08h-6.08zM211.61 166.39h6.08v6.08h-6.08zM169.02 172.48h6.08v6.08h-6.08zM211.61 172.48h6.08v6.08h-6.08zM254.21 172.48h6.08v6.08h-6.08zM217.70 178.56h6.08v6.08h-6.08zM254.21 178.56h6.08v6.08h-6.08zM144.68 184.65h6.08v6.08h-6.08zM217.70 184.65h6.08v6.08h-6.08zM254.21 184.65h6.08v6.08h-6.08zM150.76 190.74h6.08v6.08h-6.08zM156.85 190.74h6.08v6.08h-6.08zM254.21 190.74h6.08v6.08h-6.08zM150.76 196.82h6.08v6.08h-6.08zM156.85 196.82h6.08v6.08h-6.08zM229.87 196.82h6.08v6.08h-6.08zM235.95 196.82h6.08v6.08h-6.08zM248.12 196.82h6.08v6.08h-6.08zM150.76 202.91h6.08v6.08h-6.08zM156.85 202.91h6.08v6.08h-6.08zM229.87 202.91h6.08v6.08h-6.08zM235.95 202.91h6.08v6.08h-6.08zM242.04 202.91h6.08v6.08h-6.08zM248.12 202.91h6.08v6.08h-6.08zM162.93 208.99h6.08v6.08h-6.08zM169.02 208.99h6.08v6.08h-6.08zM175.10 208.99h6.08v6.08h-6.08zM229.87 208.99h6.08v6.08h-6.08zM235.95 208.99h6.08v6.08h-6.08zM242.04 208.99h6.08v6.08h-6.08zM248.12 208.99h6.08v6.08h-6.08zM162.93 215.07h6.08v6.08h-6.08zM169.02 215.07h6.08v6.08h-6.08zM175.10 215.07h6.08v6.08h-6.08zM229.87 215.07h6.08v6.08h-6.08zM242.04 215.07h6.08v6.08h-6.08zM248.12 215.07h6.08v6.08h-6.08zM162.93 221.16h6.08v6.08h-6.08zM169.02 221.16h6.08v6.08h-6.08zM223.78 221.16h6.08v6.08h-6.08zM229.87 221.16h6.08v6.08h-6.08zM235.95 221.16h6.08v6.08h-6.08zM242.04 221.16h6.08v6.08h-6.08zM248.12 221.16h6.08v6.08h-6.08zM254.21 221.16h6.08v6.08h-6.08zM217.70 227.25h6.08v6.08h-6.08zM223.78 227.25h6.08v6.08h-6.08zM229.87 227.25h6.08v6.08h-6.08zM235.95 227.25h6.08v6.08h-6.08zM242.04 227.25h6.08v6.08h-6.08zM254.21 227.25h6.08v6.08h-6.08zM260.29 227.25h6.08v6.08h-6.08zM217.70 233.33h6.08v6.08h-6.08zM223.78 233.33h6.08v6.08h-6.08zM229.87 233.33h6.08v6.08h-6.08zM235.95 233.33h6.08v6.08h-6.08z" fill="#3aa8fc"/>
<path d="M327.23 38.61h6.08v6.08h-6.08zM333.31 38.61h6.08v6.08h-6.08zM363.74 38.61h6.08v6.08h-6.08zM369.82 38.61h6.08v6.08h-6.08zM321.14 44.70h6.08v6.08h-6.08zM333.31 44.70h6.08v6.08h-6.08zM357.65 44.70h6.08v6.08h-6.08zM363.74 44.70h6.08v6.08h-6.08zM369.82 44.70h6.08v6.08h-6.08zM327.23 50.78h6.08v6.08h-6.08zM333.31 50.78h6.08v6.08h-6.08zM351.57 50.78h6.08v6.08h-6.08zM357.65 50.78h6.08v6.08h-6.08zM363.74 50.78h6.08v6.08h-6.08zM388.08 50.78h6.08v6.08h-6.08zM321.14 56.87h6.08v6.08h-6.08zM333.31 56.87h6.08v6.08h-6.08zM339.40 56.87h6.08v6.08h-6.08zM345.48 56.87h6.08v6.08h-6.08zM357.65 56.87h6.08v6.08h-6.08zM381.99 56.87h6.08v6.08h-6.08zM388.08 56.87h6.08v6.08h-6.08zM375.91 62.95h6.08v6.08h-6.08zM381.99 62.95h6.08v6.08h-6.08zM388.08 62.95h6.08v6.08h-6.08zM357.65 69.03h6.08v6.08h-6.08zM363.74 69.03h6.08v6.08h-6.08zM369.82 69.03h6.08v6.08h-6.08zM375.91 69.03h6.08v6.08h-6.08zM381.99 69.03h6.08v6.08h-6.08zM388.08 69.03h6.08v6.08h-6.08zM321.14 75.12h6.08v6.08h-6.08zM327.23 75.12h6.08v6.08h-6.08zM345.48 75.12h6.08v6.08h-6.08zM351.57 75.12h6.08v6.08h-6.08zM321.14 81.20h6.08v6.08h-6.08zM327.23 81.20h6.08v6.08h-6.08zM345.48 81.20h6.08v6.08h-6.08zM351.57 81.20h6.08v6.08h-6.08zM114.25 87.29h6.08v6.08h-6.08zM126.42 87.29h6.08v6.08h-6.08zM132.51 87.29h6.08v6.08h-6.08zM181.19 87.29h6.08v6.08h-6.08zM199.44 87.29h6.08v6.08h-6.08zM205.53 87.29h6.08v6.08h-6.08zM211.61 87.29h6.08v6.08h-6.08zM308.97 87.29h6.08v6.08h-6.08zM315.06 87.29h6.08v6.08h-6.08zM339.40 87.29h6.08v6.08h-6.08zM345.48 87.29h6.08v6.08h-6.08zM351.57 87.29h6.08v6.08h-6.08zM114.25 93.38h6.08v6.08h-6.08zM138.59 93.38h6.08v6.08h-6.08zM144.68 93.38h6.08v6.08h-6.08zM181.19 93.38h6.08v6.08h-6.08zM199.44 93.38h6.08v6.08h-6.08zM205.53 93.38h6.08v6.08h-6.08zM290.72 93.38h6.08v6.08h-6.08zM296.80 93.38h6.08v6.08h-6.08zM302.89 93.38h6.08v6.08h-6.08zM308.97 93.38h6.08v6.08h-6.08zM315.06 93.38h6.08v6.08h-6.08zM321.14 93.38h6.08v6.08h-6.08zM333.31 93.38h6.08v6.08h-6.08zM339.40 93.38h6.08v6.08h-6.08zM120.34 99.46h6.08v6.08h-6.08zM126.42 99.46h6.08v6.08h-6.08zM132.51 99.46h6.08v6.08h-6.08zM181.19 99.46h6.08v6.08h-6.08zM199.44 99.46h6.08v6.08h-6.08zM229.87 99.46h6.08v6.08h-6.08zM235.95 99.46h6.08v6.08h-6.08zM284.63 99.46h6.08v6.08h-6.08zM345.48 99.46h6.08v6.08h-6.08zM351.57 99.46h6.08v6.08h-6.08zM357.65 99.46h6.08v6.08h-6.08zM363.74 99.46h6.08v6.08h-6.08zM102.08 105.55h6.08v6.08h-6.08zM108.17 105.55h6.08v6.08h-6.08zM114.25 105.55h6.08v6.08h-6.08zM120.34 105.55h6.08v6.08h-6.08zM132.51 105.55h6.08v6.08h-6.08zM156.85 105.55h6.08v6.08h-6.08zM229.87 105.55h6.08v6.08h-6.08zM235.95 105.55h6.08v6.08h-6.08zM254.21 105.55h6.08v6.08h-6.08zM260.29 105.55h6.08v6.08h-6.08zM266.38 105.55h6.08v6.08h-6.08zM272.46 105.55h6.08v6.08h-6.08zM357.65 105.55h6.08v6.08h-6.08zM363.74 105.55h6.08v6.08h-6.08zM77.74 111.63h6.08v6.08h-6.08zM83.83 111.63h6.08v6.08h-6.08zM96.00 111.63h6.08v6.08h-6.08zM357.65 111.63h6.08v6.08h-6.08zM363.74 111.63h6.08v6.08h-6.08zM369.82 111.63h6.08v6.08h-6.08zM53.40 117.72h6.08v6.08h-6.08zM59.49 117.72h6.08v6.08h-6.08zM83.83 117.72h6.08v6.08h-6.08zM89.91 117.72h6.08v6.08h-6.08zM120.34 117.72h6.08v6.08h-6.08zM235.95 117.72h6.08v6.08h-6.08zM248.12 117.72h6.08v6.08h-6.08zM357.65 117.72h6.08v6.08h-6.08zM363.74 117.72h6.08v6.08h-6.08zM369.82 117.72h6.08v6.08h-6.08zM89.91 123.80h6.08v6.08h-6.08zM96.00 123.80h6.08v6.08h-6.08zM235.95 123.80h6.08v6.08h-6.08zM248.12 123.80h6.08v6.08h-6.08zM77.74 129.88h6.08v6.08h-6.08zM83.83 129.88h6.08v6.08h-6.08zM217.70 129.88h6.08v6.08h-6.08zM229.87 129.88h6.08v6.08h-6.08zM248.12 129.88h6.08v6.08h-6.08zM211.61 135.97h6.08v6.08h-6.08zM217.70 135.97h6.08v6.08h-6.08zM248.12 135.97h6.08v6.08h-6.08zM248.12 142.06h6.08v6.08h-6.08zM248.12 148.14h6.08v6.08h-6.08zM254.21 148.14h6.08v6.08h-6.08zM229.87 154.23h6.08v6.08h-6.08zM235.95 154.23h6.08v6.08h-6.08zM242.04 154.23h6.08v6.08h-6.08zM248.12 154.23h6.08v6.08h-6.08zM254.21 154.23h6.08v6.08h-6.08zM223.78 160.31h6.08v6.08h-6.08zM229.87 160.31h6.08v6.08h-6.08zM235.95 160.31h6.08v6.08h-6.08zM254.21 160.31h6.08v6.08h-6.08zM217.70 166.39h6.08v6.08h-6.08zM223.78 166.39h6.08v6.08h-6.08zM229.87 166.39h6.08v6.08h-6.08zM235.95 166.39h6.08v6.08h-6.08zM242.04 166.39h6.08v6.08h-6.08zM248.12 166.39h6.08v6.08h-6.08zM254.21 166.39h6.08v6.08h-6.08zM217.70 172.48h6.08v6.08h-6.08zM223.78 172.48h6.08v6.08h-6.08zM235.95 172.48h6.08v6.08h-6.08zM242.04 172.48h6.08v6.08h-6.08zM248.12 172.48h6.08v6.08h-6.08zM260.29 172.48h6.08v6.08h-6.08zM223.78 178.56h6.08v6.08h-6.08zM242.04 178.56h6.08v6.08h-6.08zM248.12 178.56h6.08v6.08h-6.08zM260.29 178.56h6.08v6.08h-6.08zM266.38 178.56h6.08v6.08h-6.08zM114.25 184.65h6.08v6.08h-6.08zM156.85 184.65h6.08v6.08h-6.08zM235.95 184.65h6.08v6.08h-6.08zM242.04 184.65h6.08v6.08h-6.08zM248.12 184.65h6.08v6.08h-6.08zM260.29 184.65h6.08v6.08h-6.08zM266.38 184.65h6.08v6.08h-6.08zM223.78 190.74h6.08v6.08h-6.08zM229.87 190.74h6.08v6.08h-6.08zM235.95 190.74h6.08v6.08h-6.08zM242.04 190.74h6.08v6.08h-6.08zM248.12 190.74h6.08v6.08h-6.08zM260.29 190.74h6.08v6.08h-6.08zM242.04 196.82h6.08v6.08h-6.08zM254.21 196.82h6.08v6.08h-6.08zM333.31 196.82h6.08v6.08h-6.08zM205.53 202.91h6.08v6.08h-6.08zM211.61 202.91h6.08v6.08h-6.08zM254.21 202.91h6.08v6.08h-6.08zM321.14 202.91h6.08v6.08h-6.08zM327.23 202.91h6.08v6.08h-6.08zM333.31 202.91h6.08v6.08h-6.08zM205.53 208.99h6.08v6.08h-6.08zM211.61 208.99h6.08v6.08h-6.08zM217.70 208.99h6.08v6.08h-6.08zM254.21 208.99h6.08v6.08h-6.08zM321.14 208.99h6.08v6.08h-6.08zM327.23 208.99h6.08v6.08h-6.08zM333.31 208.99h6.08v6.08h-6.08zM211.61 215.07h6.08v6.08h-6.08zM217.70 215.07h6.08v6.08h-6.08zM235.95 215.07h6.08v6.08h-6.08zM254.21 215.07h6.08v6.08h-6.08zM211.61 221.16h6.08v6.08h-6.08zM217.70 221.16h6.08v6.08h-6.08z" fill="#00fcfc"/>
<path d="M278.55 44.70h6.08v6.08h-6.08zM284.63 44.70h6.08v6.08h-6.08zM290.72 44.70h6.08v6.08h-6.08zM96.00 50.78h6.08v6.08h-6.08zM102.08 50.78h6.08v6.08h-6.08zM108.17 50.78h6.08v6.08h-6.08zM114.25 50.78h6.08v6.08h-6.08zM120.34 50.78h6.08v6.08h-6.08zM126.42 50.78h6.08v6.08h-6.08zM272.46 50.78h6.08v6.08h-6.08zM278.55 50.78h6.08v6.08h-6.08zM284.63 50.78h6.08v6.08h-6.08zM290.72 50.78h6.08v6.08h-6.08zM296.80 50.78h6.08v6.08h-6.08zM89.91 56.87h6.08v6.08h-6.08zM96.00 56.87h6.08v6.08h-6.08zM102.08 56.87h6.08v6.08h-6.08zM108.17 56.87h6.08v6.08h-6.08zM114.25 56.87h6.08v6.08h-6.08zM120.34 56.87h6.08v6.08h-6.08zM126.42 56.87h6.08v6.08h-6.08zM132.51 56.87h6.08v6.08h-6.08zM138.59 56.87h6.08v6.08h-6.08zM272.46 56.87h6.08v6.08h-6.08zM278.55 56.87h6.08v6.08h-6.08zM284.63 56.87h6.08v6.08h-6.08zM290.72 56.87h6.08v6.08h-6.08zM296.80 56.87h6.08v6.08h-6.08zM302.89 56.87h6.08v6.08h-6.08zM89.91 62.95h6.08v6.08h-6.08zM96.00 62.95h6.08v6.08h-6.08zM102.08 62.95h6.08v6.08h-6.08zM108.17 62.95h6.08v6.08h-6.08zM114.25 62.95h6.08v6.08h-6.08zM120.34 62.95h6.08v6.08h-6.08zM126.42 62.95h6.08v6.08h-6.08zM132.51 62.95h6.08v6.08h-6.08zM138.59 62.95h6.08v6.08h-6.08zM144.68 62.95h6.08v6.08h-6.08zM272.46 62.95h6.08v6.08h-6.08zM278.55 62.95h6.08v6.08h-6.08zM284.63 62.95h6.08v6.08h-6.08zM290.72 62.95h6.08v6.08h-6.08zM296.80 62.95h6.08v6.08h-6.08zM302.89 62.95h6.08v6.08h-6.08zM96.00 69.03h6.08v6.08h-6.08zM102.08 69.03h6.08v6.08h-6.08zM108.17 69.03h6.08v6.08h-6.08zM114.25 69.03h6.08v6.08h-6.08zM120.34 69.03h6.08v6.08h-6.08zM126.42 69.03h6.08v6.08h-6.08zM132.51 69.03h6.08v6.08h-6.08zM138.59 69.03h6.08v6.08h-6.08zM144.68 69.03h6.08v6.08h-6.08zM266.38 69.03h6.08v6.08h-6.08zM272.46 69.03h6.08v6.08h-6.08zM278.55 69.03h6.08v6.08h-6.08zM284.63 69.03h6.08v6.08h-6.08zM290.72 69.03h6.08v6.08h-6.08zM296.80 69.03h6.08v6.08h-6.08zM302.89 69.03h6.08v6.08h-6.08zM96.00 75.12h6.08v6.08h-6.08zM102.08 75.12h6.08v6.08h-6.08zM108.17 75.12h6.08v6.08h-6.08zM126.42 75.12h6.08v6.08h-6.08zM132.51 75.12h6.08v6.08h-6.08zM138.59 75.12h6.08v6.08h-6.08zM144.68 75.12h6.08v6.08h-6.08zM248.12 75.12h6.08v6.08h-6.08zM254.21 75.12h6.08v6.08h-6.08zM260.29 75.12h6.08v6.08h-6.08zM266.38 75.12h6.08v6.08h-6.08zM272.46 75.12h6.08v6.08h-6.08zM278.55 75.12h6.08v6.08h-6.08zM284.63 75.12h6.08v6.08h-6.08zM290.72 75.12h6.08v6.08h-6.08zM296.80 75.12h6.08v6.08h-6.08zM302.89 75.12h6.08v6.08h-6.08zM248.12 81.20h6.08v6.08h-6.08zM254.21 81.20h6.08v6.08h-6.08zM260.29 81.20h6.08v6.08h-6.08zM272.46 81.20h6.08v6.08h-6.08zM278.55 81.20h6.08v6.08h-6.08zM284.63 81.20h6.08v6.08h-6.08zM290.72 81.20h6.08v6.08h-6.08zM296.80 81.20h6.08v6.08h-6.08zM302.89 81.20h6.08v6.08h-6.08zM248.12 87.29h6.08v6.08h-6.08zM254.21 87.29h6.08v6.08h-6.08zM260.29 87.29h6.08v6.08h-6.08zM272.46 87.29h6.08v6.08h-6.08zM278.55 87.29h6.08v6.08h-6.08zM284.63 87.29h6.08v6.08h-6.08zM290.72 87.29h6.08v6.08h-6.08zM296.80 87.29h6.08v6.08h-6.08zM169.02 93.38h6.08v6.08h-6.08zM260.29 93.38h6.08v6.08h-6.08zM266.38 93.38h6.08v6.08h-6.08zM272.46 93.38h6.08v6.08h-6.08zM278.55 93.38h6.08v6.08h-6.08zM96.00 99.46h6.08v6.08h-6.08zM102.08 99.46h6.08v6.08h-6.08zM108.17 99.46h6.08v6.08h-6.08zM162.93 99.46h6.08v6.08h-6.08zM169.02 99.46h6.08v6.08h-6.08zM77.74 105.55h6.08v6.08h-6.08zM83.83 105.55h6.08v6.08h-6.08zM169.02 105.55h6.08v6.08h-6.08zM175.10 105.55h6.08v6.08h-6.08zM193.36 105.55h6.08v6.08h-6.08zM199.44 105.55h6.08v6.08h-6.08zM59.49 111.63h6.08v6.08h-6.08zM175.10 111.63h6.08v6.08h-6.08zM181.19 111.63h6.08v6.08h-6.08zM187.27 111.63h6.08v6.08h-6.08zM193.36 111.63h6.08v6.08h-6.08zM211.61 111.63h6.08v6.08h-6.08zM217.70 111.63h6.08v6.08h-6.08zM41.23 117.72h6.08v6.08h-6.08zM156.85 117.72h6.08v6.08h-6.08zM187.27 117.72h6.08v6.08h-6.08zM193.36 117.72h6.08v6.08h-6.08zM199.44 117.72h6.08v6.08h-6.08zM205.53 117.72h6.08v6.08h-6.08zM211.61 117.72h6.08v6.08h-6.08zM41.23 123.80h6.08v6.08h-6.08zM102.08 123.80h6.08v6.08h-6.08zM138.59 123.80h6.08v6.08h-6.08zM144.68 123.80h6.08v6.08h-6.08zM150.76 123.80h6.08v6.08h-6.08zM156.85 123.80h6.08v6.08h-6.08zM205.53 123.80h6.08v6.08h-6.08zM211.61 123.80h6.08v6.08h-6.08zM59.49 129.88h6.08v6.08h-6.08zM65.57 129.88h6.08v6.08h-6.08zM138.59 129.88h6.08v6.08h-6.08zM144.68 129.88h6.08v6.08h-6.08zM150.76 129.88h6.08v6.08h-6.08zM156.85 129.88h6.08v6.08h-6.08zM162.93 129.88h6.08v6.08h-6.08zM169.02 129.88h6.08v6.08h-6.08zM187.27 129.88h6.08v6.08h-6.08zM211.61 129.88h6.08v6.08h-6.08zM59.49 135.97h6.08v6.08h-6.08zM65.57 135.97h6.08v6.08h-6.08zM71.66 135.97h6.08v6.08h-6.08zM162.93 135.97h6.08v6.08h-6.08zM169.02 135.97h6.08v6.08h-6.08zM187.27 135.97h6.08v6.08h-6.08zM193.36 135.97h6.08v6.08h-6.08zM199.44 135.97h6.08v6.08h-6.08zM150.76 142.06h6.08v6.08h-6.08zM199.44 142.06h6.08v6.08h-6.08zM223.78 142.06h6.08v6.08h-6.08zM83.83 148.14h6.08v6.08h-6.08zM144.68 148.14h6.08v6.08h-6.08zM162.93 148.14h6.08v6.08h-6.08zM181.19 148.14h6.08v6.08h-6.08zM193.36 148.14h6.08v6.08h-6.08zM199.44 148.14h6.08v6.08h-6.08zM205.53 148.14h6.08v6.08h-6.08zM211.61 148.14h6.08v6.08h-6.08zM217.70 148.14h6.08v6.08h-6.08zM223.78 148.14h6.08v6.08h-6.08zM162.93 154.23h6.08v6.08h-6.08zM181.19 154.23h6.08v6.08h-6.08zM187.27 154.23h6.08v6.08h-6.08zM193.36 154.23h6.08v6.08h-6.08zM199.44 154.23h6.08v6.08h-6.08zM205.53 154.23h6.08v6.08h-6.08zM211.61 154.23h6.08v6.08h-6.08zM217.70 154.23h6.08v6.08h-6.08zM71.66 160.31h6.08v6.08h-6.08zM138.59 160.31h6.08v6.08h-6.08zM144.68 160.31h6.08v6.08h-6.08zM162.93 160.31h6.08v6.08h-6.08zM175.10 160.31h6.08v6.08h-6.08zM181.19 160.31h6.08v6.08h-6.08zM193.36 160.31h6.08v6.08h-6.08zM199.44 160.31h6.08v6.08h-6.08zM205.53 160.31h6.08v6.08h-6.08zM211.61 160.31h6.08v6.08h-6.08zM47.32 166.39h6.08v6.08h-6.08zM53.40 166.39h6.08v6.08h-6.08zM59.49 166.39h6.08v6.08h-6.08zM138.59 166.39h6.08v6.08h-6.08zM144.68 166.39h6.08v6.08h-6.08zM150.76 166.39h6.08v6.08h-6.08zM169.02 166.39h6.08v6.08h-6.08zM175.10 166.39h6.08v6.08h-6.08zM181.19 166.39h6.08v6.08h-6.08zM187.27 166.39h6.08v6.08h-6.08zM193.36 166.39h6.08v6.08h-6.08zM199.44 166.39h6.08v6.08h-6.08zM205.53 166.39h6.08v6.08h-6.08zM47.32 172.48h6.08v6.08h-6.08zM53.40 172.48h6.08v6.08h-6.08zM120.34 172.48h6.08v6.08h-6.08zM132.51 172.48h6.08v6.08h-6.08zM138.59 172.48h6.08v6.08h-6.08zM150.76 172.48h6.08v6.08h-6.08zM156.85 172.48h6.08v6.08h-6.08zM162.93 172.48h6.08v6.08h-6.08zM175.10 172.48h6.08v6.08h-6.08zM181.19 172.48h6.08v6.08h-6.08zM187.27 172.48h6.08v6.08h-6.08zM193.36 172.48h6.08v6.08h-6.08zM199.44 172.48h6.08v6.08h-6.08zM205.53 172.48h6.08v6.08h-6.08zM47.32 178.56h6.08v6.08h-6.08zM132.51 178.56h6.08v6.08h-6.08zM138.59 178.56h6.08v6.08h-6.08zM150.76 178.56h6.08v6.08h-6.08zM156.85 178.56h6.08v6.08h-6.08zM162.93 178.56h6.08v6.08h-6.08zM211.61 178.56h6.08v6.08h-6.08zM96.00 184.65h6.08v6.08h-6.08zM102.08 184.65h6.08v6.08h-6.08zM205.53 184.65h6.08v6.08h-6.08zM211.61 184.65h6.08v6.08h-6.08zM89.91 190.74h6.08v6.08h-6.08zM96.00 190.74h6.08v6.08h-6.08zM102.08 190.74h6.08v6.08h-6.08zM114.25 190.74h6.08v6.08h-6.08zM120.34 190.74h6.08v6.08h-6.08zM144.68 190.74h6.08v6.08h-6.08zM211.61 190.74h6.08v6.08h-6.08zM217.70 190.74h6.08v6.08h-6.08zM83.83 196.82h6.08v6.08h-6.08zM89.91 196.82h6.08v6.08h-6.08zM96.00 196.82h6.08v6.08h-6.08zM102.08 196.82h6.08v6.08h-6.08zM108.17 196.82h6.08v6.08h-6.08zM114.25 196.82h6.08v6.08h-6.08zM120.34 196.82h6.08v6.08h-6.08zM126.42 196.82h6.08v6.08h-6.08zM132.51 196.82h6.08v6.08h-6.08zM138.59 196.82h6.08v6.08h-6.08zM144.68 196.82h6.08v6.08h-6.08zM217.70 196.82h6.08v6.08h-6.08zM223.78 196.82h6.08v6.08h-6.08zM108.17 202.91h6.08v6.08h-6.08zM114.25 202.91h6.08v6.08h-6.08zM120.34 202.91h6.08v6.08h-6.08zM126.42 202.91h6.08v6.08h-6.08zM132.51 202.91h6.08v6.08h-6.08zM138.59 202.91h6.08v6.08h-6.08zM144.68 202.91h6.08v6.08h-6.08zM223.78 202.91h6.08v6.08h-6.08zM248.12 227.25h6.08v6.08h-6.08z" fill="#3b5efc"/>
<path d="M327.23 44.70h6.08v6.08h-6.08zM345.48 44.70h6.08v6.08h-6.08zM327.23 56.87h6.08v6.08h-6.08zM150.76 75.12h6.08v6.08h-6.08zM126.42 81.20h6.08v6.08h-6.08zM132.51 81.20h6.08v6.08h-6.08zM150.76 81.20h6.08v6.08h-6.08zM266.38 81.20h6.08v6.08h-6.08zM150.76 87.29h6.08v6.08h-6.08zM229.87 87.29h6.08v6.08h-6.08zM235.95 87.29h6.08v6.08h-6.08zM242.04 87.29h6.08v6.08h-6.08zM266.38 87.29h6.08v6.08h-6.08zM175.10 93.38h6.08v6.08h-6.08zM211.61 93.38h6.08v6.08h-6.08zM217.70 93.38h6.08v6.08h-6.08zM223.78 93.38h6.08v6.08h-6.08zM229.87 93.38h6.08v6.08h-6.08zM235.95 93.38h6.08v6.08h-6.08zM242.04 93.38h6.08v6.08h-6.08zM29.06 99.46h6.08v6.08h-6.08zM35.15 99.46h6.08v6.08h-6.08zM41.23 99.46h6.08v6.08h-6.08zM47.32 99.46h6.08v6.08h-6.08zM175.10 99.46h6.08v6.08h-6.08zM205.53 99.46h6.08v6.08h-6.08zM211.61 99.46h6.08v6.08h-6.08zM217.70 99.46h6.08v6.08h-6.08zM223.78 99.46h6.08v6.08h-6.08zM242.04 99.46h6.08v6.08h-6.08zM260.29 99.46h6.08v6.08h-6.08zM29.06 105.55h6.08v6.08h-6.08zM35.15 105.55h6.08v6.08h-6.08zM41.23 105.55h6.08v6.08h-6.08zM47.32 105.55h6.08v6.08h-6.08zM53.40 105.55h6.08v6.08h-6.08zM144.68 105.55h6.08v6.08h-6.08zM181.19 105.55h6.08v6.08h-6.08zM205.53 105.55h6.08v6.08h-6.08zM211.61 105.55h6.08v6.08h-6.08zM217.70 105.55h6.08v6.08h-6.08zM223.78 105.55h6.08v6.08h-6.08zM35.15 111.63h6.08v6.08h-6.08zM41.23 111.63h6.08v6.08h-6.08zM47.32 111.63h6.08v6.08h-6.08zM53.40 111.63h6.08v6.08h-6.08zM102.08 111.63h6.08v6.08h-6.08zM120.34 111.63h6.08v6.08h-6.08zM126.42 111.63h6.08v6.08h-6.08zM132.51 111.63h6.08v6.08h-6.08zM144.68 111.63h6.08v6.08h-6.08zM150.76 111.63h6.08v6.08h-6.08zM199.44 111.63h6.08v6.08h-6.08zM205.53 111.63h6.08v6.08h-6.08zM223.78 111.63h6.08v6.08h-6.08zM35.15 117.72h6.08v6.08h-6.08zM77.74 117.72h6.08v6.08h-6.08zM96.00 117.72h6.08v6.08h-6.08zM102.08 117.72h6.08v6.08h-6.08zM108.17 117.72h6.08v6.08h-6.08zM114.25 117.72h6.08v6.08h-6.08zM126.42 117.72h6.08v6.08h-6.08zM132.51 117.72h6.08v6.08h-6.08zM138.59 117.72h6.08v6.08h-6.08zM144.68 117.72h6.08v6.08h-6.08zM162.93 117.72h6.08v6.08h-6.08zM217.70 117.72h6.08v6.08h-6.08zM29.06 123.80h6.08v6.08h-6.08zM35.15 123.80h6.08v6.08h-6.08zM59.49 123.80h6.08v6.08h-6.08zM65.57 123.80h6.08v6.08h-6.08zM77.74 123.80h6.08v6.08h-6.08zM83.83 123.80h6.08v6.08h-6.08zM108.17 123.80h6.08v6.08h-6.08zM126.42 123.80h6.08v6.08h-6.08zM162.93 123.80h6.08v6.08h-6.08zM169.02 123.80h6.08v6.08h-6.08zM175.10 123.80h6.08v6.08h-6.08zM217.70 123.80h6.08v6.08h-6.08zM29.06 129.88h6.08v6.08h-6.08zM35.15 129.88h6.08v6.08h-6.08zM89.91 129.88h6.08v6.08h-6.08zM102.08 129.88h6.08v6.08h-6.08zM108.17 129.88h6.08v6.08h-6.08zM114.25 129.88h6.08v6.08h-6.08zM126.42 129.88h6.08v6.08h-6.08zM132.51 129.88h6.08v6.08h-6.08zM29.06 135.97h6.08v6.08h-6.08zM35.15 135.97h6.08v6.08h-6.08zM41.23 135.97h6.08v6.08h-6.08zM47.32 135.97h6.08v6.08h-6.08zM53.40 135.97h6.08v6.08h-6.08zM83.83 135.97h6.08v6.08h-6.08zM96.00 135.97h6.08v6.08h-6.08zM102.08 135.97h6.08v6.08h-6.08zM108.17 135.97h6.08v6.08h-6.08zM114.25 135.97h6.08v6.08h-6.08zM120.34 135.97h6.08v6.08h-6.08zM126.42 135.97h6.08v6.08h-6.08zM132.51 135.97h6.08v6.08h-6.08zM29.06 142.06h6.08v6.08h-6.08zM35.15 142.06h6.08v6.08h-6.08zM41.23 142.06h6.08v6.08h-6.08zM47.32 142.06h6.08v6.08h-6.08zM53.40 142.06h6.08v6.08h-6.08zM59.49 142.06h6.08v6.08h-6.08zM65.57 142.06h6.08v6.08h-6.08zM89.91 142.06h6.08v6.08h-6.08zM96.00 142.06h6.08v6.08h-6.08zM108.17 142.06h6.08v6.08h-6.08zM114.25 142.06h6.08v6.08h-6.08zM120.34 142.06h6.08v6.08h-6.08zM126.42 142.06h6.08v6.08h-6.08zM132.51 142.06h6.08v6.08h-6.08zM138.59 142.06h6.08v6.08h-6.08zM144.68 142.06h6.08v6.08h-6.08zM162.93 142.06h6.08v6.08h-6.08zM169.02 142.06h6.08v6.08h-6.08zM29.06 148.14h6.08v6.08h-6.08zM35.15 148.14h6.08v6.08h-6.08zM41.23 148.14h6.08v6.08h-6.08zM47.32 148.14h6.08v6.08h-6.08zM53.40 148.14h6.08v6.08h-6.08zM59.49 148.14h6.08v6.08h-6.08zM65.57 148.14h6.08v6.08h-6.08zM71.66 148.14h6.08v6.08h-6.08zM77.74 148.14h6.08v6.08h-6.08zM89.91 148.14h6.08v6.08h-6.08zM96.00 148.14h6.08v6.08h-6.08zM102.08 148.14h6.08v6.08h-6.08zM108.17 148.14h6.08v6.08h-6.08zM114.25 148.14h6.08v6.08h-6.08zM120.34 148.14h6.08v6.08h-6.08zM132.51 148.14h6.08v6.08h-6.08zM138.59 148.14h6.08v6.08h-6.08zM150.76 148.14h6.08v6.08h-6.08zM156.85 148.14h6.08v6.08h-6.08zM169.02 148.14h6.08v6.08h-6.08zM175.10 148.14h6.08v6.08h-6.08zM187.27 148.14h6.08v6.08h-6.08zM35.15 154.23h6.08v6.08h-6.08zM41.23 154.23h6.08v6.08h-6.08zM47.32 154.23h6.08v6.08h-6.08zM53.40 154.23h6.08v6.08h-6.08zM59.49 154.23h6.08v6.08h-6.08zM71.66 154.23h6.08v6.08h-6.08zM77.74 154.23h6.08v6.08h-6.08zM83.83 154.23h6.08v6.08h-6.08zM89.91 154.23h6.08v6.08h-6.08zM96.00 154.23h6.08v6.08h-6.08zM102.08 154.23h6.08v6.08h-6.08zM108.17 154.23h6.08v6.08h-6.08zM114.25 154.23h6.08v6.08h-6.08zM120.34 154.23h6.08v6.08h-6.08zM126.42 154.23h6.08v6.08h-6.08zM132.51 154.23h6.08v6.08h-6.08zM138.59 154.23h6.08v6.08h-6.08zM150.76 154.23h6.08v6.08h-6.08zM156.85 154.23h6.08v6.08h-6.08zM47.32 160.31h6.08v6.08h-6.08zM53.40 160.31h6.08v6.08h-6.08zM59.49 160.31h6.08v6.08h-6.08zM65.57 160.31h6.08v6.08h-6.08zM77.74 160.31h6.08v6.08h-6.08zM83.83 160.31h6.08v6.08h-6.08zM89.91 160.31h6.08v6.08h-6.08zM96.00 160.31h6.08v6.08h-6.08zM102.08 160.31h6.08v6.08h-6.08zM108.17 160.31h6.08v6.08h-6.08zM114.25 160.31h6.08v6.08h-6.08zM120.34 160.31h6.08v6.08h-6.08zM126.42 160.31h6.08v6.08h-6.08zM132.51 160.31h6.08v6.08h-6.08zM150.76 160.31h6.08v6.08h-6.08zM156.85 160.31h6.08v6.08h-6.08zM187.27 160.31h6.08v6.08h-6.08zM65.57 166.39h6.08v6.08h-6.08zM71.66 166.39h6.08v6.08h-6.08zM77.74 166.39h6.08v6.08h-6.08zM83.83 166.39h6.08v6.08h-6.08zM89.91 166.39h6.08v6.08h-6.08zM96.00 166.39h6.08v6.08h-6.08zM102.08 166.39h6.08v6.08h-6.08zM108.17 166.39h6.08v6.08h-6.08zM120.34 166.39h6.08v6.08h-6.08zM156.85 166.39h6.08v6.08h-6.08zM83.83 172.48h6.08v6.08h-6.08zM89.91 172.48h6.08v6.08h-6.08zM96.00 172.48h6.08v6.08h-6.08zM102.08 172.48h6.08v6.08h-6.08zM108.17 172.48h6.08v6.08h-6.08zM114.25 172.48h6.08v6.08h-6.08zM126.42 172.48h6.08v6.08h-6.08zM144.68 172.48h6.08v6.08h-6.08zM77.74 178.56h6.08v6.08h-6.08zM83.83 178.56h6.08v6.08h-6.08zM89.91 178.56h6.08v6.08h-6.08zM96.00 178.56h6.08v6.08h-6.08zM102.08 178.56h6.08v6.08h-6.08zM108.17 178.56h6.08v6.08h-6.08zM169.02 178.56h6.08v6.08h-6.08zM71.66 184.65h6.08v6.08h-6.08zM77.74 184.65h6.08v6.08h-6.08zM83.83 184.65h6.08v6.08h-6.08zM89.91 184.65h6.08v6.08h-6.08zM108.17 184.65h6.08v6.08h-6.08zM150.76 184.65h6.08v6.08h-6.08zM71.66 190.74h6.08v6.08h-6.08zM77.74 190.74h6.08v6.08h-6.08zM83.83 190.74h6.08v6.08h-6.08zM108.17 190.74h6.08v6.08h-6.08z" fill="url(#hatch)"/>
<path d="M339.40 44.70h6.08v6.08h-6.08zM339.40 50.78h6.08v6.08h-6.08zM345.48 50.78h6.08v6.08h-6.08zM394.16 56.87h6.08v6.08h-6.08zM400.25 56.87h6.08v6.08h-6.08zM406.33 56.87h6.08v6.08h-6.08zM394.16 62.95h6.08v6.08h-6.08zM400.25 62.95h6.08v6.08h-6.08zM406.33 62.95h6.08v6.08h-6.08zM394.16 69.03h6.08v6.08h-6.08zM400.25 69.03h6.08v6.08h-6.08zM406.33 69.03h6.08v6.08h-6.08zM357.65 75.12h6.08v6.08h-6.08zM363.74 75.12h6.08v6.08h-6.08zM381.99 75.12h6.08v6.08h-6.08zM388.08 75.12h6.08v6.08h-6.08zM394.16 75.12h6.08v6.08h-6.08zM400.25 75.12h6.08v6.08h-6.08zM406.33 75.12h6.08v6.08h-6.08zM175.10 81.20h6.08v6.08h-6.08zM357.65 81.20h6.08v6.08h-6.08zM363.74 81.20h6.08v6.08h-6.08zM375.91 81.20h6.08v6.08h-6.08zM381.99 81.20h6.08v6.08h-6.08zM388.08 81.20h6.08v6.08h-6.08zM394.16 81.20h6.08v6.08h-6.08zM400.25 81.20h6.08v6.08h-6.08zM406.33 81.20h6.08v6.08h-6.08zM120.34 87.29h6.08v6.08h-6.08zM169.02 87.29h6.08v6.08h-6.08zM175.10 87.29h6.08v6.08h-6.08zM357.65 87.29h6.08v6.08h-6.08zM363.74 87.29h6.08v6.08h-6.08zM369.82 87.29h6.08v6.08h-6.08zM375.91 87.29h6.08v6.08h-6.08zM381.99 87.29h6.08v6.08h-6.08zM388.08 87.29h6.08v6.08h-6.08zM394.16 87.29h6.08v6.08h-6.08zM400.25 87.29h6.08v6.08h-6.08zM406.33 87.29h6.08v6.08h-6.08zM120.34 93.38h6.08v6.08h-6.08zM126.42 93.38h6.08v6.08h-6.08zM132.51 93.38h6.08v6.08h-6.08zM162.93 93.38h6.08v6.08h-6.08zM345.48 93.38h6.08v6.08h-6.08zM351.57 93.38h6.08v6.08h-6.08zM357.65 93.38h6.08v6.08h-6.08zM363.74 93.38h6.08v6.08h-6.08zM369.82 93.38h6.08v6.08h-6.08zM375.91 93.38h6.08v6.08h-6.08zM381.99 93.38h6.08v6.08h-6.08zM388.08 93.38h6.08v6.08h-6.08zM394.16 93.38h6.08v6.08h-6.08zM400.25 93.38h6.08v6.08h-6.08zM248.12 99.46h6.08v6.08h-6.08zM290.72 99.46h6.08v6.08h-6.08zM296.80 99.46h6.08v6.08h-6.08zM315.06 99.46h6.08v6.08h-6.08zM321.14 99.46h6.08v6.08h-6.08zM327.23 99.46h6.08v6.08h-6.08zM339.40 99.46h6.08v6.08h-6.08zM369.82 99.46h6.08v6.08h-6.08zM375.91 99.46h6.08v6.08h-6.08zM381.99 99.46h6.08v6.08h-6.08zM388.08 99.46h6.08v6.08h-6.08zM126.42 105.55h6.08v6.08h-6.08zM242.04 105.55h6.08v6.08h-6.08zM248.12 105.55h6.08v6.08h-6.08zM278.55 105.55h6.08v6.08h-6.08zM284.63 105.55h6.08v6.08h-6.08zM351.57 105.55h6.08v6.08h-6.08zM369.82 105.55h6.08v6.08h-6.08zM375.91 105.55h6.08v6.08h-6.08zM381.99 105.55h6.08v6.08h-6.08zM388.08 105.55h6.08v6.08h-6.08zM108.17 111.63h6.08v6.08h-6.08zM229.87 111.63h6.08v6.08h-6.08zM235.95 111.63h6.08v6.08h-6.08zM260.29 111.63h6.08v6.08h-6.08zM266.38 111.63h6.08v6.08h-6.08zM351.57 111.63h6.08v6.08h-6.08zM375.91 111.63h6.08v6.08h-6.08zM381.99 111.63h6.08v6.08h-6.08zM229.87 117.72h6.08v6.08h-6.08zM223.78 123.80h6.08v6.08h-6.08zM254.21 123.80h6.08v6.08h-6.08zM272.46 123.80h6.08v6.08h-6.08zM278.55 123.80h6.08v6.08h-6.08zM284.63 123.80h6.08v6.08h-6.08zM223.78 129.88h6.08v6.08h-6.08zM254.21 129.88h6.08v6.08h-6.08zM272.46 129.88h6.08v6.08h-6.08zM254.21 135.97h6.08v6.08h-6.08zM254.21 142.06h6.08v6.08h-6.08zM260.29 148.14h6.08v6.08h-6.08zM260.29 154.23h6.08v6.08h-6.08zM272.46 154.23h6.08v6.08h-6.08zM278.55 154.23h6.08v6.08h-6.08zM260.29 160.31h6.08v6.08h-6.08zM266.38 160.31h6.08v6.08h-6.08zM272.46 160.31h6.08v6.08h-6.08zM260.29 166.39h6.08v6.08h-6.08zM266.38 166.39h6.08v6.08h-6.08zM272.46 166.39h6.08v6.08h-6.08zM229.87 172.48h6.08v6.08h-6.08zM266.38 172.48h6.08v6.08h-6.08zM272.46 172.48h6.08v6.08h-6.08zM114.25 178.56h6.08v6.08h-6.08zM120.34 178.56h6.08v6.08h-6.08zM126.42 178.56h6.08v6.08h-6.08zM229.87 178.56h6.08v6.08h-6.08zM235.95 178.56h6.08v6.08h-6.08zM272.46 178.56h6.08v6.08h-6.08zM120.34 184.65h6.08v6.08h-6.08zM126.42 184.65h6.08v6.08h-6.08zM132.51 184.65h6.08v6.08h-6.08zM138.59 184.65h6.08v6.08h-6.08zM162.93 184.65h6.08v6.08h-6.08zM169.02 184.65h6.08v6.08h-6.08zM175.10 184.65h6.08v6.08h-6.08zM181.19 184.65h6.08v6.08h-6.08zM187.27 184.65h6.08v6.08h-6.08zM193.36 184.65h6.08v6.08h-6.08zM223.78 184.65h6.08v6.08h-6.08zM229.87 184.65h6.08v6.08h-6.08zM272.46 184.65h6.08v6.08h-6.08zM126.42 190.74h6.08v6.08h-6.08zM132.51 190.74h6.08v6.08h-6.08zM138.59 190.74h6.08v6.08h-6.08zM162.93 190.74h6.08v6.08h-6.08zM169.02 190.74h6.08v6.08h-6.08zM175.10 190.74h6.08v6.08h-6.08zM181.19 190.74h6.08v6.08h-6.08zM193.36 190.74h6.08v6.08h-6.08zM199.44 190.74h6.08v6.08h-6.08zM205.53 190.74h6.08v6.08h-6.08zM266.38 190.74h6.08v6.08h-6.08zM162.93 196.82h6.08v6.08h-6.08zM169.02 196.82h6.08v6.08h-6.08zM175.10 196.82h6.08v6.08h-6.08zM181.19 196.82h6.08v6.08h-6.08zM199.44 196.82h6.08v6.08h-6.08zM205.53 196.82h6.08v6.08h-6.08zM260.29 196.82h6.08v6.08h-6.08zM162.93 202.91h6.08v6.08h-6.08zM169.02 202.91h6.08v6.08h-6.08zM175.10 202.91h6.08v6.08h-6.08zM181.19 202.91h6.08v6.08h-6.08zM187.27 202.91h6.08v6.08h-6.08zM193.36 202.91h6.08v6.08h-6.08zM199.44 202.91h6.08v6.08h-6.08zM260.29 202.91h6.08v6.08h-6.08zM266.38 202.91h6.08v6.08h-6.08zM181.19 208.99h6.08v6.08h-6.08zM187.27 208.99h6.08v6.08h-6.08zM199.44 208.99h6.08v6.08h-6.08zM260.29 208.99h6.08v6.08h-6.08zM266.38 208.99h6.08v6.08h-6.08zM278.55 208.99h6.08v6.08h-6.08zM181.19 215.07h6.08v6.08h-6.08zM187.27 215.07h6.08v6.08h-6.08zM205.53 215.07h6.08v6.08h-6.08zM260.29 215.07h6.08v6.08h-6.08zM266.38 215.07h6.08v6.08h-6.08zM260.29 221.16h6.08v6.08h-6.08zM266.38 221.16h6.08v6.08h-6.08zM266.38 227.25h6.08v6.08h-6.08z" fill="#96fbb4"/>
<path d="M71.66 62.95h6.08v6.08h-6.08zM77.74 62.95h6.08v6.08h-6.08zM83.83 62.95h6.08v6.08h-6.08zM71.66 69.03h6.08v6.08h-6.08zM77.74 69.03h6.08v6.08h-6.08zM83.83 69.03h6.08v6.08h-6.08zM89.91 69.03h6.08v6.08h-6.08zM59.49 75.12h6.08v6.08h-6.08zM65.57 75.12h6.08v6.08h-6.08zM71.66 75.12h6.08v6.08h-6.08zM77.74 75.12h6.08v6.08h-6.08zM83.83 75.12h6.08v6.08h-6.08zM89.91 75.12h6.08v6.08h-6.08zM59.49 81.20h6.08v6.08h-6.08zM65.57 81.20h6.08v6.08h-6.08zM71.66 81.20h6.08v6.08h-6.08zM77.74 81.20h6.08v6.08h-6.08zM59.49 87.29h6.08v6.08h-6.08zM65.57 87.29h6.08v6.08h-6.08zM71.66 87.29h6.08v6.08h-6.08zM77.74 87.29h6.08v6.08h-6.08zM83.83 87.29h6.08v6.08h-6.08zM47.32 93.38h6.08v6.08h-6.08zM53.40 93.38h6.08v6.08h-6.08zM59.49 93.38h6.08v6.08h-6.08zM65.57 93.38h6.08v6.08h-6.08zM71.66 93.38h6.08v6.08h-6.08zM77.74 93.38h6.08v6.08h-6.08zM83.83 93.38h6.08v6.08h-6.08zM89.91 93.38h6.08v6.08h-6.08zM96.00 93.38h6.08v6.08h-6.08zM102.08 93.38h6.08v6.08h-6.08zM108.17 93.38h6.08v6.08h-6.08zM53.40 99.46h6.08v6.08h-6.08zM59.49 99.46h6.08v6.08h-6.08zM65.57 99.46h6.08v6.08h-6.08zM71.66 99.46h6.08v6.08h-6.08zM77.74 99.46h6.08v6.08h-6.08zM83.83 99.46h6.08v6.08h-6.08zM89.91 99.46h6.08v6.08h-6.08zM59.49 105.55h6.08v6.08h-6.08zM65.57 105.55h6.08v6.08h-6.08zM71.66 105.55h6.08v6.08h-6.08zM187.27 105.55h6.08v6.08h-6.08zM29.06 111.63h6.08v6.08h-6.08zM29.06 117.72h6.08v6.08h-6.08zM150.76 117.72h6.08v6.08h-6.08zM169.02 117.72h6.08v6.08h-6.08zM175.10 117.72h6.08v6.08h-6.08zM181.19 117.72h6.08v6.08h-6.08zM114.25 123.80h6.08v6.08h-6.08zM120.34 123.80h6.08v6.08h-6.08zM132.51 123.80h6.08v6.08h-6.08zM181.19 123.80h6.08v6.08h-6.08zM187.27 123.80h6.08v6.08h-6.08zM193.36 123.80h6.08v6.08h-6.08zM199.44 123.80h6.08v6.08h-6.08zM53.40 129.88h6.08v6.08h-6.08zM96.00 129.88h6.08v6.08h-6.08zM120.34 129.88h6.08v6.08h-6.08zM175.10 129.88h6.08v6.08h-6.08zM181.19 129.88h6.08v6.08h-6.08zM193.36 129.88h6.08v6.08h-6.08zM199.44 129.88h6.08v6.08h-6.08zM205.53 129.88h6.08v6.08h-6.08zM77.74 135.97h6.08v6.08h-6.08zM89.91 135.97h6.08v6.08h-6.08zM138.59 135.97h6.08v6.08h-6.08zM144.68 135.97h6.08v6.08h-6.08zM150.76 135.97h6.08v6.08h-6.08zM156.85 135.97h6.08v6.08h-6.08zM175.10 135.97h6.08v6.08h-6.08zM181.19 135.97h6.08v6.08h-6.08zM71.66 142.06h6.08v6.08h-6.08zM77.74 142.06h6.08v6.08h-6.08zM83.83 142.06h6.08v6.08h-6.08zM102.08 142.06h6.08v6.08h-6.08zM156.85 142.06h6.08v6.08h-6.08zM175.10 142.06h6.08v6.08h-6.08zM181.19 142.06h6.08v6.08h-6.08zM187.27 142.06h6.08v6.08h-6.08zM193.36 142.06h6.08v6.08h-6.08zM126.42 148.14h6.08v6.08h-6.08zM144.68 154.23h6.08v6.08h-6.08zM114.25 166.39h6.08v6.08h-6.08zM126.42 166.39h6.08v6.08h-6.08zM132.51 166.39h6.08v6.08h-6.08zM59.49 172.48h6.08v6.08h-6.08zM65.57 172.48h6.08v6.08h-6.08zM71.66 172.48h6.08v6.08h-6.08zM77.74 172.48h6.08v6.08h-6.08zM53.40 178.56h6.08v6.08h-6.08zM59.49 178.56h6.08v6.08h-6.08zM65.57 178.56h6.08v6.08h-6.08zM71.66 178.56h6.08v6.08h-6.08zM144.68 178.56h6.08v6.08h-6.08zM175.10 178.56h6.08v6.08h-6.08zM181.19 178.56h6.08v6.08h-6.08zM187.27 178.56h6.08v6.08h-6.08zM193.36 178.56h6.08v6.08h-6.08zM199.44 178.56h6.08v6.08h-6.08zM205.53 178.56h6.08v6.08h-6.08zM53.40 184.65h6.08v6.08h-6.08zM59.49 184.65h6.08v6.08h-6.08zM65.57 184.65h6.08v6.08h-6.08zM199.44 184.65h6.08v6.08h-6.08zM211.61 196.82h6.08v6.08h-6.08zM217.70 202.91h6.08v6.08h-6.08zM223.78 208.99h6.08v6.08h-6.08zM223.78 215.07h6.08v6.08h-6.08z" fill="#0000fc"/>
<path d="M369.82 75.12h6.08v6.08h-6.08zM375.91 75.12h6.08v6.08h-6.08zM369.82 81.20h6.08v6.08h-6.08zM302.89 99.46h6.08v6.08h-6.08zM308.97 99.46h6.08v6.08h-6.08zM333.31 99.46h6.08v6.08h-6.08zM290.72 105.55h6.08v6.08h-6.08zM308.97 105.55h6.08v6.08h-6.08zM339.40 105.55h6.08v6.08h-6.08zM345.48 105.55h6.08v6.08h-6.08zM114.25 111.63h6.08v6.08h-6.08zM242.04 111.63h6.08v6.08h-6.08zM248.12 111.63h6.08v6.08h-6.08zM315.06 111.63h6.08v6.08h-6.08zM339.40 111.63h6.08v6.08h-6.08zM345.48 111.63h6.08v6.08h-6.08zM284.63 117.72h6.08v6.08h-6.08zM290.72 117.72h6.08v6.08h-6.08zM296.80 117.72h6.08v6.08h-6.08zM308.97 117.72h6.08v6.08h-6.08zM315.06 117.72h6.08v6.08h-6.08zM339.40 117.72h6.08v6.08h-6.08zM345.48 117.72h6.08v6.08h-6.08zM351.57 117.72h6.08v6.08h-6.08zM229.87 123.80h6.08v6.08h-6.08zM260.29 123.80h6.08v6.08h-6.08zM266.38 123.80h6.08v6.08h-6.08zM302.89 123.80h6.08v6.08h-6.08zM308.97 123.80h6.08v6.08h-6.08zM315.06 123.80h6.08v6.08h-6.08zM321.14 123.80h6.08v6.08h-6.08zM345.48 123.80h6.08v6.08h-6.08zM351.57 123.80h6.08v6.08h-6.08zM260.29 129.88h6.08v6.08h-6.08zM266.38 129.88h6.08v6.08h-6.08zM278.55 129.88h6.08v6.08h-6.08zM284.63 129.88h6.08v6.08h-6.08zM290.72 129.88h6.08v6.08h-6.08zM296.80 129.88h6.08v6.08h-6.08zM302.89 129.88h6.08v6.08h-6.08zM308.97 129.88h6.08v6.08h-6.08zM315.06 129.88h6.08v6.08h-6.08zM321.14 129.88h6.08v6.08h-6.08zM260.29 135.97h6.08v6.08h-6.08zM266.38 135.97h6.08v6.08h-6.08zM272.46 135.97h6.08v6.08h-6.08zM290.72 135.97h6.08v6.08h-6.08zM296.80 135.97h6.08v6.08h-6.08zM302.89 135.97h6.08v6.08h-6.08zM308.97 135.97h6.08v6.08h-6.08zM315.06 135.97h6.08v6.08h-6.08zM321.14 135.97h6.08v6.08h-6.08zM327.23 135.97h6.08v6.08h-6.08zM260.29 142.06h6.08v6.08h-6.08zM266.38 142.06h6.08v6.08h-6.08zM296.80 142.06h6.08v6.08h-6.08zM302.89 142.06h6.08v6.08h-6.08zM321.14 142.06h6.08v6.08h-6.08zM327.23 142.06h6.08v6.08h-6.08zM333.31 142.06h6.08v6.08h-6.08zM266.38 148.14h6.08v6.08h-6.08zM272.46 148.14h6.08v6.08h-6.08zM278.55 148.14h6.08v6.08h-6.08zM284.63 148.14h6.08v6.08h-6.08zM290.72 148.14h6.08v6.08h-6.08zM266.38 154.23h6.08v6.08h-6.08zM284.63 154.23h6.08v6.08h-6.08zM278.55 160.31h6.08v6.08h-6.08zM284.63 160.31h6.08v6.08h-6.08zM278.55 166.39h6.08v6.08h-6.08zM278.55 172.48h6.08v6.08h-6.08zM284.63 172.48h6.08v6.08h-6.08zM278.55 178.56h6.08v6.08h-6.08zM284.63 178.56h6.08v6.08h-6.08zM290.72 178.56h6.08v6.08h-6.08zM296.80 178.56h6.08v6.08h-6.08zM278.55 184.65h6.08v6.08h-6.08zM284.63 184.65h6.08v6.08h-6.08zM290.72 184.65h6.08v6.08h-6.08zM296.80 184.65h6.08v6.08h-6.08zM321.14 184.65h6.08v6.08h-6.08zM327.23 184.65h6.08v6.08h-6.08zM333.31 184.65h6.08v6.08h-6.08zM187.27 190.74h6.08v6.08h-6.08zM272.46 190.74h6.08v6.08h-6.08zM278.55 190.74h6.08v6.08h-6.08zM284.63 190.74h6.08v6.08h-6.08zM290.72 190.74h6.08v6.08h-6.08zM296.80 190.74h6.08v6.08h-6.08zM302.89 190.74h6.08v6.08h-6.08zM308.97 190.74h6.08v6.08h-6.08zM327.23 190.74h6.08v6.08h-6.08zM333.31 190.74h6.08v6.08h-6.08zM187.27 196.82h6.08v6.08h-6.08zM193.36 196.82h6.08v6.08h-6.08zM266.38 196.82h6.08v6.08h-6.08zM272.46 196.82h6.08v6.08h-6.08zM278.55 196.82h6.08v6.08h-6.08zM284.63 196.82h6.08v6.08h-6.08zM290.72 196.82h6.08v6.08h-6.08zM302.89 196.82h6.08v6.08h-6.08zM308.97 196.82h6.08v6.08h-6.08zM315.06 196.82h6.08v6.08h-6.08zM272.46 202.91h6.08v6.08h-6.08zM278.55 202.91h6.08v6.08h-6.08zM284.63 202.91h6.08v6.08h-6.08zM290.72 202.91h6.08v6.08h-6.08zM296.80 202.91h6.08v6.08h-6.08zM315.06 202.91h6.08v6.08h-6.08zM193.36 208.99h6.08v6.08h-6.08zM272.46 208.99h6.08v6.08h-6.08zM284.63 208.99h6.08v6.08h-6.08zM290.72 208.99h6.08v6.08h-6.08zM315.06 208.99h6.08v6.08h-6.08zM193.36 215.07h6.08v6.08h-6.08zM199.44 215.07h6.08v6.08h-6.08zM272.46 215.07h6.08v6.08h-6.08zM278.55 215.07h6.08v6.08h-6.08zM284.63 215.07h6.08v6.08h-6.08zM290.72 215.07h6.08v6.08h-6.08zM296.80 215.07h6.08v6.08h-6.08zM175.10 221.16h6.08v6.08h-6.08zM181.19 221.16h6.08v6.08h-6.08zM187.27 221.16h6.08v6.08h-6.08zM193.36 221.16h6.08v6.08h-6.08zM199.44 221.16h6.08v6.08h-6.08zM205.53 221.16h6.08v6.08h-6.08zM278.55 221.16h6.08v6.08h-6.08zM284.63 221.16h6.08v6.08h-6.08zM290.72 221.16h6.08v6.08h-6.08zM296.80 221.16h6.08v6.08h-6.08zM175.10 227.25h6.08v6.08h-6.08zM181.19 227.25h6.08v6.08h-6.08zM187.27 227.25h6.08v6.08h-6.08zM278.55 227.25h6.08v6.08h-6.08zM284.63 227.25h6.08v6.08h-6.08zM290.72 227.25h6.08v6.08h-6.08zM296.80 227.25h6.08v6.08h-6.08zM175.10 233.33h6.08v6.08h-6.08zM181.19 233.33h6.08v6.08h-6.08zM242.04 233.33h6.08v6.08h-6.08zM266.38 233.33h6.08v6.08h-6.08zM272.46 233.33h6.08v6.08h-6.08zM278.55 233.33h6.08v6.08h-6.08zM284.63 233.33h6.08v6.08h-6.08zM290.72 233.33h6.08v6.08h-6.08zM235.95 239.42h6.08v6.08h-6.08zM242.04 239.42h6.08v6.08h-6.08zM248.12 239.42h6.08v6.08h-6.08zM260.29 239.42h6.08v6.08h-6.08zM266.38 239.42h6.08v6.08h-6.08zM272.46 239.42h6.08v6.08h-6.08zM266.38 245.50h6.08v6.08h-6.08zM272.46 245.50h6.08v6.08h-6.08zM272.46 251.58h6.08v6.08h-6.08z" fill="#d2fa6e"/>
<path d="M296.80 105.55h6.08v6.08h-6.08zM302.89 105.55h6.08v6.08h-6.08zM315.06 105.55h6.08v6.08h-6.08zM321.14 105.55h6.08v6.08h-6.08zM327.23 105.55h6.08v6.08h-6.08zM333.31 105.55h6.08v6.08h-6.08zM254.21 111.63h6.08v6.08h-6.08zM272.46 111.63h6.08v6.08h-6.08zM278.55 111.63h6.08v6.08h-6.08zM284.63 111.63h6.08v6.08h-6.08zM290.72 111.63h6.08v6.08h-6.08zM296.80 111.63h6.08v6.08h-6.08zM302.89 111.63h6.08v6.08h-6.08zM308.97 111.63h6.08v6.08h-6.08zM321.14 111.63h6.08v6.08h-6.08zM266.38 117.72h6.08v6.08h-6.08zM272.46 117.72h6.08v6.08h-6.08zM278.55 117.72h6.08v6.08h-6.08zM327.23 117.72h6.08v6.08h-6.08zM290.72 123.80h6.08v6.08h-6.08zM296.80 123.80h6.08v6.08h-6.08zM327.23 123.80h6.08v6.08h-6.08zM333.31 123.80h6.08v6.08h-6.08zM339.40 123.80h6.08v6.08h-6.08zM327.23 129.88h6.08v6.08h-6.08zM333.31 129.88h6.08v6.08h-6.08zM339.40 129.88h6.08v6.08h-6.08zM278.55 135.97h6.08v6.08h-6.08zM284.63 135.97h6.08v6.08h-6.08zM333.31 135.97h6.08v6.08h-6.08zM339.40 135.97h6.08v6.08h-6.08zM272.46 142.06h6.08v6.08h-6.08zM278.55 142.06h6.08v6.08h-6.08zM284.63 142.06h6.08v6.08h-6.08zM290.72 142.06h6.08v6.08h-6.08zM308.97 142.06h6.08v6.08h-6.08zM315.06 142.06h6.08v6.08h-6.08zM339.40 142.06h6.08v6.08h-6.08zM296.80 148.14h6.08v6.08h-6.08zM302.89 148.14h6.08v6.08h-6.08zM308.97 148.14h6.08v6.08h-6.08zM315.06 148.14h6.08v6.08h-6.08zM321.14 148.14h6.08v6.08h-6.08zM327.23 148.14h6.08v6.08h-6.08zM333.31 148.14h6.08v6.08h-6.08zM290.72 154.23h6.08v6.08h-6.08zM296.80 154.23h6.08v6.08h-6.08zM302.89 154.23h6.08v6.08h-6.08zM308.97 154.23h6.08v6.08h-6.08zM315.06 154.23h6.08v6.08h-6.08zM321.14 154.23h6.08v6.08h-6.08zM327.23 154.23h6.08v6.08h-6.08zM333.31 154.23h6.08v6.08h-6.08zM290.72 160.31h6.08v6.08h-6.08zM296.80 160.31h6.08v6.08h-6.08zM302.89 160.31h6.08v6.08h-6.08zM315.06 160.31h6.08v6.08h-6.08zM321.14 160.31h6.08v6.08h-6.08zM327.23 160.31h6.08v6.08h-6.08zM333.31 160.31h6.08v6.08h-6.08zM284.63 166.39h6.08v6.08h-6.08zM290.72 166.39h6.08v6.08h-6.08zM296.80 166.39h6.08v6.08h-6.08zM315.06 166.39h6.08v6.08h-6.08zM321.14 166.39h6.08v6.08h-6.08zM327.23 166.39h6.08v6.08h-6.08zM333.31 166.39h6.08v6.08h-6.08zM290.72 172.48h6.08v6.08h-6.08zM296.80 172.48h6.08v6.08h-6.08zM302.89 172.48h6.08v6.08h-6.08zM308.97 172.48h6.08v6.08h-6.08zM315.06 172.48h6.08v6.08h-6.08zM321.14 172.48h6.08v6.08h-6.08zM327.23 172.48h6.08v6.08h-6.08zM333.31 172.48h6.08v6.08h-6.08zM302.89 178.56h6.08v6.08h-6.08zM315.06 178.56h6.08v6.08h-6.08zM321.14 178.56h6.08v6.08h-6.08zM327.23 178.56h6.08v6.08h-6.08zM333.31 178.56h6.08v6.08h-6.08zM302.89 184.65h6.08v6.08h-6.08zM308.97 184.65h6.08v6.08h-6.08zM315.06 184.65h6.08v6.08h-6.08zM315.06 190.74h6.08v6.08h-6.08zM321.14 190.74h6.08v6.08h-6.08zM296.80 196.82h6.08v6.08h-6.08zM321.14 196.82h6.08v6.08h-6.08zM327.23 196.82h6.08v6.08h-6.08zM302.89 202.91h6.08v6.08h-6.08zM308.97 202.91h6.08v6.08h-6.08zM296.80 208.99h6.08v6.08h-6.08zM321.14 215.07h6.08v6.08h-6.08zM327.23 215.07h6.08v6.08h-6.08zM333.31 215.07h6.08v6.08h-6.08zM272.46 221.16h6.08v6.08h-6.08zM327.23 221.16h6.08v6.08h-6.08zM333.31 221.16h6.08v6.08h-6.08zM193.36 227.25h6.08v6.08h-6.08zM199.44 227.25h6.08v6.08h-6.08zM205.53 227.25h6.08v6.08h-6.08zM211.61 227.25h6.08v6.08h-6.08zM272.46 227.25h6.08v6.08h-6.08zM333.31 227.25h6.08v6.08h-6.08zM187.27 233.33h6.08v6.08h-6.08zM193.36 233.33h6.08v6.08h-6.08zM199.44 233.33h6.08v6.08h-6.08zM205.53 233.33h6.08v6.08h-6.08zM211.61 233.33h6.08v6.08h-6.08zM248.12 233.33h6.08v6.08h-6.08zM254.21 233.33h6.08v6.08h-6.08zM260.29 233.33h6.08v6.08h-6.08zM181.19 239.42h6.08v6.08h-6.08zM187.27 239.42h6.08v6.08h-6.08zM193.36 239.42h6.08v6.08h-6.08zM199.44 239.42h6.08v6.08h-6.08zM205.53 239.42h6.08v6.08h-6.08zM211.61 239.42h6.08v6.08h-6.08zM254.21 239.42h6.08v6.08h-6.08zM235.95 245.50h6.08v6.08h-6.08zM242.04 245.50h6.08v6.08h-6.08zM248.12 245.50h6.08v6.08h-6.08zM254.21 245.50h6.08v6.08h-6.08zM260.29 245.50h6.08v6.08h-6.08zM235.95 251.58h6.08v6.08h-6.08zM242.04 251.58h6.08v6.08h-6.08zM248.12 251.58h6.08v6.08h-6.08zM254.21 251.58h6.08v6.08h-6.08zM260.29 251.58h6.08v6.08h-6.08zM266.38 251.58h6.08v6.08h-6.08z" fill="#ffff00"/>
<path d="M327.23 111.63h6.08v6.08h-6.08zM333.31 111.63h6.08v6.08h-6.08zM254.21 117.72h6.08v6.08h-6.08zM260.29 117.72h6.08v6.08h-6.08zM302.89 117.72h6.08v6.08h-6.08zM321.14 117.72h6.08v6.08h-6.08zM333.31 117.72h6.08v6.08h-6.08zM308.97 160.31h6.08v6.08h-6.08zM302.89 166.39h6.08v6.08h-6.08zM308.97 166.39h6.08v6.08h-6.08zM308.97 178.56h6.08v6.08h-6.08zM302.89 208.99h6.08v6.08h-6.08zM308.97 208.99h6.08v6.08h-6.08zM302.89 215.07h6.08v6.08h-6.08zM308.97 215.07h6.08v6.08h-6.08zM315.06 215.07h6.08v6.08h-6.08zM302.89 221.16h6.08v6.08h-6.08zM308.97 221.16h6.08v6.08h-6.08zM315.06 221.16h6.08v6.08h-6.08zM321.14 221.16h6.08v6.08h-6.08zM302.89 227.25h6.08v6.08h-6.08zM308.97 227.25h6.08v6.08h-6.08zM315.06 227.25h6.08v6.08h-6.08zM321.14 227.25h6.08v6.08h-6.08zM327.23 227.25h6.08v6.08h-6.08zM302.89 233.33h6.08v6.08h-6.08zM308.97 233.33h6.08v6.08h-6.08zM315.06 233.33h6.08v6.08h-6.08zM321.14 233.33h6.08v6.08h-6.08zM327.23 233.33h6.08v6.08h-6.08z" fill="#ffb400"/>
<rect x="0" y="0" width="420" height="260" fill="url(#cg)"/>
</g>
<line x1="74.7" y1="23" x2="74.7" y2="350" stroke="#c4c4c4" stroke-opacity="0.8" stroke-width="1" stroke-dasharray="3 11" stroke-dashoffset="-5"/>
<line x1="74.7" y1="22.5" x2="74.7" y2="25" stroke="#444" stroke-width="0.8"/>
<line x1="74.7" y1="348.5" x2="74.7" y2="351" stroke="#444" stroke-width="0.8"/>
<line x1="135.6" y1="23" x2="135.6" y2="350" stroke="#c4c4c4" stroke-opacity="0.8" stroke-width="1" stroke-dasharray="3 11" stroke-dashoffset="-5"/>
<line x1="135.6" y1="22.5" x2="135.6" y2="25" stroke="#444" stroke-width="0.8"/>
<line x1="135.6" y1="348.5" x2="135.6" y2="351" stroke="#444" stroke-width="0.8"/>
<line x1="196.4" y1="23" x2="196.4" y2="350" stroke="#c4c4c4" stroke-opacity="0.8" stroke-width="1" stroke-dasharray="3 11" stroke-dashoffset="-5"/>
<line x1="196.4" y1="22.5" x2="196.4" y2="25" stroke="#444" stroke-width="0.8"/>
<line x1="196.4" y1="348.5" x2="196.4" y2="351" stroke="#444" stroke-width="0.8"/>
<line x1="257.2" y1="23" x2="257.2" y2="350" stroke="#c4c4c4" stroke-opacity="0.8" stroke-width="1" stroke-dasharray="3 11" stroke-dashoffset="-5"/>
<line x1="257.2" y1="22.5" x2="257.2" y2="25" stroke="#444" stroke-width="0.8"/>
<line x1="257.2" y1="348.5" x2="257.2" y2="351" stroke="#444" stroke-width="0.8"/>
<line x1="318.1" y1="23" x2="318.1" y2="350" stroke="#c4c4c4" stroke-opacity="0.8" stroke-width="1" stroke-dasharray="3 11" stroke-dashoffset="-5"/>
<line x1="318.1" y1="22.5" x2="318.1" y2="25" stroke="#444" stroke-width="0.8"/>
<line x1="318.1" y1="348.5" x2="318.1" y2="351" stroke="#444" stroke-width="0.8"/>
<line x1="378.9" y1="23" x2="378.9" y2="350" stroke="#c4c4c4" stroke-opacity="0.8" stroke-width="1" stroke-dasharray="3 11" stroke-dashoffset="-5"/>
<line x1="378.9" y1="22.5" x2="378.9" y2="25" stroke="#444" stroke-width="0.8"/>
<line x1="378.9" y1="348.5" x2="378.9" y2="351" stroke="#444" stroke-width="0.8"/>
<line x1="25" y1="306.4" x2="419" y2="306.4" stroke="#d6d6d6" stroke-opacity="0.8" stroke-width="1" stroke-dasharray="3.4 10.5" stroke-dashoffset="-1"/>
<line x1="25" y1="245.5" x2="419" y2="245.5" stroke="#d6d6d6" stroke-opacity="0.8" stroke-width="1" stroke-dasharray="3.4 10.5" stroke-dashoffset="-1"/>
<line x1="25" y1="184.7" x2="419" y2="184.7" stroke="#d6d6d6" stroke-opacity="0.8" stroke-width="1" stroke-dasharray="3.4 10.5" stroke-dashoffset="-1"/>
<line x1="25" y1="123.8" x2="419" y2="123.8" stroke="#d6d6d6" stroke-opacity="0.8" stroke-width="1" stroke-dasharray="3.4 10.5" stroke-dashoffset="-1"/>
<line x1="25" y1="63.0" x2="419" y2="63.0" stroke="#d6d6d6" stroke-opacity="0.8" stroke-width="1" stroke-dasharray="3.4 10.5" stroke-dashoffset="-1"/>
<polygon points="32.4,121.8 35.1,118.0 38.8,116.5 43.2,115.0 47.6,114.3 53.4,112.8 59.3,111.4 63.7,109.2 69.5,106.2 73.2,104.8 73.9,100.4 75.4,97.5 73.9,93.1 71.7,88.0 75.4,86.5 81.2,85.7 86.4,86.5 87.8,82.1 90.0,74.8 93.0,74.0 98.8,74.8 105.4,74.8 106.1,68.9 109.1,66.7 113.5,63.8 117.8,62.3 120.0,63.0 121.5,66.7 126.6,68.9 132.5,71.1 137.6,72.6 139.1,77.0 137.6,80.6 140.5,83.6 147.1,86.5 154.5,87.9 158.8,90.1 163.2,92.3 166.9,94.5 170.0,98.9 171.1,100.6 179.1,102.0 187.0,102.6 193.0,102.0 199.0,101.6 204.9,103.2 210.9,105.1 218.0,106.5 224.6,104.9 232.9,103.6 241.3,103.2 248.6,102.2 253.8,100.1 260.1,98.0 263.3,95.9 264.3,91.7 266.4,88.6 269.5,88.2 274.8,86.9 281.0,85.4 285.2,84.0 291.5,81.3 297.8,79.2 304.0,77.7 310.3,76.4 314.5,75.0 313.5,71.8 308.2,70.2 302.0,69.7 295.7,70.2 291.5,70.8 289.0,67.7 291.5,63.5 294.6,59.3 299.9,58.2 306.1,58.2 312.4,56.8 314.5,52.0 316.6,46.7 315.6,40.5 318.7,39.4 322.9,37.3 329.2,36.3 337.5,35.9 343.8,37.3 350.1,39.4 354.3,44.6 358.4,50.9 360.5,57.2 364.7,60.3 371.0,61.4 377.3,63.5 381.5,67.7 383.5,70.8 389.8,69.7 396.1,68.7 402.4,67.2 406.6,66.6 405.5,68.7 401.3,73.9 398.2,80.2 396.1,86.5 391.9,87.5 385.6,88.6 383.5,92.8 381.5,96.9 379.4,102.2 377.9,101.9 372.8,103.8 365.3,106.3 364.0,109.4 360.3,108.8 357.8,107.5 355.3,109.4 351.5,111.9 346.5,113.8 342.7,116.9 340.2,119.5 335.2,121.3 330.2,123.2 326.4,124.5 323.3,125.1 322.0,123.2 323.9,120.7 326.4,118.8 328.3,115.7 327.0,113.8 323.9,113.2 320.1,115.1 315.1,118.8 308.8,122.0 303.8,123.2 301.3,125.1 301.3,127.6 305.1,129.5 308.8,130.8 309.5,133.9 312.0,135.1 316.4,132.0 320.1,129.5 320.8,128.2 322.6,132.6 327.6,133.3 331.4,133.9 330.2,136.4 325.1,137.7 320.1,140.2 316.4,143.9 311.3,147.7 310.7,149.6 315.1,152.7 318.9,156.5 321.4,161.5 323.9,165.3 326.4,169.0 327.7,174.1 331.4,174.7 328.9,177.8 329.1,180.0 326.6,183.8 325.3,187.5 322.8,191.3 319.0,195.1 316.5,198.8 314.0,202.6 312.8,206.4 309.0,208.9 305.2,211.4 301.5,213.9 297.7,217.0 293.9,220.8 287.7,223.3 282.6,224.6 277.6,226.4 272.6,228.3 266.3,229.6 261.3,230.8 257.5,232.7 256.9,236.5 254.7,236.5 252.5,235.0 252.5,232.8 250.3,231.4 245.9,230.6 241.5,229.2 237.1,227.7 234.2,225.5 232.8,223.3 229.8,221.9 225.4,220.4 221.0,221.9 215.2,223.3 210.8,224.8 206.4,225.5 204.2,228.4 204.2,232.1 200.5,231.4 199.1,229.2 194.7,230.4 191.8,229.2 188.8,224.8 188.1,220.4 185.9,215.3 181.5,213.1 179.3,210.9 180.0,208.0 183.0,204.3 185.2,201.4 184.4,197.0 183.0,191.1 180.0,188.9 177.1,189.6 172.7,190.4 166.9,191.1 161.0,192.6 155.1,193.3 149.3,195.5 144.9,196.2 140.5,191.8 134.6,190.8 128.8,191.1 125.9,193.3 122.1,191.6 115.9,190.9 109.6,190.9 104.6,188.4 99.5,186.6 94.5,184.1 89.5,180.9 84.5,179.0 79.5,178.4 75.7,175.9 70.7,173.4 65.7,170.2 64.4,167.7 63.1,165.2 63.1,162.7 65.7,160.2 65.0,154.6 64.4,150.2 60.6,146.4 55.6,144.5 50.6,142.6 46.8,140.1 43.1,137.0 39.3,135.1 38.7,130.1 39.3,126.3 35.5,125.1 33.6,123.8" fill="none" stroke="#555" stroke-width="0.7"/>
<polygon points="245.9,243.8 248.9,241.6 253.3,240.2 257.6,239.4 260.0,240.2 258.8,244.0 255.0,247.8 251.8,249.7 247.4,248.2" fill="none" stroke="#555" stroke-width="0.7"/>
<polygon points="325.3,208.2 327.2,210.1 325.3,216.4 323.4,221.4 320.3,227.1 318.4,225.8 315.9,221.4 315.3,218.3 317.8,213.9 321.5,209.5" fill="none" stroke="#555" stroke-width="0.7"/>
<line x1="24.3" y1="22.5" x2="419.5" y2="22.5" stroke="#8c8c8c" stroke-width="1.2"/>
<line x1="24.3" y1="350.8" x2="419.5" y2="350.8" stroke="#8c8c8c" stroke-width="1.4"/>
<line x1="24.3" y1="22" x2="24.3" y2="351.3" stroke="#2a2a2a" stroke-width="1.3"/>
<line x1="419.4" y1="22" x2="419.4" y2="351.3" stroke="#111" stroke-width="1.3"/>
<text x="74.7" y="18.8" font-size="10.2" text-anchor="middle" fill="#222" style="font-family:'Liberation Serif',serif">80&#176;E</text>
<text x="74.7" y="363.8" font-size="10.2" text-anchor="middle" fill="#222" style="font-family:'Liberation Serif',serif">80&#176;E</text>
<text x="135.6" y="18.8" font-size="10.2" text-anchor="middle" fill="#222" style="font-family:'Liberation Serif',serif">90&#176;E</text>
<text x="135.6" y="363.8" font-size="10.2" text-anchor="middle" fill="#222" style="font-family:'Liberation Serif',serif">90&#176;E</text>
<text x="196.4" y="18.8" font-size="10.2" text-anchor="middle" fill="#222" style="font-family:'Liberation Serif',serif">100&#176;E</text>
<text x="196.4" y="363.8" font-size="10.2" text-anchor="middle" fill="#222" style="font-family:'Liberation Serif',serif">100&#176;E</text>
<text x="257.2" y="18.8" font-size="10.2" text-anchor="middle" fill="#222" style="font-family:'Liberation Serif',serif">110&#176;E</text>
<text x="257.2" y="363.8" font-size="10.2" text-anchor="middle" fill="#222" style="font-family:'Liberation Serif',serif">110&#176;E</text>
<text x="318.1" y="18.8" font-size="10.2" text-anchor="middle" fill="#222" style="font-family:'Liberation Serif',serif">120&#176;E</text>
<text x="318.1" y="363.8" font-size="10.2" text-anchor="middle" fill="#222" style="font-family:'Liberation Serif',serif">120&#176;E</text>
<text x="378.9" y="18.8" font-size="10.2" text-anchor="middle" fill="#222" style="font-family:'Liberation Serif',serif">130&#176;E</text>
<text x="378.9" y="363.8" font-size="10.2" text-anchor="middle" fill="#222" style="font-family:'Liberation Serif',serif">130&#176;E</text>
<text transform="translate(21.3,306.4) rotate(-90)" font-size="10.2" text-anchor="middle" fill="#222" style="font-family:'Liberation Serif',serif">10&#176;N</text>
<text transform="translate(433.2,306.4) rotate(-90)" font-size="10.2" text-anchor="middle" fill="#222" style="font-family:'Liberation Serif',serif">10&#176;N</text>
<text transform="translate(21.3,245.5) rotate(-90)" font-size="10.2" text-anchor="middle" fill="#222" style="font-family:'Liberation Serif',serif">20&#176;N</text>
<text transform="translate(433.2,245.5) rotate(-90)" font-size="10.2" text-anchor="middle" fill="#222" style="font-family:'Liberation Serif',serif">20&#176;N</text>
<text transform="translate(21.3,184.7) rotate(-90)" font-size="10.2" text-anchor="middle" fill="#222" style="font-family:'Liberation Serif',serif">30&#176;N</text>
<text transform="translate(433.2,184.7) rotate(-90)" font-size="10.2" text-anchor="middle" fill="#222" style="font-family:'Liberation Serif',serif">30&#176;N</text>
<text transform="translate(21.3,123.8) rotate(-90)" font-size="10.2" text-anchor="middle" fill="#222" style="font-family:'Liberation Serif',serif">40&#176;N</text>
<text transform="translate(433.2,123.8) rotate(-90)" font-size="10.2" text-anchor="middle" fill="#222" style="font-family:'Liberation Serif',serif">40&#176;N</text>
<text transform="translate(21.3,63.0) rotate(-90)" font-size="10.2" text-anchor="middle" fill="#222" style="font-family:'Liberation Serif',serif">50&#176;N</text>
<text transform="translate(433.2,63.0) rotate(-90)" font-size="10.2" text-anchor="middle" fill="#222" style="font-family:'Liberation Serif',serif">50&#176;N</text>
<text x="407" y="32.3" font-size="6.5" font-weight="bold" text-anchor="middle" fill="#1a1a1a" style="font-family:'Liberation Sans',sans-serif">N</text>
<path d="M406.5 34L402.4 48.6L407.2 44.2Z" fill="#111"/>
<path d="M406.5 34L411.1 48.8L407.2 44.2Z" fill="none" stroke="#222" stroke-width="0.7"/>
<text x="35.9" y="226.9" font-size="11.3" fill="#111" style="font-family:'Liberation Serif',serif">XCO<tspan font-size="7.4" dy="1.9">2ano</tspan><tspan dy="-1.9">(ppm)</tspan></text>
<rect x="30" y="235.2" width="28.4" height="13.7" fill="#0000fc" stroke="#8a8a8a" stroke-width="0.4"/>
<rect x="133.2" y="235.2" width="28" height="13.7" fill="#d2fa6e" stroke="#8a8a8a" stroke-width="0.4"/>
<text x="63.3" y="246.3" font-size="11.2" fill="#111" style="font-family:'Liberation Serif',serif">&#8722;1.55 &#8722; &#8722;0.57</text>
<text x="166.1" y="246.3" font-size="11.2" fill="#111" style="font-family:'Liberation Serif',serif">0.73 &#8722; 1.08</text>
<rect x="30" y="254.1" width="28.4" height="13.7" fill="#3b5efc" stroke="#8a8a8a" stroke-width="0.4"/>
<rect x="133.2" y="254.1" width="28" height="13.7" fill="#ffff00" stroke="#8a8a8a" stroke-width="0.4"/>
<text x="63.3" y="265.2" font-size="11.2" fill="#111" style="font-family:'Liberation Serif',serif"><tspan fill="#8a8a8a">&#8722;</tspan>0.56 <tspan fill="#c8c8c8">&#8722;</tspan> <tspan fill="#8a8a8a">&#8722;</tspan>0.16</text>
<text x="166.1" y="265.2" font-size="11.2" fill="#111" style="font-family:'Liberation Serif',serif">1.09 <tspan fill="#c8c8c8">&#8722;</tspan> 1.46</text>
<rect x="30" y="273.0" width="28.4" height="13.7" fill="#3aa8fc" stroke="#8a8a8a" stroke-width="0.4"/>
<rect x="133.2" y="273.0" width="28" height="13.7" fill="#ffb400" stroke="#8a8a8a" stroke-width="0.4"/>
<text x="63.3" y="284.1" font-size="11.2" fill="#111" style="font-family:'Liberation Serif',serif">&#8722;0.15 &#8722; 0.14</text>
<text x="166.1" y="284.1" font-size="11.2" fill="#111" style="font-family:'Liberation Serif',serif">1.47 &#8722; 1.85</text>
<rect x="30" y="291.9" width="28.4" height="13.7" fill="#00fcfc" stroke="#8a8a8a" stroke-width="0.4"/>
<rect x="133.2" y="291.9" width="28" height="13.7" fill="#ff6e00" stroke="#8a8a8a" stroke-width="0.4"/>
<text x="63.3" y="303.0" font-size="11.2" fill="#111" style="font-family:'Liberation Serif',serif">0.15 &#8722; 0.41</text>
<text x="166.1" y="303.0" font-size="11.2" fill="#111" style="font-family:'Liberation Serif',serif">1.86 &#8722; 2.28</text>
<rect x="30" y="310.8" width="28.4" height="13.7" fill="#96fbb4" stroke="#8a8a8a" stroke-width="0.4"/>
<rect x="133.2" y="310.8" width="28" height="13.7" fill="#ff0000" stroke="#8a8a8a" stroke-width="0.4"/>
<text x="63.3" y="321.9" font-size="11.2" fill="#111" style="font-family:'Liberation Serif',serif">0.42 <tspan fill="#c8c8c8">&#8722;</tspan> 0.72</text>
<text x="166.1" y="321.9" font-size="11.2" fill="#111" style="font-family:'Liberation Serif',serif">2.29 <tspan fill="#c8c8c8">&#8722;</tspan> 3.24</text>
<rect x="27.6" y="330.2" width="18.2" height="9" fill="#fff" stroke="#777" stroke-width="0.6"/>
<text x="49.6" y="338.6" font-size="10.9" fill="#111" style="font-family:'Liberation Serif',serif">National boundaries</text>
<rect x="148.2" y="330.2" width="17.8" height="9" fill="url(#hatch)" stroke="#777" stroke-width="0.6"/>
<text x="170" y="338.6" font-size="10.9" fill="#111" style="font-family:'Liberation Serif',serif">Background area</text>
<rect x="295.3" y="339.6" width="41.7" height="3.8" fill="#000"/>
<rect x="337" y="339.9" width="41.6" height="3.3" fill="#fff" stroke="#000" stroke-width="0.6"/>
<text x="295.8" y="334.9" font-size="10" text-anchor="middle" fill="#111" style="font-family:'Liberation Serif',serif">0</text>
<text x="337.2" y="334.9" font-size="10" text-anchor="middle" fill="#111" style="font-family:'Liberation Serif',serif">750</text>
<text x="368.9" y="334.9" font-size="10" fill="#111" style="font-family:'Liberation Serif',serif">1500 km</text>
<text transform="translate(221.9,388.1) scale(1,1.06)" font-size="19.5" text-anchor="middle" fill="#111" style="font-family:'Liberation Serif',serif">(<tspan font-weight="bold">i</tspan>) 2018</text>
<line x1="311.5" y1="251.5" x2="315.1" y2="246.6" stroke="#1a1a1a" stroke-width="0.9"/>
<line x1="250.0" y1="263.5" x2="253.7" y2="268.8" stroke="#1a1a1a" stroke-width="0.9"/>
<line x1="309.6" y1="264.1" x2="309.6" y2="270.3" stroke="#1a1a1a" stroke-width="0.9"/>
<line x1="254.4" y1="293.2" x2="256.6" y2="287.3" stroke="#1a1a1a" stroke-width="0.9"/>
<line x1="306.4" y1="295.0" x2="308.6" y2="289.2" stroke="#1a1a1a" stroke-width="0.9"/>
<line x1="288.4" y1="317.7" x2="292.5" y2="312.6" stroke="#1a1a1a" stroke-width="0.9"/>
<line x1="251.5" y1="315.9" x2="253.7" y2="315.1" stroke="#1a1a1a" stroke-width="0.9"/>
<line x1="263.5" y1="315.1" x2="264.6" y2="313.3" stroke="#1a1a1a" stroke-width="0.9"/>
<line x1="269.0" y1="327.6" x2="269.4" y2="326.1" stroke="#1a1a1a" stroke-width="0.9"/>
<line x1="264.3" y1="308.2" x2="272.0" y2="307.5" stroke="#1a1a1a" stroke-width="0.9"/>
<line x1="274.9" y1="306.4" x2="280.7" y2="308.5" stroke="#1a1a1a" stroke-width="0.9"/>
<line x1="277.8" y1="313.0" x2="277.8" y2="316.2" stroke="#1a1a1a" stroke-width="0.9"/>
<line x1="282.2" y1="311.8" x2="286.2" y2="310.4" stroke="#1a1a1a" stroke-width="0.9"/>
<line x1="276.4" y1="299.8" x2="277.8" y2="300.5" stroke="#1a1a1a" stroke-width="0.9"/>
<line x1="280.0" y1="302.0" x2="282.2" y2="301.2" stroke="#1a1a1a" stroke-width="0.9"/>
<line x1="279.3" y1="299.0" x2="282.2" y2="298.3" stroke="#1a1a1a" stroke-width="0.9"/>
<line x1="279.3" y1="294.6" x2="280.7" y2="295.4" stroke="#1a1a1a" stroke-width="0.9"/>
<line x1="283.7" y1="293.5" x2="284.4" y2="295.4" stroke="#1a1a1a" stroke-width="0.9"/>
<line x1="297.6" y1="296.5" x2="300.5" y2="296.5" stroke="#1a1a1a" stroke-width="0.9"/>
<line x1="296.1" y1="295.4" x2="296.6" y2="293.5" stroke="#1a1a1a" stroke-width="0.9"/>
<line x1="337.9" y1="203.2" x2="336.6" y2="204.5" stroke="#1a1a1a" stroke-width="0.9"/>
<line x1="332.2" y1="212.6" x2="330.3" y2="218.3" stroke="#1a1a1a" stroke-width="0.9"/>
<line x1="326.6" y1="229.6" x2="322.2" y2="234.6" stroke="#1a1a1a" stroke-width="0.9"/>
<line x1="311.5" y1="217.7" x2="312.3" y2="220.2" stroke="#1a1a1a" stroke-width="0.9"/>
<line x1="268.8" y1="325.8" x2="269.4" y2="327.9" stroke="#1a1a1a" stroke-width="0.9"/>
<ellipse cx="280.3" cy="265.1" rx="3.7" ry="1.3" transform="rotate(-25 280.3 265.1)" fill="none" stroke="#222" stroke-width="0.8"/>
<circle cx="263.6" cy="257.3" r="0.6" fill="#222"/>
<circle cx="265.7" cy="258.4" r="0.6" fill="#222"/>
<circle cx="269.9" cy="259.6" r="0.6" fill="#222"/>
<circle cx="263.1" cy="262.5" r="0.6" fill="#222"/>
<circle cx="264.6" cy="262.0" r="0.6" fill="#222"/>
<circle cx="269.4" cy="263.9" r="0.6" fill="#222"/>
<circle cx="301.3" cy="269.3" r="0.6" fill="#222"/>
<circle cx="295.5" cy="262.5" r="0.6" fill="#222"/>
<circle cx="295.8" cy="235.9" r="0.6" fill="#222"/>
<circle cx="324.0" cy="227.1" r="0.6" fill="#222"/>
<circle cx="255.1" cy="310.7" r="0.6" fill="#222"/>
<circle cx="257.0" cy="312.2" r="0.6" fill="#222"/>
<circle cx="257.3" cy="314.0" r="0.6" fill="#222"/>
<circle cx="282.2" cy="307.5" r="0.6" fill="#222"/>
<circle cx="274.2" cy="311.5" r="0.6" fill="#222"/>
<circle cx="272.0" cy="303.1" r="0.6" fill="#222"/>
<circle cx="280.4" cy="292.1" r="0.6" fill="#222"/>
<circle cx="286.6" cy="299.4" r="0.6" fill="#222"/>
<circle cx="289.2" cy="297.2" r="0.6" fill="#222"/>
<circle cx="292.1" cy="296.5" r="0.6" fill="#222"/>
<circle cx="293.9" cy="298.3" r="0.6" fill="#222"/>
<circle cx="287.3" cy="304.2" r="0.6" fill="#222"/>
<circle cx="290.3" cy="302.0" r="0.6" fill="#222"/>
<circle cx="293.9" cy="302.0" r="0.6" fill="#222"/>
<circle cx="296.1" cy="304.2" r="0.6" fill="#222"/>
<circle cx="292.5" cy="307.5" r="0.6" fill="#222"/>
<circle cx="293.9" cy="305.6" r="0.6" fill="#222"/>
<circle cx="301.6" cy="295.7" r="0.6" fill="#222"/>
<circle cx="284.5" cy="303.0" r="0.6" fill="#222"/>
<circle cx="288.5" cy="300.5" r="0.6" fill="#222"/>
</g>
<g transform="translate(512.8,776.6)">
<g clip-path="url(#cl)">
<path d="M296.80 38.61h6.08v6.08h-6.08zM302.89 38.61h6.08v6.08h-6.08zM308.97 38.61h6.08v6.08h-6.08zM315.06 38.61h6.08v6.08h-6.08zM321.14 38.61h6.08v6.08h-6.08zM302.89 44.70h6.08v6.08h-6.08zM308.97 44.70h6.08v6.08h-6.08zM315.06 44.70h6.08v6.08h-6.08zM96.00 50.78h6.08v6.08h-6.08zM102.08 50.78h6.08v6.08h-6.08zM108.17 50.78h6.08v6.08h-6.08zM114.25 50.78h6.08v6.08h-6.08zM120.34 50.78h6.08v6.08h-6.08zM126.42 50.78h6.08v6.08h-6.08zM308.97 50.78h6.08v6.08h-6.08zM315.06 50.78h6.08v6.08h-6.08zM321.14 50.78h6.08v6.08h-6.08zM345.48 50.78h6.08v6.08h-6.08zM351.57 50.78h6.08v6.08h-6.08zM96.00 56.87h6.08v6.08h-6.08zM102.08 56.87h6.08v6.08h-6.08zM108.17 56.87h6.08v6.08h-6.08zM114.25 56.87h6.08v6.08h-6.08zM120.34 56.87h6.08v6.08h-6.08zM126.42 56.87h6.08v6.08h-6.08zM315.06 56.87h6.08v6.08h-6.08zM102.08 62.95h6.08v6.08h-6.08zM108.17 62.95h6.08v6.08h-6.08zM114.25 62.95h6.08v6.08h-6.08zM120.34 62.95h6.08v6.08h-6.08zM138.59 62.95h6.08v6.08h-6.08zM144.68 62.95h6.08v6.08h-6.08zM308.97 62.95h6.08v6.08h-6.08zM315.06 62.95h6.08v6.08h-6.08zM321.14 62.95h6.08v6.08h-6.08zM327.23 62.95h6.08v6.08h-6.08zM108.17 69.03h6.08v6.08h-6.08zM114.25 69.03h6.08v6.08h-6.08zM132.51 69.03h6.08v6.08h-6.08zM138.59 69.03h6.08v6.08h-6.08zM144.68 69.03h6.08v6.08h-6.08zM308.97 69.03h6.08v6.08h-6.08zM315.06 69.03h6.08v6.08h-6.08zM321.14 69.03h6.08v6.08h-6.08zM327.23 69.03h6.08v6.08h-6.08zM333.31 69.03h6.08v6.08h-6.08zM96.00 75.12h6.08v6.08h-6.08zM108.17 75.12h6.08v6.08h-6.08zM114.25 75.12h6.08v6.08h-6.08zM120.34 75.12h6.08v6.08h-6.08zM126.42 75.12h6.08v6.08h-6.08zM132.51 75.12h6.08v6.08h-6.08zM138.59 75.12h6.08v6.08h-6.08zM144.68 75.12h6.08v6.08h-6.08zM156.85 75.12h6.08v6.08h-6.08zM162.93 75.12h6.08v6.08h-6.08zM169.02 75.12h6.08v6.08h-6.08zM308.97 75.12h6.08v6.08h-6.08zM315.06 75.12h6.08v6.08h-6.08zM321.14 75.12h6.08v6.08h-6.08zM327.23 75.12h6.08v6.08h-6.08zM96.00 81.20h6.08v6.08h-6.08zM102.08 81.20h6.08v6.08h-6.08zM108.17 81.20h6.08v6.08h-6.08zM114.25 81.20h6.08v6.08h-6.08zM156.85 81.20h6.08v6.08h-6.08zM162.93 81.20h6.08v6.08h-6.08zM169.02 81.20h6.08v6.08h-6.08zM290.72 81.20h6.08v6.08h-6.08zM296.80 81.20h6.08v6.08h-6.08zM302.89 81.20h6.08v6.08h-6.08zM308.97 81.20h6.08v6.08h-6.08zM315.06 81.20h6.08v6.08h-6.08zM321.14 81.20h6.08v6.08h-6.08zM89.91 87.29h6.08v6.08h-6.08zM96.00 87.29h6.08v6.08h-6.08zM102.08 87.29h6.08v6.08h-6.08zM156.85 87.29h6.08v6.08h-6.08zM162.93 87.29h6.08v6.08h-6.08zM296.80 87.29h6.08v6.08h-6.08zM302.89 87.29h6.08v6.08h-6.08zM150.76 93.38h6.08v6.08h-6.08zM156.85 93.38h6.08v6.08h-6.08zM315.06 93.38h6.08v6.08h-6.08zM321.14 93.38h6.08v6.08h-6.08zM108.17 99.46h6.08v6.08h-6.08zM132.51 99.46h6.08v6.08h-6.08zM290.72 99.46h6.08v6.08h-6.08zM83.83 105.55h6.08v6.08h-6.08zM89.91 105.55h6.08v6.08h-6.08zM138.59 105.55h6.08v6.08h-6.08zM248.12 105.55h6.08v6.08h-6.08zM266.38 105.55h6.08v6.08h-6.08zM272.46 105.55h6.08v6.08h-6.08zM278.55 105.55h6.08v6.08h-6.08zM284.63 105.55h6.08v6.08h-6.08zM71.66 111.63h6.08v6.08h-6.08zM138.59 111.63h6.08v6.08h-6.08zM156.85 111.63h6.08v6.08h-6.08zM47.32 117.72h6.08v6.08h-6.08zM53.40 117.72h6.08v6.08h-6.08zM59.49 117.72h6.08v6.08h-6.08zM65.57 117.72h6.08v6.08h-6.08zM71.66 117.72h6.08v6.08h-6.08zM223.78 117.72h6.08v6.08h-6.08zM242.04 117.72h6.08v6.08h-6.08zM248.12 117.72h6.08v6.08h-6.08zM47.32 123.80h6.08v6.08h-6.08zM53.40 123.80h6.08v6.08h-6.08zM71.66 123.80h6.08v6.08h-6.08zM96.00 123.80h6.08v6.08h-6.08zM223.78 123.80h6.08v6.08h-6.08zM242.04 123.80h6.08v6.08h-6.08zM248.12 123.80h6.08v6.08h-6.08zM254.21 123.80h6.08v6.08h-6.08zM260.29 123.80h6.08v6.08h-6.08zM47.32 129.88h6.08v6.08h-6.08zM65.57 129.88h6.08v6.08h-6.08zM83.83 129.88h6.08v6.08h-6.08zM156.85 129.88h6.08v6.08h-6.08zM223.78 129.88h6.08v6.08h-6.08zM229.87 129.88h6.08v6.08h-6.08zM235.95 129.88h6.08v6.08h-6.08zM254.21 129.88h6.08v6.08h-6.08zM144.68 135.97h6.08v6.08h-6.08zM150.76 135.97h6.08v6.08h-6.08zM156.85 135.97h6.08v6.08h-6.08zM205.53 135.97h6.08v6.08h-6.08zM211.61 135.97h6.08v6.08h-6.08zM217.70 135.97h6.08v6.08h-6.08zM229.87 135.97h6.08v6.08h-6.08zM242.04 135.97h6.08v6.08h-6.08zM150.76 142.06h6.08v6.08h-6.08zM156.85 142.06h6.08v6.08h-6.08zM205.53 142.06h6.08v6.08h-6.08zM211.61 142.06h6.08v6.08h-6.08zM144.68 148.14h6.08v6.08h-6.08zM229.87 148.14h6.08v6.08h-6.08zM254.21 148.14h6.08v6.08h-6.08zM65.57 154.23h6.08v6.08h-6.08zM193.36 154.23h6.08v6.08h-6.08zM217.70 154.23h6.08v6.08h-6.08zM223.78 154.23h6.08v6.08h-6.08zM229.87 154.23h6.08v6.08h-6.08zM254.21 154.23h6.08v6.08h-6.08zM71.66 160.31h6.08v6.08h-6.08zM144.68 160.31h6.08v6.08h-6.08zM181.19 160.31h6.08v6.08h-6.08zM199.44 160.31h6.08v6.08h-6.08zM248.12 160.31h6.08v6.08h-6.08zM254.21 160.31h6.08v6.08h-6.08zM114.25 166.39h6.08v6.08h-6.08zM144.68 166.39h6.08v6.08h-6.08zM150.76 166.39h6.08v6.08h-6.08zM162.93 166.39h6.08v6.08h-6.08zM181.19 166.39h6.08v6.08h-6.08zM229.87 166.39h6.08v6.08h-6.08zM235.95 166.39h6.08v6.08h-6.08zM120.34 172.48h6.08v6.08h-6.08zM132.51 172.48h6.08v6.08h-6.08zM138.59 172.48h6.08v6.08h-6.08zM181.19 172.48h6.08v6.08h-6.08zM205.53 172.48h6.08v6.08h-6.08zM235.95 172.48h6.08v6.08h-6.08zM248.12 172.48h6.08v6.08h-6.08zM260.29 172.48h6.08v6.08h-6.08zM132.51 178.56h6.08v6.08h-6.08zM138.59 178.56h6.08v6.08h-6.08zM144.68 178.56h6.08v6.08h-6.08zM175.10 178.56h6.08v6.08h-6.08zM181.19 178.56h6.08v6.08h-6.08zM187.27 178.56h6.08v6.08h-6.08zM193.36 178.56h6.08v6.08h-6.08zM199.44 178.56h6.08v6.08h-6.08zM205.53 178.56h6.08v6.08h-6.08zM211.61 178.56h6.08v6.08h-6.08zM217.70 178.56h6.08v6.08h-6.08zM223.78 178.56h6.08v6.08h-6.08zM235.95 178.56h6.08v6.08h-6.08zM254.21 178.56h6.08v6.08h-6.08zM266.38 178.56h6.08v6.08h-6.08zM96.00 184.65h6.08v6.08h-6.08zM132.51 184.65h6.08v6.08h-6.08zM229.87 184.65h6.08v6.08h-6.08zM235.95 184.65h6.08v6.08h-6.08zM248.12 184.65h6.08v6.08h-6.08zM254.21 184.65h6.08v6.08h-6.08zM260.29 184.65h6.08v6.08h-6.08zM266.38 184.65h6.08v6.08h-6.08zM89.91 190.74h6.08v6.08h-6.08zM96.00 190.74h6.08v6.08h-6.08zM132.51 190.74h6.08v6.08h-6.08zM235.95 190.74h6.08v6.08h-6.08zM242.04 190.74h6.08v6.08h-6.08zM83.83 196.82h6.08v6.08h-6.08zM89.91 196.82h6.08v6.08h-6.08zM96.00 196.82h6.08v6.08h-6.08zM235.95 196.82h6.08v6.08h-6.08zM242.04 196.82h6.08v6.08h-6.08zM211.61 202.91h6.08v6.08h-6.08zM235.95 202.91h6.08v6.08h-6.08zM223.78 215.07h6.08v6.08h-6.08zM223.78 221.16h6.08v6.08h-6.08z" fill="#3aa8fc"/>
<path d="M327.23 38.61h6.08v6.08h-6.08zM345.48 38.61h6.08v6.08h-6.08zM351.57 38.61h6.08v6.08h-6.08zM357.65 38.61h6.08v6.08h-6.08zM363.74 38.61h6.08v6.08h-6.08zM369.82 38.61h6.08v6.08h-6.08zM321.14 44.70h6.08v6.08h-6.08zM333.31 44.70h6.08v6.08h-6.08zM339.40 44.70h6.08v6.08h-6.08zM351.57 44.70h6.08v6.08h-6.08zM357.65 44.70h6.08v6.08h-6.08zM363.74 44.70h6.08v6.08h-6.08zM369.82 44.70h6.08v6.08h-6.08zM375.91 44.70h6.08v6.08h-6.08zM381.99 44.70h6.08v6.08h-6.08zM327.23 50.78h6.08v6.08h-6.08zM333.31 50.78h6.08v6.08h-6.08zM339.40 50.78h6.08v6.08h-6.08zM357.65 50.78h6.08v6.08h-6.08zM363.74 50.78h6.08v6.08h-6.08zM369.82 50.78h6.08v6.08h-6.08zM375.91 50.78h6.08v6.08h-6.08zM381.99 50.78h6.08v6.08h-6.08zM388.08 50.78h6.08v6.08h-6.08zM321.14 56.87h6.08v6.08h-6.08zM333.31 56.87h6.08v6.08h-6.08zM339.40 56.87h6.08v6.08h-6.08zM345.48 56.87h6.08v6.08h-6.08zM351.57 56.87h6.08v6.08h-6.08zM357.65 56.87h6.08v6.08h-6.08zM363.74 56.87h6.08v6.08h-6.08zM369.82 56.87h6.08v6.08h-6.08zM375.91 56.87h6.08v6.08h-6.08zM381.99 56.87h6.08v6.08h-6.08zM400.25 56.87h6.08v6.08h-6.08zM406.33 56.87h6.08v6.08h-6.08zM333.31 62.95h6.08v6.08h-6.08zM339.40 62.95h6.08v6.08h-6.08zM345.48 62.95h6.08v6.08h-6.08zM351.57 62.95h6.08v6.08h-6.08zM375.91 62.95h6.08v6.08h-6.08zM400.25 62.95h6.08v6.08h-6.08zM406.33 62.95h6.08v6.08h-6.08zM339.40 69.03h6.08v6.08h-6.08zM345.48 69.03h6.08v6.08h-6.08zM351.57 69.03h6.08v6.08h-6.08zM400.25 69.03h6.08v6.08h-6.08zM406.33 69.03h6.08v6.08h-6.08zM102.08 75.12h6.08v6.08h-6.08zM333.31 75.12h6.08v6.08h-6.08zM339.40 75.12h6.08v6.08h-6.08zM345.48 75.12h6.08v6.08h-6.08zM406.33 75.12h6.08v6.08h-6.08zM120.34 81.20h6.08v6.08h-6.08zM175.10 81.20h6.08v6.08h-6.08zM327.23 81.20h6.08v6.08h-6.08zM108.17 87.29h6.08v6.08h-6.08zM169.02 87.29h6.08v6.08h-6.08zM175.10 87.29h6.08v6.08h-6.08zM315.06 87.29h6.08v6.08h-6.08zM321.14 87.29h6.08v6.08h-6.08zM327.23 87.29h6.08v6.08h-6.08zM162.93 93.38h6.08v6.08h-6.08zM169.02 93.38h6.08v6.08h-6.08zM296.80 93.38h6.08v6.08h-6.08zM302.89 93.38h6.08v6.08h-6.08zM308.97 93.38h6.08v6.08h-6.08zM327.23 93.38h6.08v6.08h-6.08zM114.25 99.46h6.08v6.08h-6.08zM120.34 99.46h6.08v6.08h-6.08zM126.42 99.46h6.08v6.08h-6.08zM229.87 99.46h6.08v6.08h-6.08zM235.95 99.46h6.08v6.08h-6.08zM296.80 99.46h6.08v6.08h-6.08zM315.06 99.46h6.08v6.08h-6.08zM321.14 99.46h6.08v6.08h-6.08zM96.00 105.55h6.08v6.08h-6.08zM102.08 105.55h6.08v6.08h-6.08zM108.17 105.55h6.08v6.08h-6.08zM114.25 105.55h6.08v6.08h-6.08zM120.34 105.55h6.08v6.08h-6.08zM126.42 105.55h6.08v6.08h-6.08zM132.51 105.55h6.08v6.08h-6.08zM229.87 105.55h6.08v6.08h-6.08zM235.95 105.55h6.08v6.08h-6.08zM242.04 105.55h6.08v6.08h-6.08zM77.74 111.63h6.08v6.08h-6.08zM83.83 111.63h6.08v6.08h-6.08zM89.91 111.63h6.08v6.08h-6.08zM96.00 111.63h6.08v6.08h-6.08zM120.34 117.72h6.08v6.08h-6.08zM229.87 117.72h6.08v6.08h-6.08zM235.95 117.72h6.08v6.08h-6.08zM89.91 123.80h6.08v6.08h-6.08zM235.95 123.80h6.08v6.08h-6.08zM266.38 123.80h6.08v6.08h-6.08zM321.14 123.80h6.08v6.08h-6.08zM327.23 123.80h6.08v6.08h-6.08zM333.31 123.80h6.08v6.08h-6.08zM41.23 129.88h6.08v6.08h-6.08zM71.66 129.88h6.08v6.08h-6.08zM77.74 129.88h6.08v6.08h-6.08zM260.29 129.88h6.08v6.08h-6.08zM321.14 129.88h6.08v6.08h-6.08zM327.23 129.88h6.08v6.08h-6.08zM333.31 129.88h6.08v6.08h-6.08zM339.40 129.88h6.08v6.08h-6.08zM235.95 135.97h6.08v6.08h-6.08zM248.12 135.97h6.08v6.08h-6.08zM327.23 135.97h6.08v6.08h-6.08zM333.31 135.97h6.08v6.08h-6.08zM339.40 135.97h6.08v6.08h-6.08zM229.87 142.06h6.08v6.08h-6.08zM235.95 142.06h6.08v6.08h-6.08zM242.04 142.06h6.08v6.08h-6.08zM248.12 142.06h6.08v6.08h-6.08zM333.31 142.06h6.08v6.08h-6.08zM339.40 142.06h6.08v6.08h-6.08zM235.95 148.14h6.08v6.08h-6.08zM248.12 148.14h6.08v6.08h-6.08zM260.29 148.14h6.08v6.08h-6.08zM235.95 154.23h6.08v6.08h-6.08zM242.04 154.23h6.08v6.08h-6.08zM248.12 154.23h6.08v6.08h-6.08zM260.29 154.23h6.08v6.08h-6.08zM193.36 160.31h6.08v6.08h-6.08zM205.53 160.31h6.08v6.08h-6.08zM211.61 160.31h6.08v6.08h-6.08zM217.70 160.31h6.08v6.08h-6.08zM223.78 160.31h6.08v6.08h-6.08zM229.87 160.31h6.08v6.08h-6.08zM235.95 160.31h6.08v6.08h-6.08zM242.04 160.31h6.08v6.08h-6.08zM260.29 160.31h6.08v6.08h-6.08zM187.27 166.39h6.08v6.08h-6.08zM205.53 166.39h6.08v6.08h-6.08zM211.61 166.39h6.08v6.08h-6.08zM217.70 166.39h6.08v6.08h-6.08zM223.78 166.39h6.08v6.08h-6.08zM242.04 166.39h6.08v6.08h-6.08zM248.12 166.39h6.08v6.08h-6.08zM254.21 166.39h6.08v6.08h-6.08zM260.29 166.39h6.08v6.08h-6.08zM150.76 172.48h6.08v6.08h-6.08zM162.93 172.48h6.08v6.08h-6.08zM169.02 172.48h6.08v6.08h-6.08zM187.27 172.48h6.08v6.08h-6.08zM199.44 172.48h6.08v6.08h-6.08zM211.61 172.48h6.08v6.08h-6.08zM217.70 172.48h6.08v6.08h-6.08zM223.78 172.48h6.08v6.08h-6.08zM229.87 172.48h6.08v6.08h-6.08zM242.04 172.48h6.08v6.08h-6.08zM266.38 172.48h6.08v6.08h-6.08zM162.93 178.56h6.08v6.08h-6.08zM229.87 178.56h6.08v6.08h-6.08zM242.04 178.56h6.08v6.08h-6.08zM248.12 178.56h6.08v6.08h-6.08zM120.34 184.65h6.08v6.08h-6.08zM126.42 184.65h6.08v6.08h-6.08zM138.59 184.65h6.08v6.08h-6.08zM144.68 184.65h6.08v6.08h-6.08zM242.04 184.65h6.08v6.08h-6.08zM126.42 190.74h6.08v6.08h-6.08zM138.59 190.74h6.08v6.08h-6.08zM150.76 190.74h6.08v6.08h-6.08zM156.85 190.74h6.08v6.08h-6.08zM199.44 190.74h6.08v6.08h-6.08zM248.12 190.74h6.08v6.08h-6.08zM254.21 190.74h6.08v6.08h-6.08zM260.29 190.74h6.08v6.08h-6.08zM266.38 190.74h6.08v6.08h-6.08zM150.76 196.82h6.08v6.08h-6.08zM156.85 196.82h6.08v6.08h-6.08zM150.76 202.91h6.08v6.08h-6.08zM156.85 202.91h6.08v6.08h-6.08zM205.53 202.91h6.08v6.08h-6.08zM242.04 202.91h6.08v6.08h-6.08zM211.61 208.99h6.08v6.08h-6.08zM217.70 208.99h6.08v6.08h-6.08zM229.87 208.99h6.08v6.08h-6.08zM235.95 208.99h6.08v6.08h-6.08zM229.87 215.07h6.08v6.08h-6.08zM254.21 227.25h6.08v6.08h-6.08z" fill="#00fcfc"/>
<path d="M333.31 38.61h6.08v6.08h-6.08zM339.40 38.61h6.08v6.08h-6.08zM388.08 56.87h6.08v6.08h-6.08zM394.16 56.87h6.08v6.08h-6.08zM357.65 62.95h6.08v6.08h-6.08zM363.74 62.95h6.08v6.08h-6.08zM369.82 62.95h6.08v6.08h-6.08zM381.99 62.95h6.08v6.08h-6.08zM388.08 62.95h6.08v6.08h-6.08zM394.16 62.95h6.08v6.08h-6.08zM357.65 69.03h6.08v6.08h-6.08zM363.74 69.03h6.08v6.08h-6.08zM381.99 69.03h6.08v6.08h-6.08zM388.08 69.03h6.08v6.08h-6.08zM394.16 69.03h6.08v6.08h-6.08zM351.57 75.12h6.08v6.08h-6.08zM357.65 75.12h6.08v6.08h-6.08zM363.74 75.12h6.08v6.08h-6.08zM138.59 81.20h6.08v6.08h-6.08zM144.68 81.20h6.08v6.08h-6.08zM333.31 81.20h6.08v6.08h-6.08zM339.40 81.20h6.08v6.08h-6.08zM345.48 81.20h6.08v6.08h-6.08zM114.25 87.29h6.08v6.08h-6.08zM120.34 87.29h6.08v6.08h-6.08zM138.59 87.29h6.08v6.08h-6.08zM144.68 87.29h6.08v6.08h-6.08zM181.19 87.29h6.08v6.08h-6.08zM187.27 87.29h6.08v6.08h-6.08zM199.44 87.29h6.08v6.08h-6.08zM205.53 87.29h6.08v6.08h-6.08zM211.61 87.29h6.08v6.08h-6.08zM308.97 87.29h6.08v6.08h-6.08zM333.31 87.29h6.08v6.08h-6.08zM339.40 87.29h6.08v6.08h-6.08zM132.51 93.38h6.08v6.08h-6.08zM138.59 93.38h6.08v6.08h-6.08zM144.68 93.38h6.08v6.08h-6.08zM181.19 93.38h6.08v6.08h-6.08zM187.27 93.38h6.08v6.08h-6.08zM199.44 93.38h6.08v6.08h-6.08zM205.53 93.38h6.08v6.08h-6.08zM181.19 99.46h6.08v6.08h-6.08zM187.27 99.46h6.08v6.08h-6.08zM199.44 99.46h6.08v6.08h-6.08zM302.89 99.46h6.08v6.08h-6.08zM308.97 99.46h6.08v6.08h-6.08zM327.23 99.46h6.08v6.08h-6.08zM290.72 105.55h6.08v6.08h-6.08zM357.65 105.55h6.08v6.08h-6.08zM108.17 111.63h6.08v6.08h-6.08zM114.25 111.63h6.08v6.08h-6.08zM229.87 111.63h6.08v6.08h-6.08zM272.46 111.63h6.08v6.08h-6.08zM278.55 111.63h6.08v6.08h-6.08zM357.65 111.63h6.08v6.08h-6.08zM363.74 111.63h6.08v6.08h-6.08zM83.83 117.72h6.08v6.08h-6.08zM89.91 117.72h6.08v6.08h-6.08zM357.65 117.72h6.08v6.08h-6.08zM363.74 117.72h6.08v6.08h-6.08zM369.82 117.72h6.08v6.08h-6.08zM229.87 123.80h6.08v6.08h-6.08zM272.46 123.80h6.08v6.08h-6.08zM278.55 123.80h6.08v6.08h-6.08zM284.63 123.80h6.08v6.08h-6.08zM315.06 123.80h6.08v6.08h-6.08zM266.38 129.88h6.08v6.08h-6.08zM272.46 129.88h6.08v6.08h-6.08zM278.55 129.88h6.08v6.08h-6.08zM284.63 129.88h6.08v6.08h-6.08zM308.97 129.88h6.08v6.08h-6.08zM315.06 129.88h6.08v6.08h-6.08zM254.21 135.97h6.08v6.08h-6.08zM266.38 135.97h6.08v6.08h-6.08zM272.46 135.97h6.08v6.08h-6.08zM308.97 135.97h6.08v6.08h-6.08zM315.06 135.97h6.08v6.08h-6.08zM321.14 135.97h6.08v6.08h-6.08zM254.21 142.06h6.08v6.08h-6.08zM266.38 142.06h6.08v6.08h-6.08zM284.63 142.06h6.08v6.08h-6.08zM290.72 142.06h6.08v6.08h-6.08zM315.06 142.06h6.08v6.08h-6.08zM321.14 142.06h6.08v6.08h-6.08zM327.23 142.06h6.08v6.08h-6.08zM242.04 148.14h6.08v6.08h-6.08zM284.63 148.14h6.08v6.08h-6.08zM290.72 148.14h6.08v6.08h-6.08zM296.80 148.14h6.08v6.08h-6.08zM308.97 148.14h6.08v6.08h-6.08zM266.38 154.23h6.08v6.08h-6.08zM266.38 160.31h6.08v6.08h-6.08zM193.36 166.39h6.08v6.08h-6.08zM199.44 166.39h6.08v6.08h-6.08zM266.38 166.39h6.08v6.08h-6.08zM156.85 172.48h6.08v6.08h-6.08zM193.36 172.48h6.08v6.08h-6.08zM126.42 178.56h6.08v6.08h-6.08zM150.76 178.56h6.08v6.08h-6.08zM156.85 178.56h6.08v6.08h-6.08zM114.25 184.65h6.08v6.08h-6.08zM193.36 184.65h6.08v6.08h-6.08zM272.46 184.65h6.08v6.08h-6.08zM181.19 190.74h6.08v6.08h-6.08zM187.27 190.74h6.08v6.08h-6.08zM193.36 190.74h6.08v6.08h-6.08zM205.53 190.74h6.08v6.08h-6.08zM272.46 190.74h6.08v6.08h-6.08zM278.55 190.74h6.08v6.08h-6.08zM162.93 196.82h6.08v6.08h-6.08zM169.02 196.82h6.08v6.08h-6.08zM175.10 196.82h6.08v6.08h-6.08zM181.19 196.82h6.08v6.08h-6.08zM187.27 196.82h6.08v6.08h-6.08zM199.44 196.82h6.08v6.08h-6.08zM205.53 196.82h6.08v6.08h-6.08zM248.12 196.82h6.08v6.08h-6.08zM254.21 196.82h6.08v6.08h-6.08zM260.29 196.82h6.08v6.08h-6.08zM266.38 196.82h6.08v6.08h-6.08zM272.46 196.82h6.08v6.08h-6.08zM327.23 196.82h6.08v6.08h-6.08zM333.31 196.82h6.08v6.08h-6.08zM162.93 202.91h6.08v6.08h-6.08zM169.02 202.91h6.08v6.08h-6.08zM175.10 202.91h6.08v6.08h-6.08zM181.19 202.91h6.08v6.08h-6.08zM187.27 202.91h6.08v6.08h-6.08zM193.36 202.91h6.08v6.08h-6.08zM199.44 202.91h6.08v6.08h-6.08zM248.12 202.91h6.08v6.08h-6.08zM321.14 202.91h6.08v6.08h-6.08zM327.23 202.91h6.08v6.08h-6.08zM333.31 202.91h6.08v6.08h-6.08zM162.93 208.99h6.08v6.08h-6.08zM169.02 208.99h6.08v6.08h-6.08zM175.10 208.99h6.08v6.08h-6.08zM181.19 208.99h6.08v6.08h-6.08zM205.53 208.99h6.08v6.08h-6.08zM321.14 208.99h6.08v6.08h-6.08zM327.23 208.99h6.08v6.08h-6.08zM333.31 208.99h6.08v6.08h-6.08zM162.93 215.07h6.08v6.08h-6.08zM169.02 215.07h6.08v6.08h-6.08zM175.10 215.07h6.08v6.08h-6.08zM199.44 215.07h6.08v6.08h-6.08zM205.53 215.07h6.08v6.08h-6.08zM211.61 215.07h6.08v6.08h-6.08zM217.70 215.07h6.08v6.08h-6.08zM235.95 215.07h6.08v6.08h-6.08zM162.93 221.16h6.08v6.08h-6.08zM169.02 221.16h6.08v6.08h-6.08zM205.53 221.16h6.08v6.08h-6.08zM211.61 221.16h6.08v6.08h-6.08zM217.70 221.16h6.08v6.08h-6.08zM211.61 227.25h6.08v6.08h-6.08zM217.70 227.25h6.08v6.08h-6.08zM248.12 227.25h6.08v6.08h-6.08zM260.29 233.33h6.08v6.08h-6.08zM266.38 233.33h6.08v6.08h-6.08zM254.21 239.42h6.08v6.08h-6.08zM260.29 239.42h6.08v6.08h-6.08zM266.38 239.42h6.08v6.08h-6.08zM272.46 239.42h6.08v6.08h-6.08zM260.29 245.50h6.08v6.08h-6.08zM266.38 245.50h6.08v6.08h-6.08zM272.46 245.50h6.08v6.08h-6.08zM266.38 251.58h6.08v6.08h-6.08zM272.46 251.58h6.08v6.08h-6.08z" fill="#96fbb4"/>
<path d="M278.55 44.70h6.08v6.08h-6.08zM284.63 44.70h6.08v6.08h-6.08zM290.72 44.70h6.08v6.08h-6.08zM296.80 44.70h6.08v6.08h-6.08zM272.46 50.78h6.08v6.08h-6.08zM278.55 50.78h6.08v6.08h-6.08zM284.63 50.78h6.08v6.08h-6.08zM290.72 50.78h6.08v6.08h-6.08zM296.80 50.78h6.08v6.08h-6.08zM302.89 50.78h6.08v6.08h-6.08zM89.91 56.87h6.08v6.08h-6.08zM132.51 56.87h6.08v6.08h-6.08zM138.59 56.87h6.08v6.08h-6.08zM272.46 56.87h6.08v6.08h-6.08zM278.55 56.87h6.08v6.08h-6.08zM284.63 56.87h6.08v6.08h-6.08zM290.72 56.87h6.08v6.08h-6.08zM296.80 56.87h6.08v6.08h-6.08zM302.89 56.87h6.08v6.08h-6.08zM308.97 56.87h6.08v6.08h-6.08zM71.66 62.95h6.08v6.08h-6.08zM77.74 62.95h6.08v6.08h-6.08zM83.83 62.95h6.08v6.08h-6.08zM89.91 62.95h6.08v6.08h-6.08zM96.00 62.95h6.08v6.08h-6.08zM126.42 62.95h6.08v6.08h-6.08zM132.51 62.95h6.08v6.08h-6.08zM272.46 62.95h6.08v6.08h-6.08zM278.55 62.95h6.08v6.08h-6.08zM284.63 62.95h6.08v6.08h-6.08zM290.72 62.95h6.08v6.08h-6.08zM296.80 62.95h6.08v6.08h-6.08zM302.89 62.95h6.08v6.08h-6.08zM71.66 69.03h6.08v6.08h-6.08zM77.74 69.03h6.08v6.08h-6.08zM83.83 69.03h6.08v6.08h-6.08zM89.91 69.03h6.08v6.08h-6.08zM96.00 69.03h6.08v6.08h-6.08zM102.08 69.03h6.08v6.08h-6.08zM120.34 69.03h6.08v6.08h-6.08zM126.42 69.03h6.08v6.08h-6.08zM266.38 69.03h6.08v6.08h-6.08zM272.46 69.03h6.08v6.08h-6.08zM278.55 69.03h6.08v6.08h-6.08zM284.63 69.03h6.08v6.08h-6.08zM290.72 69.03h6.08v6.08h-6.08zM296.80 69.03h6.08v6.08h-6.08zM302.89 69.03h6.08v6.08h-6.08zM77.74 75.12h6.08v6.08h-6.08zM83.83 75.12h6.08v6.08h-6.08zM89.91 75.12h6.08v6.08h-6.08zM266.38 75.12h6.08v6.08h-6.08zM272.46 75.12h6.08v6.08h-6.08zM278.55 75.12h6.08v6.08h-6.08zM284.63 75.12h6.08v6.08h-6.08zM290.72 75.12h6.08v6.08h-6.08zM296.80 75.12h6.08v6.08h-6.08zM302.89 75.12h6.08v6.08h-6.08zM83.83 81.20h6.08v6.08h-6.08zM89.91 81.20h6.08v6.08h-6.08zM272.46 81.20h6.08v6.08h-6.08zM278.55 81.20h6.08v6.08h-6.08zM284.63 81.20h6.08v6.08h-6.08zM272.46 87.29h6.08v6.08h-6.08zM278.55 87.29h6.08v6.08h-6.08zM284.63 87.29h6.08v6.08h-6.08zM290.72 87.29h6.08v6.08h-6.08zM77.74 93.38h6.08v6.08h-6.08zM108.17 93.38h6.08v6.08h-6.08zM272.46 93.38h6.08v6.08h-6.08zM278.55 93.38h6.08v6.08h-6.08zM284.63 93.38h6.08v6.08h-6.08zM290.72 93.38h6.08v6.08h-6.08zM77.74 99.46h6.08v6.08h-6.08zM83.83 99.46h6.08v6.08h-6.08zM96.00 99.46h6.08v6.08h-6.08zM102.08 99.46h6.08v6.08h-6.08zM138.59 99.46h6.08v6.08h-6.08zM144.68 99.46h6.08v6.08h-6.08zM150.76 99.46h6.08v6.08h-6.08zM156.85 99.46h6.08v6.08h-6.08zM162.93 99.46h6.08v6.08h-6.08zM266.38 99.46h6.08v6.08h-6.08zM272.46 99.46h6.08v6.08h-6.08zM278.55 99.46h6.08v6.08h-6.08zM284.63 99.46h6.08v6.08h-6.08zM65.57 105.55h6.08v6.08h-6.08zM77.74 105.55h6.08v6.08h-6.08zM150.76 105.55h6.08v6.08h-6.08zM156.85 105.55h6.08v6.08h-6.08zM162.93 105.55h6.08v6.08h-6.08zM169.02 105.55h6.08v6.08h-6.08zM193.36 105.55h6.08v6.08h-6.08zM199.44 105.55h6.08v6.08h-6.08zM254.21 105.55h6.08v6.08h-6.08zM260.29 105.55h6.08v6.08h-6.08zM59.49 111.63h6.08v6.08h-6.08zM65.57 111.63h6.08v6.08h-6.08zM162.93 111.63h6.08v6.08h-6.08zM181.19 111.63h6.08v6.08h-6.08zM187.27 111.63h6.08v6.08h-6.08zM193.36 111.63h6.08v6.08h-6.08zM217.70 111.63h6.08v6.08h-6.08zM41.23 117.72h6.08v6.08h-6.08zM193.36 117.72h6.08v6.08h-6.08zM199.44 117.72h6.08v6.08h-6.08zM205.53 117.72h6.08v6.08h-6.08zM211.61 117.72h6.08v6.08h-6.08zM41.23 123.80h6.08v6.08h-6.08zM102.08 123.80h6.08v6.08h-6.08zM132.51 123.80h6.08v6.08h-6.08zM138.59 123.80h6.08v6.08h-6.08zM144.68 123.80h6.08v6.08h-6.08zM150.76 123.80h6.08v6.08h-6.08zM156.85 123.80h6.08v6.08h-6.08zM199.44 123.80h6.08v6.08h-6.08zM205.53 123.80h6.08v6.08h-6.08zM211.61 123.80h6.08v6.08h-6.08zM53.40 129.88h6.08v6.08h-6.08zM59.49 129.88h6.08v6.08h-6.08zM114.25 129.88h6.08v6.08h-6.08zM138.59 129.88h6.08v6.08h-6.08zM144.68 129.88h6.08v6.08h-6.08zM150.76 129.88h6.08v6.08h-6.08zM162.93 129.88h6.08v6.08h-6.08zM169.02 129.88h6.08v6.08h-6.08zM175.10 129.88h6.08v6.08h-6.08zM181.19 129.88h6.08v6.08h-6.08zM193.36 129.88h6.08v6.08h-6.08zM199.44 129.88h6.08v6.08h-6.08zM205.53 129.88h6.08v6.08h-6.08zM211.61 129.88h6.08v6.08h-6.08zM217.70 129.88h6.08v6.08h-6.08zM242.04 129.88h6.08v6.08h-6.08zM248.12 129.88h6.08v6.08h-6.08zM59.49 135.97h6.08v6.08h-6.08zM138.59 135.97h6.08v6.08h-6.08zM162.93 135.97h6.08v6.08h-6.08zM169.02 135.97h6.08v6.08h-6.08zM175.10 135.97h6.08v6.08h-6.08zM181.19 135.97h6.08v6.08h-6.08zM187.27 135.97h6.08v6.08h-6.08zM193.36 135.97h6.08v6.08h-6.08zM199.44 135.97h6.08v6.08h-6.08zM223.78 135.97h6.08v6.08h-6.08zM102.08 142.06h6.08v6.08h-6.08zM175.10 142.06h6.08v6.08h-6.08zM181.19 142.06h6.08v6.08h-6.08zM199.44 142.06h6.08v6.08h-6.08zM217.70 142.06h6.08v6.08h-6.08zM223.78 142.06h6.08v6.08h-6.08zM83.83 148.14h6.08v6.08h-6.08zM126.42 148.14h6.08v6.08h-6.08zM162.93 148.14h6.08v6.08h-6.08zM181.19 148.14h6.08v6.08h-6.08zM193.36 148.14h6.08v6.08h-6.08zM199.44 148.14h6.08v6.08h-6.08zM205.53 148.14h6.08v6.08h-6.08zM211.61 148.14h6.08v6.08h-6.08zM217.70 148.14h6.08v6.08h-6.08zM223.78 148.14h6.08v6.08h-6.08zM144.68 154.23h6.08v6.08h-6.08zM162.93 154.23h6.08v6.08h-6.08zM169.02 154.23h6.08v6.08h-6.08zM175.10 154.23h6.08v6.08h-6.08zM181.19 154.23h6.08v6.08h-6.08zM187.27 154.23h6.08v6.08h-6.08zM199.44 154.23h6.08v6.08h-6.08zM205.53 154.23h6.08v6.08h-6.08zM211.61 154.23h6.08v6.08h-6.08zM138.59 160.31h6.08v6.08h-6.08zM162.93 160.31h6.08v6.08h-6.08zM169.02 160.31h6.08v6.08h-6.08zM175.10 160.31h6.08v6.08h-6.08zM47.32 166.39h6.08v6.08h-6.08zM53.40 166.39h6.08v6.08h-6.08zM59.49 166.39h6.08v6.08h-6.08zM126.42 166.39h6.08v6.08h-6.08zM132.51 166.39h6.08v6.08h-6.08zM138.59 166.39h6.08v6.08h-6.08zM169.02 166.39h6.08v6.08h-6.08zM175.10 166.39h6.08v6.08h-6.08zM47.32 172.48h6.08v6.08h-6.08zM53.40 172.48h6.08v6.08h-6.08zM59.49 172.48h6.08v6.08h-6.08zM65.57 172.48h6.08v6.08h-6.08zM71.66 172.48h6.08v6.08h-6.08zM77.74 172.48h6.08v6.08h-6.08zM175.10 172.48h6.08v6.08h-6.08zM254.21 172.48h6.08v6.08h-6.08zM47.32 178.56h6.08v6.08h-6.08zM53.40 178.56h6.08v6.08h-6.08zM59.49 178.56h6.08v6.08h-6.08zM65.57 178.56h6.08v6.08h-6.08zM71.66 178.56h6.08v6.08h-6.08zM260.29 178.56h6.08v6.08h-6.08zM53.40 184.65h6.08v6.08h-6.08zM59.49 184.65h6.08v6.08h-6.08zM65.57 184.65h6.08v6.08h-6.08zM102.08 184.65h6.08v6.08h-6.08zM199.44 184.65h6.08v6.08h-6.08zM205.53 184.65h6.08v6.08h-6.08zM211.61 184.65h6.08v6.08h-6.08zM217.70 184.65h6.08v6.08h-6.08zM223.78 184.65h6.08v6.08h-6.08zM102.08 190.74h6.08v6.08h-6.08zM144.68 190.74h6.08v6.08h-6.08zM211.61 190.74h6.08v6.08h-6.08zM223.78 190.74h6.08v6.08h-6.08zM229.87 190.74h6.08v6.08h-6.08zM102.08 196.82h6.08v6.08h-6.08zM132.51 196.82h6.08v6.08h-6.08zM138.59 196.82h6.08v6.08h-6.08zM144.68 196.82h6.08v6.08h-6.08zM211.61 196.82h6.08v6.08h-6.08zM217.70 196.82h6.08v6.08h-6.08zM223.78 196.82h6.08v6.08h-6.08zM229.87 196.82h6.08v6.08h-6.08zM132.51 202.91h6.08v6.08h-6.08zM138.59 202.91h6.08v6.08h-6.08zM144.68 202.91h6.08v6.08h-6.08zM223.78 202.91h6.08v6.08h-6.08zM229.87 202.91h6.08v6.08h-6.08zM223.78 208.99h6.08v6.08h-6.08z" fill="#3b5efc"/>
<path d="M327.23 44.70h6.08v6.08h-6.08zM345.48 44.70h6.08v6.08h-6.08zM327.23 56.87h6.08v6.08h-6.08zM150.76 75.12h6.08v6.08h-6.08zM126.42 81.20h6.08v6.08h-6.08zM132.51 81.20h6.08v6.08h-6.08zM150.76 81.20h6.08v6.08h-6.08zM266.38 81.20h6.08v6.08h-6.08zM150.76 87.29h6.08v6.08h-6.08zM229.87 87.29h6.08v6.08h-6.08zM235.95 87.29h6.08v6.08h-6.08zM242.04 87.29h6.08v6.08h-6.08zM266.38 87.29h6.08v6.08h-6.08zM175.10 93.38h6.08v6.08h-6.08zM211.61 93.38h6.08v6.08h-6.08zM217.70 93.38h6.08v6.08h-6.08zM223.78 93.38h6.08v6.08h-6.08zM229.87 93.38h6.08v6.08h-6.08zM235.95 93.38h6.08v6.08h-6.08zM242.04 93.38h6.08v6.08h-6.08zM29.06 99.46h6.08v6.08h-6.08zM35.15 99.46h6.08v6.08h-6.08zM41.23 99.46h6.08v6.08h-6.08zM47.32 99.46h6.08v6.08h-6.08zM175.10 99.46h6.08v6.08h-6.08zM205.53 99.46h6.08v6.08h-6.08zM211.61 99.46h6.08v6.08h-6.08zM217.70 99.46h6.08v6.08h-6.08zM223.78 99.46h6.08v6.08h-6.08zM242.04 99.46h6.08v6.08h-6.08zM260.29 99.46h6.08v6.08h-6.08zM29.06 105.55h6.08v6.08h-6.08zM35.15 105.55h6.08v6.08h-6.08zM41.23 105.55h6.08v6.08h-6.08zM47.32 105.55h6.08v6.08h-6.08zM53.40 105.55h6.08v6.08h-6.08zM144.68 105.55h6.08v6.08h-6.08zM181.19 105.55h6.08v6.08h-6.08zM205.53 105.55h6.08v6.08h-6.08zM211.61 105.55h6.08v6.08h-6.08zM217.70 105.55h6.08v6.08h-6.08zM223.78 105.55h6.08v6.08h-6.08zM35.15 111.63h6.08v6.08h-6.08zM41.23 111.63h6.08v6.08h-6.08zM47.32 111.63h6.08v6.08h-6.08zM53.40 111.63h6.08v6.08h-6.08zM102.08 111.63h6.08v6.08h-6.08zM120.34 111.63h6.08v6.08h-6.08zM126.42 111.63h6.08v6.08h-6.08zM132.51 111.63h6.08v6.08h-6.08zM144.68 111.63h6.08v6.08h-6.08zM150.76 111.63h6.08v6.08h-6.08zM199.44 111.63h6.08v6.08h-6.08zM205.53 111.63h6.08v6.08h-6.08zM223.78 111.63h6.08v6.08h-6.08zM35.15 117.72h6.08v6.08h-6.08zM77.74 117.72h6.08v6.08h-6.08zM96.00 117.72h6.08v6.08h-6.08zM102.08 117.72h6.08v6.08h-6.08zM108.17 117.72h6.08v6.08h-6.08zM114.25 117.72h6.08v6.08h-6.08zM126.42 117.72h6.08v6.08h-6.08zM132.51 117.72h6.08v6.08h-6.08zM138.59 117.72h6.08v6.08h-6.08zM144.68 117.72h6.08v6.08h-6.08zM162.93 117.72h6.08v6.08h-6.08zM217.70 117.72h6.08v6.08h-6.08zM29.06 123.80h6.08v6.08h-6.08zM35.15 123.80h6.08v6.08h-6.08zM59.49 123.80h6.08v6.08h-6.08zM65.57 123.80h6.08v6.08h-6.08zM77.74 123.80h6.08v6.08h-6.08zM83.83 123.80h6.08v6.08h-6.08zM108.17 123.80h6.08v6.08h-6.08zM126.42 123.80h6.08v6.08h-6.08zM162.93 123.80h6.08v6.08h-6.08zM169.02 123.80h6.08v6.08h-6.08zM175.10 123.80h6.08v6.08h-6.08zM217.70 123.80h6.08v6.08h-6.08zM29.06 129.88h6.08v6.08h-6.08zM35.15 129.88h6.08v6.08h-6.08zM89.91 129.88h6.08v6.08h-6.08zM102.08 129.88h6.08v6.08h-6.08zM108.17 129.88h6.08v6.08h-6.08zM120.34 129.88h6.08v6.08h-6.08zM126.42 129.88h6.08v6.08h-6.08zM132.51 129.88h6.08v6.08h-6.08zM29.06 135.97h6.08v6.08h-6.08zM35.15 135.97h6.08v6.08h-6.08zM41.23 135.97h6.08v6.08h-6.08zM47.32 135.97h6.08v6.08h-6.08zM53.40 135.97h6.08v6.08h-6.08zM83.83 135.97h6.08v6.08h-6.08zM96.00 135.97h6.08v6.08h-6.08zM102.08 135.97h6.08v6.08h-6.08zM108.17 135.97h6.08v6.08h-6.08zM114.25 135.97h6.08v6.08h-6.08zM120.34 135.97h6.08v6.08h-6.08zM126.42 135.97h6.08v6.08h-6.08zM132.51 135.97h6.08v6.08h-6.08zM29.06 142.06h6.08v6.08h-6.08zM35.15 142.06h6.08v6.08h-6.08zM41.23 142.06h6.08v6.08h-6.08zM47.32 142.06h6.08v6.08h-6.08zM53.40 142.06h6.08v6.08h-6.08zM59.49 142.06h6.08v6.08h-6.08zM65.57 142.06h6.08v6.08h-6.08zM89.91 142.06h6.08v6.08h-6.08zM96.00 142.06h6.08v6.08h-6.08zM108.17 142.06h6.08v6.08h-6.08zM114.25 142.06h6.08v6.08h-6.08zM120.34 142.06h6.08v6.08h-6.08zM126.42 142.06h6.08v6.08h-6.08zM132.51 142.06h6.08v6.08h-6.08zM138.59 142.06h6.08v6.08h-6.08zM144.68 142.06h6.08v6.08h-6.08zM162.93 142.06h6.08v6.08h-6.08zM169.02 142.06h6.08v6.08h-6.08zM29.06 148.14h6.08v6.08h-6.08zM35.15 148.14h6.08v6.08h-6.08zM41.23 148.14h6.08v6.08h-6.08zM47.32 148.14h6.08v6.08h-6.08zM53.40 148.14h6.08v6.08h-6.08zM59.49 148.14h6.08v6.08h-6.08zM65.57 148.14h6.08v6.08h-6.08zM71.66 148.14h6.08v6.08h-6.08zM77.74 148.14h6.08v6.08h-6.08zM89.91 148.14h6.08v6.08h-6.08zM96.00 148.14h6.08v6.08h-6.08zM102.08 148.14h6.08v6.08h-6.08zM108.17 148.14h6.08v6.08h-6.08zM114.25 148.14h6.08v6.08h-6.08zM120.34 148.14h6.08v6.08h-6.08zM132.51 148.14h6.08v6.08h-6.08zM138.59 148.14h6.08v6.08h-6.08zM150.76 148.14h6.08v6.08h-6.08zM156.85 148.14h6.08v6.08h-6.08zM169.02 148.14h6.08v6.08h-6.08zM175.10 148.14h6.08v6.08h-6.08zM187.27 148.14h6.08v6.08h-6.08zM35.15 154.23h6.08v6.08h-6.08zM41.23 154.23h6.08v6.08h-6.08zM47.32 154.23h6.08v6.08h-6.08zM53.40 154.23h6.08v6.08h-6.08zM59.49 154.23h6.08v6.08h-6.08zM71.66 154.23h6.08v6.08h-6.08zM77.74 154.23h6.08v6.08h-6.08zM83.83 154.23h6.08v6.08h-6.08zM89.91 154.23h6.08v6.08h-6.08zM96.00 154.23h6.08v6.08h-6.08zM102.08 154.23h6.08v6.08h-6.08zM108.17 154.23h6.08v6.08h-6.08zM114.25 154.23h6.08v6.08h-6.08zM120.34 154.23h6.08v6.08h-6.08zM126.42 154.23h6.08v6.08h-6.08zM132.51 154.23h6.08v6.08h-6.08zM138.59 154.23h6.08v6.08h-6.08zM150.76 154.23h6.08v6.08h-6.08zM156.85 154.23h6.08v6.08h-6.08zM47.32 160.31h6.08v6.08h-6.08zM53.40 160.31h6.08v6.08h-6.08zM59.49 160.31h6.08v6.08h-6.08zM65.57 160.31h6.08v6.08h-6.08zM77.74 160.31h6.08v6.08h-6.08zM83.83 160.31h6.08v6.08h-6.08zM89.91 160.31h6.08v6.08h-6.08zM96.00 160.31h6.08v6.08h-6.08zM102.08 160.31h6.08v6.08h-6.08zM108.17 160.31h6.08v6.08h-6.08zM114.25 160.31h6.08v6.08h-6.08zM120.34 160.31h6.08v6.08h-6.08zM126.42 160.31h6.08v6.08h-6.08zM132.51 160.31h6.08v6.08h-6.08zM150.76 160.31h6.08v6.08h-6.08zM156.85 160.31h6.08v6.08h-6.08zM187.27 160.31h6.08v6.08h-6.08zM65.57 166.39h6.08v6.08h-6.08zM71.66 166.39h6.08v6.08h-6.08zM77.74 166.39h6.08v6.08h-6.08zM83.83 166.39h6.08v6.08h-6.08zM89.91 166.39h6.08v6.08h-6.08zM96.00 166.39h6.08v6.08h-6.08zM102.08 166.39h6.08v6.08h-6.08zM108.17 166.39h6.08v6.08h-6.08zM120.34 166.39h6.08v6.08h-6.08zM156.85 166.39h6.08v6.08h-6.08zM83.83 172.48h6.08v6.08h-6.08zM89.91 172.48h6.08v6.08h-6.08zM96.00 172.48h6.08v6.08h-6.08zM102.08 172.48h6.08v6.08h-6.08zM108.17 172.48h6.08v6.08h-6.08zM114.25 172.48h6.08v6.08h-6.08zM126.42 172.48h6.08v6.08h-6.08zM144.68 172.48h6.08v6.08h-6.08zM77.74 178.56h6.08v6.08h-6.08zM83.83 178.56h6.08v6.08h-6.08zM89.91 178.56h6.08v6.08h-6.08zM96.00 178.56h6.08v6.08h-6.08zM102.08 178.56h6.08v6.08h-6.08zM108.17 178.56h6.08v6.08h-6.08zM169.02 178.56h6.08v6.08h-6.08zM71.66 184.65h6.08v6.08h-6.08zM77.74 184.65h6.08v6.08h-6.08zM83.83 184.65h6.08v6.08h-6.08zM89.91 184.65h6.08v6.08h-6.08zM108.17 184.65h6.08v6.08h-6.08zM150.76 184.65h6.08v6.08h-6.08zM71.66 190.74h6.08v6.08h-6.08zM77.74 190.74h6.08v6.08h-6.08zM83.83 190.74h6.08v6.08h-6.08zM108.17 190.74h6.08v6.08h-6.08z" fill="url(#hatch)"/>
<path d="M369.82 69.03h6.08v6.08h-6.08zM375.91 69.03h6.08v6.08h-6.08zM369.82 75.12h6.08v6.08h-6.08zM388.08 75.12h6.08v6.08h-6.08zM394.16 75.12h6.08v6.08h-6.08zM400.25 75.12h6.08v6.08h-6.08zM351.57 81.20h6.08v6.08h-6.08zM357.65 81.20h6.08v6.08h-6.08zM381.99 81.20h6.08v6.08h-6.08zM388.08 81.20h6.08v6.08h-6.08zM394.16 81.20h6.08v6.08h-6.08zM400.25 81.20h6.08v6.08h-6.08zM406.33 81.20h6.08v6.08h-6.08zM126.42 87.29h6.08v6.08h-6.08zM132.51 87.29h6.08v6.08h-6.08zM193.36 87.29h6.08v6.08h-6.08zM345.48 87.29h6.08v6.08h-6.08zM375.91 87.29h6.08v6.08h-6.08zM381.99 87.29h6.08v6.08h-6.08zM388.08 87.29h6.08v6.08h-6.08zM394.16 87.29h6.08v6.08h-6.08zM400.25 87.29h6.08v6.08h-6.08zM406.33 87.29h6.08v6.08h-6.08zM114.25 93.38h6.08v6.08h-6.08zM120.34 93.38h6.08v6.08h-6.08zM126.42 93.38h6.08v6.08h-6.08zM193.36 93.38h6.08v6.08h-6.08zM333.31 93.38h6.08v6.08h-6.08zM369.82 93.38h6.08v6.08h-6.08zM375.91 93.38h6.08v6.08h-6.08zM381.99 93.38h6.08v6.08h-6.08zM388.08 93.38h6.08v6.08h-6.08zM394.16 93.38h6.08v6.08h-6.08zM400.25 93.38h6.08v6.08h-6.08zM193.36 99.46h6.08v6.08h-6.08zM333.31 99.46h6.08v6.08h-6.08zM339.40 99.46h6.08v6.08h-6.08zM345.48 99.46h6.08v6.08h-6.08zM351.57 99.46h6.08v6.08h-6.08zM357.65 99.46h6.08v6.08h-6.08zM363.74 99.46h6.08v6.08h-6.08zM375.91 99.46h6.08v6.08h-6.08zM381.99 99.46h6.08v6.08h-6.08zM388.08 99.46h6.08v6.08h-6.08zM296.80 105.55h6.08v6.08h-6.08zM302.89 105.55h6.08v6.08h-6.08zM308.97 105.55h6.08v6.08h-6.08zM315.06 105.55h6.08v6.08h-6.08zM321.14 105.55h6.08v6.08h-6.08zM327.23 105.55h6.08v6.08h-6.08zM333.31 105.55h6.08v6.08h-6.08zM339.40 105.55h6.08v6.08h-6.08zM345.48 105.55h6.08v6.08h-6.08zM351.57 105.55h6.08v6.08h-6.08zM363.74 105.55h6.08v6.08h-6.08zM381.99 105.55h6.08v6.08h-6.08zM388.08 105.55h6.08v6.08h-6.08zM235.95 111.63h6.08v6.08h-6.08zM242.04 111.63h6.08v6.08h-6.08zM248.12 111.63h6.08v6.08h-6.08zM254.21 111.63h6.08v6.08h-6.08zM260.29 111.63h6.08v6.08h-6.08zM266.38 111.63h6.08v6.08h-6.08zM284.63 111.63h6.08v6.08h-6.08zM290.72 111.63h6.08v6.08h-6.08zM308.97 111.63h6.08v6.08h-6.08zM315.06 111.63h6.08v6.08h-6.08zM321.14 111.63h6.08v6.08h-6.08zM327.23 111.63h6.08v6.08h-6.08zM333.31 111.63h6.08v6.08h-6.08zM339.40 111.63h6.08v6.08h-6.08zM345.48 111.63h6.08v6.08h-6.08zM351.57 111.63h6.08v6.08h-6.08zM254.21 117.72h6.08v6.08h-6.08zM266.38 117.72h6.08v6.08h-6.08zM278.55 117.72h6.08v6.08h-6.08zM308.97 117.72h6.08v6.08h-6.08zM315.06 117.72h6.08v6.08h-6.08zM321.14 117.72h6.08v6.08h-6.08zM327.23 117.72h6.08v6.08h-6.08zM333.31 117.72h6.08v6.08h-6.08zM339.40 117.72h6.08v6.08h-6.08zM345.48 117.72h6.08v6.08h-6.08zM351.57 117.72h6.08v6.08h-6.08zM308.97 123.80h6.08v6.08h-6.08zM339.40 123.80h6.08v6.08h-6.08zM345.48 123.80h6.08v6.08h-6.08zM351.57 123.80h6.08v6.08h-6.08zM290.72 129.88h6.08v6.08h-6.08zM296.80 129.88h6.08v6.08h-6.08zM302.89 129.88h6.08v6.08h-6.08zM260.29 135.97h6.08v6.08h-6.08zM278.55 135.97h6.08v6.08h-6.08zM284.63 135.97h6.08v6.08h-6.08zM290.72 135.97h6.08v6.08h-6.08zM296.80 135.97h6.08v6.08h-6.08zM302.89 135.97h6.08v6.08h-6.08zM260.29 142.06h6.08v6.08h-6.08zM272.46 142.06h6.08v6.08h-6.08zM278.55 142.06h6.08v6.08h-6.08zM296.80 142.06h6.08v6.08h-6.08zM302.89 142.06h6.08v6.08h-6.08zM308.97 142.06h6.08v6.08h-6.08zM266.38 148.14h6.08v6.08h-6.08zM272.46 148.14h6.08v6.08h-6.08zM278.55 148.14h6.08v6.08h-6.08zM302.89 148.14h6.08v6.08h-6.08zM315.06 148.14h6.08v6.08h-6.08zM321.14 148.14h6.08v6.08h-6.08zM327.23 148.14h6.08v6.08h-6.08zM333.31 148.14h6.08v6.08h-6.08zM272.46 154.23h6.08v6.08h-6.08zM278.55 154.23h6.08v6.08h-6.08zM284.63 154.23h6.08v6.08h-6.08zM290.72 154.23h6.08v6.08h-6.08zM296.80 154.23h6.08v6.08h-6.08zM302.89 154.23h6.08v6.08h-6.08zM308.97 154.23h6.08v6.08h-6.08zM315.06 154.23h6.08v6.08h-6.08zM321.14 154.23h6.08v6.08h-6.08zM327.23 154.23h6.08v6.08h-6.08zM333.31 154.23h6.08v6.08h-6.08zM272.46 160.31h6.08v6.08h-6.08zM284.63 160.31h6.08v6.08h-6.08zM290.72 160.31h6.08v6.08h-6.08zM296.80 160.31h6.08v6.08h-6.08zM321.14 160.31h6.08v6.08h-6.08zM327.23 160.31h6.08v6.08h-6.08zM333.31 160.31h6.08v6.08h-6.08zM272.46 166.39h6.08v6.08h-6.08zM278.55 166.39h6.08v6.08h-6.08zM284.63 166.39h6.08v6.08h-6.08zM290.72 166.39h6.08v6.08h-6.08zM272.46 172.48h6.08v6.08h-6.08zM278.55 172.48h6.08v6.08h-6.08zM290.72 172.48h6.08v6.08h-6.08zM296.80 172.48h6.08v6.08h-6.08zM302.89 172.48h6.08v6.08h-6.08zM321.14 172.48h6.08v6.08h-6.08zM327.23 172.48h6.08v6.08h-6.08zM333.31 172.48h6.08v6.08h-6.08zM114.25 178.56h6.08v6.08h-6.08zM120.34 178.56h6.08v6.08h-6.08zM272.46 178.56h6.08v6.08h-6.08zM290.72 178.56h6.08v6.08h-6.08zM296.80 178.56h6.08v6.08h-6.08zM302.89 178.56h6.08v6.08h-6.08zM156.85 184.65h6.08v6.08h-6.08zM169.02 184.65h6.08v6.08h-6.08zM175.10 184.65h6.08v6.08h-6.08zM181.19 184.65h6.08v6.08h-6.08zM187.27 184.65h6.08v6.08h-6.08zM278.55 184.65h6.08v6.08h-6.08zM284.63 184.65h6.08v6.08h-6.08zM290.72 184.65h6.08v6.08h-6.08zM296.80 184.65h6.08v6.08h-6.08zM169.02 190.74h6.08v6.08h-6.08zM175.10 190.74h6.08v6.08h-6.08zM284.63 190.74h6.08v6.08h-6.08zM290.72 190.74h6.08v6.08h-6.08zM296.80 190.74h6.08v6.08h-6.08zM302.89 190.74h6.08v6.08h-6.08zM308.97 190.74h6.08v6.08h-6.08zM315.06 190.74h6.08v6.08h-6.08zM193.36 196.82h6.08v6.08h-6.08zM278.55 196.82h6.08v6.08h-6.08zM284.63 196.82h6.08v6.08h-6.08zM290.72 196.82h6.08v6.08h-6.08zM302.89 196.82h6.08v6.08h-6.08zM308.97 196.82h6.08v6.08h-6.08zM315.06 196.82h6.08v6.08h-6.08zM321.14 196.82h6.08v6.08h-6.08zM254.21 202.91h6.08v6.08h-6.08zM260.29 202.91h6.08v6.08h-6.08zM266.38 202.91h6.08v6.08h-6.08zM272.46 202.91h6.08v6.08h-6.08zM278.55 202.91h6.08v6.08h-6.08zM315.06 202.91h6.08v6.08h-6.08zM187.27 208.99h6.08v6.08h-6.08zM193.36 208.99h6.08v6.08h-6.08zM199.44 208.99h6.08v6.08h-6.08zM242.04 208.99h6.08v6.08h-6.08zM248.12 208.99h6.08v6.08h-6.08zM266.38 208.99h6.08v6.08h-6.08zM272.46 208.99h6.08v6.08h-6.08zM278.55 208.99h6.08v6.08h-6.08zM315.06 208.99h6.08v6.08h-6.08zM181.19 215.07h6.08v6.08h-6.08zM187.27 215.07h6.08v6.08h-6.08zM193.36 215.07h6.08v6.08h-6.08zM242.04 215.07h6.08v6.08h-6.08zM254.21 215.07h6.08v6.08h-6.08zM260.29 215.07h6.08v6.08h-6.08zM266.38 215.07h6.08v6.08h-6.08zM272.46 215.07h6.08v6.08h-6.08zM278.55 215.07h6.08v6.08h-6.08zM175.10 221.16h6.08v6.08h-6.08zM181.19 221.16h6.08v6.08h-6.08zM187.27 221.16h6.08v6.08h-6.08zM193.36 221.16h6.08v6.08h-6.08zM199.44 221.16h6.08v6.08h-6.08zM229.87 221.16h6.08v6.08h-6.08zM235.95 221.16h6.08v6.08h-6.08zM242.04 221.16h6.08v6.08h-6.08zM254.21 221.16h6.08v6.08h-6.08zM260.29 221.16h6.08v6.08h-6.08zM266.38 221.16h6.08v6.08h-6.08zM272.46 221.16h6.08v6.08h-6.08zM278.55 221.16h6.08v6.08h-6.08zM284.63 221.16h6.08v6.08h-6.08zM175.10 227.25h6.08v6.08h-6.08zM181.19 227.25h6.08v6.08h-6.08zM187.27 227.25h6.08v6.08h-6.08zM193.36 227.25h6.08v6.08h-6.08zM199.44 227.25h6.08v6.08h-6.08zM205.53 227.25h6.08v6.08h-6.08zM223.78 227.25h6.08v6.08h-6.08zM229.87 227.25h6.08v6.08h-6.08zM235.95 227.25h6.08v6.08h-6.08zM242.04 227.25h6.08v6.08h-6.08zM260.29 227.25h6.08v6.08h-6.08zM266.38 227.25h6.08v6.08h-6.08zM272.46 227.25h6.08v6.08h-6.08zM278.55 227.25h6.08v6.08h-6.08zM284.63 227.25h6.08v6.08h-6.08zM290.72 227.25h6.08v6.08h-6.08zM175.10 233.33h6.08v6.08h-6.08zM181.19 233.33h6.08v6.08h-6.08zM187.27 233.33h6.08v6.08h-6.08zM193.36 233.33h6.08v6.08h-6.08zM199.44 233.33h6.08v6.08h-6.08zM205.53 233.33h6.08v6.08h-6.08zM211.61 233.33h6.08v6.08h-6.08zM223.78 233.33h6.08v6.08h-6.08zM229.87 233.33h6.08v6.08h-6.08zM235.95 233.33h6.08v6.08h-6.08zM242.04 233.33h6.08v6.08h-6.08zM248.12 233.33h6.08v6.08h-6.08zM254.21 233.33h6.08v6.08h-6.08zM272.46 233.33h6.08v6.08h-6.08zM278.55 233.33h6.08v6.08h-6.08zM284.63 233.33h6.08v6.08h-6.08zM290.72 233.33h6.08v6.08h-6.08zM181.19 239.42h6.08v6.08h-6.08zM187.27 239.42h6.08v6.08h-6.08zM193.36 239.42h6.08v6.08h-6.08zM199.44 239.42h6.08v6.08h-6.08zM205.53 239.42h6.08v6.08h-6.08zM211.61 239.42h6.08v6.08h-6.08zM235.95 239.42h6.08v6.08h-6.08zM242.04 239.42h6.08v6.08h-6.08zM248.12 239.42h6.08v6.08h-6.08zM235.95 245.50h6.08v6.08h-6.08zM242.04 245.50h6.08v6.08h-6.08zM248.12 245.50h6.08v6.08h-6.08zM254.21 245.50h6.08v6.08h-6.08zM235.95 251.58h6.08v6.08h-6.08zM242.04 251.58h6.08v6.08h-6.08zM248.12 251.58h6.08v6.08h-6.08zM254.21 251.58h6.08v6.08h-6.08zM260.29 251.58h6.08v6.08h-6.08z" fill="#d2fa6e"/>
<path d="M59.49 75.12h6.08v6.08h-6.08zM65.57 75.12h6.08v6.08h-6.08zM71.66 75.12h6.08v6.08h-6.08zM248.12 75.12h6.08v6.08h-6.08zM254.21 75.12h6.08v6.08h-6.08zM260.29 75.12h6.08v6.08h-6.08zM59.49 81.20h6.08v6.08h-6.08zM65.57 81.20h6.08v6.08h-6.08zM71.66 81.20h6.08v6.08h-6.08zM77.74 81.20h6.08v6.08h-6.08zM248.12 81.20h6.08v6.08h-6.08zM254.21 81.20h6.08v6.08h-6.08zM260.29 81.20h6.08v6.08h-6.08zM59.49 87.29h6.08v6.08h-6.08zM65.57 87.29h6.08v6.08h-6.08zM71.66 87.29h6.08v6.08h-6.08zM77.74 87.29h6.08v6.08h-6.08zM83.83 87.29h6.08v6.08h-6.08zM248.12 87.29h6.08v6.08h-6.08zM254.21 87.29h6.08v6.08h-6.08zM260.29 87.29h6.08v6.08h-6.08zM47.32 93.38h6.08v6.08h-6.08zM53.40 93.38h6.08v6.08h-6.08zM59.49 93.38h6.08v6.08h-6.08zM65.57 93.38h6.08v6.08h-6.08zM71.66 93.38h6.08v6.08h-6.08zM83.83 93.38h6.08v6.08h-6.08zM89.91 93.38h6.08v6.08h-6.08zM96.00 93.38h6.08v6.08h-6.08zM102.08 93.38h6.08v6.08h-6.08zM248.12 93.38h6.08v6.08h-6.08zM254.21 93.38h6.08v6.08h-6.08zM260.29 93.38h6.08v6.08h-6.08zM266.38 93.38h6.08v6.08h-6.08zM53.40 99.46h6.08v6.08h-6.08zM59.49 99.46h6.08v6.08h-6.08zM65.57 99.46h6.08v6.08h-6.08zM71.66 99.46h6.08v6.08h-6.08zM89.91 99.46h6.08v6.08h-6.08zM169.02 99.46h6.08v6.08h-6.08zM248.12 99.46h6.08v6.08h-6.08zM254.21 99.46h6.08v6.08h-6.08zM59.49 105.55h6.08v6.08h-6.08zM71.66 105.55h6.08v6.08h-6.08zM175.10 105.55h6.08v6.08h-6.08zM187.27 105.55h6.08v6.08h-6.08zM29.06 111.63h6.08v6.08h-6.08zM169.02 111.63h6.08v6.08h-6.08zM175.10 111.63h6.08v6.08h-6.08zM211.61 111.63h6.08v6.08h-6.08zM29.06 117.72h6.08v6.08h-6.08zM150.76 117.72h6.08v6.08h-6.08zM156.85 117.72h6.08v6.08h-6.08zM169.02 117.72h6.08v6.08h-6.08zM175.10 117.72h6.08v6.08h-6.08zM181.19 117.72h6.08v6.08h-6.08zM187.27 117.72h6.08v6.08h-6.08zM114.25 123.80h6.08v6.08h-6.08zM120.34 123.80h6.08v6.08h-6.08zM181.19 123.80h6.08v6.08h-6.08zM187.27 123.80h6.08v6.08h-6.08zM193.36 123.80h6.08v6.08h-6.08zM96.00 129.88h6.08v6.08h-6.08zM187.27 129.88h6.08v6.08h-6.08zM65.57 135.97h6.08v6.08h-6.08zM71.66 135.97h6.08v6.08h-6.08zM77.74 135.97h6.08v6.08h-6.08zM89.91 135.97h6.08v6.08h-6.08zM71.66 142.06h6.08v6.08h-6.08zM77.74 142.06h6.08v6.08h-6.08zM83.83 142.06h6.08v6.08h-6.08zM187.27 142.06h6.08v6.08h-6.08zM193.36 142.06h6.08v6.08h-6.08zM114.25 190.74h6.08v6.08h-6.08zM120.34 190.74h6.08v6.08h-6.08zM217.70 190.74h6.08v6.08h-6.08zM108.17 196.82h6.08v6.08h-6.08zM114.25 196.82h6.08v6.08h-6.08zM120.34 196.82h6.08v6.08h-6.08zM126.42 196.82h6.08v6.08h-6.08zM108.17 202.91h6.08v6.08h-6.08zM114.25 202.91h6.08v6.08h-6.08zM120.34 202.91h6.08v6.08h-6.08zM126.42 202.91h6.08v6.08h-6.08zM217.70 202.91h6.08v6.08h-6.08z" fill="#0000fc"/>
<path d="M375.91 75.12h6.08v6.08h-6.08zM381.99 75.12h6.08v6.08h-6.08zM363.74 81.20h6.08v6.08h-6.08zM369.82 81.20h6.08v6.08h-6.08zM375.91 81.20h6.08v6.08h-6.08zM351.57 87.29h6.08v6.08h-6.08zM357.65 87.29h6.08v6.08h-6.08zM363.74 87.29h6.08v6.08h-6.08zM369.82 87.29h6.08v6.08h-6.08zM339.40 93.38h6.08v6.08h-6.08zM345.48 93.38h6.08v6.08h-6.08zM351.57 93.38h6.08v6.08h-6.08zM357.65 93.38h6.08v6.08h-6.08zM363.74 93.38h6.08v6.08h-6.08zM369.82 99.46h6.08v6.08h-6.08zM369.82 105.55h6.08v6.08h-6.08zM375.91 105.55h6.08v6.08h-6.08zM296.80 111.63h6.08v6.08h-6.08zM302.89 111.63h6.08v6.08h-6.08zM369.82 111.63h6.08v6.08h-6.08zM375.91 111.63h6.08v6.08h-6.08zM381.99 111.63h6.08v6.08h-6.08zM260.29 117.72h6.08v6.08h-6.08zM272.46 117.72h6.08v6.08h-6.08zM284.63 117.72h6.08v6.08h-6.08zM290.72 117.72h6.08v6.08h-6.08zM278.55 160.31h6.08v6.08h-6.08zM302.89 160.31h6.08v6.08h-6.08zM308.97 160.31h6.08v6.08h-6.08zM315.06 160.31h6.08v6.08h-6.08zM296.80 166.39h6.08v6.08h-6.08zM302.89 166.39h6.08v6.08h-6.08zM308.97 166.39h6.08v6.08h-6.08zM315.06 166.39h6.08v6.08h-6.08zM321.14 166.39h6.08v6.08h-6.08zM327.23 166.39h6.08v6.08h-6.08zM333.31 166.39h6.08v6.08h-6.08zM284.63 172.48h6.08v6.08h-6.08zM308.97 172.48h6.08v6.08h-6.08zM315.06 172.48h6.08v6.08h-6.08zM278.55 178.56h6.08v6.08h-6.08zM284.63 178.56h6.08v6.08h-6.08zM308.97 178.56h6.08v6.08h-6.08zM315.06 178.56h6.08v6.08h-6.08zM321.14 178.56h6.08v6.08h-6.08zM327.23 178.56h6.08v6.08h-6.08zM333.31 178.56h6.08v6.08h-6.08zM162.93 184.65h6.08v6.08h-6.08zM302.89 184.65h6.08v6.08h-6.08zM308.97 184.65h6.08v6.08h-6.08zM315.06 184.65h6.08v6.08h-6.08zM321.14 184.65h6.08v6.08h-6.08zM327.23 184.65h6.08v6.08h-6.08zM333.31 184.65h6.08v6.08h-6.08zM162.93 190.74h6.08v6.08h-6.08zM321.14 190.74h6.08v6.08h-6.08zM327.23 190.74h6.08v6.08h-6.08zM333.31 190.74h6.08v6.08h-6.08zM296.80 196.82h6.08v6.08h-6.08zM284.63 202.91h6.08v6.08h-6.08zM290.72 202.91h6.08v6.08h-6.08zM296.80 202.91h6.08v6.08h-6.08zM302.89 202.91h6.08v6.08h-6.08zM308.97 202.91h6.08v6.08h-6.08zM254.21 208.99h6.08v6.08h-6.08zM260.29 208.99h6.08v6.08h-6.08zM284.63 208.99h6.08v6.08h-6.08zM290.72 208.99h6.08v6.08h-6.08zM296.80 208.99h6.08v6.08h-6.08zM302.89 208.99h6.08v6.08h-6.08zM308.97 208.99h6.08v6.08h-6.08zM248.12 215.07h6.08v6.08h-6.08zM284.63 215.07h6.08v6.08h-6.08zM290.72 215.07h6.08v6.08h-6.08zM296.80 215.07h6.08v6.08h-6.08zM302.89 215.07h6.08v6.08h-6.08zM321.14 215.07h6.08v6.08h-6.08zM327.23 215.07h6.08v6.08h-6.08zM333.31 215.07h6.08v6.08h-6.08zM248.12 221.16h6.08v6.08h-6.08zM290.72 221.16h6.08v6.08h-6.08zM296.80 221.16h6.08v6.08h-6.08zM302.89 221.16h6.08v6.08h-6.08zM327.23 221.16h6.08v6.08h-6.08zM333.31 221.16h6.08v6.08h-6.08zM296.80 227.25h6.08v6.08h-6.08zM333.31 227.25h6.08v6.08h-6.08z" fill="#ffff00"/>
<path d="M296.80 117.72h6.08v6.08h-6.08zM302.89 117.72h6.08v6.08h-6.08zM290.72 123.80h6.08v6.08h-6.08zM296.80 123.80h6.08v6.08h-6.08zM302.89 123.80h6.08v6.08h-6.08zM308.97 215.07h6.08v6.08h-6.08zM315.06 215.07h6.08v6.08h-6.08zM308.97 221.16h6.08v6.08h-6.08zM315.06 221.16h6.08v6.08h-6.08zM321.14 221.16h6.08v6.08h-6.08zM302.89 227.25h6.08v6.08h-6.08zM308.97 227.25h6.08v6.08h-6.08zM315.06 227.25h6.08v6.08h-6.08zM321.14 227.25h6.08v6.08h-6.08zM327.23 227.25h6.08v6.08h-6.08zM302.89 233.33h6.08v6.08h-6.08zM308.97 233.33h6.08v6.08h-6.08zM315.06 233.33h6.08v6.08h-6.08zM321.14 233.33h6.08v6.08h-6.08zM327.23 233.33h6.08v6.08h-6.08z" fill="#ffb400"/>
<rect x="0" y="0" width="420" height="260" fill="url(#cg)"/>
</g>
<line x1="74.7" y1="23" x2="74.7" y2="350" stroke="#c4c4c4" stroke-opacity="0.8" stroke-width="1" stroke-dasharray="3 11" stroke-dashoffset="-5"/>
<line x1="74.7" y1="22.5" x2="74.7" y2="25" stroke="#444" stroke-width="0.8"/>
<line x1="74.7" y1="348.5" x2="74.7" y2="351" stroke="#444" stroke-width="0.8"/>
<line x1="135.6" y1="23" x2="135.6" y2="350" stroke="#c4c4c4" stroke-opacity="0.8" stroke-width="1" stroke-dasharray="3 11" stroke-dashoffset="-5"/>
<line x1="135.6" y1="22.5" x2="135.6" y2="25" stroke="#444" stroke-width="0.8"/>
<line x1="135.6" y1="348.5" x2="135.6" y2="351" stroke="#444" stroke-width="0.8"/>
<line x1="196.4" y1="23" x2="196.4" y2="350" stroke="#c4c4c4" stroke-opacity="0.8" stroke-width="1" stroke-dasharray="3 11" stroke-dashoffset="-5"/>
<line x1="196.4" y1="22.5" x2="196.4" y2="25" stroke="#444" stroke-width="0.8"/>
<line x1="196.4" y1="348.5" x2="196.4" y2="351" stroke="#444" stroke-width="0.8"/>
<line x1="257.2" y1="23" x2="257.2" y2="350" stroke="#c4c4c4" stroke-opacity="0.8" stroke-width="1" stroke-dasharray="3 11" stroke-dashoffset="-5"/>
<line x1="257.2" y1="22.5" x2="257.2" y2="25" stroke="#444" stroke-width="0.8"/>
<line x1="257.2" y1="348.5" x2="257.2" y2="351" stroke="#444" stroke-width="0.8"/>
<line x1="318.1" y1="23" x2="318.1" y2="350" stroke="#c4c4c4" stroke-opacity="0.8" stroke-width="1" stroke-dasharray="3 11" stroke-dashoffset="-5"/>
<line x1="318.1" y1="22.5" x2="318.1" y2="25" stroke="#444" stroke-width="0.8"/>
<line x1="318.1" y1="348.5" x2="318.1" y2="351" stroke="#444" stroke-width="0.8"/>
<line x1="378.9" y1="23" x2="378.9" y2="350" stroke="#c4c4c4" stroke-opacity="0.8" stroke-width="1" stroke-dasharray="3 11" stroke-dashoffset="-5"/>
<line x1="378.9" y1="22.5" x2="378.9" y2="25" stroke="#444" stroke-width="0.8"/>
<line x1="378.9" y1="348.5" x2="378.9" y2="351" stroke="#444" stroke-width="0.8"/>
<line x1="25" y1="306.4" x2="419" y2="306.4" stroke="#d6d6d6" stroke-opacity="0.8" stroke-width="1" stroke-dasharray="3.4 10.5" stroke-dashoffset="-1"/>
<line x1="25" y1="245.5" x2="419" y2="245.5" stroke="#d6d6d6" stroke-opacity="0.8" stroke-width="1" stroke-dasharray="3.4 10.5" stroke-dashoffset="-1"/>
<line x1="25" y1="184.7" x2="419" y2="184.7" stroke="#d6d6d6" stroke-opacity="0.8" stroke-width="1" stroke-dasharray="3.4 10.5" stroke-dashoffset="-1"/>
<line x1="25" y1="123.8" x2="419" y2="123.8" stroke="#d6d6d6" stroke-opacity="0.8" stroke-width="1" stroke-dasharray="3.4 10.5" stroke-dashoffset="-1"/>
<line x1="25" y1="63.0" x2="419" y2="63.0" stroke="#d6d6d6" stroke-opacity="0.8" stroke-width="1" stroke-dasharray="3.4 10.5" stroke-dashoffset="-1"/>
<polygon points="32.4,121.8 35.1,118.0 38.8,116.5 43.2,115.0 47.6,114.3 53.4,112.8 59.3,111.4 63.7,109.2 69.5,106.2 73.2,104.8 73.9,100.4 75.4,97.5 73.9,93.1 71.7,88.0 75.4,86.5 81.2,85.7 86.4,86.5 87.8,82.1 90.0,74.8 93.0,74.0 98.8,74.8 105.4,74.8 106.1,68.9 109.1,66.7 113.5,63.8 117.8,62.3 120.0,63.0 121.5,66.7 126.6,68.9 132.5,71.1 137.6,72.6 139.1,77.0 137.6,80.6 140.5,83.6 147.1,86.5 154.5,87.9 158.8,90.1 163.2,92.3 166.9,94.5 170.0,98.9 171.1,100.6 179.1,102.0 187.0,102.6 193.0,102.0 199.0,101.6 204.9,103.2 210.9,105.1 218.0,106.5 224.6,104.9 232.9,103.6 241.3,103.2 248.6,102.2 253.8,100.1 260.1,98.0 263.3,95.9 264.3,91.7 266.4,88.6 269.5,88.2 274.8,86.9 281.0,85.4 285.2,84.0 291.5,81.3 297.8,79.2 304.0,77.7 310.3,76.4 314.5,75.0 313.5,71.8 308.2,70.2 302.0,69.7 295.7,70.2 291.5,70.8 289.0,67.7 291.5,63.5 294.6,59.3 299.9,58.2 306.1,58.2 312.4,56.8 314.5,52.0 316.6,46.7 315.6,40.5 318.7,39.4 322.9,37.3 329.2,36.3 337.5,35.9 343.8,37.3 350.1,39.4 354.3,44.6 358.4,50.9 360.5,57.2 364.7,60.3 371.0,61.4 377.3,63.5 381.5,67.7 383.5,70.8 389.8,69.7 396.1,68.7 402.4,67.2 406.6,66.6 405.5,68.7 401.3,73.9 398.2,80.2 396.1,86.5 391.9,87.5 385.6,88.6 383.5,92.8 381.5,96.9 379.4,102.2 377.9,101.9 372.8,103.8 365.3,106.3 364.0,109.4 360.3,108.8 357.8,107.5 355.3,109.4 351.5,111.9 346.5,113.8 342.7,116.9 340.2,119.5 335.2,121.3 330.2,123.2 326.4,124.5 323.3,125.1 322.0,123.2 323.9,120.7 326.4,118.8 328.3,115.7 327.0,113.8 323.9,113.2 320.1,115.1 315.1,118.8 308.8,122.0 303.8,123.2 301.3,125.1 301.3,127.6 305.1,129.5 308.8,130.8 309.5,133.9 312.0,135.1 316.4,132.0 320.1,129.5 320.8,128.2 322.6,132.6 327.6,133.3 331.4,133.9 330.2,136.4 325.1,137.7 320.1,140.2 316.4,143.9 311.3,147.7 310.7,149.6 315.1,152.7 318.9,156.5 321.4,161.5 323.9,165.3 326.4,169.0 327.7,174.1 331.4,174.7 328.9,177.8 329.1,180.0 326.6,183.8 325.3,187.5 322.8,191.3 319.0,195.1 316.5,198.8 314.0,202.6 312.8,206.4 309.0,208.9 305.2,211.4 301.5,213.9 297.7,217.0 293.9,220.8 287.7,223.3 282.6,224.6 277.6,226.4 272.6,228.3 266.3,229.6 261.3,230.8 257.5,232.7 256.9,236.5 254.7,236.5 252.5,235.0 252.5,232.8 250.3,231.4 245.9,230.6 241.5,229.2 237.1,227.7 234.2,225.5 232.8,223.3 229.8,221.9 225.4,220.4 221.0,221.9 215.2,223.3 210.8,224.8 206.4,225.5 204.2,228.4 204.2,232.1 200.5,231.4 199.1,229.2 194.7,230.4 191.8,229.2 188.8,224.8 188.1,220.4 185.9,215.3 181.5,213.1 179.3,210.9 180.0,208.0 183.0,204.3 185.2,201.4 184.4,197.0 183.0,191.1 180.0,188.9 177.1,189.6 172.7,190.4 166.9,191.1 161.0,192.6 155.1,193.3 149.3,195.5 144.9,196.2 140.5,191.8 134.6,190.8 128.8,191.1 125.9,193.3 122.1,191.6 115.9,190.9 109.6,190.9 104.6,188.4 99.5,186.6 94.5,184.1 89.5,180.9 84.5,179.0 79.5,178.4 75.7,175.9 70.7,173.4 65.7,170.2 64.4,167.7 63.1,165.2 63.1,162.7 65.7,160.2 65.0,154.6 64.4,150.2 60.6,146.4 55.6,144.5 50.6,142.6 46.8,140.1 43.1,137.0 39.3,135.1 38.7,130.1 39.3,126.3 35.5,125.1 33.6,123.8" fill="none" stroke="#555" stroke-width="0.7"/>
<polygon points="245.9,243.8 248.9,241.6 253.3,240.2 257.6,239.4 260.0,240.2 258.8,244.0 255.0,247.8 251.8,249.7 247.4,248.2" fill="none" stroke="#555" stroke-width="0.7"/>
<polygon points="325.3,208.2 327.2,210.1 325.3,216.4 323.4,221.4 320.3,227.1 318.4,225.8 315.9,221.4 315.3,218.3 317.8,213.9 321.5,209.5" fill="none" stroke="#555" stroke-width="0.7"/>
<line x1="24.3" y1="22.5" x2="419.5" y2="22.5" stroke="#8c8c8c" stroke-width="1.2"/>
<line x1="24.3" y1="350.8" x2="419.5" y2="350.8" stroke="#8c8c8c" stroke-width="1.4"/>
<line x1="24.3" y1="22" x2="24.3" y2="351.3" stroke="#2a2a2a" stroke-width="1.3"/>
<line x1="419.4" y1="22" x2="419.4" y2="351.3" stroke="#111" stroke-width="1.3"/>
<text x="74.7" y="18.8" font-size="10.2" text-anchor="middle" fill="#222" style="font-family:'Liberation Serif',serif">80&#176;E</text>
<text x="74.7" y="363.8" font-size="10.2" text-anchor="middle" fill="#222" style="font-family:'Liberation Serif',serif">80&#176;E</text>
<text x="135.6" y="18.8" font-size="10.2" text-anchor="middle" fill="#222" style="font-family:'Liberation Serif',serif">90&#176;E</text>
<text x="135.6" y="363.8" font-size="10.2" text-anchor="middle" fill="#222" style="font-family:'Liberation Serif',serif">90&#176;E</text>
<text x="196.4" y="18.8" font-size="10.2" text-anchor="middle" fill="#222" style="font-family:'Liberation Serif',serif">100&#176;E</text>
<text x="196.4" y="363.8" font-size="10.2" text-anchor="middle" fill="#222" style="font-family:'Liberation Serif',serif">100&#176;E</text>
<text x="257.2" y="18.8" font-size="10.2" text-anchor="middle" fill="#222" style="font-family:'Liberation Serif',serif">110&#176;E</text>
<text x="257.2" y="363.8" font-size="10.2" text-anchor="middle" fill="#222" style="font-family:'Liberation Serif',serif">110&#176;E</text>
<text x="318.1" y="18.8" font-size="10.2" text-anchor="middle" fill="#222" style="font-family:'Liberation Serif',serif">120&#176;E</text>
<text x="318.1" y="363.8" font-size="10.2" text-anchor="middle" fill="#222" style="font-family:'Liberation Serif',serif">120&#176;E</text>
<text x="378.9" y="18.8" font-size="10.2" text-anchor="middle" fill="#222" style="font-family:'Liberation Serif',serif">130&#176;E</text>
<text x="378.9" y="363.8" font-size="10.2" text-anchor="middle" fill="#222" style="font-family:'Liberation Serif',serif">130&#176;E</text>
<text transform="translate(21.3,306.4) rotate(-90)" font-size="10.2" text-anchor="middle" fill="#222" style="font-family:'Liberation Serif',serif">10&#176;N</text>
<text transform="translate(433.2,306.4) rotate(-90)" font-size="10.2" text-anchor="middle" fill="#222" style="font-family:'Liberation Serif',serif">10&#176;N</text>
<text transform="translate(21.3,245.5) rotate(-90)" font-size="10.2" text-anchor="middle" fill="#222" style="font-family:'Liberation Serif',serif">20&#176;N</text>
<text transform="translate(433.2,245.5) rotate(-90)" font-size="10.2" text-anchor="middle" fill="#222" style="font-family:'Liberation Serif',serif">20&#176;N</text>
<text transform="translate(21.3,184.7) rotate(-90)" font-size="10.2" text-anchor="middle" fill="#222" style="font-family:'Liberation Serif',serif">30&#176;N</text>
<text transform="translate(433.2,184.7) rotate(-90)" font-size="10.2" text-anchor="middle" fill="#222" style="font-family:'Liberation Serif',serif">30&#176;N</text>
<text transform="translate(21.3,123.8) rotate(-90)" font-size="10.2" text-anchor="middle" fill="#222" style="font-family:'Liberation Serif',serif">40&#176;N</text>
<text transform="translate(433.2,123.8) rotate(-90)" font-size="10.2" text-anchor="middle" fill="#222" style="font-family:'Liberation Serif',serif">40&#176;N</text>
<text transform="translate(21.3,63.0) rotate(-90)" font-size="10.2" text-anchor="middle" fill="#222" style="font-family:'Liberation Serif',serif">50&#176;N</text>
<text transform="translate(433.2,63.0) rotate(-90)" font-size="10.2" text-anchor="middle" fill="#222" style="font-family:'Liberation Serif',serif">50&#176;N</text>
<text x="407" y="32.3" font-size="6.5" font-weight="bold" text-anchor="middle" fill="#1a1a1a" style="font-family:'Liberation Sans',sans-serif">N</text>
<path d="M406.5 34L402.4 48.6L407.2 44.2Z" fill="#111"/>
<path d="M406.5 34L411.1 48.8L407.2 44.2Z" fill="none" stroke="#222" stroke-width="0.7"/>
<text x="35.9" y="226.9" font-size="11.3" fill="#111" style="font-family:'Liberation Serif',serif">XCO<tspan font-size="7.4" dy="1.9">2ano</tspan><tspan dy="-1.9">(ppm)</tspan></text>
<rect x="30" y="235.2" width="28.4" height="13.7" fill="#0000fc" stroke="#8a8a8a" stroke-width="0.4"/>
<rect x="133.2" y="235.2" width="28" height="13.7" fill="#d2fa6e" stroke="#8a8a8a" stroke-width="0.4"/>
<text x="63.3" y="246.3" font-size="11.2" fill="#111" style="font-family:'Liberation Serif',serif">&#8722;1.55 &#8722; &#8722;0.57</text>
<text x="166.1" y="246.3" font-size="11.2" fill="#111" style="font-family:'Liberation Serif',serif">0.73 &#8722; 1.08</text>
<rect x="30" y="254.1" width="28.4" height="13.7" fill="#3b5efc" stroke="#8a8a8a" stroke-width="0.4"/>
<rect x="133.2" y="254.1" width="28" height="13.7" fill="#ffff00" stroke="#8a8a8a" stroke-width="0.4"/>
<text x="63.3" y="265.2" font-size="11.2" fill="#111" style="font-family:'Liberation Serif',serif"><tspan fill="#8a8a8a">&#8722;</tspan>0.56 <tspan fill="#c8c8c8">&#8722;</tspan> <tspan fill="#8a8a8a">&#8722;</tspan>0.16</text>
<text x="166.1" y="265.2" font-size="11.2" fill="#111" style="font-family:'Liberation Serif',serif">1.09 <tspan fill="#c8c8c8">&#8722;</tspan> 1.46</text>
<rect x="30" y="273.0" width="28.4" height="13.7" fill="#3aa8fc" stroke="#8a8a8a" stroke-width="0.4"/>
<rect x="133.2" y="273.0" width="28" height="13.7" fill="#ffb400" stroke="#8a8a8a" stroke-width="0.4"/>
<text x="63.3" y="284.1" font-size="11.2" fill="#111" style="font-family:'Liberation Serif',serif">&#8722;0.15 &#8722; 0.14</text>
<text x="166.1" y="284.1" font-size="11.2" fill="#111" style="font-family:'Liberation Serif',serif">1.47 &#8722; 1.85</text>
<rect x="30" y="291.9" width="28.4" height="13.7" fill="#00fcfc" stroke="#8a8a8a" stroke-width="0.4"/>
<rect x="133.2" y="291.9" width="28" height="13.7" fill="#ff6e00" stroke="#8a8a8a" stroke-width="0.4"/>
<text x="63.3" y="303.0" font-size="11.2" fill="#111" style="font-family:'Liberation Serif',serif">0.15 &#8722; 0.41</text>
<text x="166.1" y="303.0" font-size="11.2" fill="#111" style="font-family:'Liberation Serif',serif">1.86 &#8722; 2.28</text>
<rect x="30" y="310.8" width="28.4" height="13.7" fill="#96fbb4" stroke="#8a8a8a" stroke-width="0.4"/>
<rect x="133.2" y="310.8" width="28" height="13.7" fill="#ff0000" stroke="#8a8a8a" stroke-width="0.4"/>
<text x="63.3" y="321.9" font-size="11.2" fill="#111" style="font-family:'Liberation Serif',serif">0.42 <tspan fill="#c8c8c8">&#8722;</tspan> 0.72</text>
<text x="166.1" y="321.9" font-size="11.2" fill="#111" style="font-family:'Liberation Serif',serif">2.29 <tspan fill="#c8c8c8">&#8722;</tspan> 3.24</text>
<rect x="27.6" y="330.2" width="18.2" height="9" fill="#fff" stroke="#777" stroke-width="0.6"/>
<text x="49.6" y="338.6" font-size="10.9" fill="#111" style="font-family:'Liberation Serif',serif">National boundaries</text>
<rect x="148.2" y="330.2" width="17.8" height="9" fill="url(#hatch)" stroke="#777" stroke-width="0.6"/>
<text x="170" y="338.6" font-size="10.9" fill="#111" style="font-family:'Liberation Serif',serif">Background area</text>
<rect x="295.3" y="339.6" width="41.7" height="3.8" fill="#000"/>
<rect x="337" y="339.9" width="41.6" height="3.3" fill="#fff" stroke="#000" stroke-width="0.6"/>
<text x="295.8" y="334.9" font-size="10" text-anchor="middle" fill="#111" style="font-family:'Liberation Serif',serif">0</text>
<text x="337.2" y="334.9" font-size="10" text-anchor="middle" fill="#111" style="font-family:'Liberation Serif',serif">750</text>
<text x="368.9" y="334.9" font-size="10" fill="#111" style="font-family:'Liberation Serif',serif">1500 km</text>
<text transform="translate(221.9,388.1) scale(1,1.06)" font-size="19.5" text-anchor="middle" fill="#111" style="font-family:'Liberation Serif',serif">(<tspan font-weight="bold">j</tspan>) 2019</text>
<line x1="311.5" y1="251.5" x2="315.1" y2="246.6" stroke="#1a1a1a" stroke-width="0.9"/>
<line x1="250.0" y1="263.5" x2="253.7" y2="268.8" stroke="#1a1a1a" stroke-width="0.9"/>
<line x1="309.6" y1="264.1" x2="309.6" y2="270.3" stroke="#1a1a1a" stroke-width="0.9"/>
<line x1="254.4" y1="293.2" x2="256.6" y2="287.3" stroke="#1a1a1a" stroke-width="0.9"/>
<line x1="306.4" y1="295.0" x2="308.6" y2="289.2" stroke="#1a1a1a" stroke-width="0.9"/>
<line x1="288.4" y1="317.7" x2="292.5" y2="312.6" stroke="#1a1a1a" stroke-width="0.9"/>
<line x1="251.5" y1="315.9" x2="253.7" y2="315.1" stroke="#1a1a1a" stroke-width="0.9"/>
<line x1="263.5" y1="315.1" x2="264.6" y2="313.3" stroke="#1a1a1a" stroke-width="0.9"/>
<line x1="269.0" y1="327.6" x2="269.4" y2="326.1" stroke="#1a1a1a" stroke-width="0.9"/>
<line x1="264.3" y1="308.2" x2="272.0" y2="307.5" stroke="#1a1a1a" stroke-width="0.9"/>
<line x1="274.9" y1="306.4" x2="280.7" y2="308.5" stroke="#1a1a1a" stroke-width="0.9"/>
<line x1="277.8" y1="313.0" x2="277.8" y2="316.2" stroke="#1a1a1a" stroke-width="0.9"/>
<line x1="282.2" y1="311.8" x2="286.2" y2="310.4" stroke="#1a1a1a" stroke-width="0.9"/>
<line x1="276.4" y1="299.8" x2="277.8" y2="300.5" stroke="#1a1a1a" stroke-width="0.9"/>
<line x1="280.0" y1="302.0" x2="282.2" y2="301.2" stroke="#1a1a1a" stroke-width="0.9"/>
<line x1="279.3" y1="299.0" x2="282.2" y2="298.3" stroke="#1a1a1a" stroke-width="0.9"/>
<line x1="279.3" y1="294.6" x2="280.7" y2="295.4" stroke="#1a1a1a" stroke-width="0.9"/>
<line x1="283.7" y1="293.5" x2="284.4" y2="295.4" stroke="#1a1a1a" stroke-width="0.9"/>
<line x1="297.6" y1="296.5" x2="300.5" y2="296.5" stroke="#1a1a1a" stroke-width="0.9"/>
<line x1="296.1" y1="295.4" x2="296.6" y2="293.5" stroke="#1a1a1a" stroke-width="0.9"/>
<line x1="337.9" y1="203.2" x2="336.6" y2="204.5" stroke="#1a1a1a" stroke-width="0.9"/>
<line x1="332.2" y1="212.6" x2="330.3" y2="218.3" stroke="#1a1a1a" stroke-width="0.9"/>
<line x1="326.6" y1="229.6" x2="322.2" y2="234.6" stroke="#1a1a1a" stroke-width="0.9"/>
<line x1="311.5" y1="217.7" x2="312.3" y2="220.2" stroke="#1a1a1a" stroke-width="0.9"/>
<line x1="268.8" y1="325.8" x2="269.4" y2="327.9" stroke="#1a1a1a" stroke-width="0.9"/>
<ellipse cx="280.3" cy="265.1" rx="3.7" ry="1.3" transform="rotate(-25 280.3 265.1)" fill="none" stroke="#222" stroke-width="0.8"/>
<circle cx="263.6" cy="257.3" r="0.6" fill="#222"/>
<circle cx="265.7" cy="258.4" r="0.6" fill="#222"/>
<circle cx="269.9" cy="259.6" r="0.6" fill="#222"/>
<circle cx="263.1" cy="262.5" r="0.6" fill="#222"/>
<circle cx="264.6" cy="262.0" r="0.6" fill="#222"/>
<circle cx="269.4" cy="263.9" r="0.6" fill="#222"/>
<circle cx="301.3" cy="269.3" r="0.6" fill="#222"/>
<circle cx="295.5" cy="262.5" r="0.6" fill="#222"/>
<circle cx="295.8" cy="235.9" r="0.6" fill="#222"/>
<circle cx="324.0" cy="227.1" r="0.6" fill="#222"/>
<circle cx="255.1" cy="310.7" r="0.6" fill="#222"/>
<circle cx="257.0" cy="312.2" r="0.6" fill="#222"/>
<circle cx="257.3" cy="314.0" r="0.6" fill="#222"/>
<circle cx="282.2" cy="307.5" r="0.6" fill="#222"/>
<circle cx="274.2" cy="311.5" r="0.6" fill="#222"/>
<circle cx="272.0" cy="303.1" r="0.6" fill="#222"/>
<circle cx="280.4" cy="292.1" r="0.6" fill="#222"/>
<circle cx="286.6" cy="299.4" r="0.6" fill="#222"/>
<circle cx="289.2" cy="297.2" r="0.6" fill="#222"/>
<circle cx="292.1" cy="296.5" r="0.6" fill="#222"/>
<circle cx="293.9" cy="298.3" r="0.6" fill="#222"/>
<circle cx="287.3" cy="304.2" r="0.6" fill="#222"/>
<circle cx="290.3" cy="302.0" r="0.6" fill="#222"/>
<circle cx="293.9" cy="302.0" r="0.6" fill="#222"/>
<circle cx="296.1" cy="304.2" r="0.6" fill="#222"/>
<circle cx="292.5" cy="307.5" r="0.6" fill="#222"/>
<circle cx="293.9" cy="305.6" r="0.6" fill="#222"/>
<circle cx="301.6" cy="295.7" r="0.6" fill="#222"/>
<circle cx="284.5" cy="303.0" r="0.6" fill="#222"/>
<circle cx="288.5" cy="300.5" r="0.6" fill="#222"/>
</g>
</svg></body></html>
